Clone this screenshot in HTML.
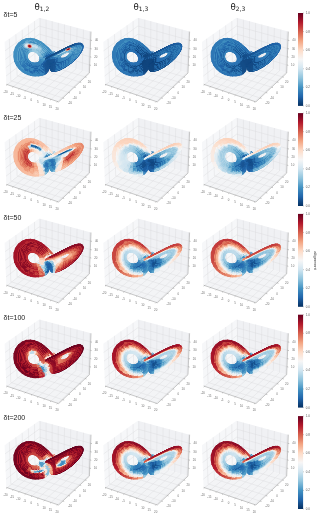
<!DOCTYPE html>
<html><head><meta charset="utf-8"><style>
html,body{margin:0;padding:0;background:#fff;width:320px;height:516px;overflow:hidden}
svg{display:block}
.pf{fill:#f3f4f6}
.pl{fill:#f6f7f9}
.pr{fill:#f0f1f4}
.gr{fill:none;stroke:#d8d9db;stroke-width:.4}
.ax{fill:none;stroke:#888;stroke-width:.45}
.tl text{font:2.9px "Liberation Sans",sans-serif;fill:#707070;text-anchor:middle}
.cbl text{font:2.9px "Liberation Sans",sans-serif;fill:#555}
.cbt{stroke:#333;stroke-width:.3}
.cblab{font:4.3px "Liberation Sans",sans-serif;fill:#333;text-anchor:middle}
.ttl{font:8.6px "DejaVu Sans",sans-serif;fill:#222;text-anchor:middle}
.sub{font-size:6px}
.rl{font:7px "Liberation Sans","DejaVu Sans",sans-serif;fill:#222}
</style></head><body>
<svg width="320" height="516" viewBox="0 0 320 516">
<path class="pf" d="M6.3 84.3L58.6 101.9L89.4 73L39.5 57.9Z"/>
<path class="pl" d="M6.3 84.3L39.5 57.9L39.2 17.7L4.6 42.1Z"/>
<path class="pr" d="M39.5 57.9L89.4 73L91 31.6L39.2 17.7Z"/>
<path class="gr" d="M7.3 84.6L40.4 58.1L40.1 18M13.3 86.7L46.2 59.9L46.1 19.6M19.4 88.7L52 61.7L52.2 21.2M25.6 90.8L57.9 63.5L58.3 22.9M31.9 92.9L63.9 65.3L64.5 24.5M38.2 95.1L69.9 67.1L70.7 26.2M44.6 97.2L76 68.9L77.1 27.9M51 99.4L82.2 70.8L83.5 29.6M57.6 101.6L88.4 72.7L89.9 31.4M62.8 98L10.8 80.7L9.3 38.8M68.6 92.5L17.1 75.7L15.9 34.2M74.3 87.2L23.2 70.8L22.2 29.7M79.8 82L29.2 66.1L28.4 25.3M85.2 76.9L35 61.5L34.5 21.1M6 76.1L39.4 50.1L89.7 65M5.7 67.8L39.4 42.2L90 56.8M5.3 59.4L39.3 34.1L90.3 48.6M5 50.8L39.2 26L90.6 40.2"/>
<path class="ax" d="M6.3 84.3L58.6 101.9M58.6 101.9L89.4 73M89.4 73L91 31.6M7.3 84.6L6.4 85.4M13.3 86.7L12.4 87.4M19.4 88.7L18.6 89.5M25.6 90.8L24.7 91.6M31.9 92.9L31 93.7M38.2 95.1L37.3 95.8M44.6 97.2L43.7 98M51 99.4L50.2 100.1M57.6 101.6L56.7 102.4M62.8 98L64.2 98.4M68.6 92.5L70 92.9M74.3 87.2L75.7 87.6M79.8 82L81.2 82.4M85.2 76.9L86.5 77.3M89.7 65L91 65.4M90 56.8L91.3 57.2M90.3 48.6L91.7 48.9M90.6 40.2L92 40.5"/>
<g class="tl"><text x="5.6" y="92.7">-20</text><text x="12" y="94.8">-15</text><text x="18.4" y="96.9">-10</text><text x="24.9" y="99.1">-5</text><text x="31.3" y="101.2">0</text><text x="37.7" y="103.3">5</text><text x="44.1" y="105.5">10</text><text x="50.6" y="107.6">15</text><text x="57" y="109.8">20</text><text x="70" y="104.2">-20</text><text x="74.8" y="99">-10</text><text x="79.7" y="93.7">0</text><text x="84.6" y="88.4">10</text><text x="89.4" y="83.1">20</text><text x="95.4" y="66.2">10</text><text x="95.8" y="57.9">20</text><text x="96.2" y="49.6">30</text><text x="96.6" y="41.2">40</text></g>
<path class="pf" d="M105 84.3L157.3 101.9L188 73L138.1 57.9Z"/>
<path class="pl" d="M105 84.3L138.1 57.9L137.8 17.7L103.3 42.1Z"/>
<path class="pr" d="M138.1 57.9L188 73L189.6 31.6L137.8 17.7Z"/>
<path class="gr" d="M105.9 84.6L139.1 58.1L138.8 18M112 86.7L144.9 59.9L144.8 19.6M118.1 88.7L150.7 61.7L150.8 21.2M124.3 90.8L156.6 63.5L157 22.9M130.5 92.9L162.6 65.3L163.1 24.5M136.8 95.1L168.6 67.1L169.4 26.2M143.2 97.2L174.7 68.9L175.7 27.9M149.7 99.4L180.8 70.8L182.1 29.6M156.2 101.6L187 72.7L188.6 31.4M161.5 98L109.5 80.7L108 38.8M167.3 92.5L115.7 75.7L114.5 34.2M173 87.2L121.9 70.8L120.9 29.7M178.5 82L127.8 66.1L127.1 25.3M183.9 76.9L133.6 61.5L133.1 21.1M104.6 76.1L138.1 50.1L188.3 65M104.3 67.8L138 42.2L188.7 56.8M104 59.4L138 34.1L189 48.6M103.6 50.8L137.9 26L189.3 40.2"/>
<path class="ax" d="M105 84.3L157.3 101.9M157.3 101.9L188 73M188 73L189.6 31.6M105.9 84.6L105 85.4M112 86.7L111.1 87.4M118.1 88.7L117.2 89.5M124.3 90.8L123.4 91.6M130.5 92.9L129.6 93.7M136.8 95.1L136 95.8M143.2 97.2L142.4 98M149.7 99.4L148.8 100.1M156.2 101.6L155.4 102.4M161.5 98L162.8 98.4M167.3 92.5L168.6 92.9M173 87.2L174.3 87.6M178.5 82L179.8 82.4M183.9 76.9L185.2 77.3M188.3 65L189.7 65.4M188.7 56.8L190 57.2M189 48.6L190.3 48.9M189.3 40.2L190.6 40.5"/>
<g class="tl"><text x="104.2" y="92.7">-20</text><text x="110.7" y="94.8">-15</text><text x="117.1" y="96.9">-10</text><text x="123.5" y="99.1">-5</text><text x="129.9" y="101.2">0</text><text x="136.4" y="103.3">5</text><text x="142.8" y="105.5">10</text><text x="149.2" y="107.6">15</text><text x="155.7" y="109.8">20</text><text x="168.7" y="104.2">-20</text><text x="173.5" y="99">-10</text><text x="178.4" y="93.7">0</text><text x="183.2" y="88.4">10</text><text x="188.1" y="83.1">20</text><text x="194.1" y="66.2">10</text><text x="194.4" y="57.9">20</text><text x="194.9" y="49.6">30</text><text x="195.2" y="41.2">40</text></g>
<path class="pf" d="M203.6 84.3L255.9 101.9L286.7 73L236.8 57.9Z"/>
<path class="pl" d="M203.6 84.3L236.8 57.9L236.5 17.7L201.9 42.1Z"/>
<path class="pr" d="M236.8 57.9L286.7 73L288.3 31.6L236.5 17.7Z"/>
<path class="gr" d="M204.6 84.6L237.7 58.1L237.4 18M210.6 86.7L243.5 59.9L243.4 19.6M216.7 88.7L249.3 61.7L249.5 21.2M222.9 90.8L255.2 63.5L255.6 22.9M229.2 92.9L261.2 65.3L261.8 24.5M235.5 95.1L267.2 67.1L268 26.2M241.9 97.2L273.3 68.9L274.4 27.9M248.3 99.4L279.5 70.8L280.8 29.6M254.9 101.6L285.7 72.7L287.2 31.4M260.1 98L208.1 80.7L206.6 38.8M265.9 92.5L214.4 75.7L213.2 34.2M271.6 87.2L220.5 70.8L219.5 29.7M277.1 82L226.5 66.1L225.7 25.3M282.5 76.9L232.3 61.5L231.8 21.1M203.3 76.1L236.7 50.1L287 65M203 67.8L236.7 42.2L287.3 56.8M202.6 59.4L236.6 34.1L287.6 48.6M202.3 50.8L236.5 26L287.9 40.2"/>
<path class="ax" d="M203.6 84.3L255.9 101.9M255.9 101.9L286.7 73M286.7 73L288.3 31.6M204.6 84.6L203.7 85.4M210.6 86.7L209.7 87.4M216.7 88.7L215.9 89.5M222.9 90.8L222 91.6M229.2 92.9L228.3 93.7M235.5 95.1L234.6 95.8M241.9 97.2L241 98M248.3 99.4L247.5 100.1M254.9 101.6L254 102.4M260.1 98L261.5 98.4M265.9 92.5L267.3 92.9M271.6 87.2L273 87.6M277.1 82L278.5 82.4M282.5 76.9L283.8 77.3M287 65L288.3 65.4M287.3 56.8L288.6 57.2M287.6 48.6L289 48.9M287.9 40.2L289.3 40.5"/>
<g class="tl"><text x="202.9" y="92.7">-20</text><text x="209.3" y="94.8">-15</text><text x="215.8" y="96.9">-10</text><text x="222.2" y="99.1">-5</text><text x="228.6" y="101.2">0</text><text x="235" y="103.3">5</text><text x="241.5" y="105.5">10</text><text x="247.9" y="107.6">15</text><text x="254.3" y="109.8">20</text><text x="267.3" y="104.2">-20</text><text x="272.1" y="99">-10</text><text x="277" y="93.7">0</text><text x="281.9" y="88.4">10</text><text x="286.7" y="83.1">20</text><text x="292.7" y="66.2">10</text><text x="293.1" y="57.9">20</text><text x="293.5" y="49.6">30</text><text x="293.9" y="41.2">40</text></g>
<path class="pf" d="M6.3 184.4L58.6 202L89.4 173.1L39.5 158Z"/>
<path class="pl" d="M6.3 184.4L39.5 158L39.2 117.8L4.6 142.2Z"/>
<path class="pr" d="M39.5 158L89.4 173.1L91 131.7L39.2 117.8Z"/>
<path class="gr" d="M7.3 184.7L40.4 158.2L40.1 118.1M13.3 186.8L46.2 160L46.1 119.7M19.4 188.8L52 161.8L52.2 121.3M25.6 190.9L57.9 163.6L58.3 123M31.9 193L63.9 165.4L64.5 124.6M38.2 195.2L69.9 167.2L70.7 126.3M44.6 197.3L76 169L77.1 128M51 199.5L82.2 170.9L83.5 129.7M57.6 201.7L88.4 172.8L89.9 131.5M62.8 198.1L10.8 180.8L9.3 138.9M68.6 192.6L17.1 175.8L15.9 134.3M74.3 187.3L23.2 170.9L22.2 129.8M79.8 182.1L29.2 166.2L28.4 125.4M85.2 177L35 161.6L34.5 121.2M6 176.2L39.4 150.2L89.7 165.1M5.7 167.9L39.4 142.3L90 156.9M5.3 159.5L39.3 134.2L90.3 148.7M5 150.9L39.2 126.1L90.6 140.3"/>
<path class="ax" d="M6.3 184.4L58.6 202M58.6 202L89.4 173.1M89.4 173.1L91 131.7M7.3 184.7L6.4 185.5M13.3 186.8L12.4 187.5M19.4 188.8L18.6 189.6M25.6 190.9L24.7 191.7M31.9 193L31 193.8M38.2 195.2L37.3 195.9M44.6 197.3L43.7 198.1M51 199.5L50.2 200.2M57.6 201.7L56.7 202.5M62.8 198.1L64.2 198.5M68.6 192.6L70 193M74.3 187.3L75.7 187.7M79.8 182.1L81.2 182.5M85.2 177L86.5 177.4M89.7 165.1L91 165.5M90 156.9L91.3 157.3M90.3 148.7L91.7 149M90.6 140.3L92 140.6"/>
<g class="tl"><text x="5.6" y="192.8">-20</text><text x="12" y="194.9">-15</text><text x="18.4" y="197">-10</text><text x="24.9" y="199.2">-5</text><text x="31.3" y="201.3">0</text><text x="37.7" y="203.4">5</text><text x="44.1" y="205.6">10</text><text x="50.6" y="207.7">15</text><text x="57" y="209.8">20</text><text x="70" y="204.3">-20</text><text x="74.8" y="199.1">-10</text><text x="79.7" y="193.8">0</text><text x="84.6" y="188.4">10</text><text x="89.4" y="183.2">20</text><text x="95.4" y="166.2">10</text><text x="95.8" y="157.9">20</text><text x="96.2" y="149.7">30</text><text x="96.6" y="141.3">40</text></g>
<path class="pf" d="M105 184.4L157.3 202L188 173.1L138.1 158Z"/>
<path class="pl" d="M105 184.4L138.1 158L137.8 117.8L103.3 142.2Z"/>
<path class="pr" d="M138.1 158L188 173.1L189.6 131.7L137.8 117.8Z"/>
<path class="gr" d="M105.9 184.7L139.1 158.2L138.8 118.1M112 186.8L144.9 160L144.8 119.7M118.1 188.8L150.7 161.8L150.8 121.3M124.3 190.9L156.6 163.6L157 123M130.5 193L162.6 165.4L163.1 124.6M136.8 195.2L168.6 167.2L169.4 126.3M143.2 197.3L174.7 169L175.7 128M149.7 199.5L180.8 170.9L182.1 129.7M156.2 201.7L187 172.8L188.6 131.5M161.5 198.1L109.5 180.8L108 138.9M167.3 192.6L115.7 175.8L114.5 134.3M173 187.3L121.9 170.9L120.9 129.8M178.5 182.1L127.8 166.2L127.1 125.4M183.9 177L133.6 161.6L133.1 121.2M104.6 176.2L138.1 150.2L188.3 165.1M104.3 167.9L138 142.3L188.7 156.9M104 159.5L138 134.2L189 148.7M103.6 150.9L137.9 126.1L189.3 140.3"/>
<path class="ax" d="M105 184.4L157.3 202M157.3 202L188 173.1M188 173.1L189.6 131.7M105.9 184.7L105 185.5M112 186.8L111.1 187.5M118.1 188.8L117.2 189.6M124.3 190.9L123.4 191.7M130.5 193L129.6 193.8M136.8 195.2L136 195.9M143.2 197.3L142.4 198.1M149.7 199.5L148.8 200.2M156.2 201.7L155.4 202.5M161.5 198.1L162.8 198.5M167.3 192.6L168.6 193M173 187.3L174.3 187.7M178.5 182.1L179.8 182.5M183.9 177L185.2 177.4M188.3 165.1L189.7 165.5M188.7 156.9L190 157.3M189 148.7L190.3 149M189.3 140.3L190.6 140.6"/>
<g class="tl"><text x="104.2" y="192.8">-20</text><text x="110.7" y="194.9">-15</text><text x="117.1" y="197">-10</text><text x="123.5" y="199.2">-5</text><text x="129.9" y="201.3">0</text><text x="136.4" y="203.4">5</text><text x="142.8" y="205.6">10</text><text x="149.2" y="207.7">15</text><text x="155.7" y="209.8">20</text><text x="168.7" y="204.3">-20</text><text x="173.5" y="199.1">-10</text><text x="178.4" y="193.8">0</text><text x="183.2" y="188.4">10</text><text x="188.1" y="183.2">20</text><text x="194.1" y="166.2">10</text><text x="194.4" y="157.9">20</text><text x="194.9" y="149.7">30</text><text x="195.2" y="141.3">40</text></g>
<path class="pf" d="M203.6 184.4L255.9 202L286.7 173.1L236.8 158Z"/>
<path class="pl" d="M203.6 184.4L236.8 158L236.5 117.8L201.9 142.2Z"/>
<path class="pr" d="M236.8 158L286.7 173.1L288.3 131.7L236.5 117.8Z"/>
<path class="gr" d="M204.6 184.7L237.7 158.2L237.4 118.1M210.6 186.8L243.5 160L243.4 119.7M216.7 188.8L249.3 161.8L249.5 121.3M222.9 190.9L255.2 163.6L255.6 123M229.2 193L261.2 165.4L261.8 124.6M235.5 195.2L267.2 167.2L268 126.3M241.9 197.3L273.3 169L274.4 128M248.3 199.5L279.5 170.9L280.8 129.7M254.9 201.7L285.7 172.8L287.2 131.5M260.1 198.1L208.1 180.8L206.6 138.9M265.9 192.6L214.4 175.8L213.2 134.3M271.6 187.3L220.5 170.9L219.5 129.8M277.1 182.1L226.5 166.2L225.7 125.4M282.5 177L232.3 161.6L231.8 121.2M203.3 176.2L236.7 150.2L287 165.1M203 167.9L236.7 142.3L287.3 156.9M202.6 159.5L236.6 134.2L287.6 148.7M202.3 150.9L236.5 126.1L287.9 140.3"/>
<path class="ax" d="M203.6 184.4L255.9 202M255.9 202L286.7 173.1M286.7 173.1L288.3 131.7M204.6 184.7L203.7 185.5M210.6 186.8L209.7 187.5M216.7 188.8L215.9 189.6M222.9 190.9L222 191.7M229.2 193L228.3 193.8M235.5 195.2L234.6 195.9M241.9 197.3L241 198.1M248.3 199.5L247.5 200.2M254.9 201.7L254 202.5M260.1 198.1L261.5 198.5M265.9 192.6L267.3 193M271.6 187.3L273 187.7M277.1 182.1L278.5 182.5M282.5 177L283.8 177.4M287 165.1L288.3 165.5M287.3 156.9L288.6 157.3M287.6 148.7L289 149M287.9 140.3L289.3 140.6"/>
<g class="tl"><text x="202.9" y="192.8">-20</text><text x="209.3" y="194.9">-15</text><text x="215.8" y="197">-10</text><text x="222.2" y="199.2">-5</text><text x="228.6" y="201.3">0</text><text x="235" y="203.4">5</text><text x="241.5" y="205.6">10</text><text x="247.9" y="207.7">15</text><text x="254.3" y="209.8">20</text><text x="267.3" y="204.3">-20</text><text x="272.1" y="199.1">-10</text><text x="277" y="193.8">0</text><text x="281.9" y="188.4">10</text><text x="286.7" y="183.2">20</text><text x="292.7" y="166.2">10</text><text x="293.1" y="157.9">20</text><text x="293.5" y="149.7">30</text><text x="293.9" y="141.3">40</text></g>
<path class="pf" d="M6.3 285.2L58.6 302.8L89.4 273.9L39.5 258.8Z"/>
<path class="pl" d="M6.3 285.2L39.5 258.8L39.2 218.6L4.6 243Z"/>
<path class="pr" d="M39.5 258.8L89.4 273.9L91 232.5L39.2 218.6Z"/>
<path class="gr" d="M7.3 285.5L40.4 259L40.1 218.9M13.3 287.6L46.2 260.8L46.1 220.5M19.4 289.6L52 262.6L52.2 222.1M25.6 291.7L57.9 264.4L58.3 223.8M31.9 293.8L63.9 266.2L64.5 225.4M38.2 296L69.9 268L70.7 227.1M44.6 298.1L76 269.8L77.1 228.8M51 300.3L82.2 271.7L83.5 230.5M57.6 302.5L88.4 273.6L89.9 232.3M62.8 298.9L10.8 281.6L9.3 239.7M68.6 293.4L17.1 276.6L15.9 235.1M74.3 288.1L23.2 271.7L22.2 230.6M79.8 282.9L29.2 267L28.4 226.2M85.2 277.8L35 262.4L34.5 222M6 277L39.4 251L89.7 265.9M5.7 268.7L39.4 243.1L90 257.7M5.3 260.3L39.3 235L90.3 249.5M5 251.7L39.2 226.9L90.6 241.1"/>
<path class="ax" d="M6.3 285.2L58.6 302.8M58.6 302.8L89.4 273.9M89.4 273.9L91 232.5M7.3 285.5L6.4 286.3M13.3 287.6L12.4 288.3M19.4 289.6L18.6 290.4M25.6 291.7L24.7 292.5M31.9 293.8L31 294.6M38.2 296L37.3 296.7M44.6 298.1L43.7 298.9M51 300.3L50.2 301M57.6 302.5L56.7 303.3M62.8 298.9L64.2 299.3M68.6 293.4L70 293.8M74.3 288.1L75.7 288.5M79.8 282.9L81.2 283.3M85.2 277.8L86.5 278.2M89.7 265.9L91 266.3M90 257.7L91.3 258.1M90.3 249.5L91.7 249.8M90.6 241.1L92 241.4"/>
<g class="tl"><text x="5.6" y="293.6">-20</text><text x="12" y="295.7">-15</text><text x="18.4" y="297.8">-10</text><text x="24.9" y="300">-5</text><text x="31.3" y="302.1">0</text><text x="37.7" y="304.2">5</text><text x="44.1" y="306.4">10</text><text x="50.6" y="308.5">15</text><text x="57" y="310.6">20</text><text x="70" y="305.1">-20</text><text x="74.8" y="299.9">-10</text><text x="79.7" y="294.6">0</text><text x="84.6" y="289.2">10</text><text x="89.4" y="284">20</text><text x="95.4" y="267.1">10</text><text x="95.8" y="258.8">20</text><text x="96.2" y="250.5">30</text><text x="96.6" y="242.2">40</text></g>
<path class="pf" d="M105 285.2L157.3 302.8L188 273.9L138.1 258.8Z"/>
<path class="pl" d="M105 285.2L138.1 258.8L137.8 218.6L103.3 243Z"/>
<path class="pr" d="M138.1 258.8L188 273.9L189.6 232.5L137.8 218.6Z"/>
<path class="gr" d="M105.9 285.5L139.1 259L138.8 218.9M112 287.6L144.9 260.8L144.8 220.5M118.1 289.6L150.7 262.6L150.8 222.1M124.3 291.7L156.6 264.4L157 223.8M130.5 293.8L162.6 266.2L163.1 225.4M136.8 296L168.6 268L169.4 227.1M143.2 298.1L174.7 269.8L175.7 228.8M149.7 300.3L180.8 271.7L182.1 230.5M156.2 302.5L187 273.6L188.6 232.3M161.5 298.9L109.5 281.6L108 239.7M167.3 293.4L115.7 276.6L114.5 235.1M173 288.1L121.9 271.7L120.9 230.6M178.5 282.9L127.8 267L127.1 226.2M183.9 277.8L133.6 262.4L133.1 222M104.6 277L138.1 251L188.3 265.9M104.3 268.7L138 243.1L188.7 257.7M104 260.3L138 235L189 249.5M103.6 251.7L137.9 226.9L189.3 241.1"/>
<path class="ax" d="M105 285.2L157.3 302.8M157.3 302.8L188 273.9M188 273.9L189.6 232.5M105.9 285.5L105 286.3M112 287.6L111.1 288.3M118.1 289.6L117.2 290.4M124.3 291.7L123.4 292.5M130.5 293.8L129.6 294.6M136.8 296L136 296.7M143.2 298.1L142.4 298.9M149.7 300.3L148.8 301M156.2 302.5L155.4 303.3M161.5 298.9L162.8 299.3M167.3 293.4L168.6 293.8M173 288.1L174.3 288.5M178.5 282.9L179.8 283.3M183.9 277.8L185.2 278.2M188.3 265.9L189.7 266.3M188.7 257.7L190 258.1M189 249.5L190.3 249.8M189.3 241.1L190.6 241.4"/>
<g class="tl"><text x="104.2" y="293.6">-20</text><text x="110.7" y="295.7">-15</text><text x="117.1" y="297.8">-10</text><text x="123.5" y="300">-5</text><text x="129.9" y="302.1">0</text><text x="136.4" y="304.2">5</text><text x="142.8" y="306.4">10</text><text x="149.2" y="308.5">15</text><text x="155.7" y="310.6">20</text><text x="168.7" y="305.1">-20</text><text x="173.5" y="299.9">-10</text><text x="178.4" y="294.6">0</text><text x="183.2" y="289.2">10</text><text x="188.1" y="284">20</text><text x="194.1" y="267.1">10</text><text x="194.4" y="258.8">20</text><text x="194.9" y="250.5">30</text><text x="195.2" y="242.2">40</text></g>
<path class="pf" d="M203.6 285.2L255.9 302.8L286.7 273.9L236.8 258.8Z"/>
<path class="pl" d="M203.6 285.2L236.8 258.8L236.5 218.6L201.9 243Z"/>
<path class="pr" d="M236.8 258.8L286.7 273.9L288.3 232.5L236.5 218.6Z"/>
<path class="gr" d="M204.6 285.5L237.7 259L237.4 218.9M210.6 287.6L243.5 260.8L243.4 220.5M216.7 289.6L249.3 262.6L249.5 222.1M222.9 291.7L255.2 264.4L255.6 223.8M229.2 293.8L261.2 266.2L261.8 225.4M235.5 296L267.2 268L268 227.1M241.9 298.1L273.3 269.8L274.4 228.8M248.3 300.3L279.5 271.7L280.8 230.5M254.9 302.5L285.7 273.6L287.2 232.3M260.1 298.9L208.1 281.6L206.6 239.7M265.9 293.4L214.4 276.6L213.2 235.1M271.6 288.1L220.5 271.7L219.5 230.6M277.1 282.9L226.5 267L225.7 226.2M282.5 277.8L232.3 262.4L231.8 222M203.3 277L236.7 251L287 265.9M203 268.7L236.7 243.1L287.3 257.7M202.6 260.3L236.6 235L287.6 249.5M202.3 251.7L236.5 226.9L287.9 241.1"/>
<path class="ax" d="M203.6 285.2L255.9 302.8M255.9 302.8L286.7 273.9M286.7 273.9L288.3 232.5M204.6 285.5L203.7 286.3M210.6 287.6L209.7 288.3M216.7 289.6L215.9 290.4M222.9 291.7L222 292.5M229.2 293.8L228.3 294.6M235.5 296L234.6 296.7M241.9 298.1L241 298.9M248.3 300.3L247.5 301M254.9 302.5L254 303.3M260.1 298.9L261.5 299.3M265.9 293.4L267.3 293.8M271.6 288.1L273 288.5M277.1 282.9L278.5 283.3M282.5 277.8L283.8 278.2M287 265.9L288.3 266.3M287.3 257.7L288.6 258.1M287.6 249.5L289 249.8M287.9 241.1L289.3 241.4"/>
<g class="tl"><text x="202.9" y="293.6">-20</text><text x="209.3" y="295.7">-15</text><text x="215.8" y="297.8">-10</text><text x="222.2" y="300">-5</text><text x="228.6" y="302.1">0</text><text x="235" y="304.2">5</text><text x="241.5" y="306.4">10</text><text x="247.9" y="308.5">15</text><text x="254.3" y="310.6">20</text><text x="267.3" y="305.1">-20</text><text x="272.1" y="299.9">-10</text><text x="277" y="294.6">0</text><text x="281.9" y="289.2">10</text><text x="286.7" y="284">20</text><text x="292.7" y="267.1">10</text><text x="293.1" y="258.8">20</text><text x="293.5" y="250.5">30</text><text x="293.9" y="242.2">40</text></g>
<path class="pf" d="M6.3 386L58.6 403.6L89.4 374.7L39.5 359.6Z"/>
<path class="pl" d="M6.3 386L39.5 359.6L39.2 319.4L4.6 343.8Z"/>
<path class="pr" d="M39.5 359.6L89.4 374.7L91 333.3L39.2 319.4Z"/>
<path class="gr" d="M7.3 386.3L40.4 359.8L40.1 319.7M13.3 388.4L46.2 361.6L46.1 321.3M19.4 390.4L52 363.4L52.2 322.9M25.6 392.5L57.9 365.2L58.3 324.6M31.9 394.6L63.9 367L64.5 326.2M38.2 396.8L69.9 368.8L70.7 327.9M44.6 398.9L76 370.6L77.1 329.6M51 401.1L82.2 372.5L83.5 331.3M57.6 403.3L88.4 374.4L89.9 333.1M62.8 399.7L10.8 382.4L9.3 340.5M68.6 394.2L17.1 377.4L15.9 335.9M74.3 388.9L23.2 372.5L22.2 331.4M79.8 383.7L29.2 367.8L28.4 327M85.2 378.6L35 363.2L34.5 322.8M6 377.8L39.4 351.8L89.7 366.7M5.7 369.5L39.4 343.9L90 358.5M5.3 361.1L39.3 335.8L90.3 350.3M5 352.5L39.2 327.7L90.6 341.9"/>
<path class="ax" d="M6.3 386L58.6 403.6M58.6 403.6L89.4 374.7M89.4 374.7L91 333.3M7.3 386.3L6.4 387.1M13.3 388.4L12.4 389.1M19.4 390.4L18.6 391.2M25.6 392.5L24.7 393.3M31.9 394.6L31 395.4M38.2 396.8L37.3 397.5M44.6 398.9L43.7 399.7M51 401.1L50.2 401.8M57.6 403.3L56.7 404.1M62.8 399.7L64.2 400.1M68.6 394.2L70 394.6M74.3 388.9L75.7 389.3M79.8 383.7L81.2 384.1M85.2 378.6L86.5 379M89.7 366.7L91 367.1M90 358.5L91.3 358.9M90.3 350.3L91.7 350.6M90.6 341.9L92 342.2"/>
<g class="tl"><text x="5.6" y="394.4">-20</text><text x="12" y="396.5">-15</text><text x="18.4" y="398.6">-10</text><text x="24.9" y="400.8">-5</text><text x="31.3" y="402.9">0</text><text x="37.7" y="405">5</text><text x="44.1" y="407.2">10</text><text x="50.6" y="409.3">15</text><text x="57" y="411.4">20</text><text x="70" y="405.9">-20</text><text x="74.8" y="400.6">-10</text><text x="79.7" y="395.4">0</text><text x="84.6" y="390.1">10</text><text x="89.4" y="384.8">20</text><text x="95.4" y="367.9">10</text><text x="95.8" y="359.6">20</text><text x="96.2" y="351.2">30</text><text x="96.6" y="342.9">40</text></g>
<path class="pf" d="M105 386L157.3 403.6L188 374.7L138.1 359.6Z"/>
<path class="pl" d="M105 386L138.1 359.6L137.8 319.4L103.3 343.8Z"/>
<path class="pr" d="M138.1 359.6L188 374.7L189.6 333.3L137.8 319.4Z"/>
<path class="gr" d="M105.9 386.3L139.1 359.8L138.8 319.7M112 388.4L144.9 361.6L144.8 321.3M118.1 390.4L150.7 363.4L150.8 322.9M124.3 392.5L156.6 365.2L157 324.6M130.5 394.6L162.6 367L163.1 326.2M136.8 396.8L168.6 368.8L169.4 327.9M143.2 398.9L174.7 370.6L175.7 329.6M149.7 401.1L180.8 372.5L182.1 331.3M156.2 403.3L187 374.4L188.6 333.1M161.5 399.7L109.5 382.4L108 340.5M167.3 394.2L115.7 377.4L114.5 335.9M173 388.9L121.9 372.5L120.9 331.4M178.5 383.7L127.8 367.8L127.1 327M183.9 378.6L133.6 363.2L133.1 322.8M104.6 377.8L138.1 351.8L188.3 366.7M104.3 369.5L138 343.9L188.7 358.5M104 361.1L138 335.8L189 350.3M103.6 352.5L137.9 327.7L189.3 341.9"/>
<path class="ax" d="M105 386L157.3 403.6M157.3 403.6L188 374.7M188 374.7L189.6 333.3M105.9 386.3L105 387.1M112 388.4L111.1 389.1M118.1 390.4L117.2 391.2M124.3 392.5L123.4 393.3M130.5 394.6L129.6 395.4M136.8 396.8L136 397.5M143.2 398.9L142.4 399.7M149.7 401.1L148.8 401.8M156.2 403.3L155.4 404.1M161.5 399.7L162.8 400.1M167.3 394.2L168.6 394.6M173 388.9L174.3 389.3M178.5 383.7L179.8 384.1M183.9 378.6L185.2 379M188.3 366.7L189.7 367.1M188.7 358.5L190 358.9M189 350.3L190.3 350.6M189.3 341.9L190.6 342.2"/>
<g class="tl"><text x="104.2" y="394.4">-20</text><text x="110.7" y="396.5">-15</text><text x="117.1" y="398.6">-10</text><text x="123.5" y="400.8">-5</text><text x="129.9" y="402.9">0</text><text x="136.4" y="405">5</text><text x="142.8" y="407.2">10</text><text x="149.2" y="409.3">15</text><text x="155.7" y="411.4">20</text><text x="168.7" y="405.9">-20</text><text x="173.5" y="400.6">-10</text><text x="178.4" y="395.4">0</text><text x="183.2" y="390.1">10</text><text x="188.1" y="384.8">20</text><text x="194.1" y="367.9">10</text><text x="194.4" y="359.6">20</text><text x="194.9" y="351.2">30</text><text x="195.2" y="342.9">40</text></g>
<path class="pf" d="M203.6 386L255.9 403.6L286.7 374.7L236.8 359.6Z"/>
<path class="pl" d="M203.6 386L236.8 359.6L236.5 319.4L201.9 343.8Z"/>
<path class="pr" d="M236.8 359.6L286.7 374.7L288.3 333.3L236.5 319.4Z"/>
<path class="gr" d="M204.6 386.3L237.7 359.8L237.4 319.7M210.6 388.4L243.5 361.6L243.4 321.3M216.7 390.4L249.3 363.4L249.5 322.9M222.9 392.5L255.2 365.2L255.6 324.6M229.2 394.6L261.2 367L261.8 326.2M235.5 396.8L267.2 368.8L268 327.9M241.9 398.9L273.3 370.6L274.4 329.6M248.3 401.1L279.5 372.5L280.8 331.3M254.9 403.3L285.7 374.4L287.2 333.1M260.1 399.7L208.1 382.4L206.6 340.5M265.9 394.2L214.4 377.4L213.2 335.9M271.6 388.9L220.5 372.5L219.5 331.4M277.1 383.7L226.5 367.8L225.7 327M282.5 378.6L232.3 363.2L231.8 322.8M203.3 377.8L236.7 351.8L287 366.7M203 369.5L236.7 343.9L287.3 358.5M202.6 361.1L236.6 335.8L287.6 350.3M202.3 352.5L236.5 327.7L287.9 341.9"/>
<path class="ax" d="M203.6 386L255.9 403.6M255.9 403.6L286.7 374.7M286.7 374.7L288.3 333.3M204.6 386.3L203.7 387.1M210.6 388.4L209.7 389.1M216.7 390.4L215.9 391.2M222.9 392.5L222 393.3M229.2 394.6L228.3 395.4M235.5 396.8L234.6 397.5M241.9 398.9L241 399.7M248.3 401.1L247.5 401.8M254.9 403.3L254 404.1M260.1 399.7L261.5 400.1M265.9 394.2L267.3 394.6M271.6 388.9L273 389.3M277.1 383.7L278.5 384.1M282.5 378.6L283.8 379M287 366.7L288.3 367.1M287.3 358.5L288.6 358.9M287.6 350.3L289 350.6M287.9 341.9L289.3 342.2"/>
<g class="tl"><text x="202.9" y="394.4">-20</text><text x="209.3" y="396.5">-15</text><text x="215.8" y="398.6">-10</text><text x="222.2" y="400.8">-5</text><text x="228.6" y="402.9">0</text><text x="235" y="405">5</text><text x="241.5" y="407.2">10</text><text x="247.9" y="409.3">15</text><text x="254.3" y="411.4">20</text><text x="267.3" y="405.9">-20</text><text x="272.1" y="400.6">-10</text><text x="277" y="395.4">0</text><text x="281.9" y="390.1">10</text><text x="286.7" y="384.8">20</text><text x="292.7" y="367.9">10</text><text x="293.1" y="359.6">20</text><text x="293.5" y="351.2">30</text><text x="293.9" y="342.9">40</text></g>
<path class="pf" d="M6.3 487.4L58.6 505L89.4 476.1L39.5 461Z"/>
<path class="pl" d="M6.3 487.4L39.5 461L39.2 420.8L4.6 445.2Z"/>
<path class="pr" d="M39.5 461L89.4 476.1L91 434.7L39.2 420.8Z"/>
<path class="gr" d="M7.3 487.7L40.4 461.2L40.1 421.1M13.3 489.8L46.2 463L46.1 422.7M19.4 491.8L52 464.8L52.2 424.3M25.6 493.9L57.9 466.6L58.3 426M31.9 496L63.9 468.4L64.5 427.6M38.2 498.2L69.9 470.2L70.7 429.3M44.6 500.3L76 472L77.1 431M51 502.5L82.2 473.9L83.5 432.7M57.6 504.7L88.4 475.8L89.9 434.5M62.8 501.1L10.8 483.8L9.3 441.9M68.6 495.6L17.1 478.8L15.9 437.3M74.3 490.3L23.2 473.9L22.2 432.8M79.8 485.1L29.2 469.2L28.4 428.4M85.2 480L35 464.6L34.5 424.2M6 479.2L39.4 453.2L89.7 468.1M5.7 470.9L39.4 445.3L90 459.9M5.3 462.5L39.3 437.2L90.3 451.7M5 453.9L39.2 429.1L90.6 443.3"/>
<path class="ax" d="M6.3 487.4L58.6 505M58.6 505L89.4 476.1M89.4 476.1L91 434.7M7.3 487.7L6.4 488.5M13.3 489.8L12.4 490.5M19.4 491.8L18.6 492.6M25.6 493.9L24.7 494.7M31.9 496L31 496.8M38.2 498.2L37.3 498.9M44.6 500.3L43.7 501.1M51 502.5L50.2 503.2M57.6 504.7L56.7 505.5M62.8 501.1L64.2 501.5M68.6 495.6L70 496M74.3 490.3L75.7 490.7M79.8 485.1L81.2 485.5M85.2 480L86.5 480.4M89.7 468.1L91 468.5M90 459.9L91.3 460.3M90.3 451.7L91.7 452M90.6 443.3L92 443.6"/>
<g class="tl"><text x="5.6" y="495.8">-20</text><text x="12" y="497.9">-15</text><text x="18.4" y="500">-10</text><text x="24.9" y="502.2">-5</text><text x="31.3" y="504.3">0</text><text x="37.7" y="506.4">5</text><text x="44.1" y="508.6">10</text><text x="50.6" y="510.7">15</text><text x="57" y="512.9">20</text><text x="70" y="507.4">-20</text><text x="74.8" y="502.1">-10</text><text x="79.7" y="496.8">0</text><text x="84.6" y="491.5">10</text><text x="89.4" y="486.2">20</text><text x="95.4" y="469.2">10</text><text x="95.8" y="461">20</text><text x="96.2" y="452.7">30</text><text x="96.6" y="444.4">40</text></g>
<path class="pf" d="M105 487.4L157.3 505L188 476.1L138.1 461Z"/>
<path class="pl" d="M105 487.4L138.1 461L137.8 420.8L103.3 445.2Z"/>
<path class="pr" d="M138.1 461L188 476.1L189.6 434.7L137.8 420.8Z"/>
<path class="gr" d="M105.9 487.7L139.1 461.2L138.8 421.1M112 489.8L144.9 463L144.8 422.7M118.1 491.8L150.7 464.8L150.8 424.3M124.3 493.9L156.6 466.6L157 426M130.5 496L162.6 468.4L163.1 427.6M136.8 498.2L168.6 470.2L169.4 429.3M143.2 500.3L174.7 472L175.7 431M149.7 502.5L180.8 473.9L182.1 432.7M156.2 504.7L187 475.8L188.6 434.5M161.5 501.1L109.5 483.8L108 441.9M167.3 495.6L115.7 478.8L114.5 437.3M173 490.3L121.9 473.9L120.9 432.8M178.5 485.1L127.8 469.2L127.1 428.4M183.9 480L133.6 464.6L133.1 424.2M104.6 479.2L138.1 453.2L188.3 468.1M104.3 470.9L138 445.3L188.7 459.9M104 462.5L138 437.2L189 451.7M103.6 453.9L137.9 429.1L189.3 443.3"/>
<path class="ax" d="M105 487.4L157.3 505M157.3 505L188 476.1M188 476.1L189.6 434.7M105.9 487.7L105 488.5M112 489.8L111.1 490.5M118.1 491.8L117.2 492.6M124.3 493.9L123.4 494.7M130.5 496L129.6 496.8M136.8 498.2L136 498.9M143.2 500.3L142.4 501.1M149.7 502.5L148.8 503.2M156.2 504.7L155.4 505.5M161.5 501.1L162.8 501.5M167.3 495.6L168.6 496M173 490.3L174.3 490.7M178.5 485.1L179.8 485.5M183.9 480L185.2 480.4M188.3 468.1L189.7 468.5M188.7 459.9L190 460.3M189 451.7L190.3 452M189.3 443.3L190.6 443.6"/>
<g class="tl"><text x="104.2" y="495.8">-20</text><text x="110.7" y="497.9">-15</text><text x="117.1" y="500">-10</text><text x="123.5" y="502.2">-5</text><text x="129.9" y="504.3">0</text><text x="136.4" y="506.4">5</text><text x="142.8" y="508.6">10</text><text x="149.2" y="510.7">15</text><text x="155.7" y="512.9">20</text><text x="168.7" y="507.4">-20</text><text x="173.5" y="502.1">-10</text><text x="178.4" y="496.8">0</text><text x="183.2" y="491.5">10</text><text x="188.1" y="486.2">20</text><text x="194.1" y="469.2">10</text><text x="194.4" y="461">20</text><text x="194.9" y="452.7">30</text><text x="195.2" y="444.4">40</text></g>
<path class="pf" d="M203.6 487.4L255.9 505L286.7 476.1L236.8 461Z"/>
<path class="pl" d="M203.6 487.4L236.8 461L236.5 420.8L201.9 445.2Z"/>
<path class="pr" d="M236.8 461L286.7 476.1L288.3 434.7L236.5 420.8Z"/>
<path class="gr" d="M204.6 487.7L237.7 461.2L237.4 421.1M210.6 489.8L243.5 463L243.4 422.7M216.7 491.8L249.3 464.8L249.5 424.3M222.9 493.9L255.2 466.6L255.6 426M229.2 496L261.2 468.4L261.8 427.6M235.5 498.2L267.2 470.2L268 429.3M241.9 500.3L273.3 472L274.4 431M248.3 502.5L279.5 473.9L280.8 432.7M254.9 504.7L285.7 475.8L287.2 434.5M260.1 501.1L208.1 483.8L206.6 441.9M265.9 495.6L214.4 478.8L213.2 437.3M271.6 490.3L220.5 473.9L219.5 432.8M277.1 485.1L226.5 469.2L225.7 428.4M282.5 480L232.3 464.6L231.8 424.2M203.3 479.2L236.7 453.2L287 468.1M203 470.9L236.7 445.3L287.3 459.9M202.6 462.5L236.6 437.2L287.6 451.7M202.3 453.9L236.5 429.1L287.9 443.3"/>
<path class="ax" d="M203.6 487.4L255.9 505M255.9 505L286.7 476.1M286.7 476.1L288.3 434.7M204.6 487.7L203.7 488.5M210.6 489.8L209.7 490.5M216.7 491.8L215.9 492.6M222.9 493.9L222 494.7M229.2 496L228.3 496.8M235.5 498.2L234.6 498.9M241.9 500.3L241 501.1M248.3 502.5L247.5 503.2M254.9 504.7L254 505.5M260.1 501.1L261.5 501.5M265.9 495.6L267.3 496M271.6 490.3L273 490.7M277.1 485.1L278.5 485.5M282.5 480L283.8 480.4M287 468.1L288.3 468.5M287.3 459.9L288.6 460.3M287.6 451.7L289 452M287.9 443.3L289.3 443.6"/>
<g class="tl"><text x="202.9" y="495.8">-20</text><text x="209.3" y="497.9">-15</text><text x="215.8" y="500">-10</text><text x="222.2" y="502.2">-5</text><text x="228.6" y="504.3">0</text><text x="235" y="506.4">5</text><text x="241.5" y="508.6">10</text><text x="247.9" y="510.7">15</text><text x="254.3" y="512.9">20</text><text x="267.3" y="507.4">-20</text><text x="272.1" y="502.1">-10</text><text x="277" y="496.8">0</text><text x="281.9" y="491.5">10</text><text x="286.7" y="486.2">20</text><text x="292.7" y="469.2">10</text><text x="293.1" y="461">20</text><text x="293.5" y="452.7">30</text><text x="293.9" y="444.4">40</text></g>
<defs><g id="A" transform="scale(.1)" fill="none" stroke-width="10" stroke-linecap="round" stroke-linejoin="round"><path stroke="var(--ke)" d="M651 663l47-33m-43 32l48-34m-53 35l47-32m-44 38l49-35m-62 33l21-13m23-16l25-19m-64 51l47-32m-39 28l49-34m-49 30l47-33m-62 49l46-31 26-20m-55 38l48-35m-63 38l45-30 24-19m-62 51l48-33m-52 32l46-31m-47 28l45-30"/><path stroke="var(--k0)" d="M698 630l25-21 25-25m-45 44l26-23 25-26m-57 52l25-22 26-24m-46 49l27-23 27-26m-64 53l52-45m-42 39l26-23 26-26m-54 46l26-22 25-25m-41 45l27-24 27-28m-61 55l27-23 26-26m-47 38l25-23m-37 31l25-21m-27 31l26-21 27-26m-59 48l51-44m-53 42l50-42"/><path stroke="var(--kd)" d="M650 654l44-30m-44 30l43-30m-41 31l45-31m-57 42l44-29 24-19m-61 41l45-30m-39 26l46-32m-55 38l44-29m-27 22l23-16m-44 29l44-29 24-19m-65 38l42-28m-36 24l43-29m-41 35l46-32m-16 4l22-18m-55 42l43-29"/><path stroke="var(--ks)" d="M595 691l56-28m-53 30l36-18 21-13m-60 30l55-29m-55 37l58-31m-65 23l15-6m18-9l19-10m-52 24l15-6m-13 13l55-28m-49 27l57-31m-56 26l56-30m-69 42l54-26m-41 18l58-31m-67 27l15-6m18-8l19-10m-49 31l56-29m-57 25l53-26m-53 23l15-7m18-8l19-11"/><path stroke="var(--jz)" d="M694 624l47-42m-48 42l47-42m-56 48l22-18m-9 12l48-44m-37 38l25-22m-41 33l48-43m-41 37l47-44m-48 38l45-42m-55 57l48-42m-27 29l25-23m-26 23l25-23m-48 33l46-39m-39 34l23-19m7 1l24-24m-25 13l22-22m-52 53l46-42m-17 12l22-22"/><path stroke="var(--kr)" d="M597 681l53-27m-53 27l53-27m-58 26l14-6m17-7l19-10m-44 26l54-28m-63 35l51-24m-46 19l53-26m-48 24l54-28m-61 31l52-25m-41 25l18-9m-18 8l37-18m-48 14l15-6m17-8l19-10m-46 22l52-26m-46 33l18-8m-11-7l17-8m-30 23l54-27m-56 22l53-26m-43 30l18-8"/><path stroke="var(--kc)" d="M639 653l40-26 21-16m-58 46l42-27m-37 18l41-28m-53 39l41-25 22-17m-51 32l42-28m-25 16l21-15m-43 29l40-26m-29 19l41-29m-55 37l39-25 22-17m-57 41l41-26m-38 28l42-28m-49 32l42-26m-44 26l40-25 22-17m-63 41l40-25 22-16"/><path stroke="var(--jm)" d="M748 584l24-27 20-29m-38 51l24-28m-30 34l23-28 20-28m-58 67l24-26m-17 16l23-25m-7 24l25-30m-47 41l24-25m-25 25l24-25m-13 22l25-28 22-30m-37 48l24-29m-27 28l23-28m-10 21l23-30m-31 36l24-29m-46 44l24-25 22-28m-32 47l25-28 21-30m-54 62l24-27 22-29m-49 56l24-26 21-28"/><path stroke="var(--jy)" d="M700 611l22-19m-16 20l23-21m-41 29l43-38m-51 43l22-17m-13 13l43-39m-47 40l43-37m-46 40l43-37m-31 27l43-40m-37 35l21-19m-6 14l23-22m-54 42l43-37m-39 37l45-39m-50 37l43-37m-36 31l21-18m-8 14l23-20m-27 22l22-20m-23 20l22-19m-32 21l21-17"/><path stroke="var(--kb)" d="M636 649l38-24 20-15m-60 38l38-22 20-15m-53 39l39-25m-28 16l40-27m-41 26l39-26m-47 36l39-25m-35 24l19-12m-19 4l18-11m-26 18l38-24 20-15m-32 23l19-14m-39 31l40-26m-33 21l40-27m-15 5l20-15m-47 35l39-26m-44 28l39-25m-34 25l40-27"/><path stroke="var(--kq)" d="M591 674l14-5m16-7l18-9m-33 21l17-7m-11-2l35-17m-45 27l33-16m-38 14l50-24m-51 23l31-14m-20 17l17-8m-31 6l15-6m16-7l18-9m-25 12l36-19m-62 29l15-5m15-7l18-9m-45 22l49-23m-48 26l15-6m17-8l19-10m-37 13l16-8m-35 22l49-23m-50 21l48-21m-48 20l47-21"/><path stroke="var(--l6)" d="M568 701l13-4m-49 13l26-4 40-13m-51 13l10-2m11-3l12-4m-43 20l30-7 28-10m-59 12l28-5 26-9m-52 15l30-6 28-10m-57 10l19-3m11-3l28-9m-65 25l27-5 25-8m-53 9l26-4 40-13m-61 18l28-6 27-9m-47 8l20-4 26-8"/><path stroke="var(--jx)" d="M694 610l41-38m-43 39l40-37m-54 51l42-35m-30 24l41-37m-43 37l40-36m-26 30l21-19m-40 27l20-16m-20 17l40-35m-28 27l21-18m-34 27l41-35m-12 16l21-20m-37 28l21-18m-29 27l41-36m-46 39l41-35m-14 16l21-20"/><path stroke="var(--jl)" d="M741 582l21-25 19-26m-41 51l22-24 18-26m-51 59l22-24 20-25m-26 38l22-25m-10 15l21-27m-15 18l19-27m-36 45l22-26m-32 37l23-25 20-27m-21 33l21-28m-22 28l21-27m-47 46l22-24 20-25m-14 17l18-25m-50 55l21-23m-15 21l21-24m-8 20l22-26m-42 37l22-23m-11 14l22-24 19-26"/><path stroke="var(--ka)" d="M638 645l37-23 20-15m-57 38l37-23m-32 18l37-24m-41 25l36-22m-30 21l38-24m-32 20l38-26m-26 20l20-13m-44 26l37-23m-32 23l19-11m-16 3l37-24m-39 27l38-24m-45 30l38-23m-38 24l37-23m-30 15l38-24m-22 14l18-13"/><path stroke="var(--kp)" d="M591 668l45-19m-18 7l16-8m-29 21l16-7m-24 9l15-6m-20 6l47-21m-38 15l49-24m-35 16l34-17m-56 32l48-22m-14 8l18-9m-54 18l14-4m15-7l17-8m-29 19l16-7m-13-1l33-16m-42 26l15-6m-11 5l15-7m-26 10l14-5m16-8l18-9m-43 19l50-24m-51 21l49-23m-37 18l32-16m-44 24l49-24"/><path stroke="var(--jw)" d="M678 614l18-15m-1 8l20-18m-40 33l41-33m-31 19l19-15m-24 23l40-33m-32 25l38-34m-51 45l39-32m-11 13l20-18m-34 28l39-35m-52 45l39-32m-25 18l19-16m-25 21l38-33m-39 36l38-34m-43 34l19-15m-21 22l40-32m-33 24l38-33m-42 34l39-32"/><path stroke="var(--l5)" d="M532 707l15-1 21-5m13-4l14-6m-45 5l10-1m11-3l13-4m-52 19l15-1m10-2l11-3m12-4l15-5m-59 10l27-4 26-8m-41 8l20-4 26-9m-43 11l10-1m11-3l12-4m-37 9l19-3 26-8m-56 17l27-3 25-8m-52 10l27-3 25-8m-56 17l7-1m19-3l11-3m-33 3l27-4 25-8m-39 8l21-4 27-10m-61 22l8-1m-7-3l27-4 26-8"/><path stroke="var(--k9)" d="M663 621l18-12m-39 28l36-23m-29 19l36-25m-47 32l35-22m-30 18l35-23m-27 20l37-25m-51 30l35-21 18-14m-56 37l34-20 19-14m-42 28l36-23m-24 15l18-12m-40 27l36-21 19-14m-45 29l36-24m-39 25l36-22m-26 15l36-24m-45 33l18-11"/><path stroke="var(--ko)" d="M593 664l45-19m-45 19l45-19m-35 17l15-6m-21 5l46-21m-42 23l14-6m8-8l16-8m-41 21l47-22m-28 13l34-17m-53 27l47-22m-40 22l15-7m-26 6l13-4m16-7l16-8m-42 21l14-5m4-8l15-7m-17 10l32-16m-52 26l45-20m-45 20l45-19m-25 8l32-16m-49 28l15-5m1-7l15-7"/><path stroke="var(--jk)" d="M722 592l21-22 19-23m-31 35l20-22 17-23m-25 38l20-24m-40 38l21-21m-12 14l21-22 17-24m-42 49l21-22 18-24m-42 49l21-22 18-23m-27 32l19-22m-35 38l21-21 19-23m-23 36l21-25m-11 7l19-24m-13 21l19-24m-47 48l21-22 18-23m-13 16l16-23m-20 36l20-24m-25 27l20-24m-21 25l20-24"/><path stroke="var(--l4)" d="M542 694l29-5 26-8m-55 12l29-4 26-8m-49 9l19-3 25-7m-50 17l8-1m10-1l11-3m13-4l14-5m-58 15l8 0m-6-1l9-1m10-1l11-3m12-4l15-5m-45 4l21-3 27-9m-63 23l8-1m-7-6l27-3 25-7m-41 9l20-3 26-8m-47 9l20-3 25-8m-62 24l16-1m-2-11l19-3 24-6m-35 6l21-4m-34 11l28-4 25-8"/><path stroke="var(--jv)" d="M681 609l37-32m-22 22l19-16m-11 10l19-18m-50 43l38-31m-33 26l38-31m-36 24l35-30m-43 39l36-29m-18 17l19-16m-22 19l37-33m-43 38l37-32m-43 35l37-30m-29 20l35-30m-9 16l18-18m-46 39l37-32m-21 20l18-17m-27 23l37-34"/><path stroke="var(--kn)" d="M598 656l44-19m-39 17l46-21m-55 25l44-18m-40 15l45-19m-39 19l47-22m-30 13l16-8m-43 22l29-11m-20 10l14-6m1-6l16-7m-20 9l31-15m-38 24l16-7m-18 4l30-14m-34 16l14-6m15-7l17-9m-33 15l31-15m-46 24l14-5m-15 2l44-20m-43 22l14-5m-15 5l14-5m15-7l16-8"/><path stroke="var(--k8)" d="M646 632l17-11m-21 9l33-21m-30 19l34-21m-37 23l34-21m-22 13l17-11m-25 18l34-23m-42 30l34-21m-25 11l34-22m-23 16l17-11m-27 18l34-23m-42 32l17-10m-9 1l35-23m-40 24l16-9m-23 15l33-20 18-13m-43 28l34-22m-25 16l17-11m-35 27l17-10"/><path stroke="var(--jj)" d="M735 572l18-21m-37 38l19-20m-3 5l18-21m-30 37l21-21 18-22m-28 30l19-21m-3 1l15-22m-18 33l18-23m-21 16l16-21m-34 42l19-20 16-22m-42 51l20-20 18-21m-31 33l19-20 17-22m-27 38l20-22m-36 32l19-20m-19 20l19-19m-7 10l19-22 16-22m-40 48l19-21 17-21m-29 38l20-22 17-22"/><path stroke="var(--ju)" d="M675 609l35-29m-31 27l35-30m-38 32l35-29m-23 18l18-14m-31 24l35-29m-29 25l34-29m-40 34l35-29m-28 24l35-30m-41 33l35-28m-24 22l17-15m-26 21l35-29m-43 34l35-27"/><path stroke="var(--l3)" d="M549 682l18-2 24-6m-51 16l8 0m5-9l19-2 25-8m-51 17l8-1m5-7l34-8m-49 11l28-3 25-7m-45 8l19-2 25-7m-46 9l19-2 24-6m-37 8l20-4 26-8m-44 12l33-8m-48 18l8-1m-9-7l27-2 25-7m-52 14l8 0m1-8l19-2 25-7m-21 5l12-3m-47 16l8 0m0-3l8 0m21-4l13-4m-42 7l18-2 24-6"/><path stroke="var(--j8)" d="M792 528l14-28m-28 51l19-29m-6 7l15-28m-28 42l17-27m-13 18l15-27m-16 48l21-31 14-30m-37 49l17-28m-18 29l17-28m-4 19l16-29m-29 48l21-30 14-29m-39 59l20-29m-7 20l20-31m-27 38l20-30m-20 21l17-28m-3 17l16-30m-24 36l17-29m-21 31l17-28"/><path stroke="var(--km)" d="M602 652l44-20m-33 11l29-13m-40 17l43-19m-45 20l42-18m-40 18l44-19m-51 24l43-17m-44 20l27-10m10-11l16-9m-43 27l14-6m-5-4l14-6m-27 17l14-5m4-8l30-14m-51 27l43-18m-36 11l44-20m-48 28l14-5m-6-4l28-12m-34 13l42-18m-38 22l29-12"/><path stroke="var(--k7)" d="M645 622l31-20m-38 28l32-20m-32 21l16-9m-12 6l33-20m-32 15l31-20m-34 24l32-20m-26 16l32-21m-36 27l16-9m-14 1l31-19m-35 24l32-20m-31 22l32-20m-35 20l32-19m-27 17l33-21m-36 20l32-19m-13 13l17-12m-39 25l16-9m-7-2l32-21m-41 27l31-18"/><path stroke="var(--ji)" d="M733 564l16-19m-34 44l37-40m-17 20l17-21m-32 35l18-19 17-21m-27 35l19-21m-33 30l35-39m-26 34l18-21m-13 14l18-21m-31 34l37-40m-30 30l18-20 15-20m-34 42l19-19 15-21m-20 29l17-21m-17 22l17-21m-31 31l18-20 16-20m-37 42l34-39"/><path stroke="var(--j7)" d="M771 542l15-25m-19 38l18-27m-17 25l18-27m-7 12l15-27m-21 30l15-26m-20 41l19-28m-19 18l15-26m-20 29l16-24m-17 25l16-24"/><path stroke="var(--l2)" d="M550 675l18-2 23-5m-31 3l10-2m-12 3l20-2 25-8m-58 19l8 0m-3-3l18-1 24-6m-36 4l20-3 25-7m-44 7l19-2 25-7m-51 17l9 0m-15 1l8 0m12-10l21-4m-26 7l32-7m-28 5l34-8m-50 17l9 0m-7 0l9 0m-14-1l7 0m-4-1l27-3m12-3l14-5m-40 3l10-1m-15 4l20-2 24-7m-36 8l33-8m-50 13l28-3 25-7"/><path stroke="var(--jt)" d="M676 602l32-27m-38 35l34-27m-33 28l17-13m-14 5l33-27m-28 23l16-13m-23 21l33-27m-27 22l33-28m-36 28l16-13m-19 17l33-26m-32 28l34-28m-37 29l33-27m-27 23l34-28m-38 29l33-26m-27 20l32-27m-42 36l33-26"/><path stroke="var(--jh)" d="M718 577l16-18m-19 24l18-19m-10 11l17-19m-29 31l35-38m-30 33l33-38m-23 30l17-20m-34 33l34-37m-19 23l17-19m-23 25l17-18m-5 5l15-19m-18 25l17-20m-26 27l18-18m-21 21l34-38m-24 27l16-18"/><path stroke="var(--kl)" d="M600 648l13-5m-16 3l41-16m-41 18l41-17m-38 15l42-18m-38 18l27-11m-31 8l40-16m-23 9l29-13m-46 24l13-4m14-6l15-8m-37 17l13-5m-5-3l13-5m-26 12l41-17m-43 16l40-16m-36 15l41-17m-42 21l42-19m-47 20l41-16"/><path stroke="var(--p2)" d="M515 704l17 3m-21-1l21 4m-17-6l17 3m-13-8l17 3m-9-5l6 1m-20 18l24 1m-19-16l18 2m-17-3l17 2m-23 8l23 2m-26-1l14 3 14-1m-22-8l16 3m-22 7l22 2m-22-7l21 3m-13-11l18 2m-14-5l11 2m-20 11l23 2m-23-9l23 3m-17-6l18 2"/><path stroke="var(--l1)" d="M560 670l33-6m-23 5l23-5m-29 4l33-7m-28 3l22-4m-29 6l32-6m-38 10l18-2 24-6m-39 6l19-2 25-7m-48 12l9 0m21-4l13-4m-48 11l9 0m3-5l32-7m-40 11l9-1m4-8l21-3m-23 6l34-8m-38 11l32-6m-23 6l23-6m-27 2l33-8m-45 15l9 0m2-8l10-2m11-2l12-3"/><path stroke="var(--k6)" d="M641 620l30-19m-24 18l32-20m-17 8l15-10m-31 22l30-19m-21 13l15-10m-37 24l46-28m-43 25l45-29m-44 29l30-17m-26 16l30-19m-27 17l31-20m-22 13l15-10m-27 15l15-8m-23 15l46-28m-44 26l45-28"/><path stroke="var(--l0)" d="M575 661l23-5m-29 6l34-8m-31 9l22-5m-19 3l23-6m-7 5l13-5m-32 5l22-4m-24 5l34-8m-27 7l23-6m-26 5l23-5m-27 9l35-8m-17 6l13-4m-24 4l23-6m-25 6l23-5m-27 4l22-4m-18 7l11-2"/><path stroke="var(--li)" d="M535 693l7 1m-7-1l7 0m-7 4l7 0m-9 1l7 0m-5-1l7 0m-10 1l7 0m-6-7l7 0m-5-1l8 1m-9 1l8 1"/><path stroke="var(--jg)" d="M710 580l16-17m-12 14l16-17m-19 20l16-17m-12 13l17-17m-24 27l33-36m-26 25l16-18m-21 23l16-17m-9 11l16-18m-21 28l18-18m-12 8l16-18m-30 30l33-34m-24 26l16-18m-24 25l17-17"/><path stroke="var(--j6)" d="M762 547l15-24m-14 28l17-25m-24 27l17-24m-12 18l15-24"/><path stroke="var(--kk)" d="M604 639l41-17m-38 15l40-18m-16 8l15-8m-43 21l40-17m-36 15l26-11m-23 9l27-12m-33 17l13-5m-4-1l28-12m-25 10l28-12m-40 17l40-17m-44 22l13-5m13-5l14-7m-40 15l40-16m-33 12l26-11m-27 12l40-17m-49 21l40-15"/><path stroke="var(--js)" d="M671 601l31-24m-23 22l31-27m-33 25l16-12m-17 15l32-27m-38 30l31-25m-6 8l16-15m-30 24l16-12m-30 24l32-25m-28 22l32-26m-28 23l31-26m-15 14l16-14m-39 29l31-24m-13 10l15-13m-22 21l32-27m-31 25l15-13"/><path stroke="var(--kz)" d="M578 658l24-6m-14-1l12-3m-10 2l12-3m-14 4l12-3m-14 2l11-2m-17 5l22-5m-18 8l11-3m-13-1l23-6m-24 7l23-6m-20 6l24-7m-18 5l12-4m-17 4l11-3m-3 8l13-5"/><path stroke="var(--jf)" d="M704 583l17-16m-15 17l16-17m-12 12l16-16m-21 17l16-16m-16 16l16-16m-14 16l16-16m-20 18l16-15m-9 10l15-16m-20 19l15-16m-9 15l16-17"/><path stroke="var(--je)" d="M701 583l15-15"/><path stroke="var(--or)" d="M506 714l7 2m-4-8l4 2m-6-1l3 2m-6 1l6 3m-1-4l4 1"/><path stroke="var(--lh)" d="M541 682l8 0m-16 7l7 1m-2-2l8 0m-3-7l7 0m-15 7l7 0m-9 0l6 1m0-3l8 0m-8-1l8 0"/><path stroke="var(--j5)" d="M753 551l15-22m-18 24l15-22m-15 25l16-23"/><path stroke="var(--k5)" d="M646 614l29-19m-42 29l29-17m-29 13l42-25m-33 20l28-18m-30 22l29-18m-29 20l15-8m-11 1l28-18m-32 24l29-18m-17 8l14-9m-25 16l29-18m-32 23l15-8m-10 5l30-19m-29 14l29-18m-17 15l15-10m-28 14l29-18m-37 22l43-26"/><path stroke="var(--p5)" d="M529 693l6 0m-6-1l6 1m-12 2l12 2m-14-1l6 1m-4-2l12 2m-9 0l6 1m-4-7l6 1"/><path stroke="var(--jr)" d="M669 601l15-11m-15 12l31-24m-34 23l15-11m-11 9l15-11m-12 12l15-12m-17 13l15-11m-14 7l15-11"/><path stroke="var(--kj)" d="M615 632l26-12m-21 9l13-5m-28 12l26-9m-5-2l14-6m-27 14l27-12m-30 14l26-11m-10 2l14-6m-28 14l26-12m-22 9l27-12m-29 12l27-12m-11 3l13-7m-22 15l14-6"/><path stroke="var(--ky)" d="M586 649l11-3m-8 3l11-3m-8 3l12-3m-11-2l11-3m-16 9l12-3m-12 1l12-3m-10 1l12-3m-13 7l12-3"/><path stroke="var(--lg)" d="M542 680l8 0m-8 1l7 0"/><path stroke="var(--k4)" d="M638 618l14-8"/><path stroke="var(--l2)" d="M548 675l8 0m-9-1l8 0"/><path stroke="var(--js)" d="M693 585l14-14m-19 17l15-13"/><path stroke="var(--kk)" d="M599 639l11-3m-9 3l12-4m-9 3l12-5"/><path stroke="var(--p2)" d="M511 702l4 2m-4-1l4 1m-4 0l5 1m-2-5l4 2m-4-1l5 1"/><path stroke="var(--l1)" d="M552 671l8-1m-8 1l8 0m-10 1l8 0m2-7l9-1m-20 8l8 0m4-8l9-1m-12 2l9-1m-15 7l9-1m-9 1l8 0"/><path stroke="var(--lh)" d="M535 681l6 1m-3-2l7 1m-8 2l7 0m-8-3l7 1m-7 2l6 0m-9 2l6 1m-6-2l6 1"/><path stroke="var(--jh)" d="M734 559l15-19m-17 19l13-18m-10 20l15-20m-14 20l15-20"/><path stroke="var(--l0)" d="M569 659l9-1m-21 5l18-2m-15 2l9-1m-15 1l18 0m-17 6l9-1m2-6l9-1m-23 3l8 1m3-4l9-1m-18 6l8 0m-11 2l8 0m2-7l9 0m-2 0l9-1m-12 0l9-1m-21 10l9 0m-9-5l8 0m6-2l10-1m-20 6l8 0m0-5l10-1m-18 5l9 0m-4-6l9 0m-14 5l8 0"/><path stroke="var(--j8)" d="M797 522l13-28m-16 31l13-28m0 17l11-29m-18 37l13-29"/><path stroke="var(--jr)" d="M675 595l28-24m-28 24l29-25m-19 17l14-13m-15 16l15-13m-12 6l14-12m-29 25l29-24m-20 18l14-12m-10 10l14-12m-34 24l28-22m-5 7l14-13m-15 14l14-13m-23 20l14-12m3 2l15-14"/><path stroke="var(--kj)" d="M603 635l12-3m17-11l14-7m-39 19l13-4m-12 0l12-4m-17 9l23-9m-24 12l11-4m-11 2l24-9m-25 5l11-3m-8 4l37-15m-41 20l12-3m-8 1l12-4m-13 4l11-4m-8-1l11-3m-7 2l12-4m-13 9l12-4"/><path stroke="var(--lg)" d="M543 674l7 1m-14 2l14 1m-9-4l7 1m-12 4l6 1m-5 1l7 0m-11-2l14 2m-12-1l7 1m-5-2l7 1m-4-2l7 1m-7-6l7 1m-8 3l7 1"/><path stroke="var(--k4)" d="M643 612l27-17m-28 16l27-16m-25 15l27-17m-30 17l26-15m-22 14l27-17m-27 19l28-17m-37 20l27-15m-13 7l14-9m-20 15l28-18m-35 22l28-16m-21 13l27-18m-30 15l27-16m-25 17l27-17"/><path stroke="var(--or)" d="M508 704l3 2m-15-1l10 9m-3-10l6 4m-8-4l6 5m1-7l3 2m-14 1l7 7m-3-8l9 6m-10-5l9 6m1-8l3 2"/><path stroke="var(--jg)" d="M726 563l15-18m-20 22l14-17m-5 10l14-18m-17 21l14-18m-19 22l15-17m-11 13l14-18m-9 12l13-17m-18 23l14-17m-13 16l14-18m-12 16l14-18m-21 26l15-17"/><path stroke="var(--kz)" d="M560 659l9 0m0-5l19-3m-27 2l29-3m-21 4l19-3m-22 1l20-2m-29 12l9 0m-5-8l19-1m-23 5l27-2m-29 4l8 1m8-9l21-3m-23 4l19-3m-29 11l9 0m4-7l10-2m-25 8l8 0m-2-5l18-2m-22 9l8 0m3-9l19-3m-32 12l8 0m0-7l19-2m-14 1l20-3m-24 2l19-2m-31 9l8 0"/><path stroke="var(--ki)" d="M607 626l36-14m-35 18l24-9m-25 4l35-14m-22 14l13-5m-28 9l37-14m-34 10l36-15m-36 16l37-15m-39 18l38-15m-42 12l22-7m-12 9l26-10m-35 7l10-3m-6 4l37-14m-43 17l36-13m-30 12l37-15m-37 16l37-15m-27 13l13-5m-8 3l13-6m-27 7l35-15"/><path stroke="var(--jq)" d="M670 595l27-22m-28 22l27-22m-26 24l15-10m-14 6l27-22m-17 14l13-12m-22 19l27-22m-26 24l14-11m-24 16l27-21m-12 10l13-11m-19 17l27-22m-28 23l28-23m-18 12l13-11m-21 23l15-11m-18 9l27-22"/><path stroke="var(--p5)" d="M511 684l7 5 11 4m-18-9l8 5 10 3m-19-13l4 3m13 6l6 1m-23 0l13 6m-12 0l8 4m-6-7l8 4m-10-7l12 6m9-8l6 1m-26 3l14 6m-16 0l8 4m-8-5l9 4m-9-20l4 3m4 3l15 5m-24-13l6 6m9 4l11 2m-25 8l4 2m15-13l6 1m-26 5l13 6m-8-13l14 5m-18 8l4 2"/><path stroke="var(--j7)" d="M781 531l13-26m-9 23l13-26m-3 14l10-26m-19 36l12-26m-2 15l11-26m-37 47l13-24m12 4l11-26m-9 25l11-27m-41 53l14-24m-8 21l14-25m0 15l14-27m-23 33l14-25"/><path stroke="var(--lf)" d="M536 673l7 1m2-4l7 1m-7-1l7 1m-16-1l14 2m-15 1l6 1m-6-4l14 2m-8-3l15 1m-15 0l14 1m-18 1l13 2m-4-5l7 0m-19 1l20 3m-21 4l7 1m5-8l7 1m-8-1l8 1m-18 1l6 1m-7-3l21 3m-21 3l6 1"/><path stroke="var(--jf)" d="M708 575l27-32m-14 18l13-16m-23 26l14-15m-4 8l14-16m-24 26l28-33m-21 22l13-15m-24 27l27-31m-13 20l13-17m-11 17l14-17m-18 20l14-17m-8 11l14-17m-19 20l13-16m-23 25l26-32m-20 27l14-16"/><path stroke="var(--ky)" d="M574 645l30-6m-44 15l9 0m-2-4l19-1m-25 5l8 0m-11-2l8 0m-5 0l28-3m-17-5l31-4m-18 3l11-2m-33 11l8 0m-9-4l17 0 21-5m-27 4l20-3m-32 9l8 0m-6 1l9 0m-2-7l30-4m-39 7l27-2m-19 0l29-4m-36 5l28-3m-20 0l30-5m-39 12l9 0m-8 1l8 0m-12-2l8 1m18-9l22-6m-38 7l29-3"/><path stroke="var(--je)" d="M716 562l12-15m-18 25l14-16m-17 15l14-15m-13 17l26-31m-33 36l27-30m-21 28l14-15m-24 22l28-30m-26 29l29-30m-25 26l15-15m-5-1l12-14m-19 27l27-31m-34 36l28-29m-10 10l12-16m-14 17l13-15m-17 24l14-16m-15 14l14-15"/><path stroke="var(--k3)" d="M642 609l27-16m-29 12l24-14m-26 17l25-14m-14 5l12-7m-24 19l26-15m-20 13l27-16m-18 5l12-8m-24 20l26-15m-31 15l25-14m-23 17l13-7m-7-2l25-15m-24 19l26-16m-29 15l25-15m-27 12l25-13m-26 20l26-15"/><path stroke="var(--j6)" d="M780 532l13-26m-16 17l10-22m-19 36l13-24m-1 13l11-24m-32 45l15-23m-12 21l15-24m-10 18l13-23m-16 27l14-23m-2 3l10-22m-9 32l14-25m-26 33l13-23m5 2l10-23m-14 28l11-24m-27 35l12-21m3 11l11-24m-22 34l12-23"/><path stroke="var(--kx)" d="M574 640l9-1m9-1l11-3m-37 10l8 0m-6-2l17-1 22-5m-30 2l19-3m-21 6l30-6m-32 5l29-4m-38 7l8 0m-4 0l17-1m11-2l11-3m-28 4l31-7m-40 8l29-4m-34 7l8 1m-1-3l29-5m-27 4l30-5m-39 5l17 0 22-5m-42 9l8 0m2-6l28-4m-38 8l8 1m5-6l9-1m-11 0l19-2m-25 5l18 0 22-5m-40 8l17-1m-6-3l31-7"/><path stroke="var(--kh)" d="M608 623l34-14m-37 11l33-12m-34 15l33-12m-29 13l35-15m-37 15l35-14m-31 14l35-15m-39 14l34-13m-16 9l12-5m-23 4l22-8m-22 12l24-9m-6-4l12-5m-37 19l35-13m-32 13l35-15m-36 13l33-14m-37 17l34-13"/><path stroke="var(--le)" d="M549 662l8 1m-19 6l7 1m-7-1l7 1m0-9l15 2m-13 0l7 0m-19 2l20 4m-10-6l7 1m-12 0l14 2m-19 1l6 2m-4-4l14 3m-16 0l6 2m-2-3l7 2m0-6l7 1m-9 0l14 1m-22-2l21 4m-18 2l6 1m-7-1l6 1m-8-7l21 3m-8-2l8 1"/><path stroke="var(--jp)" d="M669 593l26-21m-19 10l12-10m-25 22l26-20m-26 22l26-20m-29 16l12-8m-2 9l26-22m-29 24l14-10m-15 10l26-21m-32 22l26-19m-22 20l14-9m2-8l12-11m-24 25l13-10m-11 8l26-21m-30 21l26-20m-16 10l12-10m-24 24l27-21"/><path stroke="var(--j5)" d="M768 529l10-22m-26 42l14-21m-14 20l14-21m-1 4l11-21m-2 14l9-22m-17 31l11-21m0 9l9-22m-29 41l13-21m-24 35l15-21m-3 7l13-21m-17 31l15-23 9-21m-19 35l12-21m2 9l11-23m-16 28l12-23m-28 37l14-21m-14 22l15-22m-8 15l13-22"/><path stroke="var(--jd)" d="M702 577l14-15m-13 9l24-28m-23 27l13-13m-5 4l11-14m-24 30l26-28m-12 8l11-13m-23 28l25-27m-26 33l26-29m-31 29l26-27m-22 25l14-14m-1-3l11-13m-20 29l14-14m-15 11l24-28m-25 33l14-15m-14 11l25-28m-34 36l27-27"/><path stroke="var(--j4)" d="M749 545l12-20m5 3l9-21m-9 20l10-21m-36 50l14-19m-8 12l13-20m-4 14l12-21m-24 32l14-20m5 1l12-21m-25 34l14-21m-2 6l10-20m-19 35l13-22 9-20m-30 46l14-20m-3 6l11-20m-11 22l12-20m-18 24l12-19m5 2l9-21m-8 21l9-21m-21 34l12-20m-15 23l12-20"/><path stroke="var(--kw)" d="M583 639l9-1m-21-3l17 0 20-5m-40 8l9 1m19-3l11-3m-37 0l17 0 21-4m-42 12l9 1m1-9l29-4m-31 9l29-4m-33 8l9 0m9-12l9-1m-20 4l29-4m-32 10l28-4m-29-1l28-3m-25 5l28-4m-38 11l8 0m8-11l19-3m-22 3l9 0m9-2l10-2m-40 11l8 1m9-1l20-4m-27-2l30-4m-15 8l11-2m-35-1l17 0 21-4m-33 5l17-1 20-5m-40 12l8 0"/><path stroke="var(--ld)" d="M553 659l7 0m-23 0l12 3m-10-2l6 1m9-9l7 1m-26 6l12 4m-10-6l20 5m-3-8l7 0m-12 3l8 1m-18 4l6 1m-4-5l14 2m-20 2l5 2m-6-9l12 5 15 1m-16-2l14 2m-10-2l8 1m-2-5l8 0m-29 4l12 4m-8-1l6 2m-6-5l21 3m-22-3l20 3m-7-9l15 2m-18 4l7 1m-17 1l12 3"/><path stroke="var(--j3)" d="M749 540l11-19m-6 16l11-20m-21 25l10-18m-5 20l12-20m-16 17l11-18m-15 27l13-19m3 3l10-19m-24 35l13-19m-15 23l14-19 9-20m-14 26l11-19m-16 25l12-19m-23 28l13-18m11-6l10-19m-17 28l11-20m-25 31l12-18m-6 8l11-17m-13 28l14-20 9-19"/><path stroke="var(--p4)" d="M522 666l14 7m-12-11l14 7m-15-8l15 8m-17-6l15 7m-24-2l12 9 11 4m-21 1l13 6m-13-19l12 8 12 3m-12-20l9 5m-25 10l11 8 11 4m-15-20l8 6 11 4m-15-11l14 7m-14-10l14 7m-22-4l12 9 11 4m-11-17l10 5m-13-10l15 8m-23 7l12 8 11 3m-23-14l12 8 11 4m-12-17l10 4m-18-7l9 7 11 4m-23 11l4 3m-5-18l12 9 11 3m-12-20l15 7m-15-2l10 5m-23-4l12 9 10 4m-20-11l11 8 11 4m-20 4l9 4m-11-16l12 8 11 3m-27-9l10 9 10 4m-16-20l12 9 12 3m-21-12l7 6 10 4m-23 0l12 8 11 3m-23-15l12 9 11 3m-2-24l5 2m-12-1l15 7m-16-8l15 8m-18-5l14 8m-23 11l3 3m10-20l9 4m-22 2l11 8 11 4m-17-18l7 6 10 4"/><path stroke="var(--ot)" d="M502 674l9 10m-16-2l7 13 9 7m-6-24l6 6m-11-8l10 13m-17-6l7 14 8 7m-13-22l7 13 9 8m-13-23l7 10 6 5m-12-19l7 11 7 5m-13-15l11 12m-21 0l6 16m3-30l7 11 6 5m-14-8l6 9 6 5m-12-16l6 10 6 5m-18-11l4 11 7 8m4-27l3 3m-19 5l4 11 6 8m-6-20l5 10 8 8m-19-17l8 20m-6-20l4 11 6 8m-5-24l5 10 9 8m-11-17l10 12m-18-7l4 10 5 9m5-29l6 7m-17 0l7 13 9 7m-14-22l6 10 8 8"/><path stroke="var(--jc)" d="M695 572l22-25m-20 26l23-26m-24 26l23-25m-20 26l13-13m-4-2l10-13m-20 25l23-26m-27 28l23-25m-18 22l22-26m-20 27l12-14m-23 21l25-25m-24 24l24-25m-16 20l24-27m-30 33l26-26m-20 20l13-13m-18 14l23-25m-20 24l23-26m-29 29l13-11"/><path stroke="var(--og)" d="M460 713l-7 7m2-4l-4 4m23-11l-8 17-16 15m17-28l-15 17m15-17l-14 17m16-18l-6 10-10 10"/><path stroke="var(--k2)" d="M635 605l23-12m-22 9l21-12m-20 15l12-6m4-9l10-6m-23 19l23-14m-22 8l21-12m-25 20l23-13m-24 9l21-11m-16 14l11-6m-5-4l10-6m-13 13l23-14m-28 10l22-12m-25 20l23-13m-7-3l11-7m-22 19l23-14"/><path stroke="var(--j2)" d="M741 545l11-17m-17 22l12-17m-6 12l11-18m-15 23l12-18m-9 13l11-17m-7 12l10-18m-14 24l11-18m-18 28l13-18 10-17m-9 17l10-18m-20 27l11-17m-7 14l11-18m-15 25l12-18"/><path stroke="var(--kv)" d="M598 625l10-2m-28 7l27-4m-27 3l27-4m-12 0l9-2m-23 5l27-4m-29 4l29-3m-30 1l28-2m-24 5l28-5m-39 6l17 0m9-1l11-3m-39 7l8 0m19-8l10-2m-31 4l27-1m-9-4l20-4m-37 9l27-2m-32 4l16 1 20-4m-33 6l8 0m6 0l9-2m-18-4l27-3m-7 2l10-2m-39 10l7 0m3-3l28-4m-31 0l27-2"/><path stroke="var(--lc)" d="M540 655l13 4m-6-8l13 3m-8-6l15 2m-26-2l13 4m-13-3l20 5m-10-4l7 2m-4-1l7 1m-20-2l13 4m-16-1l11 4m-14-2l6 3m7-8l15 2m-9 0l7 1m-22 4l6 2m-2-9l20 4m-26 1l12 4m-6-8l12 4m-1-6l7 1m0-2l8 0m-14 0l7 1m-8 3l7 1m-17-1l6 1m-8-3l20 4m-18-5l14 3m-23 3l12 4"/><path stroke="var(--kg)" d="M613 612l22-7m-19 4l20-7m-28 16l32-13m-34 11l31-11m-28 9l31-11m-29 4l30-10m-25 17l21-9m-21 4l20-8m-27 16l32-13m-29 10l32-13m-34 16l21-8m-12-4l10-4m-14 12l21-8m-25 8l30-12m-34 15l32-12"/><path stroke="var(--jo)" d="M658 593l24-18m-25 15l22-16m-15 17l12-9m-15 10l24-18m-22 15l23-18m-24 14l21-17m-11 16l12-9m-27 15l22-16m-15 16l24-18m-31 16l11-7m-1 6l23-19m-22 21l12-9m-19 5l21-16m-23 23l24-17m-19 12l22-17m-22 21l12-9"/><path stroke="var(--iu)" d="M807 506l9-27m-6 23l8-27m-15 34l9-26m-13 29l9-26"/><path stroke="var(--j1)" d="M734 545l10-16m-19 27l12-16m-2 8l11-17m-12 16l11-16m-12 19l11-17m-5 11l10-17m-16 21l11-17m-19 24l12-16m-7 13l12-17"/><path stroke="var(--jb)" d="M688 572l11-10m-10 12l22-23m-26 23l11-11m-7 13l23-24m-16 19l12-12m-20 13l11-11m-7 13l23-24m-29 27l23-23m-17 15l11-11m-7 13l12-12m-16 13l11-11m-15 11l11-11m5 3l11-13"/><path stroke="var(--o2)" d="M453 720l-14 10m11 11l-18 9m20-20l-22 13m23-13l-22 13m22-11l-22 13"/><path stroke="var(--j0)" d="M724 556l12-16m-15 16l11-15m-4 7l10-15m-13 20l11-15m-8 14l11-16m-8 12l11-16m-15 19l10-16m-9 12l10-15m-14 22l11-15"/><path stroke="var(--lb)" d="M559 644l7 1m-21 1l7 2m9-5l7 0m-29 3l12 4m-3-1l6 2m-4-10l14 3m-4 0l8 0m-26 4l6 2m15-7l7 0m-21 2l13 3m-12-4l15 2m-18 4l7 2m3-10l15 2m-14-2l7 1m-16 2l13 2m-14 1l6 1m0-2l7 1m-13-2l7 2m-7-6l14 3m-14 5l6 2m6-11l7 1m-28 4l5 3m16-5l7 1m-20-4l21 4"/><path stroke="var(--it)" d="M786 517l9-24m-1 18l9-24m-15 28l8-24"/><path stroke="var(--ja)" d="M682 575l11-10m-7 6l10-10m-12 14l11-11m-12 11l11-10"/><path stroke="var(--ku)" d="M595 616l18-4m-32 15l17-2m1-6l9-1m-21 4l18-2m-9-3l10-1m-5 0l8-2m-22 12l8-1m3-7l18-4m-16 5l9-2m-6-1l9-2m-24 12l8-1m-12-3l9 0m-2-2l19-3m-4-1l9-3m-33 14l17-2m-9-1l18-3m-19-3l18-2"/><path stroke="var(--la)" d="M560 639l14 1m-13-3l7 1m-16 0l14 3m1-4l7 1m-15 1l14 2m-19 1l6 2m3-3l7 1m-14 0l7 1m3-4l8 0m-8-6l7 1m-5 2l8 0m-17 6l7 1m-15-3l7 2m6-1l8 0m-11-3l6 1m-9-3l15 3m-12-7l7 2m-15 6l7 1m-7 1l7 2m3-4l7 1"/><path stroke="var(--oi)" d="M462 709l-2 4m17-18l-3 14m-2-7l-5 11m6-15l-6 15m7-16l-5 15"/><path stroke="var(--ad)" d="M432 750l-17 5m16-12l-8 3m8-1l-8 3"/><path stroke="var(--k1)" d="M645 593l10-6m-13 9l11-6m-17 10l11-6m-15 5l20-10"/><path stroke="var(--p3)" d="M532 656l5 3m-3-2l5 3m-9-4l5 3m-3-4l5 2m-8 0l10 5m-9-10l5 3m-5 5l5 2m-6-10l5 3m0 0l5 2m-7-5l5 3m-8 1l5 3m-1 1l5 2m-5-6l5 3m-12-1l5 3m1-5l5 3m-11-2l10 6m-6-12l5 4m-3 4l5 2"/><path stroke="var(--kf)" d="M623 605l19-9m-15 8l9-4m-7 1l10-4m-17 5l10-3"/><path stroke="var(--iz)" d="M717 557l11-15m-2 7l10-15m-15 17l10-14m-12 17l10-14"/><path stroke="var(--os)" d="M503 675l2 3m0-6l5 7m-3-8l3 4m-6-1l3 3m-1-2l3 3m-2-4l3 3m-3-7l3 3m-8 0l3 3m3-8l3 4"/><path stroke="var(--jn)" d="M663 584l11-8m-6 5l10-8m-15 9l10-7"/><path stroke="var(--l9)" d="M563 632l7 1m-2-1l8 1m-4-6l7 1m-17 3l7 2m-3-2l8 1m-2 0l7 0m-17-1l8 2"/><path stroke="var(--is)" d="M778 520l9-23m-6 20l8-22"/><path stroke="var(--kg)" d="M617 607l10-3m-17 3l9-2"/><path stroke="var(--j4)" d="M763 527l8-19"/><path stroke="var(--j3)" d="M759 529l9-19m-12 21l9-19m-8 16l8-19"/><path stroke="var(--jb)" d="M699 562l10-12m-13 13l10-11m-11 12l9-10m-5 7l10-11m-6 8l10-12m-5 13l10-13m-15 15l10-12m-14 12l9-11"/><path stroke="var(--lc)" d="M535 653l5 2m-3-9l10 5m-10-4l4 2m-5-2l5 3m-4-4l5 2m-4 1l5 2m-4-2l5 3m-7-5l5 3m-8-7l5 3"/><path stroke="var(--ku)" d="M580 615l15 1m-3-3l24-4m-32 11l15-1m-20 2l8 1m-7-5l16 0m-10 0l15-1m-22 10l8 0m-4-8l15 0m10-7l8-2m-32 11l16-1m-13-1l16-2m-23 11l8-1m-11-4l7 0m-1-3l8 1m-1-2l16-2m-19 0l24-3m-29 11l8 0m-9-6l8 0"/><path stroke="var(--p3)" d="M528 653l4 3m-15-1l3 3m6-7l8 6m-9-5l5 4m-11-2l7 6m1-9l5 4m1-4l5 2m-13 1l4 3m-7-3l8 6m-11-7l3 4m7-5l5 3m-16-2l3 4m3-5l5 4m-5-2l9 6m-4-7l4 3m-11-2l4 4m2-5l4 3m-10-2l4 3m-3-4l9 6"/><path stroke="var(--lb)" d="M552 643l7 1m-24-4l10 6m-9 0l5 2m-7-6l5 4m-1-1l10 4m-9-14l5 3m-7 7l5 3m-3-8l10 5m-15-11l16 10m-8 4l5 2m-9-2l5 2m-3-10l9 5m-11-2l10 5m-10-8l16 7m-17-7l11 6m-11-10l11 6m-11 4l11 4m-12-16l11 7"/><path stroke="var(--o2)" d="M439 730l-7 4m15-16l-18 11m22-9l-23 14m4-13l-7 3m16-7l-12 7m7-5l-6 3m17-5l-17 11m6-9l-6 4m21-6l-22 14m12-14l-12 7m25-8l-14 11-14 7m17-18l-12 8"/><path stroke="var(--j2)" d="M747 533l8-17m-6 16l8-17m-3 16l9-18m-14 21l9-18m-9 17l8-17"/><path stroke="var(--p4)" d="M512 655l10 11m-2-8l4 4m-9-8l8 7m-9-6l7 8m-11 2l4 4m-4-10l7 8m-6-12l10 11m-6-10l6 7m-11 0l3 3m5-10l7 6m-17 3l6 7m-6-10l6 7m1-16l10 11m-14-11l6 8m-8 3l4 4m8-11l3 3m-10-5l10 10m-16-5l5 8m-6-4l6 8m-3-9l3 4m-5-11l8 11m1-12l7 7m-9-8l8 7m-10-5l7 8m-6-8l10 10m-14-8l6 8"/><path stroke="var(--ja)" d="M693 565l10-10m-29 18l10-8m-5 9l19-19m-14 12l17-18m-5 12l9-10m-22 17l18-18m-22 24l19-19m-20 18l19-19m-7 14l19-21m-27 22l18-18m-6 14l9-11m-20 12l9-8m-6 12l19-21"/><path stroke="var(--j0)" d="M728 547l10-15m-2 8l9-15m-13 16l9-15m-7 16l9-15m-5 6l7-14m-9 19l8-16m-5 14l8-16m-14 24l10-15m-9 15l10-16m-7 7l8-15m-16 25l10-15m-2 9l8-15m-10 15l8-15"/><path stroke="var(--os)" d="M500 671l2 3m-1-3l2 4m1-19l8 12m-10 0l3 4m0-15l5 8m-8-2l5 8m0-16l3 4m-6-5l6 9m-6-6l4 8m-2-7l2 4m-6 8l2 4m0-18l5 8m-3-7l5 9m-5-10l2 4m-4 11l2 4m-3-19l4 8m-3 3l5 7m-4-20l5 9m-8 3l5 8m-7-17l2 4m3 5l2 4m-7-1l2 4m-1-18l2 5m2 4l3 4"/><path stroke="var(--k1)" d="M639 579l14-7m-14 12l14-8m-18 12l16-8m-13 9l17-9m-17 12l19-10m-22 15l10-4m-7 0l19-11m-21 9l19-9m-21 15l30-16m-29 10l18-9m-19 15l28-16m-29 8l25-13"/><path stroke="var(--j1)" d="M735 543l10-16m-8 13l9-16m0 7l7-16m-14 26l9-16m-6 7l6-15m-3 14l7-16m-4 15l7-17m-11 20l8-16m-8 14l7-15m-15 25l10-16m-4 10l8-16"/><path stroke="var(--iu)" d="M806 500l6-25m-2 19l4-25m-8 32l6-26m-15 32l7-24m12 11l5-27m-8 28l5-26m-11 28l6-25m5 13l2-25m-7 33l4-25m-16 33l6-24"/><path stroke="var(--jn)" d="M653 576l7-5m-9 9l15-11m-11 11l16-12m-14 14l17-13m-19 18l19-14m-17 9l19-13m-2 7l10-9m-29 15l18-13m-9 12l18-16m-29 17l17-12m-8 11l19-15m-8 9l10-9m-25 10l16-12"/><path stroke="var(--is)" d="M781 513l7-21m-5 20l7-21m-10 25l8-22m-4 12l4-20m-10 32l8-22m-6 15l6-20m-7 22l6-21"/><path stroke="var(--la)" d="M544 632l16 7m-18-1l10 5m-12-9l9 5 12 4m-18-14l18 8m-25-9l16 10m-9-6l16 7m-25-8l5 4m5 3l6 3m-11-6l15 7m-12-10l9 6 12 3m-22-7l15 8m-7-9l5 3m-12 0l15 6m-14-7l16 7m-24-12l16 10m-8-8l9 5 12 4m-15-6l12 3m-20-10l5 3m6 3l6 2m-21-6l16 10m13-5l7 0m-34 0l14 7m-7-8l17 6"/><path stroke="var(--l9)" d="M556 625l10 4 14 1m-31-2l10 5 12 2m-5-7l14 1m-42-4l5 4m2-6l18 9m-19-11l11 7 13 4m-22-3l9 5 12 3m7-10l7 1m-29-8l20 7m-1-2l7 1m-4 3l8 0m-36-10l12 7 13 4m-27-8l18 9m-17 0l4 2m5 3l12 3m-5-15l14 3m-33-6l11 7 13 5m-19-5l9 5 12 3m1-10l7 1m-30-9l11 7 14 4m-23-7l18 9m-11-4l17 5m-1-7l8 1m-34 6l4 3m-4-13l17 9m-16 0l6 3m-8-11l17 9m-11-3l16 6m-10-10l10 4 14 1m-10-6l7 2"/><path stroke="var(--kf)" d="M625 584l14-5m-14 10l14-5m-18 9l14-5m-13 7l16-6m-24 12l24-9m-21 12l18-7m-24 4l27-8m-24 15l9-3m-12-7l25-7m-19 13l17-7m-16-1l17-5m-19 12l18-6m-21 8l9-3m-5-9l16-4m-15 10l8-2"/><path stroke="var(--ot)" d="M495 657l5 14m-10-10l5 21m2-24l4 13m-3-12l4 9m-9-10l7 18m-11-14l4 21m-3-22l5 21m-3-23l6 21m-5-21l6 17m-4-16l5 17m-13-14l3 26m10-30l2 4m-9-6l6 18m-8-17l7 25m-6-22l6 20m-12-23l6 27m4-29l6 14m-16-12l5 27m-1-22l5 21m-8-20l2 21m-3-27l5 27m8-27l5 13m-15-14l7 23m5-21l3 8m-11-6l6 20m-1-24l4 9m0-5l3 5m-17-6l3 26m4-31l5 14m-10-7l4 21m-3-24l5 22m7-21l2 4"/><path stroke="var(--iz)" d="M738 532l6-14m-16 24l8-14m-13 19l10-14m-8 16l10-15 7-14m-16 25l8-14m2 3l7-15m-12 18l7-14m-13 25l9-15 6-13m-21 32l10-14m-6 8l8-14m-5 12l8-14m4 2l6-14m-18 27l9-14m-6 9l8-14"/><path stroke="var(--ir)" d="M776 510l4-19m-13 31l8-20m2 10l5-20m-8 22l6-19m-10 24l7-19m-6 19l7-20m-7 21l8-21m-4 16l6-20m-9 25l8-20"/><path stroke="var(--ix)" d="M703 555l8-11m6 3l8-12m-14 16l9-12m-8 13l9-12m-3 6l8-12m-11 16l8-13m-14 17l16-24m-12 16l7-11m-3 13l8-13m-7 11l8-12m-13 15l8-12m-6 14l9-13"/><path stroke="var(--it)" d="M794 505l6-23m-7 24l7-23m-2 19l5-23m-5 21l5-23m-12 25l4-21m-4 27l6-23m-10 28l7-23m-4 11l3-21m-1 29l7-24m-10 17l3-20"/><path stroke="var(--ad)" d="M432 734l-16 6-21 6m27-14l-31 9m37-7l-17 6-23 5m27 10l-38 7m53-19l-18 6-24 5m26-20l-10 3m18-3l-32 9m33 3l-20 5-27 5m47-8l-20 5-27 4m50-23l-29 9"/><path stroke="var(--o5)" d="M441 707l-11 8m21-1l-4 4m6-28l-3 5m-6 10l-17 12m19-13l-16 12m22-17l-13 12-12 8m25-14l-20 16m22-16l-13 12m12-17l-12 13-13 7m27-25l-4 4m-4 4l-22 16m29-16l-18 16m13-18l-21 17m23-5l-4 4m-6-10l-12 8m25-12l-18 16m18-19l-13 12-11 8m24-23l-12 13-11 8m23-13l-13 12m10-18l-13 13-13 8m8-10l-7 4m28-20l-3 5m-4 4l-16 12m21-7l-9 8"/><path stroke="var(--aq)" d="M430 722l-8 4m8-3l-7 3m8-2l-7 3"/><path stroke="var(--iy)" d="M720 547l9-13m-2 9l9-14m-17 19l8-13m-6 5l6-12m-6 17l8-13m-12 16l8-12m-4 8l8-13m-5 13l8-14m-17 23l16-26m-16 25l16-26m-8 19l8-13m-2 6l7-13m-16 21l9-13m-5 5l6-12"/><path stroke="var(--oi)" d="M475 670l-5 23-8 16m-3-24l-5 9m18-30l-7 29-14 21m23-51l-5 29-6 12-8 12m3-29l-6 9m13-25l-2 5m-4 10l-5 9m7-10l-9 14m27-37l-2 33m1-28l-6 35m-3-28l-8 18-9 13m18-38l-6 20-10 18m10-22l-11 17m7-15l-5 10m13-19l-5 14-9 13m10-30l-1 5m-2 5l-9 14m20-23l-9 23-12 16m8-28l-6 9m16-23l-7 19-8 13m13-31l-2 5m-1 5l-10 18m11-27l-1 6m-2 4l-8 14m19-34l-3 20-5 14-14 20m19-49l-6 20-10 17m23-44l-4 37m-13-12l-9 13m9-14l-6 9m24-34l-4 37m0-33l-3 19-4 14-13 19m16-43l-7 18-11 17"/><path stroke="var(--kt)" d="M615 594l6-1m-12 5l13-3m-22 8l14-2m-19 7l22-4m-28-3l22 0m-20 10l23-3m-27 0l24-1m-15-9l15 0m-16 9l22-3m-25 9l16-2m-13-14l23-1m-23 10l21-3m-22 8l23-4m-31 1l24-1m-21-1l24-1m-17-12l21 0m-13 9l14-3"/><path stroke="var(--iq)" d="M761 525l7-19m-1 9l5-18m-1 16l5-18m-10 23l6-18m-5 20l7-19m-13 24l7-19m-1 14l6-19m-9 22l7-19"/><path stroke="var(--l8)" d="M561 607l5 3m-3 14l18 3m-10-8l13 1m-31-9l12 7 14 3m-24-15l12 7 13 4m-24 7l10 4m13-12l7 1m-24 4l17 5m-21-4l16 5m-27-11l5 4m0-3l19 8m1-7l12 2m-27 4l17 5m7-12l6 1m-25 5l18 4m-31-10l12 7m-9-13l11 7 14 4m-27-5l19 9m-12-16l12 7 14 2m-30-2l18 8m12-7l7 0m-27 6l19 3m-18-6l18 3m-26-17l12 7 13 4m-30-2l19 8"/><path stroke="var(--ph)" d="M534 641l4 4m-3-8l4 3m-5 5l4 3m-2-12l4 4m-6-1l4 4m-3-6l3 3m-5 2l4 4m-3 1l5 2"/><path stroke="var(--p7)" d="M524 643l11 10m-16-11l9 11m1-13l8 6m-15-19l13 13m-15 4l6 7m-7-23l8 10 9 8m-7-6l8 7m-16-18l13 13m-23-8l6 10m4 5l4 3m7-28l4 4m-23 5l14 18m3-13l4 3m-15-11l7 9 10 8m-13-7l10 11m-11 0l3 3m5-28l4 5m-19 4l7 10 8 7m-11-2l3 4m-2-27l7 10 10 8m-22 4l4 4m-5-18l7 10 8 7m-3-27l8 9m-5 5l8 7m-17-5l9 11m-2-14l7 7m-18-10l7 9 9 8m-6-13l12 10m-27-15l6 10m3 5l4 3m7-27l4 5m-4 6l3 3m-10-12l13 13m-16 10l3 4m4-27l9 9m-18 7l10 10m1-14l3 3m-15 8l4 4m-3-12l9 11m-1-13l7 7m-2-22l5 5m-8 11l8 6m-19 3l4 4m-1-24l13 13m-19-9l7 10 8 7m-12-6l5 8m5-28l8 9"/><path stroke="var(--ap)" d="M430 716l-7 4m5 0l-7 4m7-6l-8 3m10-1l-8 4m9-6l-7 3m7-6l-7 4"/><path stroke="var(--io)" d="M752 528l7-17m-5 13l6-17m-8 20l7-17m-5 12l6-16m-9 22l7-17m-2 10l5-16m-9 21l7-16m-5 15l6-17"/><path stroke="var(--ac)" d="M429 729l-7 3m3-8l-17 7m21-7l-26 10m9-7l-9 4m14-8l-9 3m14 0l-18 7m26-5l-16 6m-10 3l-11 3m30-14l-18 7m9-6l-10 3m12-5l-10 3m23 3l-7 3m7-10l-26 10m14-11l-9 4m16 0l-18 7"/><path stroke="var(--iw)" d="M698 555l8-10m3 5l8-11m-11 13l8-11m-9 10l8-11m-9 14l9-11m-15 12l7-10m4 5l7-11m-19 15l7-9m5 2l7-11m-16 15l6-10m-3 13l9-11m-7 6l7-10m-4 11l8-11"/><path stroke="var(--ip)" d="M760 521l6-17m-1 13l5-17m-9 24l7-18m-12 17l6-17m2 9l5-17m-8 24l7-18m-11 16l5-16m0 17l7-18"/><path stroke="var(--p8)" d="M510 651l2 4m0-8l5 8m-5-6l3 5m-4-3l3 4m3-11l4 5m-7-3l5 8m0-7l3 4m-13 0l2 4m-1-8l5 9m1-10l3 4m-6-2l5 8m-6-11l3 4m-3 0l3 4m-2-8l5 8m-1-9l3 5m-8 2l2 4m4-9l3 4m-15 1l2 5m3-15l7 9m-6-3l5 8m-5-5l3 4m-5-2l3 4m-1-16l6 10m-9-3l5 9m-8-6l4 8"/><path stroke="var(--j9)" d="M666 569l7-6m-2 5l8-7m-5 8l16-16m-6 12l8-9m-16 13l16-17m-19 17l15-15m-6 11l9-8m-21 13l16-15m-5 11l15-17m-4 9l8-10m-26 16l7-7"/><path stroke="var(--ov)" d="M506 639l6 10m-7-8l6 10m-11-5l4 10m-9-7l3 10m3-12l4 10m-9-8l4 10m2-14l5 10m-7-11l4 10m5-15l3 6m-10 7l2 5m0-3l2 4m-3-20l8 15m-16-2l1 5m4-10l4 10m-5-14l7 15m-2-5l2 4m-8-2l1 4m3-6l1 4m-4-2l2 5m-1-15l5 10m-10-8l3 11m-1-11l3 11m6-17l6 10m-8-8l6 10m-17-3l2 6m2-10l4 10"/><path stroke="var(--l7)" d="M566 610l14 5m9-8l6 1m-15 4l12 1m-10-14l7 2m-4 9l6 1m-17 4l5 1m-11-15l19 7m-16 8l12 2m6-21l7 1m-16 13l12 2m-3-18l6 2m-8 14l7 0m-19 5l6 1m-8-14l13 5m-15 8l12 2m-7-16l13 4m-14 8l12 2"/><path stroke="var(--o4)" d="M454 694l-13 13m9-12l-20 17m22-16l-8 9m10-10l-8 9m6-14l-13 13-12 8m23-22l-19 17m16-17l-15 14m19-4l-4 4m5-6l-3 4m4-7l-12 13m9-18l-13 13-12 9m20-18l-15 13m24-18l-11 14-10 8m18-11l-4 4m9-23l-10 15-15 13m16-17l-15 14"/><path stroke="var(--in)" d="M745 527l6-15m0 16l6-17m-13 18l7-15m-3 11l6-15m-10 18l6-15m-1 14l6-16"/><path stroke="var(--ab)" d="M423 720l-17 7m21-8l-16 7m10-2l-9 3m13-8l-8 4m3-2l-8 4m10-1l-8 3m10-6l-8 4m9-5l-8 3m7-4l-17 7"/><path stroke="var(--ao)" d="M430 715l-7 4m7-7l-7 3m4 2l-7 4m7-10l-7 4m11-9l-7 4m5 5l-7 4m4-5l-7 4m12-10l-7 4"/><path stroke="var(--ll)" d="M540 619l5 4m-6-7l5 5m-3-6l5 4m-7-1l5 4m-7-6l5 5m-1-7l5 4m-3 0l5 4m-8-4l5 4m-9 1l5 5m-2-9l5 4"/><path stroke="var(--oh)" d="M462 681l-3 4m2-10l-8 15m10-12l-5 9m5-11l-4 10m-4-1l-3 5m13-14l-4 9m5-7l-2 5m0-8l-4 10m3-7l-2 5m2-8l-4 10m6-8l-1 5m0-3l-2 4m3-6l-5 9m-1-8l-5 10m8-7l-2 4"/><path stroke="var(--ow)" d="M494 652l1 5m-3-4l1 5m-2-5l2 6m-2-7l2 5m-7-4l0 5m-1-5l1 5m2-6l1 5"/><path stroke="var(--aa)" d="M423 719l-8 4m8-8l-8 4m5 2l-9 3m11-5l-8 4"/><path stroke="var(--iv)" d="M692 556l7-9m-8 10l7-9"/><path stroke="var(--lm)" d="M538 635l4 3m-9-18l5 5m0 7l4 4m-3-4l4 3m-1-4l4 3"/><path stroke="var(--lk)" d="M547 613l5 4m-8-4l5 4m-4-4l5 4m-3-4l6 4m-7-5l5 4"/><path stroke="var(--im)" d="M743 529l5-15m-9 16l6-14"/><path stroke="var(--ou)" d="M509 636l2 5m-2-6l3 5"/><path stroke="var(--p6)" d="M532 618l4 5"/><path stroke="var(--ot)" d="M487 658l0 5m3-5l0 5m-3-4l0 5"/><path stroke="var(--ao)" d="M424 710l-7 4m8-3l-7 3m6-2l-7 3m8-6l-7 4"/><path stroke="var(--kf)" d="M618 585l7-1m-6 7l6-2"/><path stroke="var(--jn)" d="M653 572l13-9m-6 8l7-5"/><path stroke="var(--iy)" d="M725 536l6-12m-8 13l6-12"/><path stroke="var(--l8)" d="M558 621l5 3m3-7l5 2m-14 0l5 2m5-7l4 2m-4 0l5 2m-15 2l5 3m-4-1l5 2m-3-6l4 3"/><path stroke="var(--oi)" d="M477 660l-2 10m-7-4l-4 10m9-17l-1 5m-8 0l-3 11m7-12l-5 15m4-18l-2 11m-3-1l-2 5m9-9l-4 10m14-14l-1 5m-17 2l-2 5m12-10l-2 10m2-12l-1 5m1-4l-5 15m-8-9l-2 5m12-15l-4 16m8-14l-4 15m-1-14l-3 11m10-9l-2 10m-6-10l-3 11m8-15l-2 11m-7-1l-3 5m10-14l-2 11m1-9l-3 10m6-10l-1 5m0-7l-5 16m0-15l-3 11m6-7l-4 10m-4-6l-2 5m15-12l-3 10"/><path stroke="var(--an)" d="M431 701l-14 8m13-10l-14 8m12-6l-14 8m14-9l-14 8m16-8l-13 8m9-1l-7 4m12-9l-14 8m13-4l-14 7m8-12l-7 5m11-5l-15 8"/><path stroke="var(--kt)" d="M600 583l18 2m-10 7l11-1m-16 4l12-1m-12 5l6-1m-11 4l6 0"/><path stroke="var(--ix)" d="M717 539l5-11m-2 11l5-11m-11 13l6-11m-7 13l5-11m-2 7l5-11m0 9l6-12m-11 14l6-11"/><path stroke="var(--lm)" d="M541 628l3 4m-4-3l3 3m-5-3l4 3m-1-5l4 4m-6-2l4 3m-2-3l4 3m-5-14l3 4m-4 6l3 3"/><path stroke="var(--iw)" d="M711 544l6-11m-18 14l5-9m2 7l6-10m1 5l5-10m-17 20l6-10m-2 5l6-9m-7 9l5-9m-3 5l5-9m1 11l6-10"/><path stroke="var(--oh)" d="M464 676l-2 5m-3-20l-2 6m1-6l-2 6m8-2l-2 5m-2 5l-5 10m8-21l-2 5m-2 5l-6 10m5-18l-6 10m8-12l-2 5m6-5l-2 6m-3 5l-5 9m5-21l-4 11m8-11l-10 20m2-15l-3 6m10-1l-3 5m5-2l-2 5m0-17l-2 6m-2 5l-2 5m1-12l-3 5m7-6l-7 15"/><path stroke="var(--ad)" d="M395 746l-28 3m24-8l-13 2m10 2l-14 2m14 7l-14 1m19-15l-28 4m25-1l-13 2m15-8l-13 2m18 4l-27 4m25-10l-13 2"/><path stroke="var(--ll)" d="M548 619l8 6m-14-4l7 7m-14-14l5 5m-6-8l5 5m0 6l7 7m-13-29l4 6m-5-2l9 11m-6-2l4 5m-9-22l9 12m-6 3l4 5m4 5l6 7m-12-26l5 6m-8-5l9 11m-8-6l10 10m1-1l11 10m-20-14l5 5m-6-4l5 5m4 3l7 7m2-7l4 3m-20-24l5 5"/><path stroke="var(--j9)" d="M666 563l11-11m-10 14l12-12m-6 9l7-7m-1 5l6-7m-4 3l6-7"/><path stroke="var(--p7)" d="M517 630l7 13m-7-5l2 4m3-15l7 13m-14-25l7 12m3-18l4 6m-12 25l3 4m-4-22l3 6m3-1l7 13m-14-22l6 11m-5-30l11 19m-2 12l5 8m-15-14l4 6m0 1l4 9m-8-2l4 9m-1-38l12 17m-18 4l3 5m-1 7l2 4m-3-31l7 12m-9 2l3 6m13-10l5 8m-18-27l12 19m-3 1l6 13m-11-2l2 4m3-12l4 9m-14-9l3 6m6-4l4 8m-7-31l12 17m-3-1l2 5m-4-1l5 8m-4-11l4 8m-14-18l7 12m-8 15l2 4m-1-37l11 18m-11 11l2 5m4-17l7 13m-13-1l2 4m2-15l6 13m-11-39l8 14m4 5l4 5m-10 3l7 13m-15-23l7 12m-9-1l3 5m0 7l3 4m-2-38l12 18"/><path stroke="var(--ik)" d="M725 535l5-12m-1 11l5-13m-7 14l6-13m-7 12l5-12m-2 10l5-12m-5 11l4-12m-2 8l3-11m-3 10l3-11m-9 20l6-12m-2 10l5-12"/><path stroke="var(--l7)" d="M583 574l17 9m-1 9l9 0m-14 2l9 1m-14 2l14 2m-18 2l15 2m-21 2l10 2m-18 2l9 3m-10-20l12 7m-6 8l9 3m-16 3l5 2m-12-18l6 4m3-13l18 9m-9 7l15 3m-24 1l9 3m-3-21l12 5m-9 8l15 3m-22 1l14 4m-21 1l9 4m-8-16l6 3m-6 10l4 3m-7-21l12 7m-5 10l4 2m3-29l18 8m-12 6l14 3"/><path stroke="var(--il)" d="M736 529l4-13m-4 12l5-13m-8 18l5-13m4 0l2-12m-12 22l5-12m-3 13l6-13m-2 5l3-12m-10 21l5-13m0 6l3-12m-8 19l5-13m-2 11l5-13"/><path stroke="var(--ab)" d="M415 723l-33 8m33-12l-31 9m27-4l-34 8m29-5l-11 3m-12 2l-14 2m22-9l-13 2m33-1l-22 6m19-6l-35 8m39-9l-34 8m36-10l-32 8m26-4l-22 5m24-11l-33 9m30-4l-11 3m-12 3l-13 1"/><path stroke="var(--o4)" d="M457 667l-12 20-14 14m17-34l-12 15-11 9m22-24l-18 20m27-23l-12 21-14 14m26-32l-13 21-15 13m22-35l-11 16-9 10m22-24l-11 15-16 14m30-32l-12 21-15 14m11-28l-5 5m19 7l-3 5m2-25l-9 16-15 15m24-19l-11 15-11 9m18-31l-18 20m24-24l-10 15-15 14m27-20l-9 15m-15 14l-6 4m19-38l-19 20m26-24l-9 16-14 14m22-28l-11 15-10 9m24-7l-4 5m5-15l-10 15-14 13m22-19l-8 10m4-28l-11 16-10 10m24-17l-11 14-10 9m17-30l-18 20m12-15l-14 15m21-22l-10 16-10 9m25-17l-10 15-16 13m25-38l-9 17-15 14m25-12l-7 9m-15 14l-7 4"/><path stroke="var(--p6)" d="M521 602l4 7m4 6l4 5m-6-18l8 12m-8 4l5 6m-6-25l8 12m-6-14l4 7m-6-4l9 13m-11-15l9 13m-4-9l4 6m-7-8l9 13m-16-14l13 19m-6-16l8 12m-10 1l4 5"/><path stroke="var(--ow)" d="M488 627l6 25m-4-6l0 15m5-18l1 10m-4-32l2 6m4 13l2 6m-11-22l6 25m-7-14l4 18m-3-11l0 20m2-47l2 7m-3 24l0 15m1-17l1 15m-4-23l3 17m2-13l2 20m-8-17l0 15m4-27l5 18m-15-2l-2 10m9-23l3 18m1-34l2 7m4 13l2 6m-9-2l0 16m9-15l1 5m1-4l1 5m-12-3l1 15m-7-14l1 6m4-20l5 18m-5-8l0 15m-3-14l0 15m5-38l2 7m4 12l2 6m-15 6l1 6m5-42l2 8m4 13l2 5m3 0l1 5m-7-8l2 15m-12-14l2 12m12-10l2 10m-5-13l2 15m-7-35l2 7m4 13l2 5m-8-3l1 20m-5-41l2 8m2 6l3 12m-5-25l2 7m1 7l4 11m-9-1l0 15m1-29l4 18m-4-7l1 20m1-18l0 15m-1-40l1 7m2 7l4 12"/><path stroke="var(--is)" d="M778 507l4-19m5 13l2-20m-6 21l3-19m0 16l2-19m0 14l0-18m-10 30l4-18m5 9l2-18m-3 22l2-19m-2 14l1-18"/><path stroke="var(--lk)" d="M545 592l5 6m1 17l7 6m1-10l7 6m-33-28l10 12 10 10m-18-29l10 13m5 6l5 5m-6 11l7 7m-2-8l3 3m-6-3l7 6m-21-16l10 10m-15-20l15 17m13-2l7 5m-17 2l7 6m-6-10l6 6m-18-12l5 5m-12-26l20 24m-21-16l4 7m5 6l5 5m-9-25l10 13 11 9m-24-14l14 17m4 2l7 7m-2-7l4 3m-24-34l20 23m-7 12l3 3m-20-28l4 7m5 5l5 6"/><path stroke="var(--im)" d="M741 526l5-14m-3 15l5-15m-3 7l3-13m-4 16l4-13m-1 11l3-13m-7 12l3-12m-1 13l3-13m-13 24l6-13m4 6l5-14m-13 16l4-13m2 11l4-14"/><path stroke="var(--iu)" d="M807 489l1-22m-2 23l1-22m9 11l-2-22m-6 31l1-22m3 17l0-22m-4 25l0-22"/><path stroke="var(--ac)" d="M395 730l-12 2m6 0l-13 2m32-3l-37 7m32-4l-39 6m39-9l-25 5m26-3l-38 6m39-6l-39 7m38-10l-38 7m40-9l-37 8m34-2l-11 3m-13 2l-15 2m22-9l-14 2m24-5l-12 3m22 2l-11 3m-13 2l-14 1"/><path stroke="var(--aa)" d="M409 713l-21 6m17-6l-10 3m25-1l-29 10m26-11l-30 10m21-12l-9 3m12 0l-20 6m27-7l-30 10m20-10l-20 6m19-3l-21 6m33-5l-9 3m7-6l-30 10m18-12l-10 3m23-3l-29 9"/><path stroke="var(--ir)" d="M775 507l3-18m-2 17l3-18m-5 18l3-17m2 10l1-16m-5 23l3-17m-2 17l3-18m1 12l1-18"/><path stroke="var(--ph)" d="M536 621l2 4m-8-2l8 12m-6-13l2 4m2 4l4 4m-5-13l2 4m-6-2l8 12m-7-12l9 11m-9-1l3 4m-3-12l6 7m-2-3l3 3m-9-3l6 7m-5-3l4 4m-1-16l2 4m0-4l2 4m-7-2l8 12"/><path stroke="var(--iv)" d="M679 554l4-6m-3 8l9-13m-4 11l6-7m-1 6l10-15m-8 14l11-16m-2 13l6-10m-19 15l11-15m-1 9l5-9m-17 16l11-15m-1 9l5-9m-1 8l6-9m-19 11l5-7"/><path stroke="var(--p8)" d="M515 633l2 5m-11-1l4 14m-1-14l3 10m2-17l3 10m-7-4l4 10m-1-13l2 5m-10-1l4 14m-2-13l3 9m1-15l3 10m-5-8l4 14m3-16l2 5m-10-2l4 14m-2-13l3 9m-6-8l5 14m1-18l3 9m-1-8l2 4m-2-5l2 5m-9-5l4 14m-5-9l2 9m3-15l3 9m-12-6l1 6m1 4l1 5"/><path stroke="var(--ip)" d="M759 511l2-15m-2 14l2-14m2 17l3-16m-1 15l4-16m-4 13l3-16m-10 23l4-16m2 14l4-16"/><path stroke="var(--ov)" d="M496 653l1 5m0-44l9 25m-13-31l12 33m-15-28l2 8m2 6l4 13m-5-18l8 25m-1-39l3 7m2 7l6 12m-10-27l3 7m6 13l3 6m-23-9l1 7m1-18l10 32m-2-42l6 14m-12 8l4 13m-2-31l10 27m-7-32l6 15m-5 21l0 5m1 5l1 4m-1-13l1 5m1 5l1 5m-10-42l9 26m-14-11l1 6m10-31l7 15m-17-4l2 8m2 7l4 12m1-32l3 7m3 7l6 12m-18-10l4 13m4 0l1 5m1 5l1 5m-4-15l0 5m-10-30l2 7m2 7l4 13m5-2l3 14m-16-23l2 6m0-6l1 7m5-25l11 26m-12-22l9 26m-13-31l11 33m-6-34l11 27m-18-9l2 7m6-32l7 15m-2 25l1 4"/><path stroke="var(--it)" d="M795 493l1-19m9 16l2-22m-4 19l0-21m-7 25l1-19m-8 23l1-19m3 21l3-21"/><path stroke="var(--in)" d="M745 525l5-15m-4 14l5-14m2 5l2-14m-7 16l3-14m1 12l3-14m-3 16l4-14m-5 13l3-14m-8 23l5-14m-1 8l3-14"/><path stroke="var(--pg)" d="M538 625l3 3m-7-2l2 4m1-5l3 4m-5-4l3 4m0-5l3 3m-7-2l2 4m0-4l3 4m-1-4l3 4m-5-5l3 4"/><path stroke="var(--am)" d="M418 696l-7 4m19-8l-21 12m16-7l-15 8m18-10l-13 8m9-10l-14 8m19-7l-14 9m14-8l-14 9m9-8l-15 8m13-9l-7 4m16-2l-7 4m0-10l-14 9m13-5l-15 8m21-9l-13 9"/><path stroke="var(--ou)" d="M508 601l7 14m-10-13l11 20m-8-18l7 14m-12-3l2 7m-1-8l6 13m-4-23l9 20m-1-23l4 8m-12 8l6 13m-6-29l7 14m-7 19l3 5m-4-22l6 12m0-30l3 7m-7 11l6 12m-11-14l3 7m10-22l4 8m-9-7l7 14m-4-13l4 7m-10-5l7 14m-8-2l6 13m0-29l4 7"/><path stroke="var(--ol)" d="M479 650l-2 10m9-40l2 7m-15 7l0 25m-11-10l-2 6m14-22l0 30m-7-23l-1 13m5-1l-1 5m17-41l2 8m-4-3l3 14m-19 0l-1 19m17-32l3 14m-18 25l-1 5m19-49l2 7m-14 1l3 37m0-5l0 5m6-42l3 14m-14 19l-3 11m1-33l-1 31m2-10l-1 6m-8-13l-1 7m6-18l-1 25m13-38l4 26m-10 3l-1 6m13-37l2 8m-7 1l3 25m-16-15l-1 19m9-9l-3 16m-5-24l-2 19m15-32l3 25m-13-17l-1 25m0-24l-1 19m0-17l-2 25m14-43l4 20m-12-7l-1 30m-10-18l-1 6m10-19l-1 31m5-33l1 31m-5-10l-1 5m17-42l2 7m-23 16l-1 19m3 5l-1 5m-2-26l-1 13m21-36l3 14m-13-2l2 31m-4-27l0 31m1-12l-2 11"/><path stroke="var(--lj)" d="M540 585l5 7m5 6l11 9m11-44l11 11m-7 29l3 2m-11 1l3 3m-26-14l5 6m4-25l16 16m2 13l4 2m-11 4l4 2m-23-33l16 17m1 15l4 2m-12-43l16 17m-17-20l12 13 11 9m-15 20l4 2m-21-34l11 13 11 9m-4 11l4 2m-19-35l16 17m3 15l4 2m-10-43l17 16"/><path stroke="var(--iq)" d="M768 506l2-15m-2 19l4-17m3 9l1-16m-8 20l2-16m1 18l3-17m-6 22l4-18m-4 11l2-16m1 14l1-16"/><path stroke="var(--a9)" d="M417 709l-8 4m7-6l-29 10m27-8l-9 4m-10 3l-11 3m25-15l-10 4m15 0l-19 7m11-8l-9 3m20-2l-9 4m-9 3l-11 3m19-11l-10 3m22 1l-8 4m-4-8l-10 4m12-7l-9 4m17 2l-9 4m8-1l-9 4m2-8l-20 7m24-7l-8 4m3-7l-9 4"/><path stroke="var(--gw)" d="M378 743l-16 1m12 3l-16 1m19 14l-36 1m33-8l-17 1m20-11l-16 1m15 10l-16 1m16 0l-16 1"/><path stroke="var(--ok)" d="M471 655l-3 11m-6-24l0 7m-2 6l-1 6m7-8l-2 11m6-7l-2 6m-7-17l-3 12m10-4l-1 6m-5-17l-4 18m10-7l-4 11m-9-2l-3 5m20-13l-2 6m-10-14l-3 12m8 0l-2 5m-3-3l-2 5m14-8l-1 5m-7-24l0 6m-1 7l-3 12m14-8l-2 5m-4-4l-1 5m2-29l0 7m-2 19l-1 5m-12-2l-3 5m16-13l-3 10m6-9l-1 6m-7-10l-3 12m6-5l-2 5m8-7l-1 5m-10-3l-5 10m11-12l-1 6m6-7l-2 6m-4-8l-3 11m0-6l-5 10m8-12l-4 11"/><path stroke="var(--io)" d="M755 516l3-15m-1 14l3-15m-3 11l2-14m-1 14l2-14m-5 16l3-14m-1 17l4-16"/><path stroke="var(--ij)" d="M717 533l4-9m6 4l3-11m-5 13l3-11m-8 16l4-11m2 10l4-12"/><path stroke="var(--ii)" d="M707 539l4-8m-4 9l5-9m4 5l4-10m-14 13l4-8m2 8l5-10"/><path stroke="var(--bu)" d="M431 457l38 35m-29-26l35 34m-43-56l44 37m-47-33l41 37m-17-4l17 17m-45-53l43 37m-41-37l43 37m-25-11l18 17"/><path stroke="var(--a8)" d="M411 700l-9 3m8 2l-9 3m14-5l-9 4m4-6l-9 4m14-2l-8 4m8-3l-8 3m8-8l-18 8m20-1l-8 3m1-9l-9 3m7 0l-9 4m17-4l-8 3"/><path stroke="var(--pb)" d="M517 595l4 7"/><path stroke="var(--al)" d="M425 691l-7 5m11-9l-21 13m14-13l-6 4m14-9l-20 14m16-11l-13 9m17-5l-6 4m2-4l-14 8m5-7l-7 5m20-4l-6 5m-3-8l-6 5m10-8l-13 9m16-3l-6 4m8-8l-6 4m4-4l-21 13m22-10l-6 5"/><path stroke="var(--pa)" d="M522 595l5 7m-6-11l5 8m-3-14l10 15m-10-19l9 15m-9-6l5 7m-6-4l4 7m-5-20l9 16m-10-5l4 7m-3-18l10 15m-8-7l9 15m-12-16l9 15m-6-21l10 15m-11-3l4 7m-5-6l5 8m-4-24l10 16"/><path stroke="var(--o8)" d="M458 658l-2 6m0-16l-6 18m7-7l-2 6m3-19l-6 18m-1 0l-3 5m10-22l-6 18m-7-6l-3 6m4-6l-3 5m10-11l-4 12m5-12l-5 12m9-20l-5 18"/><path stroke="var(--lr)" d="M531 515l20 23m-34-11l18 24m-10-19l9 12m-10-16l9 12m-12-21l19 24"/><path stroke="var(--bg)" d="M469 492l27 31m-21-23l13 16m-12-35l41 46m-47-42l29 32 20 26m-51-61l30 32 21 27m-49-59l30 32 21 27m-58-53l15 17"/><path stroke="var(--c8)" d="M405 424l27 20m-32-18l27 19"/><path stroke="var(--o3)" d="M435 676l-5 5m6-12l-10 11m15-14l-13 16m11-17l-13 16m16-14l-3 5m-5 5l-4 5m7-7l-11 10m16-20l-13 16m9-7l-10 10m15-20l-8 11-10 10m13-18l-9 11m8-9l-9 10m18-12l-4 5"/><path stroke="var(--lo)" d="M529 569l11 16m-12-4l5 8m-4-15l6 8m-1-18l6 8m-13 8l5 7m-6-15l10 16m-6-12l6 8"/><path stroke="var(--ln)" d="M551 538l21 25m-37-12l19 25m-14-4l6 8m-12-36l21 27m-22-31l21 28m-20-6l11 16m-9-16l12 16m-8-35l21 26"/><path stroke="var(--ak)" d="M430 681l-12 9m8-10l-6 5m8-3l-6 5m4-6l-6 4m9-4l-12 9m11-6l-7 4m8-10l-6 5m5-4l-12 10"/><path stroke="var(--o7)" d="M444 661l-3 5m4-5l-3 6m-1-4l-4 6"/><path stroke="var(--oy)" d="M512 587l5 8m-13 1l4 8m3-13l5 8m-6-5l4 7m-3-8l4 7m-6-6l4 8m2-10l4 7m-7-6l4 8m-12-5l3 8m1-12l4 8"/><path stroke="var(--ox)" d="M518 587l4 8m-5-12l4 8m-3-10l5 9m-6-5l5 8m-4-13l5 8m-6-3l5 8m-5-7l4 8"/><path stroke="var(--lr)" d="M521 541l8 11"/><path stroke="var(--ln)" d="M527 552l7 10m-5-10l7 10"/><path stroke="var(--ls)" d="M519 543l8 11m-8-13l8 11m-17-6l8 11"/><path stroke="var(--ov)" d="M494 606l3 8m0-14l3 8m1 26l0 5m-5-39l3 8m-4-6l3 8m-4-4l3 8m-2-14l3 8"/><path stroke="var(--lo)" d="M515 548l14 21m-12-15l12 20m-2-20l7 10m-14-1l6 9m-8-15l12 19"/><path stroke="var(--al)" d="M418 690l-8 4m6-3l-8 5m5-6l-7 4m7 0l-8 4m10-5l-8 4m9-8l-7 4m10-5l-7 4"/><path stroke="var(--lp)" d="M523 572l5 9m-15-29l7 11"/><path stroke="var(--ac)" d="M378 736l-15 1"/><path stroke="var(--bg)" d="M496 523l19 25m-49-52l36 44m-14-24l21 27m-46-49l27 30 18 26m-38-52l35 43m-30-31l12 15m9 13l9 13m-27-46l32 41m-54-56l28 31"/><path stroke="var(--o3)" d="M439 667l-10 10m15-11l-9 10m1-11l-9 11m9-10l-9 10m7-5l-5 5m12-6l-4 5m-5-8l-5 5m12-5l-9 10m1-10l-4 5m5-6l-5 6m15-3l-4 5m-5-6l-5 5m8-3l-10 10m14-11l-15 15"/><path stroke="var(--ox)" d="M510 552l13 20m-17-16l17 29m-12-23l12 19m-16-19l11 19m-9-20l12 19m-17-17l6 10m5 9l5 9m-12-41l19 30m-17-20l11 20m-15-20l12 20m-6-18l11 19m-13-22l12 19"/><path stroke="var(--oz)" d="M497 599l4 8m-3-20l4 9m-9 3l3 8"/><path stroke="var(--b2)" d="M502 540l8 12m-1-9l8 11m-12-13l8 11"/><path stroke="var(--oy)" d="M500 584l8 17m-6-33l10 19m-14-2l7 17m2-33l11 18m-18 0l4 9m-2-24l9 19m-5-27l11 19m-15 13l4 8m-5-28l9 18m-14 0l4 9m-2-19l8 17m-10-8l3 9m3-20l9 17m-5-33l11 19m-7-12l5 9m-18 12l3 8m1-28l10 19m-2-24l11 18m-19-3l9 17m-10-24l9 17m-2-28l10 19m-12-11l10 18m-9-24l11 18m-14-10l9 17m-12-5l4 8m-8-4l3 9m5-18l4 9"/><path stroke="var(--ab)" d="M382 731l-13 2m15-5l-13 2m6 2l-14 2m15-7l-14 2m12 5l-15 1m17-2l-15 1m19-3l-15 2m21-9l-13 2m2 4l-15 1m25-6l-13 2"/><path stroke="var(--bu)" d="M406 445l23 17 37 34m-49-48l23 18m-17-5l20 17m-18-19l38 35m-44-35l21 17m-30-30l43 35m-30-20l37 34m-37-42l22 18m-28-15l39 34"/><path stroke="var(--ak)" d="M429 677l-19 13m10-5l-14 8m10-8l-8 5m6-4l-7 4m13-5l-7 5m-2-8l-8 4m14-1l-7 4m5-7l-15 9m30-14l-19 14m4-9l-15 8m16-9l-15 9m16-7l-15 8m21-8l-14 9m17-12l-21 13m20-9l-6 4"/><path stroke="var(--iu)" d="M818 475l-3-22"/><path stroke="var(--is)" d="M788 492l-1-17m3 16l-1-18m5 17l0-19m5 14l-2-18"/><path stroke="var(--ol)" d="M473 644l-2 11m11-51l4 16m-17-17l4 31m-10-5l0 7m8-26l3 23m13-28l3 8m-23 6l0 14m7 8l-3 11m13-43l3 7m-6-11l4 16m3-14l3 8m-24-2l2 22m-6-6l-1 7m19-29l4 15m-15 27l-2 5m8-15l-4 16m14-46l2 8m1-12l3 8m-18-3l2 15m-7 23l-2 5m14-49l4 16m-9 22l-2 11m13-51l5 16m-23-10l3 23m4 10l-3 11m-9-27l0 7m3-20l2 22m8-29l4 16m-4 18l-2 11m16-46l3 8m-11-8l4 15m-10-15l5 24m-14-12l1 22m9 5l-1 5m10-43l3 8m-23-2l2 22m8-29l5 23m-13-14l3 22m-3 13l-2 6m19-54l5 16m-22-2l2 22m-4-28l3 30m8-34l4 16m-11-10l3 23m-10-2l-1 7m24-35l3 9m-21-3l3 23m-3 15l-2 5m5-45l4 23m-1 9l-3 12m12-46l4 15m-3-14l3 8m-22 1l1 22m7 7l-3 11m-6-37l1 15m24-32l3 8m-12-8l5 16m-14-11l4 23m-5-19l3 23m11-30l5 16m-13 22l-2 11m-8-1l-2 5"/><path stroke="var(--bf)" d="M475 520l10 14m-29-37l35 43m-25-37l32 42m-38-50l36 44m-40-44l36 44m-33-38l24 30m-26-38l36 44m-40-41l14 15m-10-18l27 30 18 26m-48-57l37 45m-27-32l23 29m-27-39l15 15m12 15l9 13m-37-37l24 30m1-10l19 27"/><path stroke="var(--iv)" d="M677 552l6-10m0 6l4-6m4 5l4-7"/><path stroke="var(--iq)" d="M772 500l0-15m-3 18l0-15m5 13l0-16m-1 16l1-16"/><path stroke="var(--ij)" d="M730 523l2-10m-7 15l3-11m-8 13l3-9m-5 11l4-10m9 0l2-10m-4 13l2-10m-7 9l2-9m5 8l2-11m-15 21l3-10m9-1l2-10m-5 13l2-10m1 11l3-11"/><path stroke="var(--l7)" d="M595 590l4 2m-8 1l3 1"/><path stroke="var(--it)" d="M804 483l-2-20"/><path stroke="var(--ll)" d="M544 611l4 8m-3-9l4 7m-1-5l3 4m-6-5l5 7m-8-5l2 4m0-6l5 8"/><path stroke="var(--a9)" d="M399 708l-22 6m24-6l-35 8m29-1l-11 3m13-8l-23 6m23-6l-22 5m22-4l-23 5m16-5l-12 2m9-3l-12 2m13-2l-11 2m18 4l-12 3m16-9l-23 6"/><path stroke="var(--oq)" d="M488 545l8 12m-5-17l8 13m-1-8l8 11m-10-17l8 12m-12-12l8 12m-8-7l8 12m-7-19l9 12m-11-12l8 12m-6-5l7 12m-8-11l8 12"/><path stroke="var(--im)" d="M744 518l3-13m-1 7l0-11m2 11l1-12m-1 14l2-13m-5 15l1-12m-2 14l2-13"/><path stroke="var(--gw)" d="M367 749l-18 1m13-6l-17 0m13 4l-18 0m17 8l-19 0m27-12l-17 0m13 2l-18 0m17 11l-19-1m19 2l-19 0m29-11l-16 1"/><path stroke="var(--ir)" d="M780 495l-1-16m-2 21l0-17m1 16l0-16m3 12l0-17m4 14l-1-16"/><path stroke="var(--p7)" d="M516 625l1 5m4-8l1 5m-9-2l1 5m7-7l1 4m0-6l3 9m-8-3l2 4m7-11l1 5m-6-3l2 4m-8 2l1 4m4-12l3 9m-3-3l2 5m4-11l2 4m-5-6l3 10m0-8l1 5m-5-3l1 4m-9 2l1 5m5-11l1 5m-1-8l2 9"/><path stroke="var(--lj)" d="M593 589l2 1m-7 1l3 2m-8 0l6 4m-10-1l6 5m-12-1l3 3m-11 0l3 3m-1-7l5 6m-12 0l5 6m-5-2l3 3m10-13l7 5m-14-2l5 6m3-10l6 5m-13-2l6 6m-13 1l3 3m-2-7l6 6m11-15l6 4"/><path stroke="var(--ip)" d="M766 504l0-14m4 10l-1-15m-9 22l1-14m7 11l0-15m-8 19l1-14"/><path stroke="var(--a8)" d="M402 703l-21 6m19-6l-22 6m24-9l-21 6m24-8l-20 6m16 1l-21 6m24-10l-20 6m16 1l-10 3m-2-7l-12 2m27-8l-9 4m3 5l-10 3m14-7l-21 6m27-9l-31 9m23-2l-11 3"/><path stroke="var(--pg)" d="M538 613l4 8m-6-8l3 9m-5-7l2 4m3-3l2 5m-3-7l2 4"/><path stroke="var(--ph)" d="M534 616l2 5m-7-3l1 5m0-6l2 5m1-5l2 4m-5-3l1 5m1-7l3 9m-4-6l1 4m4-4l2 5m-8-8l2 9m5-13l2 4m-9 0l4 9m-1-9l1 5m0-4l2 4m-7-3l2 5m1-8l4 9"/><path stroke="var(--ok)" d="M475 638l-2 6m-10-8l-1 6m-2 3l-9 16m5-10l-3 5m14-23l0 7m-5-7l-1 13m1-10l0 7m9 0l-1 6m-8-3l-7 17m6-23l-1 7m11-5l-2 6m-2 5l-2 6m2-15l-7 17m-1-14l-8 17m13-21l-10 22m10-33l0 7m-9 14l-3 5m10-13l-8 17m17-20l-2 6m-6-10l0 7m7-4l-1 6m-2 5l-2 6m0-11l-5 11m15-20l-1 6m-8-11l0 7m-7 5l-5 11m14-15l-6 17m9-19l-4 12"/><path stroke="var(--p8)" d="M516 620l0 5m-3-2l2 10m-10-6l1 10m2-10l1 10m0-11l1 10m7-14l0 5m-5-4l1 10m-9-6l1 10m1-9l1 10m3-11l1 5m-3-9l1 11m5-12l1 6m-8-3l1 10m11-14l1 5m-12 0l2 10m-4-9l1 10m4-14l2 10m-11-1l1 5m11-13l1 10m-2-11l1 5m-7 0l1 5m-2-5l1 10m5-11l0 5"/><path stroke="var(--bt)" d="M407 457l21 16m-12-10l20 17m-29-24l22 17 33 32m-43-41l37 33m-47-44l22 17 35 33m-23-25l17 17m-41-33l37 33m-54-43l22 17 35 32m-40-42l38 34m-41-30l37 33m-13-20l17 17m-42-34l39 33m-45-36l21 16 34 33m-62-53l22 17 35 32m-55-46l40 33"/><path stroke="var(--aa)" d="M388 719l-26 4m25-6l-26 4m23-2l-13 2m13-3l-13 2m16 4l-13 2m14-8l-26 4m29-1l-26 4m10 1l-14 2m27-8l-27 4m25-1l-13 2m16-9l-26 4m20-1l-13 2m19 1l-27 4"/><path stroke="var(--a7)" d="M402 694l-10 4m16 2l-8 3m10-9l-29 11m16-8l-10 3m21-4l-30 9m28-11l-19 7m23-5l-8 4m10-3l-8 4m-1-6l-20 6m27-6l-29 10m26-8l-19 7m24-10l-9 4m-9 4l-10 3m17-9l-20 6m28-9l-29 10m16-6l-10 3m26-8l-28 11"/><path stroke="var(--ii)" d="M704 538l3-8m5 5l3-9m7 2l2-9m-13 12l1-8m6 7l2-9m-8 10l2-8m-3 13l3-9m7 1l2-9m-14 17l3-9m8-1l1-8m-10 14l2-8m4 5l2-9m3 8l2-9"/><path stroke="var(--be)" d="M461 506l23 28m-28-31l23 29m-27-36l36 43m-26-34l13 15m-16-10l22 28m-34-39l25 30m11 2l9 13m-25-33l22 28m-27-32l23 28m-39-37l26 29m-25-26l13 15m23 15l10 13m-44-47l36 43m-25-37l24 30m-35-34l25 30"/><path stroke="var(--ih)" d="M689 543l3-6m3 3l2-7m3 5l2-7m1 5l2-7m-6 10l2-7m2 7l4-8m-10 9l3-7m1 7l4-7m-13 10l3-6"/><path stroke="var(--ow)" d="M481 639l-2 11m11-15l0 11m5-13l0 10m-5-12l-1 11m1-7l0 11m2-12l-1 10m3-15l-1 11m-5-8l-1 11m-4-7l-2 11m-3-11l-2 6m16-11l-1 11m9-15l0 11m1-9l0 5m-9 1l-1 11m-1-14l0 11m-11-6l-1 6m10-10l-1 11m14-12l0 5m-5-3l0 5m4-7l0 5m-3-8l0 10m-4-9l-1 11m-3-7l-1 11m2-14l-1 11m2-8l0 10"/><path stroke="var(--op)" d="M493 547l7 12m-24 27l6 18m7-41l11 21m-31 17l2 9m12-31l11 27m-16-35l15 37m-12-21l6 18m9-48l6 11m-6-16l7 11m-24 28l5 18m-6-12l3 8m6-41l11 21m-20-5l10 27m6-60l13 22m-23-13l16 31m-25 2l6 18m3-35l13 28m-8-50l13 22m-17-1l12 28m2-46l7 11m-18 3l10 20m-22-5l10 27m-7-31l10 27m-17-4l2 9m15-56l12 22m-23 20l3 8m1-39l14 29m-16-10l7 18m17-51l7 11m-23 1l10 21m-18-14l13 29m-11-35l14 29m4-42l7 11m-16-1l11 21m-2-26l6 10m-4-17l7 12m-29 15l11 28m-15-18l7 18m14-53l7 12m-21 1l14 30m-20-16l10 27m6-57l8 11m1-10l8 11m-26 11l12 29m-7-47l12 21m-22 8l7 18m13-51l7 11m-10-13l13 22m-33 26l2 9m-9-2l2 8m13-57l17 31m-24-8l10 27m18-52l7 11m-24-7l12 22m0-21l7 10m-29 21l6 18m-5-17l6 18m-2-32l12 28m-10-40l10 21m-2-31l12 22m-5-17l6 11m-15-14l12 22m-25-7l16 37m-16-33l12 28m-15-19l6 19m2-29l12 28m-11-43l16 31m-31 14l2 8m8-25l6 18m-3-41l14 30m7-44l7 11m-23-7l17 31"/><path stroke="var(--io)" d="M762 506l0-14m-2 14l0-14m1 13l-1-14m2 13l0-14m-7 21l2-14m2 13l1-14"/><path stroke="var(--c8)" d="M377 422l29 17 25 18m-53-28l28 16m-16-14l27 17m-45-41l33 17m-35-11l32 17 27 18m-30-4l24 17m-22-19l24 17m-31-17l25 17m-36-30l27 17m-11-2l24 17m-58-51l32 17 28 18m-58-35l33 16m-3 10l26 17m-31-13l25 16"/><path stroke="var(--o8)" d="M461 605l2 16m-12 40l-3 6m5-11l-6 11m19-56l1 8m-16 6l-1 7m-1 7l-1 7m-1-5l-2 6m16-37l1 15m-9-4l-4 28m-2 6l-3 6m22-57l1 9m-6-7l1 16m-4-10l0 16-2 20m5-37l1 15m0 7l-1 7m-9-21l-4 28m6-26l-4 28m-2 6l-3 6m13-51l1 15-1 21m-10 14l-3 5m18-56l1 8m2-14l1 9m-15 46l-3 6m10-54l1 16-2 21m-5-28l-3 28m-2 6l-3 6m4-1l-3 6m3-41l-1 7m14-22l2 16m-10-6l-4 28m-2 7l-2 6m5-37l0 7m-1 8l-2 6m4-19l-3 21m-5 13l-3 5m16-52l0 23-4 19m12-46l1 8m-2-5l1 8m-11 38l-6 11m5-11l-7 11m11-57l0 23-3 20m4-45l2 16-2 21"/><path stroke="var(--aj)" d="M420 670l-21 14m27-19l-10 10-15 9m26-8l-11 9m11-9l-13 10m15-18l-18 14m18-6l-12 9m1-12l-7 4m16-5l-12 10m12-10l-12 10m-6-7l-7 5m25-8l-11 9m-3-6l-15 9m30-11l-11 10m9-18l-11 10-14 9m16-10l-7 4m15-7l-20 13m19-15l-18 14m20-18l-11 10-14 9"/><path stroke="var(--o7)" d="M450 651l-11 16m2-33l-5 14-7 12m13-26l-8 19-8 12m27-15l-9 16m6-34l-1 7m-1 7l-12 23m14-42l-3 14m-2 6l-9 18m13-16l-2 6m2-28l-4 21-9 18m12-19l-9 18m11-16l-2 6m-10 2l-9 11m17-13l-12 16m18-17l-4 6m-3 5l-4 5m6-41l-5 20-10 18m17-3l-4 5m5-18l-11 16m8-38l-5 20-11 18m5-25l-6 12m20-7l-2 6m-1-25l-5 21-10 17m6-25l-10 18m24-6l-3 5m-3 6l-4 5m6-39l-5 20-10 18m8-34l-7 19-8 12m24-19l-2 7m-13 7l-10 11m26-42l-1 8m-2 6l-10 24m11-22l-5 13m-8-18l-6 13m18 1l-12 16m7-38l-6 20-8 12m13-30l-8 20-8 11m25-12l-11 16"/><path stroke="var(--il)" d="M740 516l1-11m0 10l0-11m-3 16l2-12m0 10l1-12m-1 14l2-12m-6 11l2-11m1 9l2-11m0 12l1-12"/><path stroke="var(--of)" d="M484 534l9 13m-14-15l9 13m0-6l8 13m-11-18l9 13m-17-3l7 12m-3-18l8 12m-17-21l17 25m-13-17l8 13m5-11l8 12m-12-16l8 13m-12-8l8 13m-2-19l9 13m-24-17l16 25m-3-15l8 12m-9-19l8 12m-9-3l8 12m-14-9l7 12m-6-18l9 13"/><path stroke="var(--lk)" d="M547 608l4 7m4-11l4 7m-10-2l5 7m4-11l2 4m-14-1l2 4m7-8l5 7m-2-8l4 7m-13 0l2 4m7-10l2 4m-13 0l4 7m0-7l5 7"/><path stroke="var(--o9)" d="M463 621l0 8m-1-4l0 8m0-11l1 7m-1-3l0 7m2-16l0 8m2-17l2 8m0-12l1 9m-2-7l2 8m-5 10l0 7"/><path stroke="var(--ik)" d="M734 521l2-11m-3 12l2-11m-1 9l1-10m-4 14l2-11m0 6l1-10m3 9l1-11m-2 12l1-11m-3 13l1-11"/><path stroke="var(--in)" d="M751 512l1-13m-2 11l0-12m1 16l1-14m-1 10l0-12m3 12l0-13m-4 16l1-13m0 11l0-13"/><path stroke="var(--gv)" d="M369 734l-16 1m18 3l-15 1m8 1l-17 1m16-4l-16 0m26-3l-16 1m9 4l-17 1m17 0l-17 0m17-3l-16 1m19-2l-16 0m11 5l-17 0m25-7l-15 1m14-2l-16 1m13 6l-16 1"/><path stroke="var(--a6)" d="M410 690l-8 4m-10 4l-10 3m24-8l-9 4m11-7l-17 7m16-7l-18 7m14-11l-9 4m16-1l-18 8m8-6l-9 3m20-3l-8 4m-3-5l-9 4m10-4l-9 4m10-3l-9 4m16-3l-8 4m4-3l-9 4m10-14l-8 4"/><path stroke="var(--ie)" d="M797 485l-2-18"/><path stroke="var(--bs)" d="M428 473l33 33m-61-51l22 16 34 32m-20-23l16 16m-45-34l20 16 32 32m-47-42l35 31m-25-21l32 31m-46-51l21 16 33 33m-52-41l36 32m-21-16l17 16m-30-29l35 32m-34-37l36 33m-5-9l16 15m-47-35l36 31m-23-18l31 30"/><path stroke="var(--nv)" d="M429 660l-4 5m5-11l-4 6m2-1l-4 6m6-12l-4 6m5-11l-7 12m5 4l-5 5"/><path stroke="var(--p9)" d="M501 627l0 5m1-6l0 6m1-2l0 5"/><path stroke="var(--od)" d="M483 552l6 11m-11 5l5 11m-2-26l6 11m-8-3l5 11m-5-12l6 11m-3-15l6 11m-12-14l6 12m-1-13l7 11m-13-11l7 12m2-14l7 11m-16 5l5 10m-4-23l7 11m-5-13l7 11m-10-11l7 11"/><path stroke="var(--gu)" d="M369 733l-16 1m18-4l-16 1m19-5l-15 1m8 6l-15 1m21-9l-15 1m16 1l-15 1"/><path stroke="var(--oo)" d="M477 578l4 9m-6-5l4 9m-4-3l3 9m-3-11l3 10m-3 0l2 9m-3-9l3 8m-3-9l3 9m-7-6l2 9m3-29l4 10m-9 9l2 9"/><path stroke="var(--bd)" d="M453 511l22 28m-23-26l12 14m-20-25l23 29m-25-29l24 29m-14-19l12 14m-10-17l22 28m-28-24l11 14m13 0l9 13m-25-27l21 27m-17-24l12 14m-24-20l22 28m4-9l9 13m-39-39l24 29m-23-21l22 27m-10-27l21 28"/><path stroke="var(--if)" d="M800 482l-3-18m3 19l-3-18"/><path stroke="var(--oe)" d="M475 539l8 13m-10-12l8 13m-9-5l7 12m-4-16l7 12m-14-15l8 12m-3-13l8 12m-13-5l7 12m-8-19l8 12m-6-12l7 13m1-13l7 13m-14-15l8 13m-10-19l9 13m-10-7l8 13"/><path stroke="var(--ai)" d="M425 665l-5 5m3-2l-5 5m8-13l-17 15m15-10l-11 10m6-4l-7 5m16-12l-11 10m9-15l-17 15m15-14l-18 15"/><path stroke="var(--oj)" d="M454 649l-2 5m5-7l-2 6m0-6l-3 6m4-2l-3 5"/><path stroke="var(--c7)" d="M396 448l23 16m-36-27l26 16m-14-8l24 17m-25-19l25 16m-27-12l24 16m-25-20l24 16"/><path stroke="var(--id)" d="M782 492l-1-16m5 15l-2-17"/><path stroke="var(--br)" d="M422 481l31 30m-15-13l14 15m-24-26l16 15m-18-15l16 15m-4-5l14 15m-10-14l14 15m-22-18l14 15m-20-22l16 15"/><path stroke="var(--ig)" d="M812 475l-4-19"/><path stroke="var(--o1)" d="M467 531l10 13m-13-7l8 12m-8-14l8 13m-6-17l9 13m-12-8l8 13m-9-12l9 13"/><path stroke="var(--bc)" d="M464 527l9 13m-20-19l11 14m-16-21l20 27m-4-15l9 14m-27-28l21 28m-8-13l10 13"/><path stroke="var(--oc)" d="M472 576l4 10m-10 8l3 9m-2-11l2 9m3-44l6 11m-5-8l5 11m-6-4l5 11m-13 24l2 9m5-40l4 11m-4-4l4 10m-1-18l4 10m-6-1l3 10m-3-40l7 12m-7 11l4 10m-2-14l5 10m-10 14l3 9m-1-25l4 10m-4-23l9 21m-13 15l2 9m6-49l5 11m-9 16l4 10m-3-20l4 10m-5 0l3 10m-9 3l1 9m6-41l5 11m-12 24l2 9m4-26l3 10m-8 1l2 8m3-55l13 22m-9 1l4 10m-14 15l2 9m-2-6l2 8m6-23l3 10m-10-2l3 9m3-37l5 11m-10 24l2 9m-2-20l3 9m4-21l4 10m-7-35l12 22m-20 24l2 9m-2-5l1 8m9-52l5 11m-5-7l5 11m-7-23l12 22m-16 21l2 9m5-27l5 10"/><path stroke="var(--a5)" d="M405 684l-8 4"/><path stroke="var(--ah)" d="M425 654l-9 11"/><path stroke="var(--in)" d="M750 510l0-12"/><path stroke="var(--bd)" d="M441 507l12 14"/><path stroke="var(--oe)" d="M465 545l7 12m-6-9l7 12m-10-11l6 12m-4-15l8 12"/><path stroke="var(--ll)" d="M547 606l2 4"/><path stroke="var(--bs)" d="M403 465l19 16m-20-18l20 15m-16-11l19 15m-19-17l20 16"/><path stroke="var(--aj)" d="M407 677l-7 4m6-2l-8 4m13-6l-7 5m3-4l-8 4m8-5l-7 4m12-5l-15 8m13-7l-8 4m8-3l-7 4"/><path stroke="var(--a9)" d="M381 709l-13 2m9 3l-13 1m10 1l-14 1m20-6l-13 2m8 2l-14 2m13-1l-14 2m18-5l-13 2m10-3l-14 2m16-2l-13 2m12 2l-13 1"/><path stroke="var(--bc)" d="M433 504l23 28m-21-24l22 27m-15-26l22 28m-23-19l11 13m-16-25l23 28m-18-19l11 14m-11-21l22 28m-21-24l21 27m-29-34l23 28m-21-23l22 27m-17-27l21 27"/><path stroke="var(--o8)" d="M451 609l0 16m-1-14l0 16m3-14l0 8m-3-9l-1 15m2-16l1 8m2-6l0 8m-7-15l0 23m1-15l-1 15m6-18l0 8m-5-6l-1 15m1-21l1 16m4-13l1 8m-3-12l0 16m1-14l0 16m-7-6l-1 7"/><path stroke="var(--im)" d="M747 510l0-11"/><path stroke="var(--ai)" d="M416 665l-21 14m31-17l-19 15m-1-5l-8 4m32-17l-11 11-13 9m3-9l-15 9m8-8l-7 4m10-3l-8 5m4-7l-8 4m12-4l-7 5m31-12l-6 5m-2-4l-20 14m25-14l-19 14m-3-7l-7 4m29-12l-19 14m22-16l-10 10m9-9l-18 15m11-14l-20 14m3-7l-7 5m12-1l-7 5m4-4l-7 4m5-10l-7 5m10-3l-7 4"/><path stroke="var(--br)" d="M402 467l36 31m-29-26l19 15m-1 7l15 15m-33-32l32 30m-34-35l19 15m-27-18l19 15 30 30m-46-48l36 31m-41-29l19 15 30 29m-48-44l20 15 30 30m-51-48l37 30m-24-23l18 16m-33-22l19 15 31 30"/><path stroke="var(--oc)" d="M461 554l11 22m-12-1l6 19m-9-7l4 18m-18-2l1 8m16-39l7 20m-1-36l6 11m-13 17l5 18m-14-2l1 9m14-49l6 11m-22 32l1 8m11-55l10 22m-17 4l7 28m-10-14l2 17m15-54l6 11m-17 6l9 28m-10-17l5 19m-12-2l1 8m11-55l11 22m-17 16l3 17m-4-28l7 27m-11-9l1 9m15-50l6 11m-21 24l3 17m14-57l6 12m-17-7l12 31m-9-38l11 22m-16 16l3 18m6-58l7 11m-15 6l11 30m-11-18l7 28m-6-34l9 28m-20-6l1 9m16-40l8 20m-2-32l6 12m-14-13l11 23m-26 21l2 17m14-48l9 20m-12-6l6 19m-9-6l3 17m-7-8l1 9m13-55l6 11m-12 17l5 18m-19-6l2 17m14-48l9 20m-17-19l12 30m3-35l6 11m-21-5l11 30m-9-26l9 29m-18-2l1 9m16-42l9 20m-30 18l1 8m15-38l7 20m-8-3l4 18m-10-7l1 9m12-57l7 12m-15 6l10 29m-8-31l8 20m-18 8l2 9m12-51l11 22m-24 23l2 8m13-52l10 22m-20 24l2 9m4-22l2 9m-5-15l5 19m3-52l7 12m-8-1l10 21m-31 19l1 9m14-43l11 30m-14 4l1 9m-14-7l1 9m16-39l7 20m-4-40l11 22m-17 25l1 8"/><path stroke="var(--o1)" d="M454 542l7 12m-13-4l6 12m2-30l9 13m-8-10l9 13m-16-17l16 25m-16-20l15 24m-11-16l7 12m-8-22l15 25m-22-26l15 24m-9-20l14 24m-14-30l16 25m-18-6l7 11m-5-19l8 12m-3-15l7 13m-5-18l9 13m-7-5l8 12m-15-13l7 12m-11-22l16 25m-12-20l9 13m-13-8l7 12m-9-2l6 11m4-21l7 12m-9-10l7 12m-14-23l16 24m-2-17l8 13m-14-19l8 13m-7-9l8 13m-16-13l15 24m-16-10l6 11m0-21l8 12"/><path stroke="var(--pg)" d="M537 608l1 5m3-4l1 4"/><path stroke="var(--lk)" d="M558 601l2 4m-4-4l2 4m-8-1l1 4"/><path stroke="var(--il)" d="M741 513l0-10"/><path stroke="var(--ic)" d="M780 491l-2-15m-6 21l-1-14m5 12l-2-15m-2 15l-2-13"/><path stroke="var(--lj)" d="M589 584l4 5m-7-1l2 3m-7-1l2 3m-6 1l2 2m-8 1l2 3m-10 0l2 3m6-7l2 3m-9 0l2 3m6-7l2 3m-9 0l2 3m-7-1l1 4m16-12l1 3"/><path stroke="var(--c8)" d="M359 416l31 15m-19-2l28 15m-26-18l28 16m-50-27l32 14m-12 0l28 15m-32-24l30 16m-34-11l29 15"/><path stroke="var(--a8)" d="M378 709l-13 2m16-6l-12 2m9-2l-12 2m21-6l-11 3m5 2l-12 2m16-4l-25 4m24-1l-26 4m23-6l-12 2m7-1l-12 2m20-3l-25 3m21-5l-12 2m12 4l-13 2m9-2l-13 2m21-8l-25 4"/><path stroke="var(--ph)" d="M533 612l1 4m-6-2l1 4m0-5l1 4m5-8l1 4m-4-1l1 5m-4-3l1 4m1-6l1 4m-2-7l1 10m-6-9l1 10m8-10l0 5m-5-4l1 5m0-5l0 5m-4-6l0 10m-1-10l1 10m6-8l1 4m0-4l1 5m3-8l1 5m-10 0l1 4m3-7l0 4"/><path stroke="var(--bb)" d="M439 517l11 14m-22-22l22 27m-20-29l23 27m-23-24l22 27m-16-24l21 26m-5-10l9 13m-17-14l10 13m-14-23l10 13m-17-22l21 27m-17-22l21 27m-22-24l20 26m-18-25l11 14m-20-22l12 14m-6-10l20 27"/><path stroke="var(--ik)" d="M728 519l1-9"/><path stroke="var(--ny)" d="M455 564l5 11m-6-13l6 10m-3-18l6 12m-7-12l6 12m-6-13l6 12m-5-12l7 12m-10-3l5 11m-5-15l5 11m-6-13l6 11m-4-5l5 11"/><path stroke="var(--gu)" d="M355 731l-17 0m25 3l-17 0m18-5l-16 0m11-2l-16 0m14 8l-17 0m21-7l-16 0m12 7l-17 0m22-4l-16 0m9 3l-18 0m22-6l-16 1"/><path stroke="var(--o7)" d="M453 645l-3 6m-7-39l-2 22m-3-13l-6 21m12-31l-2 23m-3 12l-13 16m16-19l-12 16m6-31l-2 7m15 5l-11 17m14-13l-6 11m-1-14l-16 22m10-20l-13 16m17-17l-17 22m15-51l-1 15-4 14m7-1l-17 22m16-51l-1 15-3 14m4 4l-13 16m15-21l-16 22m16-51l-3 23m-5 13l-9 11m18-16l-17 22m22-26l-15 22m6-49l-2 15-3 14m4-27l-2 15-7 20m20 1l-3 5m-3-44l0 8m-1 7l-1 7m1-20l-2 22m-8 11l-4 6"/><path stroke="var(--p7)" d="M520 612l1 10m-1-10l1 11m1-8l0 6m-1-4l0 5m-1-7l0 5m-1-4l0 5m4-8l0 5m-2-7l1 11m-3-5l1 5m0-9l0 6"/><path stroke="var(--ij)" d="M721 524l0-9m1 7l0-8"/><path stroke="var(--ii)" d="M715 526l0-7m-1 8l1-8m6 4l0-8"/><path stroke="var(--a6)" d="M381 691l-11 2m23-5l-21 6m19 3l-11 3m9-3l-11 3m16-10l-21 6m19 1l-10 3m-2-11l-11 2m22 3l-10 3m10-3l-10 3m11-3l-10 3m-3-7l-11 3m25 2l-11 3m1-7l-11 2m25-5l-32 8m33-9l-32 9m16-5l-11 3"/><path stroke="var(--au)" d="M422 643l-4 6m7-8l-3 6m3-9l-3 7m4 4l-4 6m2-14l-4 6m5 1l-4 6m2-27l-2 7"/><path stroke="var(--ok)" d="M464 633l-4 12m4-12l-8 18m3-13l-3 6m20-9l-2 6m-1-4l-2 6m-4-9l-5 12m10-10l-1 6m-11-5l-6 12m17-16l-4 11m-3-9l-5 12m9-16l-4 12m-2-8l-5 12m-1-8l-3 6m14-12l-5 12m11-8l-2 5m-11-7l-5 12m17-12l-2 6m-1-6l-4 12m-1-14l-5 12m4-12l-7 18m14-16l-2 6m-11 0l-3 6m19-13l-2 5"/><path stroke="var(--a5)" d="M399 684l-18 7m20-7l-8 4m-2-4l-10 3m17-4l-19 6m25-7l-29 10m24-10l-19 7m22-9l-27 10m25-9l-30 10m28-7l-19 6m18-6l-20 6m25-9l-28 10m27-7l-18 7m20-9l-29 10m20-9l-19 6m6-3l-11 3m31-5l-19 7"/><path stroke="var(--ah)" d="M414 655l-19 14m32-18l-9 11-12 10m16-25l-15 16-15 9m33-18l-16 16m-10-5l-7 5m32-20l-9 11-13 10m24-20l-9 12-12 9m8-16l-19 14m31-20l-11 11-13 9m21-15l-17 15m21-11l-5 5m-24 1l-8 4m36-19l-9 11-12 10m14-19l-10 10-14 9m4-6l-8 4m37-11l-6 5m1-10l-11 10-15 9m20-19l-11 10-15 9m27-16l-20 14m31-19l-24 19m17-16l-17 15m26-18l-23 20"/><path stroke="var(--ob)" d="M443 604l0 8m10-35l4 10m-2-14l4 11m-11 7l2 9m-3-6l2 9m-1-17l3 10m2-18l3 9m-9 8l2 9m3-18l3 9m-6-2l1 9m-1-15l2 9m1-14l3 10m0-23l4 11m-6 3l3 10m-6 0l2 9m4-28l4 10m-5-4l3 10m-8 2l2 9m-5-13l2 9m-1-6l2 9m1-16l4 18m-2-33l8 20m-7-16l4 10m-7 0l5 18m-4-20l5 19"/><path stroke="var(--ih)" d="M683 542l2-5m2 5l2-10m3 5l1-5m4 1l0-5m5 3l0-6m5 5l1-7m-7 9l1-6m5 5l1-7m-8 9l0-6m5 6l1-7m6 1l1-7m-3 11l1-8m-16 14l1-6"/><path stroke="var(--bq)" d="M400 475l33 29m-30-25l32 29m-37-29l17 14m-5-14l17 15m-32-19l18 14 28 29m-35-34l16 14m-18-21l32 29m-43-34l19 14 29 29m-48-39l18 13m-2-10l32 29m-40-27l17 14m-26-27l20 15 30 29m-41-35l33 28m-28-24l30 29m-27-30l32 30"/><path stroke="var(--nv)" d="M438 613l0 8m-6 21l-7 12m6-38l-1 7m-2 7l-2 7m12-28l-3 23-8 19m6-38l-5 22m10-22l-2 15m-2 7l-9 19m5-45l-2 15m8-15l-3 22-9 19m13-40l-2 22-9 19m6-41l-4 22m8-17l-2 15-8 19m3-39l-1 8m8-10l-2 23-9 19m8-39l-1 8m-1 7l-2 7m0-24l-2 15m4-11l-1 7m-1 8l-2 6m8-20l-4 21m-3 7l-3 6"/><path stroke="var(--oj)" d="M456 639l-3 6m3-1l-3 6m2-12l-3 6m1 1l-3 6m7-14l-6 12m8-14l-2 6m-3 6l-3 6"/><path stroke="var(--lp)" d="M546 603l1 5m-4-1l1 4m0-6l1 5m1-6l0 4m-2-6l1 9m-2-4l1 4"/><path stroke="var(--ow)" d="M483 627l-2 12m-3-12l-3 11m17-14l-2 11m6-14l-1 12m-17-4l-2 6m15-10l-1 6m2-7l-2 11m4-13l-2 12m-13-7l-3 12m19-16l-1 6m-4-3l-2 6m-2-8l-3 12m-4-6l-1 6m15-10l-1 5m-13-2l-3 12m17-17l-1 11m-12-8l-3 12m14-13l-1 6m-8-7l-3 12m10-10l-1 6m9-11l-1 12m4-8l0 6m-2-9l-1 6m-18-1l-4 11m19-15l-1 6m-14-3l-4 11m16-16l-2 12m2-9l-1 6m3-9l-2 12m-11-4l-3 11"/><path stroke="var(--ig)" d="M812 475l-4-20m6 14l-6-18m13 16l-5-20m2 22l-6-19m1 22l-5-18m9 14l-6-19"/><path stroke="var(--ba)" d="M434 516l20 26m-20-24l20 26m-19-24l11 13m-13-8l9 12m-10-21l20 26m-22-26l19 26m-16-27l11 13m-15-12l20 26m-21-27l20 26m-18-26l20 26m-9-17l9 13m-12-5l8 12"/><path stroke="var(--c7)" d="M365 433l27 14m-39-20l29 14 25 15m-38-23l27 15m-42-25l29 14m-16-6l28 14m-19-8l26 15m-36-24l28 15m-29-11l27 15m-26-20l28 15m-31-14l28 15m-36-17l29 14 25 16m-33-19l26 15m-23-13l25 16"/><path stroke="var(--c6)" d="M382 441l25 16m-32-17l25 15m-8-8l24 16m-33-16l24 15m-44-23l26 13 23 16m-57-39l29 13 24 16m-47-21l26 14 23 15m-45-26l25 14 22 15m-49-34l27 14 23 15m-48-26l26 14 22 16m-30-18l23 15"/><path stroke="var(--gw)" d="M349 750l-19-1m15-5l-20-1m15 5l-21-2m22 17l-22-2m19-5l-22-2m31-13l-19-1m20 4l-19-1m14 3l-20-1m24-4l-19-1m13 16l-21-1m21 3l-22-2m35-8l-19-1m17-6l-19-1"/><path stroke="var(--p8)" d="M516 615l0 5m-3-2l0 5m-8-1l0 5m3-11l0 11m5-12l0 10m-4-10l0 11m13-16l0 5m-5 1l0 6m-5-4l0 5m-7-2l-1 6m3-10l-1 11m5-11l-1 10m-2-9l0 5m-7-2l-1 6m2-9l-1 11m20-18l0 6m-7 0l0 5m-7-2l0 5m2-5l-1 6m-2-5l0 6m-4-6l-1 6m0-7l-1 6m12-9l-1 6m-8-2l-1 5m12-13l0 11m-1-6l0 5m7-11l-1 5m-11 0l-1 11m-1-11l0 11m6-12l0 11m-9-8l0 11"/><path stroke="var(--gv)" d="M353 734l-18-1m18 2l-18-1m26 1l-16 1m11 3l-18 0m9-2l-19-1m21 4l-19-1m33-5l-17 1m6-1l-18-1m15 7l-19-1m20-1l-19-1m22-1l-17 0"/><path stroke="var(--if)" d="M803 479l-4-18m4 16l-4-17m8 17l-4-18m-10 21l-4-15m3 17l-4-16"/><path stroke="var(--a7)" d="M382 701l-25 4m30-5l-23 5m16-5l-12 2m10-2l-12 2m10 2l-13 2m19-6l-25 4m24-7l-12 3m14 1l-25 4m23-8l-12 2m13-2l-12 2m12-1l-24 4m23 0l-12 2m17-4l-24 4"/><path stroke="var(--i8)" d="M748 509l-1-11m3 9l-1-11m-1 11l-2-10"/><path stroke="var(--i7)" d="M734 516l0-10m7 5l-1-10m-1 12l-1-10"/><path stroke="var(--ib)" d="M772 493l-3-13m-3 17l-3-13m6 12l-3-13m3 15l-1-14m0 14l-2-14"/><path stroke="var(--gt)" d="M362 723l-16 1m15-3l-16 1m26-1l-31 1m31-2l-31 1m22 1l-16 0m19 3l-16 1m11-8l-15 0m16 6l-16 0m13 2l-17 0m22-6l-15 0m22 1l-31 1m24-5l-15 1m14 8l-16 1"/><path stroke="var(--bp)" d="M405 488l16 14m-28-27l18 14 28 28m-42-36l31 28m-13-16l15 14m-31-25l31 28m-8-12l14 15m-32-26l29 28m-22-26l29 29m-22-23l15 14m-25-23l29 28m-29-25l28 28m-43-40l17 13 28 28m-40-35l31 27m-23-24l29 28"/><path stroke="var(--a4)" d="M395 679l-18 7m23-5l-9 3m7-8l-17 8m13-5l-18 6m19-10l-18 7m20-5l-18 7m19-9l-18 7m21-4l-18 7m14-10l-18 8m22-6l-17 7m13-9l-9 3m14 1l-8 4m5-4l-18 7m16-12l-18 7m21-6l-18 7"/><path stroke="var(--lo)" d="M554 600l1 4m-7 0l1 5m7-12l0 4m-2-1l1 4m2-5l1 4m-11-1l0 4m10-5l1 3m-12 0l1 4m2-8l1 4"/><path stroke="var(--c5)" d="M380 451l23 14m-23-12l22 14m-14-10l21 15m-19-7l20 14m-24-22l21 15m-28-20l23 14m-24-18l24 15m-26-8l22 13m-15-16l23 15m-32-16l23 14m-8 1l20 14m-20-22l21 14"/><path stroke="var(--ia)" d="M760 500l-2-12m4 12l-2-12m1 12l-2-12"/><path stroke="var(--nu)" d="M430 623l-2 7m-2 7l-4 6m6-8l-3 6m3-17l-4 14m4-6l-3 6m3-20l-6 20m2-19l-2 7m10-7l-1 7m-2 7l-7 13m5-22l-5 13m2-18l-1 7m2-7l-2 7m7-6l-1 8m-2 6l-3 7m7-6l-3 7m-3-22l-2 7"/><path stroke="var(--i9)" d="M758 501l-2-12m0 14l-3-12m0 14l-1-12"/><path stroke="var(--id)" d="M782 488l-3-14m-1 15l-3-14m13 11l-3-16"/><path stroke="var(--o0)" d="M441 540l8 12m-13-9l7 12m-3-17l8 12m-12-11l14 24m-11-13l7 12m-6-20l7 12m-11-10l7 12m-11-14l7 12m-7-14l14 23m-4-26l8 13m-12 0l6 12m0-15l7 11m-11-9l7 11m-8-19l7 12m3-11l8 12m-8-12l7 12m-13-7l6 11m-11-6l6 11m-10-10l6 10m-3-23l14 23m-3-22l8 12m-15-11l8 12m-7-10l7 12m-5-8l6 12m-10-22l8 13m-9-4l6 12m-12-8l6 11m-2-26l15 24m-5-14l7 12m-17-6l6 11m-2-17l7 12m-13-19l14 23m-3-18l7 12m-17-5l6 11m-1-23l8 12m-12-2l6 11"/><path stroke="var(--i6)" d="M728 517l-1-8m3 8l0-9m1 7l-1-9m4 9l-1-9m0 9l-1-9"/><path stroke="var(--nx)" d="M437 576l6 28m6-52l6 12m-19 24l2 25m5-58l10 22m-16-2l6 28m7-40l5 10m-24 35l0 8m6-55l11 30m-11-27l10 30m-11-2l2 17m8-47l8 20m-21 23l0 8m2-58l13 31m-1-32l10 22m-22 12l3 25m5-57l10 22m-15-13l9 30m-13-3l2 17m3-55l13 32m-16 7l1 17m9-47l8 21m-22 17l0 9m6-47l11 30m-13-38l13 32m-15 3l2 25m8-53l8 20m-1-24l5 11m-9-9l9 21m-10-28l11 22m-20-7l9 29m-9-29l9 29m-8-10l3 26m8-55l6 11m-20 22l1 17m8-45l9 20m-20 20l0 8m7-48l10 30m1-30l5 11m-19-7l9 29m-10-20l5 19 1 17m7-58l5 12m-5-10l5 11m-4-7l6 11m-17-2l8 29m-11-23l7 28m2-44l10 21m-16-18l11 30m2-32l5 11m-25 34l-1 8m4-56l12 31m-10-28l11 31m-5-28l8 21m-14 1l4 26m7-53l5 11m-16 18l3 26m9-51l5 11m-17 0l7 28m-10-4l1 17m7-52l9 21m-14-7l6 27m0-43l9 21"/><path stroke="var(--ag)" d="M410 643l-5 6m13 0l-4 6m0 2l-13 9m15-16l-17 15m19-15l-5 6m5-12l-9 12-12 9m15-20l-11 11m14-7l-17 16m15-20l-17 16m18-16l-17 16m23-14l-4 6m6-2l-5 5m-5-13l-10 11m9-10l-11 11m13-9l-16 15"/><path stroke="var(--at)" d="M417 631l-3 7m10 0l-8 12m6-5l-4 5m4-12l-4 6m4-18l-10 19m10 1l-4 6m4-15l-7 12m8-23l-10 19m10-19l-9 19m8-21l-10 19m9-18l-10 19m10-10l-8 12"/><path stroke="var(--bo)" d="M421 502l13 14m-28-26l28 28m-26-26l27 28m-28-22l26 27m-29-36l28 27m-31-26l29 26m-29-27l28 27m-30-28l29 27m-27-27l29 27m-14-8l12 14m-13-15l12 13"/><path stroke="var(--cm)" d="M344 409l33 13m-31-7l32 14m-43-36l37 14m-37-7l35 13m-39-16l36 13"/><path stroke="var(--b9)" d="M421 515l20 25m-10-15l9 13m-20-21l20 25m-14-20l18 25m-25-31l20 25m-15-19l10 13m-6-8l9 13m-15-23l19 25m-18-23l19 25m-16-21l10 13m-5-10l9 12m-12-15l9 13m-9-15l19 25m-20-27l11 13m-18-19l21 26"/><path stroke="var(--ln)" d="M585 586l1 2m-6-1l1 3m-6 1l2 3m-8 0l2 3m-9-1l1 4m3-4l1 3m-10-2l1 4m12-8l1 3m-8-1l1 4m7-7l1 3m-7-1l0 4m-6-2l1 4"/><path stroke="var(--gs)" d="M368 711l-14 2m11-2l-14 1m13 3l-15 1m17 0l-14 1m17-9l-14 1m5 8l-16 1m23-5l-15 1m9 3l-15 0m19-2l-15 1m11-2l-15 0m21-3l-14 2m11 1l-15 1"/><path stroke="var(--ol)" d="M475 632l-2 5m1-7l-2 6m2-5l-1 6m1-8l-2 6m0-6l-2 6m5-7l-2 6"/><path stroke="var(--ie)" d="M795 481l-4-16m-9 23l-4-15"/><path stroke="var(--i3)" d="M705 529l0-6"/><path stroke="var(--pj)" d="M533 607l0 5m-5-4l0 6m1-6l0 5m3-6l0 5m-3-3l0 5m2-7l0 5m6-5l0 5m-5-5l0 5m1-5l0 5m-5-3l0 5"/><path stroke="var(--i5)" d="M724 519l-1-8m0 10l0-9m1 7l-1-8"/><path stroke="var(--pi)" d="M541 604l0 5m-4-4l0 4"/><path stroke="var(--b8)" d="M427 531l9 12m-9-16l9 12m-4-1l7 12m-11-18l8 12m-13-19l17 24m-6-14l9 12m-7-11l8 12m-13-13l8 12m-16-25l18 24m-15-19l9 12"/><path stroke="var(--a3)" d="M395 669l-8 4m5-1l-8 4m10-6l-8 4m8-3l-8 4m10-3l-8 3"/><path stroke="var(--gr)" d="M369 707l-13 1m10-1l-14 1m17-1l-14 1m14-4l-13 2m12-1l-13 2"/><path stroke="var(--c4)" d="M383 465l20 14m-15-16l21 14m-33-22l23 14m-12 2l19 13m-23-21l21 14m-30-23l23 14m-8-4l20 15m-20-7l19 14m-27-23l20 14m-15-9l20 13"/><path stroke="var(--bn)" d="M419 512l12 13m-17-16l12 13m-9-8l11 13m-14-16l12 12m-6-10l11 13m-15-15l12 12"/><path stroke="var(--i4)" d="M720 521l-1-8"/><path stroke="var(--b7)" d="M430 539l8 11m-7-10l7 12m-9-12l8 12m-8-13l7 12m-7-14l8 12"/><path stroke="var(--as)" d="M414 638l-4 5m4-6l-5 6"/><path stroke="var(--nv)" d="M426 613l-1 7"/><path stroke="var(--bp)" d="M388 477l18 13m-15-11l17 13m-18-17l18 14"/><path stroke="var(--b8)" d="M417 519l10 12m-4-5l9 12m-14-18l10 12m-15-14l19 24m-9-14l9 12m-11-13l9 12m-8-11l9 12m-10-17l10 12m-12-10l10 12"/><path stroke="var(--a7)" d="M369 700l-13 1m14-2l-12 2"/><path stroke="var(--id)" d="M779 488l-4-13m2 14l-4-13m5 13l-4-14m5 13l-4-13"/><path stroke="var(--o0)" d="M427 554l6 11m-2-15l6 11m-5-8l5 11m-4-11l5 10m-9-19l7 11m-9-7l7 11m-7-5l5 11m-3-19l6 11m-4-8l6 11"/><path stroke="var(--nu)" d="M423 610l-1 8m0-8l-1 8m4-6l-1 7m1-7l-1 7m2-7l-1 7m-1-9l-2 14m2-13l-1 7"/><path stroke="var(--nx)" d="M432 566l5 10m-8-8l7 20m-3-23l4 10m-7 16l1 17m3-25l2 9m-6-4l3 17m0-27l2 10m-6 5l1 16m2-55l6 11m-6 17l2 10m0-9l2 10m-5 0l1 8m0-21l2 10m-6 3l1 17m3-52l5 10m-5-11l5 11m-12 28l0 8m6-37l7 20m-6-5l3 9m-5-6l3 18m-5-11l1 17m2-53l6 11m-12 29l1 8m8-45l5 10m-13 27l1 8m5-39l4 10m-7 13l3 17m-8-3l0 8m10-35l3 10m-7-17l7 19m-5-24l5 10m-4 15l1 9m-8 0l1 8m1-50l9 21"/><path stroke="var(--c6)" d="M353 428l29 13m-26-7l27 13m-31-11l26 12m-28-22l29 13m-22-2l26 13"/><path stroke="var(--au)" d="M430 645l-5 5"/><path stroke="var(--ah)" d="M399 662l-8 4m10 0l-7 4m4-4l-8 4m15-7l-16 8m38-23l-5 5m-21 9l-8 4"/><path stroke="var(--p8)" d="M514 613l-1 5m-7-2l-1 6m12-11l0 5m-5-3l0 5m-6-2l-1 5m4-9l-1 6m-6-2l-1 5m14-9l-1 5m-6-3l-1 6m12-9l0 5m-10-1l0 5m-2-4l-1 5m-3-6l-1 6m-3-4l-2 5m5-7l-1 5m-2-3l-1 6m14-11l0 5m-8-2l-1 6m11-9l-1 6m-8-4l-2 5"/><path stroke="var(--a6)" d="M370 693l-13 2m15-1l-12 1m13 1l-12 1m14-5l-11 2m5 5l-13 2m12-8l-13 1m22-4l-11 3m8-2l-12 2m10 0l-12 2m14-3l-12 2m9 0l-12 1"/><path stroke="var(--bo)" d="M393 489l15 13m-18-16l29 26m-28-27l16 13m-17-11l30 26m-34-28l16 13m-17-16l31 25m-16-14l15 13m-24-19l29 26"/><path stroke="var(--b7)" d="M415 527l9 12m-8-8l9 11m-15-22l10 12 15 23m-18-23l8 11m-8-14l16 24m-22-33l18 24m-21-20l18 22m-8-17l16 24m-24-28l17 23m-10-20l16 23m-22-28l18 23m-15-20l17 23m-10-21l8 12m-9-13l9 12"/><path stroke="var(--nz)" d="M425 555l5 10m-3-13l5 11"/><path stroke="var(--bn)" d="M408 502l13 13m-33-26l28 25m-23-22l27 25m-36-33l30 25m-32-21l16 12m-7-10l28 26m-20-19l25 25m-35-33l28 25m-23-22l28 25m-26-23l27 25m-39-33l30 25m-12-13l14 13m-19-15l14 13m-25-20l29 25"/><path stroke="var(--ag)" d="M422 643l-17 15-15 8m15-17l-19 14m31-15l-18 14m26-15l-11 10m-16 0l-7 4m-1-6l-7 4m16-5l-14 9m13-7l-8 4m8-3l-8 4m2-2l-8 4m39-16l-11 10-14 9m3-10l-14 9m3-6l-8 4m10-9l-7 4m11 3l-7 4m33-17l-17 15m-8-2l-7 4m12-11l-13 9m11-8l-13 9m32-16l-18 14m-10-5l-7 4m13 0l-7 5"/><path stroke="var(--nw)" d="M427 555l5 11m-11 20l2 24m1-52l5 10m-4 4l5 19m-4-28l8 20m-10-14l6 19m-9-2l1 24m2-52l9 20m-8-4l4 19m-4-30l7 19m-5-18l7 19m-12-18l9 28m-7-33l8 20m-8-5l4 18m-7-15l4 18m0 8l0 8m1-55l5 10m-10 29l0 16m4-50l7 20m-9-16l7 19m-7-11l5 18m-6-14l3 18m1 8l-1 8m2-57l9 21m-14 2l4 18m1 8l-1 8m-2-43l5 19m-7-3l2 17m6-37l4 10m-12 11l2 25m1-54l5 11m-8-9l11 29m-10-9l3 18m1 8l-1 8"/><path stroke="var(--a5)" d="M377 686l-24 3m28-2l-23 5m12-6l-11 2m20 1l-24 4m21-8l-11 3m14-4l-22 4m15 0l-12 2m9 1l-12 2m18-3l-12 2m16-9l-10 2m1 6l-12 1m16-5l-12 2m13 0l-12 2m7-2l-12 2"/><path stroke="var(--as)" d="M407 608l-2 7m12 0l-5 14-8 12m14-27l-4 13-7 13m14-4l-5 5m0-24l-8 20m3-22l-8 19m15-8l-11 18m10-25l-9 19m7-23l-5 13-7 12m9-24l-9 19m8-22l-8 19m8-18l-9 19m17-17l-1 7m-3 7l-7 12"/><path stroke="var(--ay)" d="M421 601l0 8"/><path stroke="var(--i8)" d="M747 505l-3-10m5 5l-4-9m3 15l-3-11m1 12l-2-10m6 4l-4-9m0 12l-3-9m3 10l-2-9"/><path stroke="var(--c5)" d="M354 439l26 12m-26-10l26 12m-17-9l25 13m-23-7l23 13m-27-19l25 13m-35-13l25 11m-23-15l26 12m-30-9l25 11m-23-11l25 12m-19-16l26 13m-35-12l26 11m-10-7l25 14m-43-16l26 11 23 13"/><path stroke="var(--bm)" d="M390 494l27 25m-1-5l11 13m-44-37l15 11 25 25m-32-31l27 25m-32-26l27 24m-29-27l16 12 23 25m-38-31l26 23m-30-30l16 12 24 25m-23-27l25 25m-40-33l15 11 24 25m-26-30l25 25m-43-30l15 11m-11-11l28 23m1-7l12 13m-8-8l11 13m-45-35l15 11 24 24m-25-27l24 25"/><path stroke="var(--b6)" d="M413 533l14 22m-25-29l16 21m-6-15l15 22m-3-15l7 11m-6-8l7 11m-26-22l15 22m-20-27l17 22m7-5l7 11m-6-8l6 12m-24-35l24 34m-20-22l14 22m-19-35l24 34m-19-23l15 22m-15-23l15 22m-17-21l8 11m-7-9l8 11m-8-16l16 22m-14-19l15 22"/><path stroke="var(--at)" d="M431 632l-9 11m0-25l-5 13m10 6l-10 11m13-7l-5 6m-4-9l-5 5m5-25l-7 19m7 1l-5 5m11-2l-4 6m-3-28l-2 7m0-14l-1 7m10 24l-5 5m5-2l-5 5m1-33l-2 7m8 12l-10 11m-1-25l-3 7"/><path stroke="var(--gu)" d="M335 733l-20-2m23 0l-19-2m27 5l-19-1m8 1l-19-2m32-3l-17-1m12-1l-18-1m24 0l-17-1m13 3l-18-1m18-3l-18-1m14 3l-18-1m23 6l-19-1m10 4l-19-2m25-3l-19-2m22 0l-17-1"/><path stroke="var(--p9)" d="M498 616l-2 5"/><path stroke="var(--lq)" d="M544 596l0 9m1-5l1 4m-2-7l0 5m-1-5l0 10"/><path stroke="var(--c4)" d="M356 450l23 12 21 13m-40-22l23 12m-16-13l23 13m-39-14l23 11m-9-4l22 13m-27-20l23 12m-35-14l24 10 21 13m-27-20l23 12m-29-8l22 12m-12-13l22 13m-35-17l24 12m-17-8l22 13m-19-15l22 13"/><path stroke="var(--c3)" d="M366 463l21 12 18 13m-56-36l23 10 21 13m-37-18l22 11 19 13m-42-27l23 11 20 14m-40-21l22 11 19 13m-25-20l21 13m-30-11l21 11 18 14m-39-27l21 12 18 13m-55-35l24 11 20 13m-11-8l19 13m-33-21l21 12m-20-9l21 12m-41-22l23 11 21 13m-36-18l22 11 19 13m-32-23l21 13 19 13"/><path stroke="var(--i4)" d="M708 523l-1-5m8 1l-2-6m-1 10l-1-6m3 6l-1-7m-5 8l-2-5m9 0l-3-6m1 7l-3-6m11 4l-2-7m-6 13l-1-7m-1 6l-1-6m9 3l-1-7"/><path stroke="var(--ax)" d="M416 584l2 16-1 15m1-25l0 24m-1-28l1 16m0 8l-2 7m4-30l1 9m0 16l-1 7m-2-31l0 24m-2-20l0 16m-2-15l0 8m5-17l2 17m0 8l-2 7"/><path stroke="var(--o7)" d="M450 629l-11 17m10-15l-7 12m7-8l-4 6m2-10l-8 12m11-12l-7 11m7-12l-7 11m6-8l-7 12m6-10l-4 5m3-10l-11 17m4-16l-4 6m12-1l-3 6m-5-13l-4 6m8-7l-8 12m-4 5l-4 6m18-23l-12 17"/><path stroke="var(--cl)" d="M339 422l30 11m-30-16l32 12m-35-10l31 12m-21-7l30 13m-42-21l32 12m-42-8l31 9m-21-13l32 11m-35-10l32 11m-16-4l29 13m-45-23l32 11"/><path stroke="var(--a3)" d="M372 672l-10 3m29-9l-8 4m-10 3l-10 2m24-2l-30 8m37-11l-18 7-22 3m30-4l-10 3m18-9l-18 6-22 4m34-6l-10 3m9 0l-10 3m14-11l-29 9m30-8l-29 8m25-3l-9 3m13-9l-28 9m10-7l-11 3m28-3l-29 8m13-7l-10 2m25 1l-9 4m11-7l-18 6m25-8l-27 10m23-14l-27 9m24-9l-9 3m-9 3l-10 3"/><path stroke="var(--oj)" d="M458 633l-2 6m6-7l-3 6m-6-13l-4 6m6-2l-6 11m9-8l-3 6m8-7l-3 6m-8-8l-3 6m4-10l-3 6m15-2l-3 6m-3-2l-3 6m7-10l-3 6m-7-8l-4 6m2-4l-3 6m7-11l-7 12m8-10l-6 12m10-7l-3 6m5-8l-3 6"/><path stroke="var(--i6)" d="M736 510l-3-8m2 9l-2-8m2 7l-3-9m1 12l-1-9m2 5l-3-8m7 6l-4-8m3 9l-3-8m4 8l-3-8m0 10l-2-8"/><path stroke="var(--ow)" d="M487 615l-4 12m-2-6l-3 6m16-9l-2 6m-10-7l-4 12m15-10l-2 6m2-7l-1 6m3-8l-1 6m-15-3l-4 13m6-11l-2 6m17-9l-1 5m-4-3l-1 6m-3-8l-1 6m-7-6l-5 12m9-11l-4 11m-4-10l-2 7m21-7l-1 6m-20-7l-2 6m12-8l-4 12m16-11l-2 6m-11-3l-2 6m14-13l-3 12m-7-7l-2 6m11-10l-4 12m-10-8l-5 12m5-14l-5 12m9-13l-4 12m16-10l-1 6m-13-3l-2 6m14-11l-2 6m2-3l-2 6m-17-2l-2 6m23-13l-2 6m-9-4l-4 12m-3-8l-2 6"/><path stroke="var(--a4)" d="M381 684l-11 2m4-7l-22 4m25-1l-23 4m22-9l-21 4m38-7l-8 3m-10 3l-11 2m16 0l-22 4m25-1l-11 3m-3-3l-12 2m20-9l-22 4m29 2l-10 3m5-8l-22 4m15-5l-11 2m9 0l-12 1m30-3l-32 7m23-4l-22 4m25-3l-22 4"/><path stroke="var(--lo)" d="M563 587l-1 9m-9 0l1 4m11-8l1 4m-9-3l0 4m-9 3l0 4m8-11l0 4m7-6l0 4m-8-4l-1 9m10-10l1 4m-8-4l0 9m-1-7l1 9m2-9l0 4"/><path stroke="var(--cm)" d="M324 405l35 11m-38-2l33 9m-13-9l32 12m-50-9l32 9m-39-20l35 9m-12 1l32 13m-42-31l36 12m-32-2l34 12"/><path stroke="var(--b1)" d="M421 563l4 9m-9 10l2 8m2-31l4 10m-3-4l4 9m-10-18l9 19m-8 4l2 9m0-32l5 10m-4-2l4 10m-5-5l4 9m-3-9l3 9m-3-19l5 10m-5 1l4 9"/><path stroke="var(--i7)" d="M741 505l-4-9m4 8l-4-8m3 12l-2-9m6 9l-2-10m-1 8l-3-8m4 10l-2-10m1 8l-4-9m5 9l-3-9"/><path stroke="var(--i9)" d="M752 499l-4-9m4 10l-3-10m6 11l-2-11m1 7l-5-10m2 16l-3-10m3 7l-4-9m8 10l-3-11m2 12l-3-11m0 7l-5-9"/><path stroke="var(--gr)" d="M356 708l-15 0m23-3l-30 0m29 1l-30 0m27 2l-30 0m28-3l-14 0m11 3l-15 0m24 0l-31 0m26 0l-15 1m12-3l-15 0m14 1l-16 0m9-2l-15 0m26 2l-15 0"/><path stroke="var(--gv)" d="M345 736l-19-2m12 5l-20-2m10-1l-21-3m33 2l-19-2m9 6l-21-3m37-1l-18-1m6-1l-20-2m16 8l-20-3m21 1l-20-3m25 2l-20-2m24 1l-20-2"/><path stroke="var(--gs)" d="M354 713l-15 0m12-1l-16 0m17-4l-16 0m19 1l-15 1m12 4l-15 0m21-3l-32-1m24 6l-16-1m12-1l-16 0m23-1l-16-1m26-1l-31 0m17 4l-17-1"/><path stroke="var(--pj)" d="M533 602l0 5m10-5l0 5m-14-4l-1 5m10-10l-1 10m-7-6l-1 6m-6-3l-1 5m14-11l-1 10m-3-7l0 5m-3-4l0 6m3-7l-1 5m-1-3l0 5m-4-4l-1 5m9-10l0 10m-4-10l-1 11m-7-7l-1 5m17-12l-1 10m-6-7l-1 11m-4-7l0 6m-1-8l-2 11m18-14l0 5m-15 1l-1 5m7-8l0 5m1-5l0 5m-11-1l-1 5m17-11l-1 5m-15-3l-1 6m8-5l-1 6m5-9l-1 11"/><path stroke="var(--ia)" d="M759 497l-4-11m5 11l-3-11m1 13l-3-11m2 9l-4-10m7 9l-4-11m5 9l-5-10"/><path stroke="var(--i5)" d="M721 515l-3-6m14 4l-2-9m-8 10l-4-6m15 4l-3-9m-7 16l-1-8m7-1l-4-7m1 12l-2-8m9 5l-2-8m-10 11l-3-6m14 3l-3-8m0 11l-2-8"/><path stroke="var(--af)" d="M404 641l-10 10-14 8m36-16l-18 14m9-17l-17 15m19-12l-10 11m8-10l-20 13m29-16l-18 15m18-13l-18 14m10-20l-10 11-12 9m31-16l-11 10-14 8m14-16l-20 13m17-22l-10 11-13 8m27-9l-17 15m-7-14l-7 4m32-11l-16 16m11-14l-18 14m18-19l-10 10-13 9m31-12l-12 9-15 8m15-21l-5 5m-6 5l-6 4m16-14l-5 5m-6 5l-7 4m28-10l-17 15"/><path stroke="var(--gq)" d="M357 705l-15 0m26-3l-28 2m26-2l-28 2m23-7l-13 1m9 6l-15 0m14-3l-14 0m14 0l-14 0m16 0l-14 0m14 1l-14 1m21-7l-28 1m25 7l-14 1m18-9l-27 2"/><path stroke="var(--ok)" d="M461 627l-3 6m12-12l-6 12m5-12l-5 12m0-7l-2 6m10-10l-5 12m-6-8l-3 6m7-7l-2 6m10-4l-2 6m-2-10l-5 12m7-10l-3 6m0-8l-3 6m0-8l-6 12m13-12l-5 12m-1-10l-3 6m10-6l-4 12m1-14l-6 12m5-12l-6 12m0-8l-3 6m5-8l-3 6"/><path stroke="var(--ie)" d="M789 481l-5-14m2 16l-5-14m7 11l-6-13m7 12l-7-14m6 17l-5-15m-2 15l-7-12"/><path stroke="var(--ln)" d="M589 578l0 6m-4-5l0 7m-5-2l0 3m-5-4l0 8m-6-5l0 8m-4-6l0 4m5-7l0 8m2-9l-1 8m5-7l1 7"/><path stroke="var(--pk)" d="M521 607l-1 5m2-6l-1 5m0-6l-2 6"/><path stroke="var(--b5)" d="M418 547l6 11m-24-27l21 32m0-10l5 10m-19-25l13 21m-2-11l6 10m-23-24l8 10m-5-13l21 32m-19-31l21 32m-25-30l20 31m-20-37l22 32m-23-25l8 10m-5-15l21 32m-21-27l14 21m-18-22l14 20m-8-16l13 21m-1-15l7 11m-6-9l6 11m-25-30l22 32"/><path stroke="var(--c2)" d="M375 477l18 12m-21-14l18 11m-22-21l20 12m-17-10l20 12m-18-6l18 12m-28-20l21 12 17 13m-38-25l20 12 18 12m-40-25l20 11 18 13m-37-25l21 12 18 13m-29-13l18 12m-23-13l19 11m-20-15l19 12m-22-13l20 11 17 13m-27-17l18 11"/><path stroke="var(--ic)" d="M770 491l-4-12m10 7l-6-12m0 16l-5-11m9 12l-4-13m0 12l-5-11m7 9l-5-12"/><path stroke="var(--bl)" d="M391 504l24 23m-36-31l15 11 22 24m-32-34l26 23m-29-23l14 11 22 24m-38-37l15 11 23 23m-33-28l24 23m-25-24l25 23m-28-29l15 12 23 23m-37-30l26 23m-21-20l24 23m-17-21l24 24m-31-28l25 23m-21-20l24 23m-4-10l11 12"/><path stroke="var(--gt)" d="M346 724l-17-1m16-1l-18-1m13 1l-18-1m27-5l-16-1m19 2l-17 0m5 4l-18-2m22-1l-17-2m19 6l-17-1m17-4l-17-1m16 2l-17-1m20 3l-17 0m8 2l-18-2m27-2l-17-1"/><path stroke="var(--ib)" d="M761 496l-4-11m4 8l-5-10m5 13l-4-11m11 4l-5-11m5 15l-4-12"/><path stroke="var(--i3)" d="M685 537l-2-7m6 2l-2-3m6 3l-1-4m5 0l-2-4m7 1l-2-5m5 3l-2-5m-1 8l-2-5m0 6l-1-5m7 4l-1-6m-9 11l0-5"/><path stroke="var(--a2)" d="M390 666l-18 6m14-9l-18 6m15 1l-10 3m18-12l-17 7m9-9l-8 3m10 1l-17 6m22-9l-17 6m17-5l-17 7m13-11l-8 3m6 3l-8 3m11-1l-27 8m22-10l-18 6m21-11l-8 3m12 4l-17 6m18-6l-17 7m16-9l-27 9m25-8l-28 8m25-11l-18 6m15 2l-9 3"/><path stroke="var(--gw)" d="M330 749l-22-3m17-3l-22-4m25 1l-21-4m22 7l-22-3m21 0l-21-3m28 10l-22-2m20-5l-21-2"/><path stroke="var(--aw)" d="M407 585l1 16m-1-13l1 15m10-1l0 8m-6-25l1 16-2 14m-3-25l-1 22m8-28l1 8m0 16l-1 7m-3-30l2 8m0 8l-2 15m0-26l-1 23m1-22l-1 23"/><path stroke="var(--o6)" d="M432 632l-5 5m11-7l-8 11m8-7l-8 11m2-9l-5 5m9-9l-9 11m9-6l-9 11m9-13l-9 11m9-6l-4 5m1-14l-4 6"/><path stroke="var(--lp)" d="M547 594l-1 9m8-12l-1 5m-5-1l0 5m-2-5l-1 5m2-3l0 5m0-8l-1 10m4-9l-1 5"/><path stroke="var(--b0)" d="M411 558l10 28m-11-20l6 18m-6-21l6 19m-6-24l11 28m-14-27l10 27m-4-27l8 19m-10-18l9 27m-13-5l1 8m1-29l7 18m-4-4l3 9m-5-8l2 9m2-26l4 10m-4-10l5 10m-8 13l1 8m-1-33l11 28m-11-2l1 8m0-33l10 28m-9-20l6 18m-4-24l4 10"/><path stroke="var(--pc)" d="M517 609l-1 6m-1-8l-1 6m-7-3l-1 6m3-5l-1 5m6-7l-1 6m8-8l-1 5m-9-2l-2 5m-11-3l-2 6m22-13l-1 6m-3-4l-2 6m-5-3l-1 6m2-5l-1 6m5-6l-1 6m0-10l-2 5m-6-2l-1 6m2-4l-2 6m14-12l-1 6m-5-4l-2 6m13-5l-1 6m-10-6l-1 6m-1-5l-1 6m-3-7l-1 6m-3-4l-1 6m5-8l-2 6m-1-4l-2 6m15-11l-2 6m-6-3l-2 6m11-7l-1 5m1-6l-1 5m7-6l-1 6m-11-1l-1 6m13-9l-1 5m-12-2l-2 6m7-7l-1 6"/><path stroke="var(--pi)" d="M543 597l0 5"/><path stroke="var(--ck)" d="M346 428l29 12m-40-18l30 11m-31-5l29 11m-28-18l30 11m-33-5l29 10m-25-7l29 10m-32-16l30 11m-27-7l29 10"/><path stroke="var(--if)" d="M796 474l-7-15m7 17l-7-14"/><path stroke="var(--gp)" d="M357 695l-13 0m16 0l-13 1m11-4l-13 0m10 1l-13 0m22 1l-13 1m6-2l-13 0m19-1l-13 1m8-1l-13 1m10 1l-14 0m25-1l-13 1m9-1l-13 1m11 1l-14 1m16-2l-13 1m14-4l-13 1m9 3l-13 1"/><path stroke="var(--ar)" d="M399 603l-7 19m13-7l-9 18m11-23l-5 13-7 11m12-22l-9 19m8-24l-4 13-7 12m7-22l-9 18m10 4l-4 6"/><path stroke="var(--c1)" d="M374 483l16 11m-20-16l18 11m-13-9l18 12m-28-19l19 11m-20-7l18 11m-9-9l18 11m-27-16l35 23m-28-19l18 11m-12-9l17 12m-34-21l19 11 17 12m-30-20l18 12m-4 0l16 12m-34-24l35 22m-29-18l18 11"/><path stroke="var(--gi)" d="M319 761l-24-5m28-11l-22-4m19 14l-24-5m23 6l-24-4"/><path stroke="var(--bk)" d="M378 500l13 11 22 22m-22-18l11 11m-25-27l14 11 21 22m-28-23l22 22m-15-16l10 11m-16-16l11 11m-18-19l13 11 21 22m-21-24l21 22m-35-34l13 11 22 22m-24-21l22 22m-19-20l20 22m-23-28l23 23m-33-30l13 10 22 23"/><path stroke="var(--ae)" d="M396 633l-17 14m16-13l-18 14m21-17l-15 14m12-13l-17 14m15-18l-9 10m10 5l-6 5m14-15l-4 5m-5 5l-6 5"/><path stroke="var(--p0)" d="M494 613l-1 6m0-5l-2 6m5-6l-2 6m-9-5l-3 6m13-8l-2 6"/><path stroke="var(--b4)" d="M398 538l13 20m-11-11l6 10m-7-13l11 19m-13-25l13 20m-1-14l12 21m-12-20l6 11m-14-17l12 20m-15-19l13 20m-14-18l12 19m5-7l5 10m-18-25l13 20m-12-20l12 20m-16-22l13 20m-12-19l13 20m-17-21l18 29m-11-26l13 20"/><path stroke="var(--av)" d="M408 601l-1 7m1-5l-1 7m-2-26l1 23m-3-18l-1 21"/><path stroke="var(--bj)" d="M390 521l10 10m-13-14l20 21m-15-14l9 10m-7-14l10 11m-8-10l10 11m-13-9l9 11m-10-16l10 10m-10-3l9 10m-8-16l11 11m-9-5l9 10m-14-12l10 11m-13-17l19 21m-16-21l10 10"/><path stroke="var(--a1)" d="M380 659l-9 3m4 0l-9 3m21-8l-8 3m-1 0l-9 3m11-10l-8 4m5 4l-9 3m17-10l-16 7m11-7l-7 3m11 2l-8 3m6-10l-8 3m6-3l-8 3"/><path stroke="var(--pd)" d="M495 612l-1 6m1-6l-2 6m4-6l-2 6m2-6l-2 6"/><path stroke="var(--az)" d="M402 569l5 16m-4-14l4 17m-1-21l6 18m-8-12l3 9m-3-6l1 8m4-18l3 9m-9-17l7 18m-5-12l6 18m-6-16l6 17"/><path stroke="var(--ci)" d="M345 444l25 11m-29-12l26 10"/><path stroke="var(--c0)" d="M365 479l18 11m-8-6l16 11m-22-12l17 11m-19-14l17 11m-15-5l16 11m-19-16l17 11m-4-3l16 11"/><path stroke="var(--bz)" d="M376 493l15 11m-16-12l15 11"/><path stroke="var(--ig)" d="M807 468l-9-16m10 15l-8-16m7 17l-8-16m21 8l-9-17m-2 23l-9-15"/><path stroke="var(--go)" d="M359 688l-13 1m19-1l-13 1m5-1l-13 1m20-7l-12 1m6 3l-13 1m15 3l-12 0m14-1l-13 1m9 1l-13 0m15-5l-13 1"/><path stroke="var(--cj)" d="M335 434l28 10m-22-2l26 10m-28-12l26 10m-25-9l26 11m-30-18l28 10"/><path stroke="var(--b3)" d="M406 557l4 9m-9-17l6 10m-5-1l4 9m-8-20l11 19m-9-11l5 9m-4-7l4 9"/><path stroke="var(--bi)" d="M392 529l9 10m-9-10l9 10m-8-10l9 10m-8-9l8 10"/><path stroke="var(--pb)" d="M518 604l-1 5m-4-4l-1 6"/><path stroke="var(--c3)" d="M346 453l23 10"/><path stroke="var(--bk)" d="M378 504l13 11m-13-10l13 10m-14-15l14 11m-16-10l13 10m-10-8l13 10"/><path stroke="var(--ln)" d="M581 580l-1 4m-3-3l-1 4"/><path stroke="var(--b4)" d="M393 537l7 10m-9-12l8 9m-4-4l6 9"/><path stroke="var(--gv)" d="M327 733l-20-3m19 4l-21-3m23 3l-21-4"/><path stroke="var(--ow)" d="M472 617l-3 6m7-6l-3 6m4-6l-3 6"/><path stroke="var(--af)" d="M389 649l-7 3m7-4l-7 4m31-13l-6 5m5-5l-6 4m-19 5l-7 4m29-14l-12 9-15 8m8-9l-8 4m26-11l-12 9-14 8"/><path stroke="var(--c2)" d="M351 465l21 10m-27-20l23 10m-19-9l22 11m-19-4l21 10m-21-8l20 10m-28-14l22 9m-13-5l20 11"/><path stroke="var(--lo)" d="M558 588l-1 5m0-5l-1 5m7-6l0 4m2-5l-1 4m-6-3l-2 5m4-4l-1 4"/><path stroke="var(--bj)" d="M379 511l11 10m-15-14l12 10m-6-4l11 11m-10-14l12 10m-12-7l11 10m-13-16l12 11m-11-3l11 10m-10-16l11 10m-21-14l23 20m-16-12l11 10m-7-4l10 10m-18-21l12 9m-10-10l13 10m-18-7l22 20"/><path stroke="var(--ok)" d="M464 621l-3 6m6-7l-3 6m0-6l-3 6m7-7l-3 6m6-8l-3 6m1-6l-3 6m0-4l-3 6"/><path stroke="var(--a3)" d="M363 675l-11 1m9-2l-11 1m13-1l-12 2m15-1l-11 2m7-2l-11 1"/><path stroke="var(--av)" d="M400 589l-1 14m-7-16l0 14m6-13l-1 20m-8-26l0 20m7-19l-1 21"/><path stroke="var(--o7)" d="M442 628l-4 6m10-12l-4 6"/><path stroke="var(--a2)" d="M368 669l-10 2m16-3l-21 4m13-7l-10 2m12 2l-11 2m16-5l-20 4m20-2l-21 3m17-8l-20 4m27-1l-21 4m9-1l-11 1m15-6l-10 3m8-2l-10 2m6 5l-11 2m15-7l-10 2"/><path stroke="var(--c1)" d="M355 467l20 10m-25-9l20 10m-14-8l19 10m-31-16l21 9m-12-4l20 10m-22-11l20 10m-14-9l20 11m-32-15l21 9m-5 2l19 10m-33-22l20 10m-18-5l19 9"/><path stroke="var(--gu)" d="M331 728l-20-2m21-1l-20-3m15 5l-20-3m20-1l-19-3m19 10l-20-3m22-1l-20-3"/><path stroke="var(--oj)" d="M454 623l-4 6m7-10l-4 6m6-2l-4 6m0-6l-3 6m2-10l-7 12m10-12l-4 6m1-1l-4 6m6-9l-3 6m2-4l-4 6m0-5l-4 6m13-10l-4 6m-6-4l-4 6"/><path stroke="var(--az)" d="M393 566l7 23m-2-29l4 9m-2-7l3 9m-2-6l3 8m-18-8l6 22m0-23l6 24m3-20l3 8m-19-8l4 14m2-14l5 15m0-19l7 25"/><path stroke="var(--lp)" d="M544 592l-1 5m6-7l-1 5m-2-3l-2 5m4-5l-1 5m4-7l-1 5m-5-3l-2 5"/><path stroke="var(--bi)" d="M379 519l19 19m-24-19l19 18m-22-21l20 19m-12-16l18 19m-20-17l18 19m-25-30l22 19m-23-17l11 9 18 19m-29-26l10 9 18 19m-14-14l8 10m-18-16l9 9m-12-21l22 19m-21-20l12 10m-4-2l19 20m-30-27l12 9 19 19m-23-20l19 19"/><path stroke="var(--cm)" d="M307 401l37 8m-32-2l34 8m-24 3l31 9m-59-40l41 6m-39 1l39 6m-30 10l34 7m-25 0l32 7m-41-17l36 7m-36-4l34 6m-25 0l33 8m-29-6l32 8m-59-35l40 6m-35 5l37 6"/><path stroke="var(--c0)" d="M355 473l19 10m-28-13l19 9m-15-1l34 19m-28-23l19 10m-24-10l18 9m-21-12l19 9m-16-3l18 9m-24-15l19 9 17 10m-37-22l20 9m-17-5l19 9m-23-6l19 8 16 10m-20-11l17 10m-29-19l19 9 17 11m-37-20l19 8 17 11m-20-14l18 11"/><path stroke="var(--b3)" d="M378 542l15 24m-6-23l11 17m-9-15l11 17m-10-22l12 18m-18-20l17 27m-24-15l9 15m-4-17l10 16m-7-22l16 26m-10-30l7 9m-8-7l13 18m-32-12l14 22m-8-24l14 24m-5-21l10 17m-9-27l13 18m-12-17l13 19"/><path stroke="var(--i4)" d="M723 512l-4-6m0 7l-4-5m-2 8l-4-5m13 0l-4-6m-6 12l-3-5m9 1l-5-5"/><path stroke="var(--gr)" d="M342 705l-16-1m15 4l-17-1m10-2l-17-2m19 5l-17-2m14 0l-17-2m28 1l-34-3m30 6l-16-1m20 2l-17-1m14-2l-16-1m14 2l-16-2m10 0l-17-3m28 5l-33-4"/><path stroke="var(--bz)" d="M345 483l17 8m-1-1l16 9m-18-16l17 10m-31-15l34 18m-32-17l34 18m-36-21l18 9 16 10m-28-13l33 19m-34-20l33 19m-38-24l19 8 16 10m-31-13l32 18m-27-17l32 20m-33-22l33 20m-28-13l16 10m-29-15l33 18"/><path stroke="var(--a1)" d="M382 652l-27 8m16 2l-19 4m32-18l-8 3m-8 3l-19 3m33-5l-26 8m23 0l-29 6m12-12l-10 2m34 0l-27 8m13-7l-18 4m26-9l-8 3m-9 2l-10 2m7-4l-10 2m19 4l-20 4m24-8l-19 5m28-7l-27 8m21-1l-10 3m8-10l-18 5m16-5l-18 5m28-10l-7 3m-9 3l-9 2m25-2l-28 7"/><path stroke="var(--gt)" d="M329 723l-19-3m17 1l-19-4m25-2l-18-2m20 4l-18-2m10 1l-19-3m21 8l-20-3m20-2l-19-3m18 4l-19-3m22 6l-19-3m19 0l-19-3"/><path stroke="var(--gs)" d="M339 713l-18-2m14 1l-17-3m22 1l-17-2m7 0l-18-3m25 9l-18-2m15 3l-18-2m17-5l-17-2m11 2l-17-3m20 9l-18-3m25 1l-17-1m12 0l-17-3m17 6l-18-2"/><path stroke="var(--i3)" d="M692 528l-3-4m22-7l-4-5m-1 7l-4-4m3 5l-4-4m9 1l-4-4m-10 13l-3-4"/><path stroke="var(--i7)" d="M733 503l-7-6m20 4l-5-9m-7 14l-4-7m10 2l-6-7m4 9l-5-7m8 7l-5-8"/><path stroke="var(--cl)" d="M322 419l31 9m-28 2l29 9m-39-19l31 8m-44-12l33 6m-9 3l30 9m-50-19l33 7m-15 9l29 9m-51-27l34 6m-14 8l30 9m-52-25l34 5m-33 0l34 5m-35-11l34 6m-37-4l34 5m-3 13l29 9m-61-30l35 5m-3 14l29 9"/><path stroke="var(--i5)" d="M723 511l-4-6m8 4l-4-6m7 5l-5-6m5 4l-5-6m2 7l-5-5m1 9l-4-6"/><path stroke="var(--o6)" d="M440 620l-9 12m9-12l-8 12m10-8l-4 6m-3-9l-4 6m4-6l-5 6m16-5l-4 6m-2-4l-8 12m12-16l-8 12m8-7l-4 6m4-8l-4 6m-3-3l-4 5"/><path stroke="var(--at)" d="M431 627l-5 5m4-5l-4 5m5-8l-4 6"/><path stroke="var(--ae)" d="M408 635l-19 14m-2-21l-13 7m14-8l-16 13m31-5l-19 13m24-13l-19 13m10-21l-26 16m31-14l-26 16m28-10l-19 13m11-19l-19 12m2-18l-16 12m23-9l-16 13m32-10l-26 17m4-27l-15 12m21-9l-9 9-12 8m17-1l-13 8m28-14l-20 12m29-11l-18 13"/><path stroke="var(--by)" d="M362 491l16 9m-31-13l31 17m-34-22l17 8m-6 1l29 18m-36-21l30 17m-24-13l15 8m-13-8l29 18m-35-20l30 17m-33-22l31 17m-25-11l29 18m-37-26l32 17m-33-18l33 17m-34-15l32 17m-28-15l31 17m-4-6l14 10"/><path stroke="var(--oo)" d="M468 615l-4 6m4-6l-3 6m4-8l-3 6m2-2l-3 6"/><path stroke="var(--gq)" d="M344 695l-31-3m34 4l-31-3m24 11l-16-1m14 1l-16-2m26-4l-32-3m26 9l-16-1m16-2l-16-1m16 1l-16-1m18 1l-33-4m33 6l-33-4m35-3l-31-3m22 4l-15-1m17 2l-15-2m22 0l-31-3"/><path stroke="var(--i9)" d="M747 498l-5-8m7 6l-7-8m5 11l-5-8m10 2l-7-7"/><path stroke="var(--id)" d="M778 476l-10-9m13 9l-10-10m8 13l-9-11m7 15l-7-11m8 11l-6-12m8 12l-7-13m8 8l-9-11"/><path stroke="var(--ie)" d="M787 475l-8-12m10 10l-9-12m8 15l-8-12m7 14l-7-13m4 9l-9-10m9 12l-9-11"/><path stroke="var(--as)" d="M423 620l-5 5m-5 5l-5 5m18-3l-5 6m2-19l-5 6m-5 5l-5 5m24-18l-19 22m17-14l-9 11m5-4l-5 6m6-8l-10 11m14-24l-19 22m0-9l-6 5m23-18l-20 21m22-18l-20 22m18-24l-21 21"/><path stroke="var(--ic)" d="M771 483l-9-10m12 7l-9-10m5 12l-9-9m11 12l-7-11m9 11l-6-11m6 11l-7-11"/><path stroke="var(--gp)" d="M345 692l-30-3m27 4l-15-1m24 3l-30-2m23 0l-31-3m37 3l-30-2m25 2l-31-3m27 4l-15-1m27 1l-29-1m25 1l-30-3m30 4l-30-3m17 0l-15-2m24 1l-30-3"/><path stroke="var(--ib)" d="M766 490l-6-11m9 6l-7-10m0 17l-5-10m6 2l-9-8m12 7l-9-9m11 10l-8-9m2 15l-7-9m14 7l-5-11m2 7l-8-9"/><path stroke="var(--pb)" d="M517 601l-2 6m-1-8l-3 6m5-2l-2 6m1-11l-3 6m4-3l-2 6m2-8l-3 6m0-4l-2 6m4-10l-3 6m-2-6l-3 6m9-3l-2 6m-3-9l-3 6m9-1l-2 6m2-7l-2 6m-1-8l-3 6m3 0l-1 5"/><path stroke="var(--gn)" d="M357 681l-26 0-14-2m37 1l-27 0m25 3l-27-1m27-2l-26-1m29 2l-27 0m24 2l-13 1m21-6l-24 1-14-2m39 1l-11 1m-13 0l-14-1m32 4l-27 0m34-4l-24 1-14-1m36 1l-26 1-14-2m37 5l-26 0-15-3m45 0l-25 2-14-2m36 1l-25 1-15-2"/><path stroke="var(--pj)" d="M520 598l-2 6m17-8l-2 6m-13-7l-3 6m16-9l-4 11m-4-8l-4 12m13-16l-4 11m-11-4l-3 5m9-7l-4 11m6-14l-4 12m0-11l-5 11m18-14l-4 11m-13-7l-3 6m17-9l-4 11m4-7l-1 6m2-9l-4 11m-14-10l-3 7m17-7l-4 11m0-11l-4 12m14-11l-2 5m-13-6l-5 12m16-11l-2 5m-15-4l-3 6m15-10l-5 12m3-10l-4 11m12-10l-2 5m-1-7l-4 11m4-13l-5 11m5-9l-4 12m8-9l-2 6m-13-8l-3 6m19-3l-2 5m-13-6l-3 6m9-7l-4 11m-2-11l-3 6m8-6l-4 11m7-15l-6 11m11-10l-4 11m5-8l-1 5m-16-1l-3 6"/><path stroke="var(--ar)" d="M418 625l-5 5m-21-8l-4 5m31-7l-16 15m15-10l-5 5m-9-7l-5 4m10-3l-5 5m18-9l-10 10m-9-6l-5 5m-6-28l-4 12-7 10m16-15l-9 18m27-7l-11 10m-15-27l-7 17m13-15l-7 18m22 0l-11 10m24-15l-15 16"/><path stroke="var(--i8)" d="M750 498l-5-8m-3 8l-7-7m10 4l-7-6m13 9l-6-9m-1 8l-7-7m3 8l-7-6m13 5l-6-8m10 9l-6-9"/><path stroke="var(--bx)" d="M351 494l28 17m-33-20l29 16m-21-11l27 17m-12-13l13 10m-27-15l27 18m-27-16l26 18m-24-13l13 8m-28-21l30 16m-20-9l27 17m-22-12l13 9m-27-16l28 15m-25-18l29 17m-27-18l29 17m-33-12l28 15"/><path stroke="var(--go)" d="M353 689l-28-1m21 1l-30-3m36 3l-28-1m30-2l-27-1m17 4l-30-4m25-1l-14-2m20 5l-29-3m32 6l-30-2m39-1l-27 0-15-3m34 6l-29-2m36-3l-27 0-15-2m36 9l-14 0m21-7l-27 0-15-2m32 4l-28-2"/><path stroke="var(--if)" d="M802 463l-11-12m12 15l-10-13m4 19l-8-14m6 9l-11-11m6 20l-7-13m11 8l-9-12m12 8l-10-12"/><path stroke="var(--pc)" d="M493 603l-3 6m22-11l-5 12m-6-10l-6 12m7-8l-4 12m13-11l-2 6m-9-10l-6 12m7-13l-6 12m5-8l-5 12m17-12l-1 6m-21-8l-3 6m17-9l-6 13m1-10l-6 12m0-8l-3 6m22-14l-5 12m6-11l-5 12m-7-9l-5 12m13-17l-6 13m6-10l-5 12m-2-13l-5 13m-6-9l-4 6m25-7l-2 6m-10-6l-6 12m4-11l-5 12m19-12l-2 6m3-11l-5 12m-1-7l-3 6m2-11l-6 13m10-14l-6 12m2-10l-5 12m7-8l-2 6m-3-9l-6 12m1-8l-5 12m18-11l-2 6m-8-10l-6 12m5-9l-5 12m17-17l-4 12m1-9l-4 12"/><path stroke="var(--i6)" d="M730 504l-6-5m8 5l-6-6m7 8l-4-7m2 5l-6-6m7 8l-5-6"/><path stroke="var(--ig)" d="M814 457l-12-14m10 18l-11-15m7 18l-9-15"/><path stroke="var(--bh)" d="M361 527l17 15m-8-16l17 17m-24-23l10 8 16 17m-17-23l18 18m-24-18l18 16m-28-8l21 20m-18-24l23 22m-14-23l17 17m-12-22l10 8m-1 3l8 9m-33-7l14 13m-10-16l16 14m-15-20l10 7 14 16m-17-27l18 17m-17-16l18 17"/><path stroke="var(--p0)" d="M486 608l-5 13m-9-12l-4 6m9-7l-7 13m6-12l-7 12m5-13l-7 12m21-15l-6 12m3-10l-6 12m-1-9l-6 12m15-14l-6 13m4-15l-6 12m-7-11l-4 6m18-1l-3 7m-7-13l-8 13m14-11l-7 12m1-9l-4 6m8-11l-7 13m16-14l-6 12m4-8l-2 6m-11-4l-3 6m1-8l-4 6m19-2l-3 6m-6-10l-6 12m13-15l-6 13m-6-8l-4 6m17-13l-7 13m7-8l-3 7m0-12l-7 13m10-9l-5 13m-5-12l-6 12m5-12l-6 12m15-17l-7 13m-5-6l-4 6m19-5l-3 6m-1-9l-6 13"/><path stroke="var(--ck)" d="M326 432l28 9m-41-6l28 7m-38-19l31 5m-10 8l27 8m-30-9l28 8m-26-8l28 8m-39-8l28 6m-40-19l32 5m-27-3l31 6m-16 2l28 8m-48-21l33 5m-29-2l32 6m-22 9l27 6m-23-9l28 8"/><path stroke="var(--cj)" d="M330 442l26 8m-26-4l25 8m-50-26l30 6m-31-5l29 5 28 10m-36 0l26 7m-36-8l26 6m-19-8l26 8m-24-4l25 7m-31-9l26 7m-26-12l27 6m-33-4l27 6m-33-17l30 5"/><path stroke="var(--a0)" d="M374 635l-15 5m13 0l-23 8m30-1l-24 8m21-4l-8 3m5-11l-25 6m29-1l-15 6m16-9l-25 7m19 3l-9 2m16-16l-25 7m22 1l-16 6m5-20l-23 6m30-2l-23 7m29 0l-24 8m24-8l-25 7m14-22l-21 7m21 1l-24 6m28 1l-26 6m34-8l-24 7m20 2l-9 3"/><path stroke="var(--oz)" d="M490 609l-3 6m3-3l-3 6m2-12l-3 6m4-5l-3 6m3-10l-4 6m4-4l-3 7"/><path stroke="var(--lt)" d="M549 589l-2 5m0-7l-3 5m4-7l-4 11m4-6l-2 5m2-8l-2 5m3-3l-2 5m0-7l-2 5"/><path stroke="var(--ci)" d="M318 447l25 6m-41-15l28 4m-23-3l28 5 25 9m-37-8l26 7m-29-4l25 7m-21-6l25 7m-39-22l29 6m-22 8l25 6m-1-5l24 9m-59-21l28 5 26 9m-44-5l26 6m-28-3l25 5m5-4l24 10m-48-14l26 7m-22-7l25 7m-45-15l27 4 26 9m-18-5l25 9m-48-10l26 6"/><path stroke="var(--cg)" d="M333 459l22 8m-27-5l22 6m-8-14l23 10m-44-6l23 6m-3-8l22 9m-23-9l23 9m-43-6l23 6m-14-4l22 7m-13-13l23 9m-45-7l23 6m-16-4l22 6m-6-11l23 9m-38-5l23 6m-28-4l22 5m-14-3l22 7m-7-9l21 9"/><path stroke="var(--lu)" d="M544 589l-2 5"/><path stroke="var(--ch)" d="M343 453l23 10m-38-5l23 7m-20-16l25 8m-49-13l26 5 25 9m-29-2l23 7m-36-13l25 6m1-4l23 10m-49-12l24 6m-27-6l25 5m-30-13l27 5 25 9m-31 2l23 7m-31-10l23 6m-37-15l26 4 24 9m-39-5l24 6m-12-2l23 7m-11-14l24 9"/><path stroke="var(--gh)" d="M316 732l-22-5m11 4l-23-6m36 12l-22-4m11 0l-23-6m37 6l-22-4m10 7l-22-6m20 0l-22-5m25 11l-23-5m24 3l-23-5m28 5l-22-5m26 4l-21-4"/><path stroke="var(--lr)" d="M594 568l-5 10m2-10l-6 11m-1-7l-3 8m-2-5l-4 8m-2-6l-4 9m0-7l-4 9m-2-10l-3 5m14-7l-4 9m-2-8l-3 5m11-7l-4 9m-2-8l-5 10m-1-8l-2 5m19-10l-4 8"/><path stroke="var(--gm)" d="M362 675l-24 1-13-1m33-4l-24 1-13-2m31 6l-26-1m27-3l-25-1m29 0l-23 1m6 0l-13-1m23 8l-13 0m23-6l-24 1-13-1m27 2l-25-1m26 2l-25-1m25-1l-26-1m34-1l-24 1-13-1m33 5l-26 0m22-1l-26-1"/><path stroke="var(--ia)" d="M756 489l-8-7m10 6l-8-8m10 12l-6-9m6 8l-6-9m-1 9l-7-7m14 4l-7-8m6 8l-8-8"/><path stroke="var(--hp)" d="M683 530l-7-3m11 2l-7-4m9-1l-4-2m10 2l-3-3m8-1l-4-3m11 1l-5-4m1 4l-5-3m2 6l-4-3m3 4l-3-3m14-5l-5-4m-12 12l-5-2"/><path stroke="var(--ob)" d="M446 618l-4 6m3-6l-5 6"/><path stroke="var(--gi)" d="M308 746l-24-6m19-1l-24-6m40 13l-23-4-24-8m23 22l-27-7m48 5l-24-5m15-13l-24-6m24 10l-23-6m17 7l-24-7m30 3l-24-6m13 19l-26-7m25 9l-26-8m44 1l-23-5m22-2l-22-5"/><path stroke="var(--pi)" d="M537 591l-2 5m7-8l-4 10m2-10l-4 11m0-9l-3 6m5-7l-2 6m-1-6l-3 6m10-9l-4 11m-2-8l-3 6m9-1l-1 5m-5-8l-2 5m3-5l-2 6m7-8l-4 11m-1-11l-3 6"/><path stroke="var(--bw)" d="M354 502l25 17m-30-15l25 15m-28-17l25 14m-17-14l25 17m-26-14l24 16m-16-7l11 8m-29-27l14 7m-15-4l27 14m-26-12l26 14m-21-9l25 15m-11-6l11 8m-31-27l15 6m-4-1l26 17m-38-22l27 15m-17-8l25 16"/><path stroke="var(--gg)" d="M315 731l-21-5m25 3l-21-4m9 5l-22-6m26 2l-22-6m36 6l-21-4m8 0l-21-5m23 14l-22-5m15-2l-22-6m38 7l-20-4m4 6l-22-6m33 11l-22-4m28-1l-20-3m5-1l-21-6"/><path stroke="var(--ls)" d="M552 583l-3 6m18-11l-4 9m-5-6l-4 10m6-8l-2 5m-6-3l-3 5m10-7l-2 5m-7-4l-2 6m17-8l-2 5m-4-6l-4 10m6-11l-4 10m-7-3l-2 5m12-10l-2 5m-7-3l-2 5m13-6l-2 5m-7-3l-2 5"/><path stroke="var(--hr)" d="M724 507l-6-5"/><path stroke="var(--on)" d="M461 610l-7 13m-3-11l-5 6m14-5l-3 6m-7-3l-4 6m20-12l-7 13m9-10l-4 7m-1-9l-8 12m3-10l-4 6m7-7l-4 7m4-8l-7 13m10-15l-8 12m7-11l-8 13m-7-9l-4 6m15-8l-8 12m1-11l-8 12m19-13l-8 12m8-10l-3 6m-12-3l-4 6m8-7l-4 6m6-6l-4 6"/><path stroke="var(--cf)" d="M324 464l22 6m-12-8l22 8m-26-2l21 6m-24-9l21 6m-24-6l21 6m-22-9l21 6m-13-7l22 8m-10-4l21 9m-38-8l21 6m-11-11l21 8m-18-6l21 8m-41-9l22 5m0-2l21 9m-38-7l21 6m-24-8l21 5"/><path stroke="var(--gl)" d="M352 666l-24 0m28 1l-23 1m17-2l-12 0m15 4l-24 0m23 1l-12 1m9-5l-24-1m30 4l-24 0m28-6l-22 1m16 5l-24 0m29-3l-22 1-13-1m26-2l-23-1m18-1l-11 0m23 4l-23 0m23 2l-23 1m21-7l-22 0"/><path stroke="var(--ce)" d="M334 466l21 7m-29-1l19 6m-9-12l20 8m-28-1l19 6m-22-8l20 5m-20-6l20 6m-15-1l19 6m-8-14l20 9m-38-7l20 6m-17-8l20 6m-4-3l19 8"/><path stroke="var(--gk)" d="M355 660l-21 0m21-5l-21 1m15 1l-11 0m18 3l-22 0m18-4l-20 0m22 5l-22 1m21-3l-10 1m7-3l-10 0m14 5l-22 0m23 1l-11 0m12-3l-21 1m19-1l-21 1m24-3l-22 1"/><path stroke="var(--gd)" d="M326 704l-17-3m15 6l-18-4m18 0l-17-4m12 7l-18-4m23 5l-19-4m20 2l-18-4m16 4l-18-3"/><path stroke="var(--d0)" d="M287 401l37 4m-38 6l35 3m-42-10l37 2m-27-13l40 5"/><path stroke="var(--gf)" d="M310 720l-21-6m33 7l-20-4m15-2l-19-5m24 9l-19-3m6 2l-20-5m23 4l-20-5m29 8l-20-4m11-2l-20-5"/><path stroke="var(--hq)" d="M718 509l-6-4m1 8l-5-4m10-1l-6-4m0 9l-5-4m12 2l-5-5m4 3l-6-4"/><path stroke="var(--oa)" d="M444 615l-4 5m5-6l-5 6m0-5l-5 6m0-1l-5 5m9-10l-4 6m1-2l-5 5m11-4l-5 6"/><path stroke="var(--cc)" d="M338 484l17 7m-25-9l18 6m-9-3l17 7m-23-8l17 6m-19-15l19 6m-14 3l17 7m-12-11l17 7"/><path stroke="var(--bv)" d="M352 520l9 7m-12-15l21 14m-18-13l11 7m-14-12l12 6m-18-5l23 13m-17-2l10 6m-13-14l22 13m-18-18l12 7m-10 9l9 7m-9-13l10 7m-17-18l24 14m-23-13l24 14"/><path stroke="var(--gc)" d="M322 702l-18-4m22 5l-17-3m17 0l-17-3m17 3l-17-3m15-1l-17-3"/><path stroke="var(--ge)" d="M321 711l-18-4m15 2l-19-4m16 8l-20-5m28 0l-18-3m14 7l-19-4m26 2l-18-3m8 6l-20-4m20-3l-18-4m22 9l-19-4m13 5l-19-5"/><path stroke="var(--ht)" d="M733 502l-6-6m11 3l-7-6m8 4l-8-6m2 11l-7-6"/><path stroke="var(--cd)" d="M327 477l18 6m-15-2l17 6m-21-11l18 6m-3-7l18 8m-29-12l20 7m-19-7l20 6m-18-2l18 7m-22-3l18 6m-20-7l18 5m-10-8l19 7m-29-5l19 5m-10-9l19 7m-14-6l19 8m-29-2l18 6m-20-9l18 5"/><path stroke="var(--hu)" d="M744 495l-7-6m7 7l-7-7"/><path stroke="var(--hs)" d="M730 503l-6-5m8 3l-6-5m5 5l-7-5m10 4l-7-5m8 5l-7-6m1 10l-6-6"/><path stroke="var(--cb)" d="M335 488l16 6m-13-4l16 6m-17-11l17 7m-15-3l16 6m-16-4l16 6m-18-7l15 6m-14-2l15 6m-22-16l17 6"/><path stroke="var(--gj)" d="M349 648l-10 0m14 4l-10 1m11-5l-9 1m4-3l-9 1m14 7l-20 1m19-2l-10 0m2-1l-10 0m20-1l-10 1"/><path stroke="var(--cz)" d="M288 414l35 3"/><path stroke="var(--cx)" d="M296 429l30 3m-29-6l31 4m-32-6l32 4"/><path stroke="var(--hv)" d="M748 493l-8-7m12 4l-8-7m7 8l-8-7"/><path stroke="var(--cy)" d="M288 416l34 3m-34-4l34 3m-28 3l32 4m-36-9l34 4"/><path stroke="var(--gb)" d="M327 692l-16-3m15 4l-16-2m14 2l-16-4"/><path stroke="var(--ca)" d="M340 496l14 6m-15-6l15 6m-15-3l14 6m-17-9l15 6"/><path stroke="var(--hw)" d="M753 490l-9-7"/><path stroke="var(--om)" d="M449 612l-4 6m1-4l-4 6"/><path stroke="var(--oz)" d="M487 603l-4 6"/><path stroke="var(--at)" d="M435 615l-4 5"/><path stroke="var(--ch)" d="M305 445l26 4m-28-7l27 4"/><path stroke="var(--gm)" d="M334 672l-13-2m8 0l-13-2"/><path stroke="var(--ib)" d="M769 480l-10-8"/><path stroke="var(--bv)" d="M341 515l11 5m-12-12l12 5m-15 7l19 10m-18-15l11 5m-10 2l18 11m-15-15l10 5m-12-11l12 5"/><path stroke="var(--gn)" d="M329 677l-14-3"/><path stroke="var(--pb)" d="M512 593l-3 7m3-5l-3 7"/><path stroke="var(--cg)" d="M309 455l24 4m-29-5l24 4m-17 0l23 4m-30-10l25 4m-17 1l24 4m-31-6l24 3m-23-4l24 4"/><path stroke="var(--gl)" d="M333 668l-13-2m18 0l-12-1m5 5l-13-2m19-3l-13-1m9-1l-13-2m13 6l-13-2m13 5l-13-2m12-5l-13-2"/><path stroke="var(--a0)" d="M359 640l-8 1m20-12l-22 6m19-7l-22 6"/><path stroke="var(--if)" d="M797 464l-12-11m12 12l-12-11m14 7l-13-11"/><path stroke="var(--ie)" d="M785 470l-11-9"/><path stroke="var(--cf)" d="M312 461l22 5m-29-8l23 4m-15 0l23 4m-28-9l23 4m-25-3l23 3"/><path stroke="var(--ae)" d="M393 624l-6 4m2-10l-18 11m16-11l-19 10"/><path stroke="var(--ce)" d="M321 470l20 5m-31-7l20 3m-22-7l22 4m-20-1l21 4m-12-1l20 4"/><path stroke="var(--hp)" d="M692 521l-6-2m10-2l-7-1m9-1l-7-2m5 5l-6-2m6 3l-6-2m11-1l-5-3"/><path stroke="var(--gk)" d="M334 660l-12-1m12-3l-11-1m15 2l-11 0m7 3l-12-1m10-3l-12-1m12 7l-12-2m23 0l-24-3m21 0l-22-2m16 0l-11-1m20-1l-10 0m-1 9l-12-1m15 0l-12-1m10 1l-12-2m14 0l-11-1"/><path stroke="var(--id)" d="M779 474l-11-9"/><path stroke="var(--cc)" d="M311 478l19 3m-10-1l18 4m-9 1l17 6m-27-10l18 4m-16-5l18 5m-17 0l17 4m-29-13l19 3m-11 1l18 4m-11 0l17 5m-13-3l17 5m-36-14l19 3"/><path stroke="var(--lr)" d="M582 571l-3 4m-3-3l-3 5m-2-4l-4 5m5-4l-3 5m-2-6l-4 5m14-6l-3 4m-2-4l-4 5m11-7l-3 5m-8-2l-4 5"/><path stroke="var(--cd)" d="M307 470l21 3m-15-1l20 3m-22-3l20 3m-21-3l20 3m-15-4l20 4m-22-6l21 4m-9 6l18 5m-21-9l19 5"/><path stroke="var(--ca)" d="M324 492l16 4m-20-1l29 9m-32-10l29 8m-22-10l15 4m-15-1l15 4m-12-6l15 5m-29-5l15 3 15 4m-23-4l28 9m-12-3l14 5m-33-8l14 2m-6-10l16 4m-20-2l15 3"/><path stroke="var(--oa)" d="M437 612l-5 5m7-3l-4 6m6-7l-5 6m6-13l-6 5m4-2l-5 6"/><path stroke="var(--cb)" d="M318 484l17 4m-24-5l18 2m-17-6l18 3m-9 3l17 5m-23-10l18 4m-10 3l16 4m-12 0l16 4m-23-9l17 4m-10 0l15 5m-15-5l16 4m-31-10l17 2m-7 4l16 4m-25-13l18 3m-19 3l17 3 15 5"/><path stroke="var(--gj)" d="M351 641l-28-1m16 8l-20-2m29 3l-21-1m16 5l-21-2m23-2l-20-1m24-13l-25-1m18 7l-18-1m16 7l-20-2m13 8l-12-1m25-18l-16 0m16 4l-26-1m23 8l-19-1m11 8l-10-1m20 1l-21-1"/><path stroke="var(--ig)" d="M808 455l-15-11m15 12l-14-12m9 15l-14-11m26 5l-13-12"/><path stroke="var(--as)" d="M429 612l-6 5"/><path stroke="var(--ls)" d="M555 578l-3 5m10-7l-4 5m-3-6l-5 6m2-1l-4 5m7-5l-3 5m10-7l-3 5m-5-4l-4 5m13-9l-4 6m-3-6l-8 12m17-12l-4 5m-4-4l-7 11m13-10l-3 5m-5-4l-4 6m9-10l-7 11m2-10l-4 6"/><path stroke="var(--pi)" d="M541 585l-4 6m4-11l-5 6m2-1l-4 6m6-6l-4 6m5-11l-8 12m6-7l-3 5m5-9l-7 12m8-10l-4 6m1-6l-4 6m5-6l-4 6m2-8l-4 6m4-6l-5 6m7-2l-4 6m4-6l-3 6m4-11l-5 6m5-3l-4 6"/><path stroke="var(--hq)" d="M702 514l-6-2m12-3l-9-2m8 5l-7-2m15-2l-7-3m1 6l-7-2m10-5l-9-1m-1 12l-6-3m11-3l-8-2m6 3l-8-1m12 3l-6-3m9-4l-9-2m3 10l-7-3"/><path stroke="var(--c9)" d="M317 509l24 6m-18-12l26 9m-22-8l13 4m-18-9l27 9m-32-6l26 7m-17 8l11 3m-10-9l11 4m-17-11l25 8m-24-14l14 4m-17 15l20 5m-20-10l23 6m-27-12l25 6m-9-11l14 5m-26-7l27 8"/><path stroke="var(--hr)" d="M712 505l-8-2m15 2l-8-3m12 1l-8-4m4 7l-7-3m13-1l-8-4m1 7l-8-3m4 4l-8-3m19-3l-9-3m9 6l-7-4m11 0l-9-4m-2 7l-9-2m4 8l-7-3m16-3l-9-3m6 6l-8-3m16-2l-9-4"/><path stroke="var(--ar)" d="M428 614l-5 6m-8-15l-22 19m31-9l-5 5m9-6l-5 5m-2-11l-17 15m16-9l-11 10m18-9l-5 5m-3-10l-16 14m3-19l-17 13m36-9l-10 10m-11-13l-17 12m33-6l-10 10"/><path stroke="var(--on)" d="M455 602l-5 6m11-8l-10 12m14-5l-5 6m0-9l-10 12m12-9l-4 6m7-7l-4 6m-2-12l-10 12m9-10l-10 12m15-8l-4 6m3-11l-10 12m6-8l-10 12m13-13l-9 12m4-14l-5 6m12-4l-9 12"/><path stroke="var(--gh)" d="M285 724l-24-10m33 13l-23-7m11 5l-24-10m38 18l-24-8m12 2l-24-9m39 11l-23-7m11 8l-25-9m23 4l-24-10m26 16l-25-9m26 7l-24-9m30 9l-24-8m29 8l-23-7m20 6l-23-8"/><path stroke="var(--ge)" d="M303 707l-20-6m16 4l-20-7m26 7l-20-6m27 6l-19-5-20-7m27 15l-20-7m28 6l-20-6-20-8m28 16l-20-8m22 1l-20-7m32 10l-19-5-20-9m41 20l-20-5-21-8m30 9l-20-7m34 8l-40-12m20 11l-21-7"/><path stroke="var(--gf)" d="M308 717l-21-5-21-9m36 14l-21-7m14-2l-21-7m24 9l-21-7m26 13l-21-7-22-10m48 14l-20-5-21-9m22 14l-22-9m43 9l-20-5-21-8m40 14l-20-5-22-9m25 12l-22-8m31 12l-21-6m12-1l-21-8"/><path stroke="var(--ga)" d="M325 688l-32-8-17-7m40 13l-33-11m41 13l-33-9m36 6l-32-7-17-7m36 14l-33-11m44 8l-31-8m22 10l-32-10m34 14l-16-4m13 0l-33-11m38 15l-33-10m27 5l-32-11m33 11l-32-11m36 13l-33-10"/><path stroke="var(--gg)" d="M294 726l-24-7m19-5l-22-8m31 19l-23-7m14 2l-22-8m37 10l-21-6-23-9m31 10l-22-8m23 17l-23-8m16 0l-23-9m46 11l-22-6-22-9m39 16l-22-6-23-10m27 16l-23-9m42 12l-22-7-23-9m29 9l-23-9"/><path stroke="var(--d0)" d="M269 401l38 0m-32 5l37 1m-64 0l39-6m-36-11l43-3m-39 9l41-2m-27 17l36-1m-38 4l35-1m-38 0l36-2m-32-4l37 0m-41 5l36-2m-31 0l36 0m-57-12l41-5m-39 2l41-4m-33 14l38-3m-37 10l37-3"/><path stroke="var(--lt)" d="M545 579l-4 6m9-4l-3 6m4-11l-9 12m2-6l-4 6m4-9l-4 6m4-7l-5 7m8-8l-5 6m2-6l-5 6m7-3l-4 6m3-9l-5 6m12-6l-8 12m0-10l-4 6m5-6l-5 6m10-8l-8 12m9-8l-4 6m-1-10l-5 6"/><path stroke="var(--gc)" d="M316 693l-35-11m23 16l-19-6m31 3l-35-11m9 10l-19-8m38 11l-37-13m37 13l-37-13m39 13l-37-12m37 14l-37-13m41 7l-17-4m24 7l-35-10m20 7l-18-6m26 6l-35-11"/><path stroke="var(--g9)" d="M317 679l-32-10m42 11l-30-7-15-7m43 16l-31-8m32 5l-30-7-16-7m48 16l-30-7-16-6m40 9l-30-8m31 9l-15-4m20 8l-30-7-16-6m42 9l-30-8m26 8l-30-9m26 11l-32-10m38 10l-31-9m27 9l-31-10m13 0l-15-6"/><path stroke="var(--gd)" d="M309 701l-19-6-19-8m35 16l-19-5-20-9m50 14l-37-11m27 7l-19-5-19-9m32 17l-19-6m34 8l-38-12m31 8l-19-6m20 8l-19-6-19-8m33 15l-19-5-20-9m41 12l-19-5-19-9m36 15l-19-6m30 6l-38-11m33 12l-19-5-20-8"/><path stroke="var(--gb)" d="M313 692l-36-12m38 9l-35-11m31 11l-35-12m45 16l-35-10m16 1l-17-6m28 12l-35-12m42 13l-33-9m27 8l-34-12m30 13l-35-13m33 11l-18-5m29 7l-34-10m13 8l-18-7m39 10l-35-10m37 8l-33-9m27 7l-34-11"/><path stroke="var(--g8)" d="M325 675l-29-8m25 3l-28-8m33 13l-29-7m31 3l-27-6-15-7m35 12l-28-8m34 9l-13-3m-14-4l-15-6m23 16l-15-5m30 4l-29-8m8-1l-14-6m37 16l-29-7m30 8l-29-7-15-7m43 12l-28-7m25 6l-28-8m21 10l-15-4m25 5l-29-7"/><path stroke="var(--pj)" d="M534 579l-14 19m9-16l-9 13m16-9l-3 6m-12-6l-9 12m21-15l-8 12m-9-11l-6 7m12-5l-8 13m13-14l-8 13m14-15l-8 13m-11-11l-6 7m16-7l-9 13m21-17l-9 12m-14-7l-5 7m24-12l-9 13m5-12l-9 13m2-10l-9 13m9-11l-8 12m16-19l-13 19m10-17l-10 12m21-12l-7 12m-11-10l-10 13m8-10l-5 6m22-11l-8 12m-14-8l-5 7m23-11l-9 12m3-11l-9 13m21-17l-9 13m7-11l-9 13m-1-9l-9 12m7-12l-9 13m21-11l-4 6m-11-9l-9 13m29-19l-9 13m-14-6l-6 7m23-5l-3 6m-11-9l-9 13m6-11l-6 7m19-12l-10 13m2-10l-10 13m17-14l-8 13m14-14l-8 13m-14-8l-5 7m22-12l-9 13m13-13l-8 13m2-15l-13 19m18-14l-4 6m-15-6l-5 6m28-5l-3 6m-12-6l-9 13m18-19l-13 19m5-17l-10 13"/><path stroke="var(--gi)" d="M284 740l-26-10m21 3l-25-10m14 26l-29-13m53 13l-26-8m17-11l-24-9m25 13l-26-10m19 10l-26-11m32 8l-24-10m11 22l-27-12m26 13l-28-12m49 8l-25-9m25 2l-25-9"/><path stroke="var(--hw)" d="M748 482l-13-4m22 7l-10-7m8 8l-9-6m8 3l-11-5m14 8l-10-7m7 3l-12-5m13 11l-9-7m0 3l-13-4m23 5l-10-6m10 5l-10-6m-1 8l-12-4"/><path stroke="var(--cw)" d="M291 446l27 1m-50-2l28-3m-21 2l28-2m-23 3l27-1m-37 0l28-3 27 3m-31-11l30 3m-37 6l28 1m-50 0l29-4 28 2m-33 4l27 1m-22-14l29 3m-54 10l28-3m-16 1l27-1m-45 4l28-4 27 1m-24 1l26 2m-50 1l27-4m-22-4l29-1m-15 5l27 2"/><path stroke="var(--p0)" d="M481 596l-9 13m-12-13l-6 7m7-7l-6 6m26 0l-4 6m8-12l-9 13m8-14l-10 13m-3-10l-10 12m15-16l-11 13m17-3l-4 6m-12-13l-6 7m16-6l-10 12m16-16l-10 13m8-7l-4 6m-3-8l-10 13m23-9l-4 6m2-10l-8 13m9-11l-5 6m-7-11l-11 12m15-14l-12 13m18-8l-9 13m8-15l-10 13m-1-10l-10 12m21-9l-4 7m3-11l-8 13m1-15l-10 13m9-11l-10 12m1-14l-6 6m10-2l-5 6m5-11l-6 6m16-8l-15 19m15-17l-15 19m0-15l-5 6m9-7l-6 6m19-2l-4 7m9-13l-10 13m3-9l-9 13m-7-17l-6 6m25-4l-9 13m-4-14l-5 7m16-10l-10 13"/><path stroke="var(--pc)" d="M503 590l-10 13m7-14l-14 19m20-15l-5 7m9-9l-8 13m-11-15l-6 7m13-4l-10 13m16-10l-4 6m6-8l-5 7m7-8l-8 12m0-16l-15 19m7-16l-5 6m13-8l-10 13m18-9l-4 6m4-10l-9 13m2-9l-8 13m2-13l-10 13m19-19l-15 19m-3-13l-6 7m16-11l-10 13m19-7l-4 7m-11-10l-6 6m14-6l-9 13m18-12l-5 6m-1-9l-10 13m-2-11l-6 6m26-9l-9 13m4-14l-14 19m17-17l-9 13m-5-14l-6 7m7-3l-9 13m2-14l-6 6m29-6l-4 6m4-5l-4 6m-11-7l-9 12m13-14l-9 13m17-9l-4 6m-10-9l-5 7m12-9l-14 19m20-17l-8 13m-6-15l-7 7m20-2l-4 7m-7-10l-10 13m24-13l-8 13m5-18l-15 19m7-15l-10 13"/><path stroke="var(--aw)" d="M439 603l-11 11m11-11l-11 11m8-3l-5 6m7-14l-11 12m12-9l-10 11m11-16l-11 11m10-6l-10 12"/><path stroke="var(--hy)" d="M766 479l-12-7m21 3l-12-8m12 8l-12-8m-1 8l-14-4m17 8l-12-7m17 6l-10-8m5 4l-14-5m13 8l-13-6m14 8l-11-7m20 3l-11-8m4 7l-13-6m13 8l-12-6"/><path stroke="var(--cz)" d="M254 421l34-5m-7 3l34 1m-48-2l35-2m-49 4l35-5m-17 1l35-1m-35 10l32-2m-53-7l36-5m-7 4l35 2m-47 0l34-1m-45 5l34-5m-28-1l35-3m-44 7l35-5m-8 1l34 1m-30 0l34 2m-47 5l33-1"/><path stroke="var(--hv)" d="M737 489l-12-3m23 4l-9-6m-1 5l-12-3m23 4l-9-6m5 5l-10-5m7 4l-11-4m18 3l-10-5m1 4l-12-2m19 7l-9-6m15 2l-10-6m-3 8l-12-3m18 3l-9-5"/><path stroke="var(--cx)" d="M294 427l31 3m-52 10l29-2m-23 2l28-1m-23-4l29 0m-40-4l31-2m-40 7l30-3m0-5l30 3m-47 7l29-1m-44 0l30-4m-2-9l32 3m-58 9l30-4m-12 3l30 0m-52 6l29-5 29 2m-59-3l30-5m-6 10l29 0m-28-4l30 1m-55 1l29-5"/><path stroke="var(--g7)" d="M328 666l-26-6-14-6m32 12l-27-8m33 7l-27-7m30 12l-28-7-14-6m27 11l-14-4m25 2l-26-7m19 9l-28-9m34 5l-26-7m18 11l-14-4m21 3l-26-8m29 5l-13-2m-6-4l-13-5m14 5l-14-5m26 12l-27-8m27 11l-28-9m14-1l-13-5"/><path stroke="var(--cy)" d="M262 430l32-3m-29 5l31-3m-22 0l31-1m-44-3l33-4m-14 13l30 0m-47-2l31-4m-2 5l29 2m-63-6l32-5m-23 0l33-2m-34 7l31-3m-24-1l32-1m-16 6l31 2m-53-11l33-2m-25 10l31 0m-18 4l30 1m-54-7l32-3"/><path stroke="var(--ht)" d="M727 496l-10-2m20 2l-8-5m12 1l-9-5m5 9l-8-5m2 2l-11-2m6 5l-11-2m12 0l-12-2m23 6l-8-6m-3 3l-11-3m12 2l-11-2m20 5l-7-5-12-2m18 5l-9-4m-1 5l-10-2"/><path stroke="var(--hx)" d="M760 479l-12-5m9 11l-9-7m8 5l-11-6m12 5l-12-6m18 2l-13-6m14 9l-10-7m1 7l-12-5m10 4l-14-4"/><path stroke="var(--hb)" d="M676 527l-6 0m10-2l-13 0m18-3l-13 0m14-3l-7 0m10-3l-8 0m15-4l-9 0m4 1l-9 1m8 2l-8 0m14-4l-8 0m2 5l-16 1m22-5l-9 0m12-3l-9 0m-2 10l-14 0"/><path stroke="var(--lw)" d="M601 560l-7 8m5-9l-8 9m6-10l-13 14m7-11l-9 10m3-9l-9 10m5-10l-10 11m11-10l-10 11m7-13l-12 12m5-6l-10 11m25-17l-10 11m5-11l-10 11m17-12l-10 10m6-10l-15 16m5-12l-10 11m8-9l-10 11m17-16l-12 12m26-15l-13 15"/><path stroke="var(--lu)" d="M542 579l-4 6"/><path stroke="var(--hs)" d="M724 499l-10-3m12 1l-9-3m7 4l-10-2m12 2l-10-3m8 1l-11-2m21 5l-7-5m3 5l-9-4m-3 4l-11-1m26-2l-9-4m1 6l-10-2m8 2l-10-2"/><path stroke="var(--cv)" d="M265 450l26-4m5-4l27 3m-45 1l27-1m-37 5l26-4 26 2m-48 2l26-3 26 2m-45 5l25-2m-39-1l26-4 26 1m-27 1l26 1m-26 0l26 0m-19-8l27 3m-37 5l26 0m-25-2l26 1m-42 8l24-4m-29-5l27-4m3-1l27 3m-43 1l26-1m-38 11l24-4"/><path stroke="var(--g6)" d="M322 659l-25-8m26 4l-24-7m28 9l-24-7m19 9l-25-8m11 1l-12-5m24 13l-26-8m25 5l-25-8m24 6l-25-9m30 8l-23-7m13 15l-13-4m20 3l-13-3m13 3l-12-3m15 2l-25-7m23 6l-25-7m28 6l-25-8m20 11l-13-3"/><path stroke="var(--om)" d="M454 603l-10 12m6-7l-5 6m11-17l-16 18m8-15l-11 12m13-10l-11 12m17-16l-17 17m12-14l-10 12m7-13l-6 6m3-6l-6 6m7-3l-6 6m11-1l-5 6m-1-13l-6 5"/><path stroke="var(--cu)" d="M285 456l24-1m-29 1l24-2m-31 5l24-3 24 2m-48 3l24-4 23 2m-38 0l24-1m-18-1l24 0m-20 0l24 0m-40 3l23-3m-18-1l24-1m-29 3l24-2 24 2m-28-5l25 2m-28-2l25 1m-36 2l24-2"/><path stroke="var(--ct)" d="M289 462l23-1m-30-1l23-2m-26 6l23-2 22 2m-36-6l23 0m-20 4l22 0m-31 2l22-2m-27 1l23-3 23 2m-38-4l23-1m-26 8l22-2m-5-6l24 2m-49 5l22-3 23 1m-47 0l24-4 23 2m-38 1l23-2 23 3m-29 1l23 2"/><path stroke="var(--hz)" d="M770 474l-13-7m13 5l-13-6m15 5l-14-6m20 8l-11-8m6 11l-12-8m12 2l-14-6m9 10l-14-6m21 7l-11-8m10 3l-14-6"/><path stroke="var(--i0)" d="M784 467l-14-8m21 6l-14-9m4 13l-13-8m14 6l-14-8m14 6l-15-7m16 9l-13-8m10 6l-15-6m23 7l-13-9"/><path stroke="var(--hu)" d="M745 490l-10-5m10 6l-9-5m-1 5l-11-3m18 2l-11-4m-1 6l-12-2m19 0l-12-3m9 7l-10-4m9 2l-11-3m24 3l-9-6m6 9l-8-6-12-3m14 3l-12-3m6 5l-11-2m24 0l-10-4m8 6l-10-5"/><path stroke="var(--pd)" d="M486 596l-5 6m6-5l-5 7m8-10l-5 6m2-4l-5 6m6-4l-5 6m2-8l-5 6m4-9l-6 7m9-8l-6 6"/><path stroke="var(--cs)" d="M279 472l21-3 21 1m-33-2l22 0m-24-3l22-1m-4-2l23 3m-44 6l21-2m-15-1l21-1m-31-1l23-3 22 2m-20-2l22 3m-43 3l21-1m-9 3l20 0m-35-1l22-3 21 2m-31 0l21 0m-36 3l21-4 21 2m-37-3l22-2 22 2m-45 0l21-2 22 2m-48-1l22-3"/><path stroke="var(--cq)" d="M308 475l19 2m-21-3l20 2m-26 8l18 0m-35-3l18-2m-8 4l18 0m-28 0l18-3 18 1m-35 0l19-2m1 4l18 2m-25-5l18 0m-25-3l20-1m-29 7l18-3 19 0m-29 4l18-1m0-8l20 3m-21-4l19 3m-38 1l19-1 19 2m-34-1l19-1m-16 4l19 0m-6-7l20 3"/><path stroke="var(--cr)" d="M288 476l20-1m-15 4l18-1m-25-2l20-2m-21-2l20-2 21 2m-25 7l19 1m-27-1l19 0m-25-8l20-1m-4 9l18 1m-17-11l21 2m-33 1l21 0m-22 0l20 0m-7-4l21 2m-36 2l21 0m-22 5l19-2m-21 1l20-2m-24 2l20-3 20 2m-34 1l19-2"/><path stroke="var(--g5)" d="M323 640l-20-6m16 12l-22-7m30 9l-21-6m14 13l-12-3m14-1l-24-7m27 4l-22-6m21-8l-19-6m19 12l-19-6m15 11l-21-7m22 14l-23-8m32-10l-27-8m17 11l-19-7m23 14l-20-6m21 13l-23-6m22 6l-23-7"/><path stroke="var(--i2)" d="M808 451l-17-10m25 6l-17-10m13 13l-16-11m12 15l-16-11m19 6l-17-10"/><path stroke="var(--co)" d="M292 492l16-2 16 2m-34 4l15-2 15 1m-19-1l16 0m-25-2l16-2 16 2m-30 3l15-1 15 1m-17 3l15 1m-11-10l16 2m-32 1l16-1 16 2m-30 1l16-1m-23 5l15-3 15 1m-12 1l14 1m-19 0l14 1m-25-8l17-2 16 2m-35 3l15-2"/><path stroke="var(--cp)" d="M283 487l17-3m-13 2l17-2 17 1m-34 0l17-2m-16 4l18-2 17 2m-29 2l17 0m-4-6l18 1m-39 4l17-3 17 1m-27 3l17-1 17 2m-33-2l16-1 17 3m-33-6l18 0m-22 7l16-2 16 1m-17 2l16 1m-26-5l17-1"/><path stroke="var(--av)" d="M435 604l-11 11m3-12l-6 5m10-5l-11 11m5-10l-6 6m12-7l-6 6m-15-8l-6 5m28-4l-12 10"/><path stroke="var(--i1)" d="M789 459l-17-6m27 7l-14-10m-2 13l-16-6m22 5l-15-8m15 11l-14-9"/><path stroke="var(--cn)" d="M305 509l12 0m-21-5l13-2 14 1m-23 0l13-1 14 2m-34-4l14-2m-4 4l14 0m-12 14l21 1m-23-7l24 1m-33-6l14-2 13 1m-28-5l15-2m0 20l11 0m-23-3l23-2m-16-6l12 0m-25-5l14-2 15 0"/><path stroke="var(--pk)" d="M511 587l-5 6m3-5l-5 7m7-8l-5 6m1-7l-6 7m9-4l-5 6m7-10l-6 6m4-3l-5 6"/><path stroke="var(--lx)" d="M560 572l-5 6m18-14l-11 12m-1-7l-6 6m2-6l-6 7m12-8l-11 12m13-12l-10 12m10-13l-11 12m20-15l-11 11m-1-6l-6 6m6-5l-5 6m-5-2l-6 6m11-9l-5 6m14-11l-11 12m11-10l-6 6m-5-3l-5 6m11-8l-6 6"/><path stroke="var(--gx)" d="M670 527l-14 2m11-4l-8 2m13-5l-9 2m16-5l-9 1m12-4l-10 1m2 3l-9 2"/><path stroke="var(--hc)" d="M700 510l-9-1m17-4l-10-1m4 5l-9-1m6-1l-10 1m8 1l-9 0m15 0l-9-1m12-3l-10 0"/><path stroke="var(--ma)" d="M612 551l-11 9m10-10l-12 9m11-11l-13 10m0-2l-6 5m1-4l-7 5m3-4l-6 5m11-7l-6 5m9-6l-7 5m12-7l-7 5"/><path stroke="var(--fz)" d="M286 696l-20-9"/><path stroke="var(--g4)" d="M272 734l-27-11m21 18l-28-13m27 3l-27-13"/><path stroke="var(--g2)" d="M275 718l-23-11"/><path stroke="var(--g1)" d="M281 710l-22-10m18 3l-22-11m25 18l-22-10"/><path stroke="var(--fw)" d="M291 679l-17-8"/><path stroke="var(--g3)" d="M270 719l-24-12m25 13l-25-12m26 17l-25-12m29 9l-24-11m18 10l-24-12m30 13l-24-11m21 9l-24-11"/><path stroke="var(--ly)" d="M551 572l-6 7m2-5l-6 6m7-7l-6 6m7-3l-5 6m6-9l-6 6m3-5l-6 6m9-8l-6 6m3-4l-6 7m12-10l-6 6m-3-2l-6 6m12-9l-6 7m7-6l-6 6m2-5l-6 6"/><path stroke="var(--mo)" d="M625 543l-13 8m6-5l-7 4"/><path stroke="var(--fy)" d="M285 692l-19-9m20 0l-18-9m19 12l-19-8m21 9l-18-8"/><path stroke="var(--g0)" d="M283 701l-21-10m17 7l-21-10m24 8l-21-10m24 13l-20-9m15 11l-21-10m22 9l-20-10"/><path stroke="var(--pl)" d="M539 577l-6 6m-5-3l-6 6m10-7l-5 6m12-8l-6 6m-3-4l-6 6m3-5l-6 7m16-9l-5 7m-5-5l-6 6"/><path stroke="var(--fu)" d="M296 667l-15-7m12 2l-15-7m19 13l-15-7m12 4l-15-7m17 9l-15-7m16 6l-15-7m12 5l-15-8m17 12l-15-7"/><path stroke="var(--hd)" d="M711 502l-10-1m14-2l-11-1m8 5l-10-1m8 0l-11 0m12 0l-11-1"/><path stroke="var(--ft)" d="M299 658l-13-6m13 7l-14-6m13 4l-14-7m13 9l-14-7m17 6l-14-6m12 1l-13-6"/><path stroke="var(--fv)" d="M294 674l-16-7m16 7l-17-7m15 2l-16-8m17 8l-16-7m17 8l-16-7m13 8l-16-7"/><path stroke="var(--ng)" d="M656 529l-15 6m18-8l-8 3"/><path stroke="var(--lz)" d="M543 575l-6 7m3-6l-6 6m10-7l-6 6m2-5l-6 6m5-6l-6 6"/><path stroke="var(--fr)" d="M306 642l-11-5m8 5l-12-6m14-2l-10-5m9 9l-11-5m9 12l-12-6m11 5l-12-6"/><path stroke="var(--fx)" d="M287 682l-18-9m21 11l-18-8m15 2l-17-8m18 11l-18-9"/><path stroke="var(--fs)" d="M299 648l-12-6m16 8l-13-5m10 2l-12-6m11 9l-13-6"/><path stroke="var(--de)" d="M241 411l38-7"/><path stroke="var(--dd)" d="M248 426l33-7m-32 3l35-6"/><path stroke="var(--d1)" d="M293 511l12-2m-15-4l13-3m-9 16l11-2m-7 3l10-2"/><path stroke="var(--d2)" d="M286 497l15-3m-13 7l15-3"/><path stroke="var(--da)" d="M263 450l26-5m-27 4l27-6"/><path stroke="var(--he)" d="M717 498l-11-1"/><path stroke="var(--d9)" d="M265 454l25-5m-25 6l25-5"/><path stroke="var(--n2)" d="M641 535l-16 8"/><path stroke="var(--d8)" d="M268 461l24-4"/><path stroke="var(--pj)" d="M516 582l-6 7m5-6l-6 6"/><path stroke="var(--ht)" d="M729 491l-12-1m12 1l-13-1"/><path stroke="var(--lw)" d="M580 560l-7 6"/><path stroke="var(--pk)" d="M509 583l-6 7m10-7l-6 7"/><path stroke="var(--pc)" d="M492 589l-6 7m5-8l-7 7m20-10l-6 7m3-6l-6 7m-3-6l-6 6m11-8l-7 7m6-5l-6 7m14-9l-6 7m-3-7l-6 7m11-5l-6 6m8-8l-7 7m5-8l-7 7m-2-2l-6 7m16-12l-7 7"/><path stroke="var(--hc)" d="M704 503l-12 1m7 3l-10 0m2 2l-10 1m12-2l-11 1m21-6l-12 0m-3 9l-11 1m10 0l-9 1m28-11l-11 0m-1 5l-10 1m19-6l-12 1m-1 6l-10 1"/><path stroke="var(--fr)" d="M303 634l-20-12m14 17l-21-15m19 13l-11-6m7 5l-10-7m24-1l-18-11m8 12l-10-6m14 15l-21-13m25 1l-17-12m15 16l-19-12m11 15l-10-7m7 13l-11-7m10 6l-11-7"/><path stroke="var(--om)" d="M455 594l-7 6m8-4l-6 6m8-7l-7 6m3-7l-6 6m4-6l-7 6m7-3l-6 6m5-8l-6 6"/><path stroke="var(--d1)" d="M282 516l11-5m-10-3l13-4m-22 8l12-6 14-3m-23 7l13-5m-5 18l9-5m-14 0l11-5 12-3m-21-1l12-4m-6 18l10-4m-12-1l10-4m-17 0l11-5 13-3"/><path stroke="var(--hw)" d="M747 478l-15-2m14 4l-15-2m13 5l-13-3m13 3l-14-2m16 0l-14-2"/><path stroke="var(--fs)" d="M297 651l-26-15m16 6l-12-8m15 11l-12-8m19 14l-25-15m24 11l-24-15m26 12l-22-14m18 19l-24-16m23 13l-24-16m19 11l-12-8m22 11l-23-14m11 14l-12-8"/><path stroke="var(--ft)" d="M288 654l-27-18m32 22l-14-8m7 2l-14-8m13 9l-14-9m13 6l-13-8m23 10l-25-16m17 16l-13-9m21 10l-25-16m25 16l-26-16m25 20l-14-8m6-2l-13-9m24 14l-26-16m23 17l-26-17"/><path stroke="var(--lx)" d="M575 559l-15 13m8-10l-7 7m4-6l-8 6m14-8l-8 7m10-7l-8 7m13-7l-6 6m1-7l-8 7m4-4l-7 6m7-5l-7 6m2-5l-7 6m17-11l-8 6m7-4l-7 6m2-6l-7 7"/><path stroke="var(--hv)" d="M739 484l-14-1m15 1l-14-2m11 4l-13-2m14 1l-14-2m19-2l-15-2m15 5l-13-3m16-2l-16-2"/><path stroke="var(--d2)" d="M276 496l16-4m-16 9l14-5m-18 7l14-6m-10 0l16-5m-13 8l15-5m-15 9l14-4m-27 4l14-8 15-4m-27 13l14-7 15-4m-21 9l14-5m-11 6l14-5m-18 8l13-6m-11 5l13-5"/><path stroke="var(--pd)" d="M488 589l-7 7m2-8l-7 6m6-3l-6 7m13-10l-7 6m-2-6l-7 7m11-8l-7 6m11-4l-6 7m-1-6l-7 6m11-10l-7 7m7-5l-7 7m12-8l-6 6m2-6l-7 7"/><path stroke="var(--d3)" d="M266 494l17-7m-13 5l17-6m-17 5l17-6m-15 8l16-6m-24 15l14-8 16-5m-22 1l17-6m-19 10l16-6m-23 13l14-8 16-4m-30 12l14-8 17-5m-17 1l17-5m-20 12l16-5m-13 4l15-4m-17 8l15-5m-26 6l15-8 16-4"/><path stroke="var(--p0)" d="M468 590l-8 6m8-6l-7 6m17-5l-7 7m-4-5l-6 7m2-9l-7 6m8-7l-8 6m7-5l-7 7m16-7l-6 6m-1-8l-7 6m21-3l-6 6m0-11l-14 13m18-8l-6 7m8-8l-6 7m-2-9l-7 7m11-3l-7 7m7-12l-7 7m-9-4l-7 6m18-4l-7 6m11-8l-7 7m3-9l-8 7m13-5l-7 6"/><path stroke="var(--hx)" d="M748 478l-16-2m18 4l-14-3m18-1l-14-3m7 6l-15-2m22-3l-16-2m16 0l-17-1m14 9l-14-3m21-2l-14-3"/><path stroke="var(--pl)" d="M535 576l-6 6m-2-3l-6 7m5-13l-15 14m12-10l-7 7m8-10l-8 7m10-8l-15 14m10-9l-7 7m14-13l-15 14m22-11l-7 7m0-4l-7 7m3-10l-8 7m17-7l-7 7m-1-4l-6 6m12-11l-14 14m10-15l-15 14m25-11l-7 7m1-5l-7 6m-2-7l-7 7m15-5l-6 7m4-7l-6 7m4-7l-7 6m3-5l-6 6m10-8l-7 7m3-4l-6 6m19-11l-6 6m-2-4l-6 7m14-7l-7 6m-1-10l-15 14m23-11l-6 6m-5-8l-14 14m11-10l-8 7m16-9l-7 6"/><path stroke="var(--aw)" d="M453 591l-14 12m9-11l-13 12m18-13l-14 12m12-11l-13 11m9-8l-7 6"/><path stroke="var(--d4)" d="M274 484l19-5m-28 9l18-7m-23 15l16-8 17-5m-35 9l17-8 18-5m-28 11l18-7m-16 5l17-7m-22 11l17-8 18-4m-33 10l17-7m-20 14l16-8m-9-5l19-6m-15 5l19-5m-28 5l19-7m-22 18l17-9 17-4"/><path stroke="var(--fv)" d="M281 660l-15-9m16 10l-15-9m18 17l-16-9-15-12m28 18l-16-10m14 9l-16-10m18 13l-16-10m10 3l-15-10m16 11l-15-10m16 11l-15-10m18 7l-15-10m24 19l-16-8-15-11m23 11l-15-9m8 12l-15-11m25 11l-15-9-15-12m26 18l-15-10"/><path stroke="var(--hy)" d="M754 472l-17-2m22 2l-16-3m19 4l-15-4m10 5l-15-3m18-1l-18-2m23 2l-15-4m10 9l-15-4m16 2l-15-4"/><path stroke="var(--gx)" d="M663 524l-9 3m16-7l-9 3m20-7l-20 4m21-6l-22 5m21-9l-13 4m4 3l-10 3m15-7l-11 3m8 2l-10 2m14-6l-11 3m13-6l-12 3m-3 8l-9 2"/><path stroke="var(--d6)" d="M265 478l20-6m-27 0l21-8m-11 10l20-6m-21 9l20-6m-29 2l21-7m-24 5l22-8m-23 23l18-9 20-5m-39 15l18-10 20-5m-31 0l22-7m-31 23l18-10m5-3l21-4m-43 2l22-9m-22 19l20-9 20-5m-33 5l22-7m-26 8l21-9"/><path stroke="var(--fu)" d="M278 655l-14-10m22 13l-14-8-14-11m21 11l-13-9m27 21l-29-18m23 13l-28-19m26 20l-14-9-14-11m33 21l-28-18m17 17l-15-10m24 10l-28-19m23 13l-14-9m10 6l-13-9m16 19l-14-9m11 6l-14-9m27 12l-28-17"/><path stroke="var(--d5)" d="M269 482l19-6m-31 16l17-8m-7-2l19-6m-27 3l20-7m-16 5l20-6m-28 20l17-9 18-5m-27-1l20-7m-14 9l20-6m-20 10l19-5m-32 7l18-9m-7 7l19-6m-26 1l20-7m-23 10l20-8m-16 1l21-6m-26 25l16-9m-4-2l20-5"/><path stroke="var(--fw)" d="M266 656l-15-12m32 31l-17-9m12 1l-16-11m16 15l-16-10m19 13l-17-9m2-7l-15-12m26 21l-16-10m23 17l-17-9-17-13m32 21l-17-9m17 5l-16-10-16-12m34 23l-16-9-16-12m35 21l-16-9-16-11m27 22l-17-10-16-12m34 22l-17-9-16-12m36 24l-17-9-16-11"/><path stroke="var(--ma)" d="M604 550l-7 6m11-10l-16 11m5-7l-16 12m24-16l-17 12m8-9l-17 12m16-13l-17 13m23-11l-8 6m5-7l-16 12m-1-3l-7 6m29-15l-7 6m4-6l-15 11m16-15l-10 6m-8 7l-8 6m22-17l-9 7m8-5l-16 12m29-13l-8 5"/><path stroke="var(--d7)" d="M266 467l23-5m-30 5l23-7m-33 24l19-10m0-7l23-5m-26 9l21-6m-26 6l22-7m-33 20l19-11 21-5m-39 0l23-9m-22 11l22-9m-27 11l22-11m-15 7l23-8m-23 7l23-9m-28 8l24-9m-22 14l22-9m-14 6l23-7"/><path stroke="var(--fy)" d="M277 680l-18-10-17-14m39 26l-18-9-18-13m36 24l-19-9m6-1l-17-12m9 6l-17-14m31 31l-19-11m20 4l-18-11-17-14m32 23l-17-11m30 16l-18-9-18-12m31 22l-18-10-18-13m40 23l-18-9-18-12m20 17l-18-13m21 14l-19-12m28 15l-19-10-18-14"/><path stroke="var(--ly)" d="M567 559l-16 13m14-13l-17 14m16-10l-15 13m17-17l-16 14m4-6l-7 7m11-9l-8 7m12-11l-15 13m14-10l-8 7m6-8l-15 14m22-16l-14 13m7-10l-14 13m22-18l-17 13m16-13l-15 14m12-9l-8 7m-1-4l-7 7m13-10l-14 13"/><path stroke="var(--av)" d="M436 590l-21 15m26-13l-14 11m18-11l-14 11m8-9l-14 10m2-13l-21 14m39-13l-14 11m-7-11l-14 9m36-11l-14 12"/><path stroke="var(--db)" d="M232 442l30-12m-11 17l28-7m-44 3l30-11m-31 28l26-13 27-5m-54 2l30-12m-14 14l28-8m-42 10l29-12m-11 6l29-7m-52 13l29-13m-12 13l28-9m-45 21l26-14 27-6m-27 2l28-6m-54 15l29-13"/><path stroke="var(--d8)" d="M261 462l24-6m-39 22l20-11m-23-6l25-11m-4 14l24-6m-40 19l20-10m-21-8l25-9m-32 13l25-12m-4 14l24-7m-44 7l24-11m-24 12l24-11m-6 11l23-7m-17 3l23-5m-31 6l24-7m-36 11l24-10"/><path stroke="var(--hd)" d="M714 496l-12 0m-1 5l-13 2m14-1l-12 1m8 1l-12 1m28-9l-13 0m15-1l-12 0m-5 7l-13 2m27-10l-14 1m8 3l-13 1m15 1l-12 0m18-4l-12 0m10 0l-13 1m-4 8l-12 1m29-7l-12 0m-1 2l-13 2"/><path stroke="var(--i2)" d="M791 451l-21-4m30 4l-19-7m18 8l-18-7m21-2l-22-5m31 5l-20-7m9 15l-18-7m19 2l-21-5m19 8l-20-6"/><path stroke="var(--fx)" d="M276 673l-17-11m21 16l-17-10-17-13m20 11l-17-12m27 23l-18-11-17-14m33 19l-17-10m5 0l-16-14m18 18l-16-13m37 26l-18-9-17-12m28 21l-18-10m9 5l-18-12m14 3l-16-13m31 27l-18-10-17-13m25 15l-17-12m17 14l-17-11m28 16l-17-9-17-13"/><path stroke="var(--i0)" d="M768 465l-18-3m29 1l-17-5m9 8l-16-4m25 2l-16-6m3 7l-19-2m26-2l-19-3m20 6l-18-5m15 8l-15-4m18-6l-21-2m21 10l-16-5"/><path stroke="var(--d9)" d="M240 461l25-11m-9 13l24-7m-38 0l26-11m-25 30l21-11m-9-2l24-8m-41 8l25-12m-20 5l26-10m-7 10l25-5m-44 23l22-11m-3-8l26-6m-47 11l26-11m-23 9l26-10m-12 16l24-7m-45 5l25-12"/><path stroke="var(--de)" d="M230 411l39-10m-31 14l37-9m-63 17l36-16m-38-1l41-16m-35 21l39-15m-22 25l36-10m-36 14l34-11m-35 4l36-11m-62 23l35-19m-8 10l36-11m-60 4l39-16m-3 24l35-7m-70-4l40-16m-29 23l37-13m-34 20l35-13"/><path stroke="var(--da)" d="M245 449l28-9m-21 14l26-8m-29 6l26-8m-21 8l26-7m-37 9l27-10m-34 4l28-12m-30 13l28-12m-23 17l26-11m-27 24l24-12m-8-5l27-7m-43 23l24-12m-25 4l26-12m-30 8l27-13m-5 13l26-7"/><path stroke="var(--g1)" d="M243 690l-22-17m38 27l-23-14m38 15l-21-11-21-15m23 17l-21-14m26 21l-22-13m29 13l-22-12m24 13l-22-12-21-17m21 10l-20-17m40 36l-21-12-22-17m52 30l-22-11-21-14m38 22l-21-12m20 18l-22-12-22-16m48 24l-21-12m5 12l-23-15m36 16l-22-11-21-16"/><path stroke="var(--g0)" d="M262 691l-21-13m17 10l-21-14m30 15l-20-13m14 10l-20-13m24 17l-20-13m28 16l-20-12-20-15m26 25l-21-14m30 16l-21-12m31 14l-20-11-20-14m33 21l-21-11-19-16m19 22l-21-16m32 20l-21-13m35 19l-20-11-21-14m19 17l-21-15m40 17l-20-11"/><path stroke="var(--dc)" d="M243 438l31-9m-46 26l27-14 29-6m-55 2l32-12m-37 31l27-15 29-7m-37 6l30-9m-34 3l32-9m-43 17l30-13m-35 6l33-14m-30 35l27-14m-18-7l32-11m-32 16l31-11m-25 5l32-9m-39 7l33-11m-38 35l27-14m-11-4l30-9m-43 9l32-11"/><path stroke="var(--lz)" d="M541 572l-7 7m29-19l-16 14m8-11l-16 14m15-14l-15 14m20-17l-23 21m11-14l-15 14m31-21l-9 7m5-5l-16 13m14-13l-17 14m11-10l-15 13m12-11l-14 13m26-20l-16 14m10-10l-15 13m21-17l-16 14m12-13l-16 14m7-7l-8 7m14-12l-16 14m26-18l-9 7"/><path stroke="var(--he)" d="M717 494l-14 0m1 4l-14 2m27-6l-14 1m3 2l-14 2m23-5l-14 1m14-3l-14 1m15 4l-12 0-15 2m32-4l-12-1m11 1l-12 0m8-3l-14 1m22-1l-13-1m6 1l-14 1m13 1l-14 0m16 2l-12 0-15 2"/><path stroke="var(--fz)" d="M271 687l-20-12-19-15m48 32l-20-10-19-13m28 16l-20-12m17 10l-19-12m31 21l-19-10-20-14m23 7l-18-14m27 25l-19-12-19-15m39 25l-19-12-18-15m37 31l-20-11-19-15m39 22l-19-12-18-15m31 32l-20-13m9-2l-18-15m37 27l-20-11-18-15m33 27l-20-12m17 12l-20-13m32 17l-19-10-20-14m13 12l-19-16"/><path stroke="var(--i1)" d="M785 453l-20-3m20 4l-20-4m33 2l-18-7m-3 11l-21-2m37-1l-19-6m6 14l-18-4m27 1l-17-6m12 4l-19-4m20 7l-18-6m20 2l-20-5"/><path stroke="var(--df)" d="M272 523l10-7m-20 8l10-10 11-6m-19 13l10-9m-7 0l12-8m-13 14l11-8m-1 19l9-6m-14 3l9-8m-19 8l10-10 11-7m-18 2l12-8m-9 8l12-7m-6 32l15-13m-20 9l8-8 10-6m-18 4l11-8m-23 11l9-11"/><path stroke="var(--mo)" d="M625 541l-7 5m9-7l-17 9m11-8l-17 10m24-16l-20 12m9-8l-20 12m28-16l-20 12m1-4l-10 7m23-10l-18 11m17-13l-20 12m23-11l-18 11m17-12l-20 12m6-7l-10 7m30-12l-17 11"/><path stroke="var(--g4)" d="M258 730l-28-14-26-20m50 27l-26-15m17 15l-27-17m21 30l-29-18m28 10l-28-19m49 12l-26-14-25-20m54 34l-25-13m21 16l-26-14-25-20m55 32l-25-14-25-18m39 33l-27-15m35 13l-26-14-25-20m35 44l-29-18m27 19l-28-18m25 4l-26-18m53 24l-25-13-26-18"/><path stroke="var(--g3)" d="M261 714l-25-13-23-19m33 26l-24-17m36 24l-25-14m14 12l-25-16m38 21l-25-14-24-19m41 26l-25-15m10 12l-25-19m49 26l-25-13-24-19m57 35l-25-12m20 14l-25-13-25-18m32 20l-25-17m31 19l-25-15m35 16l-24-14m11 11l-24-16"/><path stroke="var(--dd)" d="M221 436l33-15m-37 21l31-16m-14 3l33-11m-47 17l33-15m-16 5l34-9m-55 16l34-16m-37 24l32-17 34-8m-50 9l35-11m-31 15l34-11m-39 7l36-12m-37 15l35-12m-42 18l33-14m-40 20l32-17m-28 16l32-16m-10 11l32-10"/><path stroke="var(--g2)" d="M246 707l-24-17m45 16l-23-13-22-17m30 31l-24-16m38 12l-23-13m24 22l-24-13-23-17m40 25l-23-14-23-19m31 13l-21-17m43 34l-23-12-22-17m47 34l-23-12-23-17m21 26l-24-18m42 21l-23-14-23-18m48 28l-23-13-22-17m39 30l-23-14m3 7l-24-18m45 28l-23-14m29 14l-23-13-23-17"/><path stroke="var(--pe)" d="M495 582l-7 7m11-7l-7 7m7-7l-8 7m7-8l-7 7m8-4l-7 7m5-10l-8 7m6-10l-9 7m9-2l-7 6m12-7l-7 7m1-4l-7 7m7-13l-9 7m8-5l-8 7m14-6l-7 7m6-7l-7 7m8-9l-9 7m4-2l-7 7m7-11l-8 6"/><path stroke="var(--fd)" d="M283 622l-16-18m9 20l-17-21m25 28l-20-19m-3 9l-9-12m24 21l-20-22m25 21l-19-20m25 8l-14-16m12 22l-16-18m9 20l-18-21m5 16l-9-12m30 6l-14-17m10 21l-14-18m15 26l-18-19m14 25l-20-20m19 19l-20-21"/><path stroke="var(--ng)" d="M651 530l-9 3m12-6l-9 3m16-7l-20 7m20-10l-23 9m15-8l-13 5m20-7l-11 4m13-3l-22 8m26-12l-24 9m22-5l-22 8m25-11l-24 8m12-7l-13 6m14 0l-10 4"/><path stroke="var(--hz)" d="M763 467l-17-2m17 2l-18-2m23 2l-17-4m17-2l-21-1m23 8l-16-4m7 4l-17-2m19 1l-18-2m19 2l-18-3"/><path stroke="var(--n2)" d="M642 533l-17 8m20-11l-18 9m14-9l-20 10m17-11l-10 5m0-3l-11 7m32-15l-24 11m15-6l-21 11m11-8l-12 6m24-9l-21 10m22-13l-23 12m26-9l-20 9"/><path stroke="var(--hg)" d="M725 486l-16 1m26-2l-15-1m16 2l-14-2m4 2l-15 1m24-3l-15-1m11 3l-15-1m15-1l-16 0m10 3l-15 1m18-2l-15 0m10 0l-16 2m18-2l-16 1m25-2l-14-1m-6 6l-16 2m34-6l-15 0"/><path stroke="var(--pm)" d="M517 576l-8 7m6-8l-15 14m8-14l-9 7m9-7l-9 7m13-4l-8 7m12-4l-7 7m7-15l-16 15m8-11l-9 7m17-9l-16 14m22-14l-14 14m-9-12l-9 7m24-5l-7 7m2-7l-8 7m10-6l-7 7m-4-7l-8 7m21-13l-17 15m9-11l-8 7m7-5l-8 7m16-9l-8 7m11-9l-14 14m3-12l-9 7m10-10l-10 8m24-9l-15 14m17-12l-8 7m-4-8l-9 7m8-2l-8 7m3-9l-9 7m16-7l-8 7m12-9l-15 14m9-13l-8 7m15-9l-15 14m19-11l-7 7m-4-10l-9 7m8-7l-9 7m11-5l-8 7m1-6l-8 7m18-6l-7 7m7-10l-15 14"/><path stroke="var(--hf)" d="M729 488l-14 0m2 2l-16 1m31-4l-13-1m-3 4l-15 2m19-1l-14 0m18-3l-14 1m8 1l-15 1m6 3l-15 2m30-6l-13 0m11-1l-15 1m1 5l-15 2m18-6l-16 3m23-4l-15 2m17-3l-16 2m23 0l-13-1"/><path stroke="var(--gy)" d="M692 504l-13 2m8 6l-22 4m24-9l-25 7m22-9l-13 4m9 0l-12 3m19-4l-25 6m24-5l-25 6m19-9l-14 4m16-1l-13 3m20-8l-13 3m6-1l-14 4"/><path stroke="var(--m0)" d="M549 565l-8 7m12-11l-18 15m9-11l-16 15m21-16l-17 15m14-15l-16 15m26-19l-9 7m5-6l-17 14m9-9l-15 14m13-12l-9 7m22-15l-18 15m20-15l-9 8m-1-5l-17 15m6-7l-8 7m16-11l-9 8m17-13l-17 15m18-16l-18 15m21-15l-9 8m-3-3l-17 14m19-14l-16 14"/><path stroke="var(--dg)" d="M263 505l13-9m-24 25l11-11 13-9m-17 11l13-9m-9 2l13-8m-21 21l11-11 13-7m-22 22l10-10m-16 1l13-11m-10 12l12-10m-9 11l11-10m-15 17l11-11m-7 11l10-11m-3 4l11-8m-10 7l12-8m-26 14l11-12 13-9m-24 12l13-11"/><path stroke="var(--mb)" d="M594 545l-19 14m24-14l-26 19m14-15l-19 13m6-6l-9 7m25-16l-19 14m20-13l-18 13m19-15l-19 14m27-15l-19 13m6-9l-18 14m22-12l-8 7m4-8l-18 14m3-6l-8 7m24-11l-8 6m14-14l-20 14m17-11l-18 13m-1-5l-9 7m24-15l-19 13"/><path stroke="var(--lv)" d="M462 588l-8 6m6-6l-8 6m2-5l-7 6m12-6l-8 6"/><path stroke="var(--m1)" d="M544 564l-17 15m18-15l-17 14m15-12l-16 14m7-10l-9 8m15-12l-9 7m8-3l-8 7m14-13l-9 7m-2-1l-8 8m5-7l-9 8m13-10l-9 8m4-5l-8 8m13-10l-8 7m17-12l-17 15m11-12l-9 8"/><path stroke="var(--p1)" d="M475 587l-8 6m4-8l-8 6m0-3l-8 6m16-9l-8 6"/><path stroke="var(--pf)" d="M476 583l-8 7m9-7l-9 7m17-5l-7 6m13-10l-8 7m-3-4l-8 7m18-7l-8 7m4-6l-7 7m10-11l-9 7m12-8l-8 7m-2-6l-9 6m21-8l-17 13m12-9l-8 7m5-5l-7 6m1-8l-9 6m20-10l-16 14m9-12l-9 7m2-2l-7 7m11-8l-7 6m4-8l-8 6m13-5l-8 7"/><path stroke="var(--hh)" d="M739 482l-15-1m4 3l-17 1m19-4l-17 1m17-1l-17 2m24 1l-15-1m11-1l-16 0"/><path stroke="var(--fe)" d="M271 636l-11-11-10-13m25 22l-21-22m24 25l-22-21m16 20l-12-11-10-13m22 20l-11-11m-2 10l-11-14m9 7l-10-13m23 22l-12-11-9-14m20 22l-10-11-9-13m26 27l-20-22m4 22l-11-13m26 10l-10-10m-8 5l-10-13m10 13l-11-13m14 15l-10-13m20 22l-11-11-10-13m25 24l-11-10-10-13m14 23l-12-12"/><path stroke="var(--hi)" d="M735 478l-18 2m28-3l-16-1m16 0l-17 0m15 2l-17-1m16 0l-17 0m18-1l-17 0m7 4l-17 1m30-3l-16-2"/><path stroke="var(--fh)" d="M266 651l-14-13m15 14l-15-12m2 8l-14-14m11 10l-14-15m14 17l-14-15m27 17l-13-13m-1 12l-14-16m27 22l-15-13m18 10l-14-12m15 14l-14-12m-1 9l-14-15m30 16l-14-12m11 9l-14-13m15 17l-14-12"/><path stroke="var(--dn)" d="M239 474l22-12m-21 15l21-12m-23 13l21-12m-23 10l21-13m-21 13l22-13"/><path stroke="var(--dh)" d="M251 516l12-11m-11-1l14-10m-19 14l13-12m-9 20l12-11m-13-4l15-11m-18 13l15-11m-17 23l12-13 15-9m-17 11l15-10m-20 19l13-12m-13 11l13-11m-15 8l13-12m-12 20l11-12 14-9m-23 19l12-12 14-8m-31 11l14-12"/><path stroke="var(--ff)" d="M261 636l-11-13m8 16l-12-14m7 4l-11-15m30 30l-13-11-11-14m11 19l-12-13m10 13l-12-14m26 20l-13-11-11-13m15 21l-13-13m22 14l-12-11m10 5l-12-12m3 15l-13-13m9 6l-11-14m28 25l-13-10m9 4l-12-12m11 12l-11-12m-3 3l-11-15m29 25l-12-11m-5-3l-9-14"/><path stroke="var(--hj)" d="M748 474l-17-1m22-1l-17-1m14 1l-17 0m18-1l-18 0"/><path stroke="var(--dm)" d="M239 479l20-12m-21 18l20-13m-18 11l20-12m-19 13l19-12m-22 9l20-13"/><path stroke="var(--di)" d="M243 505l14-13m-7 7l15-11m-21 17l14-13m-15 23l12-13 15-10m-19 6l16-10m-24 27l12-14 15-10m-21 10l15-11m-20 22l13-13 15-9m-28 27l11-13m-9-10l17-11"/><path stroke="var(--dt)" d="M259 543l6-11 7-9m-18 12l8-11m-12 21l6-13 8-11m-18 10l9-13m3 10l8-10m-1 29l4-9 7-9m-17 17l5-11 7-9m-17 12l7-12m-12 9l8-13m11 23l5-9m-10 6l5-10m-13 12l5-12 8-10"/><path stroke="var(--dl)" d="M245 482l20-11m-20 18l18-12m-33 6l20-15m-6 20l19-12m-30 6l20-14m-20 13l20-14m-11 19l19-13m-20 14l18-13"/><path stroke="var(--ez)" d="M267 604l-10-24m2 23l-6-12m11 21l-7-12-6-13m11 22l-7-12m18 4l-10-20m6 24l-11-22m2 21l-6-12m18 5l-5-9m1 12l-6-11m3 18l-11-24"/><path stroke="var(--dj)" d="M252 492l17-10m-27 10l17-13m-21 21l16-14m-17 15l16-14m-13 18l15-14m-17 16l14-15 17-10m-30 15l17-13m-6 9l17-11m-25 7l18-12m-24 20l16-14m-12 10l17-13m-5 14l16-10m-27 22l15-14m-5 0l17-11"/><path stroke="var(--dk)" d="M250 492l17-10m-20 7l18-11m-17 10l19-11m-28 9l19-13m-23 12l20-14m-24 14l20-15m-18 18l19-15m-21 13l19-15m-13 17l18-13"/><path stroke="var(--m2)" d="M532 570l-9 7m6-6l-8 7m12-11l-9 8m8-7l-10 8m6-6l-9 8m10-8l-8 8"/><path stroke="var(--fi)" d="M249 654l-15-16m28 18l-15-13m17 12l-15-12m-1 9l-15-16m28 21l-15-14m4 9l-15-15m26 14l-15-13m16 14l-15-14m2 13l-15-16m25 15l-15-14m16 17l-15-13m10 10l-14-14m8 14l-14-16m15 17l-15-16"/><path stroke="var(--fg)" d="M252 638l-13-15m25 22l-13-13m1 8l-12-15m26 16l-13-12m11 15l-13-12m18 11l-13-11m-4 6l-13-15m14 17l-13-15m26 15l-12-12m0 10l-13-15m10 11l-12-15m16 24l-13-14m22 13l-13-13m1 10l-13-15"/><path stroke="var(--h0)" d="M702 496l-16 3m15-3l-15 3m11 1l-14 3m18-4l-14 2"/><path stroke="var(--mc)" d="M573 555l-9 8m3-5l-9 7m15-12l-11 8m8-4l-9 7m8-8l-10 7m17-9l-10 7m3-5l-10 8m23-13l-10 7m5-6l-11 7m16-9l-10 7m-3 0l-9 7"/><path stroke="var(--nh)" d="M665 516l-12 5m15-7l-13 4m15-6l-13 5m6-2l-13 5m21-8l-13 4m10-2l-13 4"/><path stroke="var(--do)" d="M235 477l21-14m-28 5l24-14m-27 14l24-16m-19 15l24-15m-21 23l22-13m-24 6l24-14"/><path stroke="var(--fj)" d="M259 662l-17-14m15 13l-16-14m9 10l-15-16m16 20l-16-15m18 12l-16-15m16 18l-17-15m11 9l-16-16m22 16l-16-15"/><path stroke="var(--gz)" d="M688 503l-15 4m17-4l-14 3m15-3l-14 4m9-3l-14 4m23-5l-13 3m18-9l-15 3m2 3l-14 4"/><path stroke="var(--fl)" d="M249 673l-18-16m16 14l-19-17m21 21l-19-16"/><path stroke="var(--el)" d="M257 580l-2-12m8 13l-1-12m-4 14l-2-12 0-13m11 30l-4-22m-1 23l-4-24"/><path stroke="var(--az)" d="M447 588l-8 6"/><path stroke="var(--fk)" d="M251 662l-17-15m21 18l-17-15m11 10l-16-16m15 17l-16-16m18 20l-17-15m19 17l-17-15"/><path stroke="var(--dp)" d="M226 462l25-15m-28 15l26-16m-20 18l25-14m-32 14l25-16"/><path stroke="var(--hk)" d="M757 467l-19 0m16 1l-20 0m21 2l-18-1"/><path stroke="var(--e7)" d="M255 568l1-13 3-12m-9 5l4-13m8 34l3-22m-9 11l3-12m-9 5l4-13m9 28l5-21m-10 20l1-12 4-11m-11 15l3-13"/><path stroke="var(--fm)" d="M247 676l-20-16m18 17l-20-17m21 16l-19-17m19 15l-19-16"/><path stroke="var(--m3)" d="M523 572l-9 7m6-7l-9 8m10-9l-9 7m18-9l-9 7m0-5l-9 8"/><path stroke="var(--n3)" d="M640 526l-12 5m14-6l-12 6"/><path stroke="var(--m8)" d="M462 585l-9 6m19-8l-8 7m4-5l-9 6"/><path stroke="var(--du)" d="M249 524l10-12m-10 23l8-13m-6 19l7-13m-11 0l10-13m-9 25l6-14 10-11m-15 23l7-13"/><path stroke="var(--mp)" d="M610 538l-11 7m18-9l-11 6m0 0l-11 6m16-10l-11 7m12-7l-11 7m7-4l-11 6m20-11l-11 6m-4 0l-11 7"/><path stroke="var(--md)" d="M564 557l-10 8"/><path stroke="var(--m9)" d="M457 586l-9 6m14-7l-9 6m0-5l-8 6m15-6l-9 6m2-6l-8 6"/><path stroke="var(--me)" d="M561 558l-10 8"/><path stroke="var(--h1)" d="M703 495l-15 3m16-3l-15 3m14-2l-16 3"/><path stroke="var(--f0)" d="M254 612l-7-14m9 18l-8-14m8 6l-7-14m7 17l-8-13m8 10l-7-14m10 18l-7-13m6 11l-7-13"/><path stroke="var(--m4)" d="M517 572l-9 8"/><path stroke="var(--dq)" d="M216 455l27-17m-26 17l28-17"/><path stroke="var(--fn)" d="M241 678l-20-18"/><path stroke="var(--g3)" d="M233 701l-24-20"/><path stroke="var(--g2)" d="M236 694l-23-19"/><path stroke="var(--ff)" d="M251 629l-11-15"/><path stroke="var(--dj)" d="M237 506l15-14m-16 15l14-14m-12 16l14-15"/><path stroke="var(--i0)" d="M775 456l-21-1"/><path stroke="var(--di)" d="M238 513l13-15"/><path stroke="var(--m0)" d="M554 560l-10 7"/><path stroke="var(--fg)" d="M251 632l-12-15m12 15l-12-15m10 11l-11-15m13 22l-12-15m8 6l-10-16m11 30l-12-16"/><path stroke="var(--pm)" d="M505 575l-10 7m13-8l-10 7"/><path stroke="var(--dk)" d="M236 507l14-15m-18 13l15-16m-17 4l18-16m-15 26l15-15m-12 14l15-14m-14 18l14-14"/><path stroke="var(--du)" d="M242 530l9-14m-6 19l7-14m-10 10l9-15m-9 11l9-14m-6 15l9-14m-13 29l6-15m-1 8l7-14m-11 7l9-14"/><path stroke="var(--ez)" d="M249 594l-4-14m10 17l-5-14m2 16l-6-15m5 13l-5-15"/><path stroke="var(--pf)" d="M495 578l-10 7m-1-5l-9 7m21-10l-10 8m1-6l-10 7m14-8l-10 7m11-8l-9 7"/><path stroke="var(--m1)" d="M552 560l-10 8m2-5l-10 7m15-8l-10 8m5-7l-10 7m6-5l-10 7m15-10l-10 8m13-9l-10 7"/><path stroke="var(--gy)" d="M679 506l-15 5m14-4l-15 4"/><path stroke="var(--mb)" d="M598 543l-11 7m7-6l-12 7"/><path stroke="var(--el)" d="M253 591l-4-14-1-15m3 25l-3-14 0-14m-3 21l-2-16m7 19l-3-14m7 23l-4-14-1-14m5 19l-3-13 1-13m-6 27l-2-15m2 13l-2-15"/><path stroke="var(--hg)" d="M715 488l-17 3m21-5l-17 3m22-5l-17 2m10 0l-17 3"/><path stroke="var(--n2)" d="M650 519l-13 6m13-5l-13 6m-7 4l-13 6"/><path stroke="var(--e7)" d="M248 562l2-14m-2 11l2-14m-5 4l4-14m-2 34l1-14 3-14m-2 23l1-13m-6-2l5-14m-5 19l4-14m-3 12l4-14"/><path stroke="var(--i1)" d="M785 450l-23-2"/><path stroke="var(--dl)" d="M232 500l17-16m-19 21l15-16m-13 10l17-15m-29-1l21-17m-12 38l15-16m-17 0l19-16m-18 10l20-16m-22 36l16-16m-17-2l20-17m-20 37l16-17"/><path stroke="var(--dv)" d="M241 518l11-14m-10 35l7-15m-13 0l11-16m-12 23l8-16m-7 15l9-15m-10 18l9-16m-3 10l9-14m-9 14l9-15m-13 12l11-15m-8 23l9-15m-6 17l8-14m-16 1l11-15m-5 19l10-14"/><path stroke="var(--g4)" d="M228 708l-26-21m22 21l-26-22"/><path stroke="var(--fh)" d="M240 634l-12-18m21 27l-13-16m10 11l-12-16m13 16l-12-16m9 14l-12-16m6 14l-12-18m19 24l-13-17m9 13l-13-18"/><path stroke="var(--m2)" d="M536 565l-10 8m16-11l-10 8m1-3l-9 7m12-9l-10 8m14-10l-11 8m9-6l-10 7m17-13l-12 8m4-2l-10 7m14-8l-10 7m14-9l-10 7m1-4l-9 8m7-7l-10 8m16-11l-11 7"/><path stroke="var(--f0)" d="M242 597l-5-16m10 17l-6-15m7 19l-6-15m0 10l-5-16m15 28l-7-15m5 12l-7-15m5 7l-5-15m6 11l-5-14m-2 19l-6-16m5 14l-5-17m17 33l-8-14-6-16"/><path stroke="var(--dm)" d="M219 479l21-18m-12 33l18-16m-25 0l22-17m-19 14l23-16m-18 39l16-16m-21 18l16-17m-21-3l21-17m-20 20l21-18m-16 37l16-18m-23 0l20-18m-17 33l17-18"/><path stroke="var(--hh)" d="M725 483l-18 2m13-1l-18 3m20-3l-18 3m22-5l-17 2m11-1l-18 3m14-1l-18 4m33-9l-18 2m11 1l-17 2m13-1l-19 3m21-4l-18 3"/><path stroke="var(--dn)" d="M221 492l18-18m-20-1l23-17m-20 41l17-18m-14 13l18-17m-21 19l18-17m-23 3l21-18m-18 10l23-17m-22 41l17-18m-14 12l19-17m-28 4l22-19m-18 19l22-18m-20 14l23-16m-29 22l22-18"/><path stroke="var(--mp)" d="M620 531l-26 14m29-14l-13 7m-11 3l-12 8m15-9l-12 7m25-13l-24 14m27-13l-12 7m-2-3l-12 7m32-15l-13 7m-12 4l-12 7m37-17l-12 6m12-9l-26 14m9-7l-13 8m25-10l-11 7m11-10l-25 15m20-11l-12 7m-3-1l-12 8"/><path stroke="var(--f1)" d="M250 612l-8-15m8 26l-10-15-7-17m1 7l-5-19m21 33l-8-15m6 22l-9-15-7-17m15 38l-10-16m10 11l-9-16-7-17m8 15l-6-17m14 26l-8-16m10 13l-7-15m7 27l-9-16-7-17m14 25l-8-16-5-17m12 33l-7-16-5-17m1 18l-5-18m20 35l-8-15m7 13l-8-15"/><path stroke="var(--mc)" d="M590 544l-23 15m18-11l-11 8m10-8l-11 7m15-11l-22 15m24-16l-23 15m18-12l-12 7m20-11l-23 15m17-10l-11 7m17-13l-24 15m21-13l-23 16m22-15l-12 8m17-9l-12 7m11-9l-24 16"/><path stroke="var(--gz)" d="M686 499l-16 6m20-5l-15 4m17-5l-15 4m12-4l-16 5m21-5l-15 4m4 0l-15 5m17-8l-17 5m19-4l-16 5m20-8l-16 4"/><path stroke="var(--az)" d="M445 584l-9 6m13-4l-8 6m-6-6l-8 5m15-9l-18 10"/><path stroke="var(--dw)" d="M232 522l11-17m-10 30l8-17m-13 14l9-18 13-15m-17 22l11-16m-14 28l8-18 12-14m-21 29l9-17m-4 18l9-16m-15 22l8-18 11-16m-22 16l12-18m-8 21l11-17m-11 29l8-18 12-15m-15 27l10-16m-14 10l11-16"/><path stroke="var(--nh)" d="M664 514l-14 5m7-7l-15 7m13-1l-13 5m31-14l-30 11m14-3l-14 5m21-8l-14 5m7-6l-16 7m27-10l-30 12m20-6l-13 6m18-11l-15 6m22-7l-28 11m15-9l-15 7"/><path stroke="var(--fi)" d="M234 638l-13-19m26 24l-14-16m8 20l-14-18m19 18l-15-16m2 5l-13-19m26 26l-14-16m3 10l-13-19m12 17l-13-19m16 27l-14-18m12 9l-13-19m13 20l-12-18m14 23l-13-19"/><path stroke="var(--fj)" d="M242 648l-14-17m18 24l-16-17-13-20m24 34l-15-17m9 6l-14-19m22 32l-16-17m8 9l-15-19m25 28l-16-16-13-21m24 35l-16-18m14 15l-15-18m10 12l-14-19m13 20l-15-20m19 21l-14-19m9 12l-13-20"/><path stroke="var(--fk)" d="M242 656l-16-18m19 22l-17-17-14-21m30 39l-17-16-14-21m21 23l-15-19m16 29l-17-19m17 19l-16-19m18 21l-17-19m24 19l-16-17-14-21m19 29l-15-20m17 22l-16-19m24 25l-16-17-14-20"/><path stroke="var(--i2)" d="M793 444l-24-2m17 8l-22-2m30-4l-24-2m29-5l-27-1m24 3l-26-1m22 5l-25-1m22 6l-23-2m36-5l-24-4"/><path stroke="var(--e8)" d="M237 546l5-16m-3 37l1-17 5-15m-6 20l3-16m-5 8l5-16m-3 31l2-16 5-15m-3 33l2-15m-12 12l3-18m0 17l3-17 6-15m-6 31l2-16m0 24l1-16 4-15m-15 15l4-18m8 31l1-15m-12 12l2-18m10 24l1-15m-7-2l5-16m-11 25l3-17"/><path stroke="var(--do)" d="M217 496l18-19m-15-6l23-17m-28 41l18-20m-22-8l25-19m-27 21l25-20m-19 23l24-18m-29 13l25-19m-17 37l20-18m-20 28l18-19m-27-2l24-20m-22 34l20-20m-13 26l18-18m-30-4l24-21"/><path stroke="var(--em)" d="M241 583l-2-16m3 20l-3-16 0-16m6 39l-5-15-1-17m-6 23l-3-19m9 29l-4-17m7 15l-5-16-1-17m7 31l-4-16 0-16m4 24l-2-16m-8 20l-3-18m14 11l-1-16m1 5l0-15m-5 29l-2-17m1 28l-5-17"/><path stroke="var(--n3)" d="M649 517l-29 14m30-12l-27 12m19-8l-25 13m12-9l-14 7m28-12l-25 13m29-17l-29 14m19-7l-13 6m2-4l-14 7m25-8l-13 6m21-10l-26 12m29-17l-29 14m23-7l-12 6m12-9l-28 14"/><path stroke="var(--md)" d="M586 544l-23 16m15-13l-23 16m33-19l-23 15m12-12l-23 16m29-19l-24 16m26-15l-22 15m19-14l-23 16m21-16l-23 16m23-14l-11 8m3-6l-11 8m22-13l-23 16m29-20l-25 16m19-12l-23 16m20-15l-24 16m30-18l-23 16"/><path stroke="var(--m3)" d="M539 560l-22 16m9-9l-11 8m11-8l-10 8m27-16l-21 16m12-11l-11 8m8-8l-11 8m13-9l-12 8m4-3l-10 8m28-16l-11 8m-2-2l-11 8m22-13l-11 8m-6 0l-10 7m12-9l-11 8m24-13l-11 8m5-7l-12 8"/><path stroke="var(--f2)" d="M230 600l-6-19m16 44l-11-18m17 18l-11-16-7-18m14 23l-8-16m5 19l-9-18-5-19m12 29l-8-18m16 33l-10-16-8-19m11 24l-8-18m18 22l-9-15m-10 1l-6-20m14 27l-8-17m16 25l-9-16-6-18m10 41l-11-17m14 5l-8-16m6 26l-10-17-7-19m6 15l-6-20m16 32l-8-17m14 13l-8-16"/><path stroke="var(--dp)" d="M206 463l26-21m-12 23l25-16m-40 35l21-22m-17 27l19-21m-19-5l26-20m-25 44l20-20m-18 13l22-20m-27 4l26-20m-32 20l27-22m-20 43l21-21m-21-5l27-19m-30 29l25-21m-22 33l22-21"/><path stroke="var(--hk)" d="M743 469l-22 3m26-3l-20 1m15 1l-21 2m21-5l-22 3m37-5l-20 0m13 0l-22 2m17 3l-19 1m20-3l-21 2m26-2l-19 1m22-2l-19 0m9 4l-20 1m13-4l-23 4"/><path stroke="var(--hi)" d="M729 476l-20 4m27-3l-18 2m13-1l-19 2m14-3l-20 4m18 0l-19 3m27-5l-19 2m15-2l-18 3m20-5l-19 3m19-4l-21 4"/><path stroke="var(--h0)" d="M703 494l-34 9m19-5l-18 5m16-4l-17 6m32-10l-33 9m21-6l-17 5m27-8l-16 4m11-3l-16 5m15-4l-17 4m26-8l-17 4m2 2l-16 5m31-10l-33 10"/><path stroke="var(--dx)" d="M227 524l10-18m-11 19l10-18m-15 12l11-19m-12 18l12-19m-6 18l12-17m-14 20l12-18m-9 22l11-17m-12 8l13-18m-13 28l10-18m-13 9l13-19m-10 13l14-17m-12 33l10-17m-12 15l11-18"/><path stroke="var(--dq)" d="M193 460l28-24m-17 13l30-20m-29 47l23-21m-27 4l28-22m-28 42l23-23m-9 2l28-18m-41 44l21-22m-28-4l28-23m-19 43l22-22m-19-1l28-20m-30 17l29-20m-28 45l23-21m-24 3l27-21"/><path stroke="var(--dr)" d="M191 467l26-25m-25 17l28-24m-10 18l29-19m-52 24l29-26m-19 14l32-22m-26 25l30-21m-36 18l31-22m-31 26l30-23m-35 31l28-25m-8 19l29-18m-31 17l29-18m-45 46l23-24"/><path stroke="var(--e9)" d="M235 564l2-18m-8 7l4-18m-6 25l3-19m5 23l2-17m-7 2l5-18m-10 21l5-19m-1 16l5-18m-4 35l1-18 5-18m0 13l6-16m-9 34l2-17 6-17m-7 16l7-16m-13 33l3-19m3 25l1-18 5-16m-6 31l2-18 6-16m-5 37l1-16m-3-8l6-17"/><path stroke="var(--m4)" d="M533 562l-21 16m15-13l-11 8m2-4l-10 8m21-13l-20 15m14-12l-10 7m2-4l-10 8m20-14l-21 16m33-20l-12 8m-5-1l-11 8m19-11l-11 8m14-10l-21 16m26-18l-12 9m-6 1l-10 7m11-7l-10 7m26-17l-23 16"/><path stroke="var(--fl)" d="M232 660l-17-20m12 20l-17-21m12 12l-15-22m24 28l-17-20m8 18l-16-22m22 21l-16-20m9 16l-16-22m28 31l-17-19m17 22l-17-20m3 9l-16-22m33 31l-17-19m11 18l-17-20m14 19l-17-21m29 30l-18-18-15-23m27 37l-18-19"/><path stroke="var(--f3)" d="M239 623l-10-17-7-20m17 31l-9-17m-1 7l-7-19m15 41l-11-18m10 16l-11-18m12 22l-12-18m10 9l-11-18-6-21m21 37l-10-17m7 28l-12-18m12 11l-11-18-7-21m21 38l-10-17-7-20m7 22l-7-20m17 31l-9-17m12 27l-12-17-8-20m17 32l-10-18-7-20"/><path stroke="var(--dy)" d="M215 514l13-20m-10 35l10-20 14-17m-21 32l11-19m-16 8l14-20m-8 29l11-19m-14 22l11-20m-10-2l15-18m-19 19l15-19m-13 22l15-19m-16 43l9-21m-10-4l15-20m-8 43l10-19 13-16m-24 13l15-19"/><path stroke="var(--fn)" d="M222 676l-21-22m36 20l-19-19m3 18l-19-22m13 16l-19-24m36 32l-20-20-17-25m19 28l-18-24m20 33l-19-24m27 27l-19-22m17 27l-20-22m36 24l-20-19m6 13l-19-22m28 27l-20-20m13 20l-20-21-17-27m51 49l-20-18m14 12l-18-20m16 22l-19-20m1 13l-19-24m33 32l-20-21-16-26"/><path stroke="var(--en)" d="M237 581l-2-17m-2 27l-4-19m8 9l-2-17m-3 23l-3-19 1-19m-1 42l-4-19m2 17l-3-19m7 17l-3-19m2 27l-5-19m10 2l-2-17m-4 32l-4-20m5-4l1-18m3 28l-1-18m1 18l-2-18m4 22l-2-17m2 14l-2-17m-2 34l-5-19m6-1l-1-18"/><path stroke="var(--fm)" d="M221 660l-17-22m14 17l-17-23m40 37l-19-18m19 22l-19-18m17 13l-18-18m4 10l-17-21m25 27l-18-19-15-24m18 35l-17-23m25 36l-19-21m20 14l-18-21m18 16l-17-20m3 17l-17-24m42 38l-19-19m12 13l-18-20m16 26l-19-20-16-25m26 34l-17-23m13 15l-16-23m13 25l-17-24"/><path stroke="var(--fo)" d="M199 668l-20-29m57 47l-21-19m5 15l-22-23m36 19l-20-20m24 28l-22-19m-2 7l-20-24m29 30l-21-22-18-27m32 46l-21-24m24 22l-20-23m36 39l-22-19-20-25m21 33l-21-24m20 19l-21-25m43 35l-21-19m5 12l-21-23"/><path stroke="var(--ds)" d="M195 433l35-22m-55 53l28-30 35-19m-58 35l32-27m-6 22l31-20m-64 9l37-28m-29 31l35-26m-15 31l32-21m-31 25l31-21m-47 41l27-26m-14-1l33-21m-56 41l30-29m-6 11l33-20m-58 22l34-29m-23 52l27-27m-23 24l27-25m-42 2l35-29m-22 32l33-25m-28 30l31-23"/><path stroke="var(--hj)" d="M731 473l-22 4m28-7l-22 4m17 2l-19 3m35-8l-19 0m3 5l-20 3m24-8l-22 4m14 1l-20 4m32-7l-20 2m12 2l-19 2m20-7l-23 4m28-4l-21 3m16-4l-23 4m27-4l-22 3m24 2l-18 1m16 0l-18 1"/><path stroke="var(--hl)" d="M746 465l-23 3m22-3l-23 3m29-5l-23 3m26-2l-21 1m35-6l-22 0m12 6l-21 0m7 1l-23 4m38-6l-20 0m26-5l-22 0m2 6l-23 4m24-5l-24 4m38-4l-20 0"/><path stroke="var(--me)" d="M586 541l-37 24m29-20l-25 16m33-22l-37 25m32-20l-25 16m22-16l-26 17m28-17l-25 16m31-18l-14 8m10-6l-25 16m9-8l-12 8m22-14l-24 16m26-17l-25 16m26-15l-23 15m33-21l-36 24m16-14l-23 16"/><path stroke="var(--m8)" d="M472 578l-10 7m32-15l-23 15m1-7l-10 7m22-11l-21 14m20-12l-11 7m21-12l-22 14m14-10l-20 14m17-15l-21 14m22-14l-21 14m19-14l-21 14m30-18l-22 15m11-10l-20 14"/><path stroke="var(--ea)" d="M223 560l2-20 7-18m-8 29l4-19m2 9l6-17m-13 36l3-20 7-19m-9 28l5-19m-4 26l3-19m-3 16l4-19m-2 31l2-19 5-18m-19 29l3-22m13 6l6-17m-13 18l6-20m-12 28l5-21m2 30l3-20 7-18"/><path stroke="var(--hm)" d="M750 462l-24 4m44-7l-21-1m13 0l-24 2m17 2l-23 2m32-6l-23 1m7 4l-24 3m43-8l-22 0m10 0l-25 4m40-3l-21-1m18-1l-23 0m13 2l-23 3m23 1l-22 1m24-4l-23 2"/><path stroke="var(--h1)" d="M701 491l-18 5m18-4l-18 4m23-5l-36 10m22-9l-20 7m29-6l-17 5m19-7l-17 5m8-3l-19 6m15-5l-19 6m14-3l-18 6m28-9l-18 5m26-6l-35 10m35-11l-18 4m13-4l-18 5"/><path stroke="var(--m5)" d="M516 567l-11 8m14-8l-11 8m11-8l-11 8m11-9l-11 8m23-13l-13 8m0-4l-21 16m25-17l-22 16m28-18l-13 8m11-8l-22 16m12-10l-11 7m21-13l-23 16m27-16l-12 8m1-3l-11 8m10-8l-11 8m14-11l-22 16m32-18l-12 8m-6 0l-11 8"/><path stroke="var(--ni)" d="M664 511l-15 6m21-12l-18 6m21-4l-16 5m18-8l-33 13m34-11l-31 12m15-9l-17 7m34-9l-30 11m22-13l-18 7m21-4l-15 5m-1-3l-17 8m40-15l-33 12m22-7l-16 6m16-9l-17 7m20-6l-33 13m35-12l-16 5m1-3l-18 7"/><path stroke="var(--m9)" d="M479 573l-22 13m3-6l-11 6m20-9l-10 7m5-4l-11 6m17-7l-10 7m8-11l-21 13m16-8l-10 6m13-8l-20 12m29-14l-21 13"/><path stroke="var(--f4)" d="M228 616l-9-20m7 15l-8-21m15 37l-11-19-8-21m11 22l-8-21m14 43l-11-19m5 1l-8-21m15 35l-11-19-7-22m20 36l-10-19-7-21m7 31l-8-21m16 28l-10-19-6-22m10 37l-9-21m15 28l-11-19-6-22m13 36l-9-20m4 19l-9-22"/><path stroke="var(--h2)" d="M698 491l-19 5m30-9l-19 5m12-3l-20 5m28-5l-18 3m19-5l-19 4m6-2l-20 6m32-7l-38 10m39-8l-17 3m13-3l-17 4m23-8l-38 10m32-8l-19 5m21-6l-18 5m13-1l-17 4m13-6l-20 6"/><path stroke="var(--dz)" d="M211 513l14-21m-9 26l13-20m-16 27l11-21m-10-1l16-20m-25 23l15-23m-15 45l11-24m-2 19l11-21m-7 22l11-20m-19 8l14-22m-12 19l15-21m-10 14l16-20m-24 48l9-23m-1 20l10-21 15-17m-31 13l17-20m-13 41l11-21m-20 28l10-24m-6-1l15-21m-10 41l10-21"/><path stroke="var(--fq)" d="M204 696l-25-27m23 18l-23-28m39 47l-26-24m18 36l-29-25m29 16l-27-25m39 13l-25-23m11 13l-23-26m22 29l-24-26m15 22l-23-28m33 29l-23-25m29 51l-27-24m26 25l-28-24m27 10l-26-25m28 18l-24-24"/><path stroke="var(--m6)" d="M506 570l-11 8m19-13l-23 16m19-12l-11 8m7-7l-11 8m16-12l-22 15m26-17l-23 16m12-9l-10 8m16-11l-21 15m18-13l-11 7m21-14l-23 16m21-13l-22 15m32-19l-12 8m4-5l-23 16"/><path stroke="var(--mf)" d="M569 548l-25 16m24-15l-24 16m26-17l-24 16m24-17l-25 17m22-14l-24 16m38-24l-37 24m34-23l-26 17m22-15l-25 17m23-15l-25 16m23-16l-25 17m35-21l-14 9m1-2l-23 16m24-17l-24 16m39-24l-14 9m-8 2l-13 9"/><path stroke="var(--fp)" d="M222 690l-23-22m29 23l-23-21-20-27m28 39l-22-25m31 34l-23-22-20-29m30 41l-22-25m10 18l-21-28m35 39l-23-25m39 36l-23-21-21-27m29 41l-23-25m23 19l-22-25m30 30l-22-22m14 24l-24-25m26 24l-23-25m30 28l-24-22m30 26l-24-21-20-27m42 45l-24-22-20-27"/><path stroke="var(--eo)" d="M222 586l-3-21m3 23l-3-21m10 5l0-19m-1 38l-4-20 0-20m5 28l-2-19m-2 20l-2-20m2 12l0-20m-1 18l0-21m4 19l1-19m-4 27l0-20m0 17l0-20m5 31l-3-19m-5 21l-2-21m2 23l-3-21m11 12l-2-19m-4 27l-3-20m1 25l-4-21m9 7l-2-19m-3 27l-3-21"/><path stroke="var(--mq)" d="M603 536l-13 8m22-10l-13 7m12-8l-26 15m30-16l-13 8m9-8l-27 16m34-16l-14 7m-2-3l-14 8m16-9l-14 8m22-9l-13 8m-1-5l-13 9m37-20l-29 16m21-11l-27 16m20-15l-14 9m28-13l-14 8m-3-1l-14 8m12-7l-13 8m33-17l-28 16m18-9l-13 7m24-16l-30 16"/><path stroke="var(--m7)" d="M498 569l-22 14m23-14l-22 14m18-10l-11 7m17-10l-21 14m13-11l-11 8m21-13l-23 15m21-11l-10 7m4-5l-11 7m14-9l-11 7m15-9l-11 8m10-10l-23 15m26-13l-12 7"/><path stroke="var(--e0)" d="M202 503l17-24m-10 41l13-23m-18 4l17-23m-9 46l10-22 16-17m-31 12l17-22m-11 47l11-22m-21 4l16-24m5 24l15-18m-35 41l10-24m-5 23l11-23m-15 3l15-23m-17 26l15-24m-16 23l16-24m-17 43l10-25m-1 19l11-22m-9 29l10-21"/><path stroke="var(--eb)" d="M219 565l2-21 6-20m-8 43l1-22 6-20m-13 26l5-22m-3 16l6-21m-7 23l5-22m-1 14l7-20m-5 43l2-20 7-20m-17 24l6-22m2 41l1-21 6-20m-7 22l6-21m-14 24l5-22m-4 26l4-22m4 36l1-21 6-20m-6 36l2-20m-5 23l1-21 6-20"/><path stroke="var(--mg)" d="M555 554l-13 8m10-8l-12 9m10-6l-12 8m20-14l-13 8m25-13l-26 17m21-14l-25 17m9-9l-12 8m33-19l-26 17m9-8l-12 9m17-11l-13 9m20-14l-25 17m31-20l-26 17m3-5l-12 8"/><path stroke="var(--f5)" d="M228 631l-12-20-8-24m13 32l-10-22m15 38l-13-21-9-24m23 39l-12-20-7-24m12 27l-9-23m9 28l-9-22m11 23l-9-21m8 25l-10-22m16 37l-13-20-9-24m4 12l-7-25m19 36l-9-21m12 40l-12-21m11 11l-11-22-6-24m16 36l-9-21m-2 11l-7-24m20 40l-10-21"/><path stroke="var(--hn)" d="M772 453l-24 1m32-9l-26 2m27-3l-26 2m7 11l-24 2m43-14l-26 1m17 6l-25 1m20 0l-25 3m32-2l-23 0"/><path stroke="var(--n4)" d="M652 511l-17 8m7 0l-30 15m30-17l-31 16m34-15l-30 14m28-12l-14 7m-3-3l-15 8m40-20l-34 16m24-8l-15 7m12-5l-14 7m22-14l-32 16m38-17l-31 14m30-16l-34 16m21-9l-16 8m20-8l-30 15"/><path stroke="var(--e1)" d="M208 515l13-23m-20 5l18-24m-24 51l12-27m2 19l13-22m-22 11l17-25m-16 16l19-24m-11 47l12-23m-15 29l11-23m-11 16l12-23m-20 6l17-24m-10 47l11-24 17-19m-31 19l17-23m-16 19l18-23m-22 31l16-25"/><path stroke="var(--ep)" d="M224 581l-1-21m-4 36l-5-22-1-23m5 39l-4-22m0 19l-3-23m6 24l-3-22m3 26l-4-22m4 12l-2-22m3 23l-2-22m7 22l-3-21m-4 30l-4-23m6 16l-3-22m1 16l-1-22m4 10l1-21m-3 49l-5-22m7 25l-6-22m0 18l-4-24m15 12l-2-20m-4 9l0-21"/><path stroke="var(--ho)" d="M791 441l-26 0m29-2l-27 0m15 5l-28 1"/><path stroke="var(--ec)" d="M206 548l6-24m-1 40l2-23 8-22m-7 47l2-23 6-21m-15 24l6-24m0 18l7-22m-12 31l5-24m2 35l3-22 8-21m-10 44l2-22m-10 7l6-23m1 40l3-22 6-21m-6 15l8-20m-13 45l3-23 7-21m-14 30l6-23m-6 25l6-23m-8 27l5-24"/><path stroke="var(--h4)" d="M717 480l-21 5m17-3l-20 5m32-10l-21 4m22-5l-22 5m9 1l-21 6m21-7l-21 5m24-5l-20 5m21-4l-20 5"/><path stroke="var(--f6)" d="M226 638l-14-21-9-24m14 25l-10-23m12 33l-11-23-7-25m17 58l-13-23m14 23l-14-23m15 12l-11-22m7 13l-10-23m14 45l-14-22-9-26m15 22l-9-25m20 43l-12-22-8-25m16 40l-11-23m11 39l-14-23m12 7l-11-23m0 5l-8-25m24 45l-11-22m7 14l-10-23m-1 15l-8-26"/><path stroke="var(--f7)" d="M215 640l-14-24m13 6l-10-23m10 38l-13-24m11 21l-13-25m14 15l-11-24m14 40l-14-24m14 26l-14-23m12 2l-10-24m14 33l-12-23m13 26l-12-22m6 10l-10-24m12 47l-15-24"/><path stroke="var(--e5)" d="M193 480l23-25m-23 28l22-25m-28 22l23-27m-21 26l23-27m-26 26l24-27"/><path stroke="var(--mh)" d="M548 557l-12 8m23-15l-26 17m15-10l-12 8m21-15l-14 9m4-3l-13 8m22-13l-13 9m-1-3l-12 9m25-14l-14 9m11-7l-13 8m21-13l-26 17m19-12l-13 9m6-8l-13 8"/><path stroke="var(--h3)" d="M707 485l-21 6m16-4l-20 6m22-6l-19 5m24-8l-21 6m14-4l-21 7m34-9l-18 4m14-3l-19 5m15-4l-20 5m20-6l-20 6m26-8l-21 5m9-1l-20 6m23-7l-20 6"/><path stroke="var(--nj)" d="M669 503l-18 7m19-7l-18 7m25-7l-17 6m8-5l-18 7m22-8l-18 7m29-11l-35 13m36-14l-19 6m8 0l-17 6m22-9l-36 14m34-14l-35 15m26-13l-18 8m28-12l-19 7m13-2l-18 7m16-7l-19 7m25-9l-17 7"/><path stroke="var(--e2)" d="M205 519l12-23m-22 19l14-26m-14 24l15-26m-9 7l19-23m-17 48l12-24m-24-2l20-26m-15 38l16-25m-22 16l19-27m-12 28l18-25m-24 22l19-27m-18 33l17-26m-12 39l14-25m-5 29l12-23"/><path stroke="var(--mr)" d="M619 527l-16 9m13-9l-30 17m6-6l-14 9m40-20l-30 17m9-8l-14 8m34-16l-15 8m13-8l-30 17m35-19l-16 9m10-6l-16 8m-2 1l-14 8m12-9l-14 9m28-14l-28 16m43-24l-16 8m6-4l-30 17m21-13l-15 9m8-4l-14 8m36-18l-15 8m13-7l-15 8m-8 1l-14 9m36-18l-30 16"/><path stroke="var(--mi)" d="M538 559l-12 8m14-10l-13 8m11-6l-12 8m18-11l-13 8m15-10l-13 9m9-7l-14 8m10-5l-12 8"/><path stroke="var(--eq)" d="M208 587l-3-24m9 5l1-23m-4 52l-5-24m5 16l-3-23m3 29l-5-25m7 0l1-23m0 39l-3-23m2 34l-5-24 0-24m4 46l-5-24m5 2l0-24m3 33l-2-22m0 16l0-23m1 42l-5-23 0-24m5 52l-6-23-1-25"/><path stroke="var(--e4)" d="M200 489l20-24m-40 13l24-29m-16 55l17-28m-26 2l24-29m-19 34l23-28m-25 25l23-28m-3 35l20-23m-33 40l17-27m-22 10l21-28"/><path stroke="var(--f8)" d="M210 639l-14-25m11 15l-12-26m11 30l-13-26m12 21l-11-27m15 42l-14-25m15 21l-14-26m17 31l-15-25m15 20l-14-24m11 22l-13-25m9 14l-11-25"/><path stroke="var(--e3)" d="M185 491l21-28m-18 27l21-27m-4 27l20-22m-38 23l20-27m-14 48l15-27m-22 2l22-28m-22 38l19-28m-13 38l16-26m-20 18l18-27"/><path stroke="var(--ed)" d="M205 563l2-25 8-24m-12 31l6-25m-6 18l8-25m-6 48l3-25 8-23m-8 53l1-25 7-23m-5 45l2-23m-9 11l5-25m-7 15l7-25m-7 28l7-25m-6 14l9-24m-8 45l5-24m-7 25l4-25m-2 16l6-25"/><path stroke="var(--nk)" d="M683 496l-19 7m19-7l-19 7m22-7l-19 6m18-6l-19 6m21-7l-19 6m12-4l-20 7"/><path stroke="var(--e6)" d="M180 474l26-29"/><path stroke="var(--h5)" d="M718 479l-22 5m25-7l-22 5m20-4l-22 5"/><path stroke="var(--ms)" d="M592 539l-15 8m34-18l-15 9m5-5l-15 9m11-7l-15 9m12-7l-15 9"/><path stroke="var(--n5)" d="M635 519l-16 8m33-17l-17 8m8-2l-17 8m28-14l-34 16m19-8l-17 8m2-3l-16 9m45-21l-34 16m21-11l-17 9"/><path stroke="var(--f9)" d="M204 638l-14-27m18 28l-14-26m11 35l-16-26m13 31l-16-28m21 25l-16-26m14 25l-16-26"/><path stroke="var(--er)" d="M207 595l-5-25m4 3l0-25m2 37l-3-24m1 9l1-24m4 54l-6-24-1-25m1 42l-4-26m6 4l1-25m4 23l0-23m-6 49l-5-25m7 32l-6-25m4 2l-2-25m5 16l0-24m-1 50l-5-24"/><path stroke="var(--ee)" d="M200 540l8-25m-7 39l4-26m-3 9l8-25m-9 39l5-26m-6 6l10-26"/><path stroke="var(--mj)" d="M533 559l-14 8m13-8l-13 8m17-9l-13 9m10-8l-13 8m12-8l-13 8m13-8l-14 8"/><path stroke="var(--es)" d="M206 602l-6-25"/><path stroke="var(--fa)" d="M201 654l-16-28"/><path stroke="var(--f6)" d="M205 615l-9-26m9 26l-9-26"/><path stroke="var(--h2)" d="M690 492l-20 7m22-8l-20 7m19-6l-21 7"/><path stroke="var(--hk)" d="M738 467l-23 4"/><path stroke="var(--ee)" d="M201 564l2-26m-4 16l5-27m-9 5l10-26m-10 27l10-27m-10 30l8-27m-4 54l3-26m-2 22l3-26m-4 11l7-26m-7 32l6-26m-6 20l7-27"/><path stroke="var(--er)" d="M202 570l1-25m1 45l-3-26m1 16l-1-26m2 35l-4-26m3 14l-1-26m3 30l-2-26m1 17l1-26"/><path stroke="var(--fo)" d="M198 659l-18-28m18 35l-20-29"/><path stroke="var(--e3)" d="M187 518l13-29m-10 22l15-27m-13 33l13-27m-18 23l15-29m-21 9l20-29m-14 51l15-28"/><path stroke="var(--n5)" d="M651 510l-35 17m19-9l-17 9m32-16l-35 17m33-16l-34 17m15-9l-18 9m31-14l-18 8m17-7l-18 8m26-13l-36 17m18-9l-18 9m37-17l-34 17"/><path stroke="var(--e2)" d="M189 522l12-28m-10 30l12-28"/><path stroke="var(--m6)" d="M523 561l-13 8m9-7l-13 8m14-9l-13 9"/><path stroke="var(--es)" d="M203 593l-5-26 2-27m4 59l-6-26 0-28m4 55l-6-27 0-27m5 34l-2-26m2 13l1-26m-6 48l-4-28m9 9l1-26m-5 48l-5-28m11 21l-3-26m4 38l-6-26 1-27m1 33l-1-27m-1 32l-2-28m3 31l-3-27m7 39l-5-26 1-27"/><path stroke="var(--f7)" d="M201 616l-9-27m9 24l-9-27m7 23l-7-27m10 34l-9-27m9 30l-10-27m13 26l-10-26m4 23l-9-28m7 25l-8-28m11 36l-10-27"/><path stroke="var(--mf)" d="M584 539l-15 9m14-8l-15 9m17-10l-15 9m12-7l-15 9m18-12l-15 9m12-6l-15 9m16-10l-15 9"/><path stroke="var(--fp)" d="M191 664l-19-30m25 36l-20-29"/><path stroke="var(--ms)" d="M602 532l-16 9m7-5l-15 9m30-16l-16 9m11-8l-17 9m22-9l-16 9m22-12l-17 9m0-1l-16 9m13-9l-16 9m33-16l-17 9m1-2l-15 9m38-20l-17 9m20-9l-17 8m9-4l-16 9m-6 0l-15 9m34-18l-16 9m-1-1l-15 9m33-17l-17 9m28-15l-33 18"/><path stroke="var(--m7)" d="M519 562l-13 8m2-5l-13 8m20-12l-14 9m5-5l-13 8m24-10l-13 8m10-7l-13 8m6-6l-12 8m16-11l-13 9m18-10l-14 8m16-9l-14 9"/><path stroke="var(--ef)" d="M189 560l3-30 10-27m-4 42l7-26m-17 26l7-30m-6 42l4-29 11-27m-14 51l5-28m-7 18l7-29m1 33l7-27m-13 41l3-29 10-27m-11 57l3-29m-4 1l9-28m-8 56l3-28m-3 31l3-28m-4 28l2-29 9-27m-6 46l5-27m-10 1l11-28m-13 42l8-29m-1 45l4-27"/><path stroke="var(--h3)" d="M697 488l-21 7m29-11l-21 6m8 0l-22 7m26-11l-22 8m23-7l-21 7"/><path stroke="var(--nk)" d="M679 496l-40 17m25-10l-19 8m19-8l-20 8m26-10l-19 8m14-5l-18 8m20-10l-19 8m27-11l-19 7m2 0l-19 9m29-12l-19 7m17-8l-19 8m21-9l-20 9m12-6l-19 9"/><path stroke="var(--e4)" d="M180 488l21-29m-16 48l16-28m-23 35l15-31m-21 30l15-33m-13 9l21-31m-8 48l17-28m-26 32l16-31"/><path stroke="var(--mg)" d="M569 545l-14 9m12-9l-15 9m28-16l-30 19m24-16l-16 10m22-11l-15 9m15-11l-31 19m18-11l-14 9m19-11l-14 9m23-15l-16 10m14-9l-31 18m19-12l-14 9m22-11l-14 9"/><path stroke="var(--f8)" d="M196 614l-9-28m6 21l-7-29m8 35l-8-29m14 39l-11-28m6 23l-10-29m11 24l-9-28m16 44l-12-27m7 17l-10-28m2 18l-8-30"/><path stroke="var(--fq)" d="M192 682l-22-30m11 41l-25-34m27 25l-24-33m30 13l-20-31m19 32l-19-31m18 55l-24-31m22 32l-25-33m26 18l-21-32m25 26l-20-31"/><path stroke="var(--f9)" d="M190 611l-8-30m19 51l-12-27m13 46l-17-28-11-31m8 23l-9-32m16 39l-10-31m22 44l-13-27m3 16l-11-30m9 29l-11-31m18 40l-12-29m10 22l-11-29m6 32l-12-30m26 38l-13-27m10 19l-12-28m8 29l-12-29m8 27l-12-29"/><path stroke="var(--e5)" d="M172 492l21-32m-21 40l19-33m-20 25l21-33m-14 53l15-32m-16-4l25-30m-35 54l19-34m-13 11l24-31m-25 31l25-31m-24 35l24-31m-27 40l22-32m-19 53l16-32m-19 17l20-33m-19 49l15-34"/><path stroke="var(--et)" d="M192 589l-3-29m6 43l-7-28 0-30m4 41l-3-29m3 25l-2-30m4 49l-6-29 0-30m5 47l-3-29m6 29l-4-28m0 31l-4-30m7 30l-4-28m-1 23l-3-29m2 26l-3-30m9 47l-6-29 0-30"/><path stroke="var(--eg)" d="M182 542l8-31m-5 44l4-30 12-28m-16 50l7-30m-8 36l5-31m-2 12l9-29m-14 53l4-31 11-30m-9 65l3-29m-6 21l4-30 12-28m-15 45l7-29m-9 49l3-31 11-29m-11 57l4-30m-5 26l5-30m-8 14l9-31m-6 56l3-30 10-29"/><path stroke="var(--hl)" d="M747 460l-25 5m24-6l-26 6m19-1l-25 6m26-6l-25 5"/><path stroke="var(--fa)" d="M185 626l-12-32m23 49l-15-29-9-33m23 49l-12-29m13 33l-13-29m14 38l-15-28m12 35l-17-30-10-34m19 39l-12-31m10 37l-12-32m23 54l-17-29-11-34m32 62l-17-28-11-33m22 56l-16-30-9-34m25 73l-18-30m17 24l-16-30m19 22l-15-29-8-33m26 75l-17-28-11-33"/><path stroke="var(--h4)" d="M696 485l-23 8m36-13l-23 7m26-7l-22 6m18-6l-24 7m22-6l-23 7m21-7l-23 8m29-7l-22 6m21-8l-22 7m10-4l-23 9"/><path stroke="var(--n6)" d="M639 513l-19 9m25-11l-37 18m36-18l-36 19m43-21l-37 18m38-20l-38 18m33-13l-18 8m19-10l-37 18m41-22l-39 19m43-19l-38 18m33-16l-37 18m25-11l-18 9m28-14l-18 9m16-9l-37 18m38-18l-37 18m30-15l-19 9"/><path stroke="var(--mh)" d="M569 541l-30 19m40-22l-31 19m27-17l-16 10m20-12l-31 19m25-16l-16 9m5-4l-15 10m5-5l-15 9m35-18l-16 9m19-13l-33 19m29-15l-16 10m12-7l-15 9m24-14l-16 9m2-4l-16 10"/><path stroke="var(--nl)" d="M670 499l-20 8m32-14l-43 17m43-16l-41 17m44-19l-43 17m30-10l-20 8m20-9l-21 8m27-11l-21 8m19-8l-22 9m18-6l-20 8m19-6l-20 8m36-17l-21 8m9-3l-21 9m34-12l-41 15m23-9l-20 8m31-14l-21 8m20-6l-42 17"/><path stroke="var(--mt)" d="M620 522l-18 10m8-6l-17 10m7-5l-17 9m38-19l-18 9m19-11l-37 20m29-14l-17 10m14-10l-17 10m-8 3l-16 9m29-16l-17 10m34-18l-35 19m14-9l-17 10m35-18l-18 10m-5 1l-16 9m40-19l-17 9m-10 3l-15 9m31-19l-18 10m28-14l-33 19m28-16l-17 10m20-11l-18 10m6-5l-17 10m18-11l-17 10m35-18l-35 19"/><path stroke="var(--hn)" d="M765 450l-28 4m28-4l-27 4m26-6l-30 5m28-5l-29 6m23 0l-27 5m36-7l-27 3m13-1l-29 6m45-10l-27 4"/><path stroke="var(--hm)" d="M749 458l-26 5m22-5l-27 7m31-7l-26 6m31-9l-27 5m27-5l-27 5"/><path stroke="var(--eu)" d="M189 605l-7-31 0-32m5 44l-2-31m1 23l-1-31m1 37l-2-31m5 42l-5-30 3-31m1 74l-8-31m5 12l-3-31m5 27l-2-31m6 48l-6-30 1-31m2 50l-4-30m-1 35l-5-32m4 15l-1-32m7 53l-6-31 1-31m1 62l-6-31m12 24l-4-30"/><path stroke="var(--m8)" d="M513 560l-15 9m16-9l-15 9m9-7l-14 8m3-4l-13 8m11-5l-12 7m24-14l-14 9m5-4l-13 8m10-9l-13 8m15-8l-14 8m11-7l-13 7m24-12l-15 8m3-2l-14 7"/><path stroke="var(--eh)" d="M181 549l6-31m-12 4l13-32m-10 46l10-32m-11 36l8-33m-10 51l4-34 12-31m-17 31l13-33m-7 53l7-31m-12 48l4-34 11-31m-16 63l4-34 13-31m-13 44l9-32m-6 25l11-31m-17 30l11-33m-5 50l6-32m-7 21l9-32m-11 27l10-32"/><path stroke="var(--h5)" d="M709 477l-25 8m29-6l-22 6m21-6l-22 7m24-11l-25 7m31-7l-23 6m5-3l-25 9m36-8l-22 7m19-10l-25 8m19-3l-23 7m29-13l-25 9m26-4l-22 6m26-12l-25 8m9 0l-24 9"/><path stroke="var(--e6)" d="M148 506l19-40 28-33m-39 69l19-38m-18 23l23-37m-17 59l17-35m-34 0l27-40m-19 41l27-38m-15 55l21-34m-29 51l17-37 26-30m-47 67l18-39 27-31m-43 57l20-37m-19 50l17-37 26-31m-50 40l25-38m-8 57l19-34m-37 13l26-39m-12 37l25-34m-19 38l24-33"/><path stroke="var(--m9)" d="M499 563l-27 15m21-13l-14 8m21-10l-28 15m15-13l-27 15m39-19l-30 16m22-12l-27 15m33-16l-27 15m12-11l-14 7m22-10l-27 15m32-17l-29 15m22-9l-13 7"/><path stroke="var(--mi)" d="M570 540l-32 19m25-15l-30 18m41-25l-34 20m30-17l-32 19m21-14l-30 19m48-28l-33 20m18-11l-16 9m22-13l-16 10m24-15l-34 20m20-13l-31 19m36-21l-31 19m34-20l-32 19m25-16l-32 19m36-21l-32 19"/><path stroke="var(--h6)" d="M715 474l-25 8m39-11l-24 6-26 9m42-14l-25 7m19-8l-27 9m39-10l-24 7-27 9m45-13l-23 7m28-8l-24 6m15-3l-24 7m32-11l-25 7m32-8l-24 5-26 9m53-16l-24 5-27 9m50-14l-23 5-27 9m40-9l-24 6m14-6l-26 9"/><path stroke="var(--fb)" d="M179 639l-14-33m20 37l-15-32m21 46l-18-30-12-36m18 49l-15-33m16 24l-12-34m19 59l-17-32-11-36m29 72l-18-31-12-37m25 56l-16-33-9-37m32 80l-18-30-11-36m17 45l-14-34m13 38l-14-34m20 41l-16-33-9-37m17 48l-11-35m17 53l-15-33m10 9l-10-34"/><path stroke="var(--ev)" d="M182 581l-1-32m-9 32l-2-35m13 55l-6-32 1-33m5 69l-7-32 1-33m-4 43l-1-35m7 43l-4-33m5 19l0-33m0 50l-5-33m3 31l-4-33m10 44l-7-32 1-33m0 26l3-33m-4 67l-5-34 3-34m3 39l2-33m-8 44l-1-35m9 53l-5-33 3-34"/><path stroke="var(--mu)" d="M622 518l-38 21m2-4l-17 10m50-24l-19 10m-16 4l-17 10m32-17l-19 10m24-10l-18 10m32-17l-19 10m14-8l-18 10m-9 3l-16 10m48-27l-38 21m19-13l-19 11m28-12l-18 10m15-8l-18 10m35-20l-19 10m2-2l-35 20m32-20l-35 20m22-11l-17 9m48-26l-39 20m25-12l-35 19m26-17l-18 11m39-18l-19 10m20-11l-19 10m11-7l-36 20"/><path stroke="var(--n7)" d="M650 507l-40 19m29-16l-20 11m22-10l-20 10m21-12l-20 10m29-13l-40 19m46-22l-41 20m38-19l-41 19m36-17l-41 20m37-18l-40 20m49-23l-41 19m34-16l-39 19m42-20l-39 19m27-14l-20 10"/><path stroke="var(--nm)" d="M686 491l-43 17m23-13l-23 11m45-16l-43 17m36-14l-43 18m32-16l-22 10m36-15l-45 19m31-12l-21 9m17-7l-21 9m42-17l-44 17m49-20l-45 17m27-11l-23 9m14-6l-23 10m50-19l-44 17m12-4l-22 10m46-19l-44 18m36-16l-22 9"/><path stroke="var(--ei)" d="M169 559l4-35 12-33m-14 66l4-35m-5 24l8-34m-15 49l4-38 13-35m-8 60l6-34m-13 36l7-37m-2 46l4-35m-5 3l12-34m-17 60l6-37 14-33m-16 73l5-36 13-33m-20 60l7-36m-12 42l5-38m-2 34l7-37m0 33l7-35m-12 48l4-37 14-34"/><path stroke="var(--mj)" d="M567 539l-34 20m33-20l-34 20m31-18l-32 20m22-15l-31 18m48-26l-34 20m24-15l-32 19m46-27l-49 29m34-21l-33 19m41-23l-34 20m25-16l-32 19m36-19l-32 19m36-23l-34 20m34-20l-34 20"/><path stroke="var(--ho)" d="M769 442l-31 6m27-7l-33 8m38-7l-31 6m31-1l-28 4m30-15l-35 8m37 3l-27 3m33-12l-32 5m22-5l-34 8m31-4l-32 7m56-13l-30 2m6 1l-34 8m33-1l-30 5m42-14l-33 6m35-2l-29 3m28-1l-28 3"/><path stroke="var(--fc)" d="M179 669l-21-34-13-40m34 64l-19-33-11-40m21 66l-18-36m4 43l-19-41m22 33l-17-40m34 35l-15-35m24 50l-19-32-12-38m15 42l-13-36m27 67l-20-33-12-38m18 41l-13-37m16 37l-13-36m16 60l-18-35-11-41m39 80l-19-33-12-37m9 66l-19-39m16 38l-18-39m23 25l-15-38m20 33l-14-36"/><path stroke="var(--mk)" d="M565 538l-49 29m53-30l-50 29m39-25l-35 20m46-25l-51 29m55-31l-20 12m1-4l-35 20m45-23l-48 29m25-19l-31 19m26-16l-16 9m31-17l-34 19m50-27l-52 30m37-21l-31 19m37-21l-33 19m44-27l-52 30"/><path stroke="var(--ej)" d="M160 529l12-37m-10 45l10-37m-14 53l6-39 16-36m-21 51l12-37m-15 56l7-39m-9 43l7-40 16-36m-19 63l9-39m-10 15l16-38m-16 76l6-39 16-36m-18 48l13-37m-20 70l5-40 14-38m-15 47l12-38m-12 48l9-38m-1 15l16-35m-23 54l11-38"/><path stroke="var(--ew)" d="M173 594l-4-35m1 52l-8-36 0-38m-1 54l-3-38m16 39l-3-35m-3 40l-5-36m4 25l-2-36m9 44l-4-35m2 40l-6-35 3-37m-2 63l-3-37m7 38l-3-35m0 27l-2-36m-2 44l-3-38m-3 20l1-39m7 52l-2-37m6 45l-4-36"/><path stroke="var(--n8)" d="M643 508l-21 10m23-11l-41 21m34-17l-20 10m8-6l-21 11m34-17l-21 10m25-11l-21 10m25-13l-42 21m18-10l-21 10m49-23l-43 21m40-19l-42 21m32-15l-20 10m22-11l-21 10m35-17l-43 20"/><path stroke="var(--nn)" d="M691 485l-48 20m30-12l-23 10m16-8l-24 10m54-21l-47 19m41-17l-24 9m17-7l-24 10m34-11l-23 8m21-9l-48 19m38-16l-24 10m24-11l-25 10m36-12l-46 19m42-17l-23 9m24-11l-48 20m34-15l-24 10m11-5l-24 11m36-15l-24 10"/><path stroke="var(--h7)" d="M723 468l-27 9m26-9l-27 9m27-12l-29 10m27-10l-30 10m30-4l-25 8m42-13l-25 5-27 10m43-13l-25 7m34-10l-25 6-27 10m36-11l-27 8m20-8l-28 10m57-21l-28 7-30 11m37-8l-27 8m27-9l-27 8m13-5l-29 11m36-13l-29 10"/><path stroke="var(--mv)" d="M588 531l-19 10m51-25l-41 22m27-14l-20 11m29-16l-40 21m44-23l-40 21m25-13l-20 10m36-18l-21 11m-7 2l-19 11m27-16l-38 21m51-26l-39 21m31-15l-19 10m34-20l-21 11m12-6l-39 21m23-15l-20 11m14-6l-18 10m37-18l-19 11m29-18l-21 11m-12 6l-18 11m49-27l-40 22m28-16l-37 21m13-10l-18 10"/><path stroke="var(--ex)" d="M165 606l-7-38 2-39m4 78l-7-38 2-40m0 59l-3-40m5 63l-8-39 1-41m0 60l-3-40m7 41l-4-40m4 26l0-39m-2 58l-4-41m9 36l-4-39m7 50l-6-38 3-39m-2 72l-5-39m9 48l-7-39 2-40m0 50l0-40m8 73l-8-38"/><path stroke="var(--h8)" d="M726 466l-28 8m30-8l-27 8m22-11l-30 10m39-9l-27 8m28-7l-26 7m34-13l-28 7-30 12m41-12l-27 9m21-10l-30 10m35-11l-30 10m51-17l-28 7-31 12m49-14l-28 8m21-10l-32 11m40-7l-27 7m19-11l-31 11m40-9l-28 7"/><path stroke="var(--ek)" d="M141 551l7-45m-1 38l9-42m-11 28l12-43m-27 35l16-48m-8 45l16-44m0 56l12-39m-15 59l7-42m-6 47l5-41m-10 36l7-42m-3 48l6-42 15-38m-26 62l10-43m-6 55l7-42m-21 18l14-46m-15 44l14-46m-2 39l16-41m-9 43l15-39"/><path stroke="var(--ml)" d="M554 542l-35 20m24-17l-35 20m59-30l-53 30m38-24l-37 20m50-26l-54 31m38-21l-34 19m37-21l-35 20m44-25l-20 11m14-8l-19 11m-1-3l-18 10m31-15l-34 20m49-29l-56 31m40-23l-36 20m41-22l-36 21m38-21l-36 20"/><path stroke="var(--n9)" d="M650 503l-44 21m56-28l-24 11m11-4l-45 22m39-19l-23 11m40-20l-24 11m23-10l-46 22m35-15l-22 10m17-10l-23 11m37-17l-46 22m35-16l-23 11m19-9l-22 11m21-12l-23 11m9-5l-22 12m45-22l-46 22"/><path stroke="var(--no)" d="M684 485l-25 11m20-10l-26 11m33-10l-24 9m28-10l-24 9m18-8l-24 10m37-16l-50 21m51-22l-52 21m31-14l-26 12m34-15l-26 11m34-13l-51 21m32-16l-27 12m38-15l-26 11m28-8l-25 9m38-17l-51 21"/><path stroke="var(--mw)" d="M610 519l-22 12m2-3l-20 12m12-7l-19 11m32-18l-21 11m38-20l-42 23m43-21l-21 11m-14 5l-19 10m62-32l-44 23m25-13l-40 22m48-26l-42 22m49-26l-22 12m15-6l-21 11m8-8l-21 12m6-4l-20 11m47-24l-42 22m46-24l-43 23m35-16l-20 10m16-10l-21 11m7-5l-20 11"/><path stroke="var(--ey)" d="M145 595l-4-44m8 35l-2-42m5 72l-9-42 2-44m-8 88l-9-47 2-49m12 89l-8-45 4-47m13 74l-4-42m9 46l-5-40m-5 25l0-43m8 53l-4-41m-6 68l-9-45 1-47m6 91l-9-46 2-47m15 80l-7-43 4-44m9 84l-6-41 4-41"/><path stroke="var(--na)" d="M659 496l-49 23m54-27l-26 12m5 1l-23 11m7-7l-24 13m35-15l-23 12m27-14l-23 12m44-24l-26 12m-1 3l-23 11m34-17l-47 23m46-24l-25 12m30-14l-49 24m57-28l-49 24m32-16l-25 12m39-17l-46 23m49-26l-50 24m55-27l-27 12m14-3l-24 11m11-5l-22 11m33-18l-48 24"/><path stroke="var(--mm)" d="M552 539l-39 21m40-21l-39 21m52-27l-23 12m4-4l-39 21m49-28l-60 32m54-28l-56 31m50-27l-38 20m48-26l-57 31m34-20l-37 19m38-19l-36 19m66-32l-57 31m50-27l-21 11m-18 10l-14 9m41-27l-39 21m51-25l-55 31m27-20l-35 20"/><path stroke="var(--np)" d="M690 482l-26 10m4-4l-29 13m57-22l-53 22m45-21l-28 12m29-10l-26 11m13-7l-26 12m45-19l-55 23m45-21l-29 12m47-18l-55 23m37-17l-29 12m10-4l-28 13m62-24l-26 9m8-3l-27 12m29-14l-27 12m33-12l-26 10m20-10l-27 12m31-12l-27 11"/><path stroke="var(--h9)" d="M737 454l-32 11m33-11l-33 10m43-10l-29 7-33 12m48-20l-33 12m37-5l-28 7m44-20l-33 9-36 14m48-16l-34 12m30-7l-32 10m41-10l-29 8m46-21l-33 9m25-2l-30 8-33 13m46-12l-30 9m38-16l-31 10m35-9l-30 8m24-13l-34 12m20-3l-32 12m50-18l-31 9"/><path stroke="var(--mx)" d="M613 517l-23 11m-1-1l-22 12m21-12l-22 12m37-17l-21 11m36-19l-23 12m12-8l-44 23m37-18l-22 12m36-20l-44 23m10-6l-20 11m61-32l-47 24m5-3l-20 11m53-28l-45 24m54-27l-24 12m7-3l-22 11m23-13l-43 24m26-16l-22 12m21-12l-21 12m39-20l-42 24m47-25l-23 12"/><path stroke="var(--nb)" d="M638 504l-25 13m40-20l-26 12m16-8l-25 13m42-22l-53 26m30-13l-25 12m38-19l-50 25m40-21l-26 13m15-9l-26 13m45-21l-27 13m17-9l-26 13m35-16l-26 13m34-16l-51 25m53-27l-52 25m32-15l-24 13m44-23l-52 25m56-26l-51 25"/><path stroke="var(--nq)" d="M696 477l-28 11m27-11l-57 24m63-27l-57 24m49-23l-31 13m13-5l-29 13m61-24l-58 24m41-21l-31 13m38-13l-59 25m56-22l-28 11m20-9l-29 12m38-15l-57 24m57-25l-56 25m40-19l-29 13m36-16l-29 12m21-10l-30 13"/><path stroke="var(--my)" d="M612 513l-47 25m48-24l-24 13m23-13l-24 13m28-15l-47 25m11-8l-22 12m60-31l-49 26m27-14l-23 12m3-4l-22 12m49-23l-23 13m22-13l-23 13m32-18l-47 25m38-20l-44 24m14-11l-21 12m39-21l-23 13m45-21l-24 12m24-13l-25 13m9-5l-44 23m51-26l-45 24m61-34l-50 26"/><path stroke="var(--mn)" d="M539 542l-40 21m58-31l-64 33m47-23l-40 21m53-31l-66 33m68-30l-23 12m25-13l-24 13m8-7l-42 21m57-30l-65 34m45-22l-39 21m48-28l-63 32m73-36l-65 33m64-30l-60 32m42-26l-41 22m52-25l-59 31m64-33l-24 12"/><path stroke="var(--nr)" d="M698 474l-58 25m53-26l-32 14m49-20l-62 26m57-21l-30 11m34-16l-62 26m36-15l-31 13m36-16l-31 14m43-18l-61 27m54-24l-31 13m23-11l-31 14m31-13l-31 14m52-21l-61 25m50-24l-32 14m33-14l-32 13m44-15l-30 12"/><path stroke="var(--ha)" d="M738 448l-36 13m30-12l-38 15m45-16l-36 13m39-10l-33 10m28-17l-40 16m50-10l-32 9m40-13l-34 9m1 0l-36 14m62-26l-36 12m24-9l-39 15m38-12l-36 13m62-24l-37 11m9-2l-38 15m59-17l-33 10m24-12l-37 13m43-12l-36 11m36-9l-34 10"/><path stroke="var(--nc)" d="M640 499l-28 14m27-12l-26 13m25-13l-26 13m32-16l-28 14m17-10l-28 14m44-20l-53 26m33-19l-28 14m55-24l-27 13m27-13l-54 26m36-19l-27 14m46-22l-55 27m23-14l-28 14m41-18l-26 14m27-14l-27 13m38-19l-54 27m61-31l-54 28"/><path stroke="var(--mz)" d="M602 516l-48 26m38-23l-26 14m52-25l-51 27m9-7l-24 13m53-25l-25 13m21-12l-25 13m41-22l-52 27m29-15l-45 25m49-27l-46 25m58-31l-49 26m42-22l-48 25m40-22l-47 25m40-22l-25 13m34-16l-25 13m44-22l-26 13m-20 8l-23 12m28-14l-23 12m51-27l-49 27"/><path stroke="var(--nd)" d="M661 487l-59 29m46-23l-30 15m15-9l-30 15m59-26l-29 14m13-6l-28 14m41-22l-30 15m18-10l-30 15m35-17l-58 29m63-31l-59 29m41-20l-29 14m52-25l-59 29m51-26l-59 29m59-28l-29 14m20-10l-29 15m15-10l-29 15m62-31l-61 30m45-20l-29 15"/><path stroke="var(--ns)" d="M705 465l-34 14m34-15l-34 15m15-6l-33 15m48-23l-35 15m19-10l-36 17m50-21l-35 15m33-12l-32 14m50-24l-70 31m41-21l-36 17m34-12l-34 15m57-24l-66 29m71-30l-65 28m55-29l-36 16m24-7l-33 15m52-24l-68 30"/><path stroke="var(--n0)" d="M605 511l-53 28m54-28l-53 28m47-26l-53 28m68-37l-58 30m49-25l-55 29m47-24l-53 28m58-28l-27 14m35-21l-56 29m29-16l-27 14m61-29l-55 29m46-24l-53 28m60-31l-28 15m-19 6l-25 13m52-24l-26 14m32-16l-27 14m35-20l-54 28"/><path stroke="var(--ne)" d="M671 479l-66 32m66-32l-65 32m47-23l-61 31m74-39l-66 33m49-26l-34 17m24-11l-33 16m58-28l-66 33m67-31l-32 16m12-9l-34 17m39-21l-35 18m35-15l-32 16m23-11l-32 16m38-18l-31 15m15-11l-33 17m59-26l-61 30m67-32l-32 15m10-7l-31 16"/><path stroke="var(--nt)" d="M702 461l-38 17m30-14l-38 17m47-20l-37 16m43-16l-70 32m58-33l-40 18m64-23l-72 31m63-31l-39 17m24-11l-39 18m41-17l-38 17m63-30l-79 36m50-23l-39 18m65-25l-73 32m60-31l-40 18m47-19l-75 34m77-33l-73 33"/><path stroke="var(--n1)" d="M594 513l-55 29m47-25l-29 15m38-19l-55 29m79-44l-66 34m61-28l-59 31m60-31l-31 16m16-11l-59 31m45-24l-30 15m35-16l-55 28m71-39l-62 32m73-37l-63 33m58-28l-59 31m44-22l-29 15m25-17l-58 30m69-34l-58 31m63-32l-58 30"/><path stroke="var(--nf)" d="M664 478l-70 35m62-32l-70 36m80-40l-71 36m62-35l-38 20m30-12l-35 18m59-32l-73 37m58-30l-72 37m75-37l-70 36m54-30l-38 19m49-24l-38 19m30-12l-35 17m53-25l-35 17m37-22l-74 37m46-22l-35 18m39-18l-34 17"/></g></defs>
<use href="#A" transform="translate(1.00 -0.30)" style="--a0:#3681ba;--a1:#1e61a5;--a2:#3681ba;--a3:#1e61a5;--a4:#3783bb;--a5:#1e61a5;--a6:#3783bb;--a7:#1e61a5;--a8:#3783bb;--a9:#1e61a5;--aa:#3681ba;--ab:#1d5fa2;--ac:#3a87bd;--ad:#3480b9;--ae:#3783bb;--af:#1e61a5;--ag:#3783bb;--ah:#1d5fa2;--ai:#3681ba;--aj:#1d5fa2;--ak:#3480b9;--al:#1c5c9f;--am:#3480b9;--an:#1b5a9c;--ao:#3480b9;--ap:#1b5a9c;--aq:#3480b9;--ar:#3a87bd;--as:#1f63a8;--at:#3681ba;--au:#1c5c9f;--av:#4695c4;--aw:#276eb0;--ax:#3e8cbf;--ay:#2267ac;--az:#5fa5cd;--b0:#337eb8;--b1:#4695c4;--b2:#327cb7;--b3:#81bad8;--b4:#4f9bc7;--b5:#6bacd1;--b6:#408fc1;--b7:#65a9cf;--b8:#3c8abe;--b9:#5fa5cd;--ba:#3783bb;--bb:#59a1ca;--bc:#3480b9;--bd:#4f9bc7;--be:#3480b9;--bf:#529dc8;--bg:#3b88be;--bh:#93c6de;--bi:#6eaed2;--bj:#8dc2dc;--bk:#6bacd1;--bl:#8dc2dc;--bm:#65a9cf;--bn:#84bcd9;--bo:#59a1ca;--bp:#78b4d5;--bq:#4695c4;--br:#6bacd1;--bs:#408fc1;--bt:#65a9cf;--bu:#408fc1;--bv:#a0cce2;--bw:#84bcd9;--bx:#a2cde3;--by:#93c6de;--bz:#aed3e6;--c0:#a0cce2;--c1:#a9d1e5;--c2:#87beda;--c3:#93c6de;--c4:#529dc8;--c5:#6bacd1;--c6:#4695c4;--c7:#6eaed2;--c8:#4291c2;--c9:#9dcbe1;--ca:#8ac0db;--cb:#b1d5e7;--cc:#a9d1e5;--cd:#cce2ef;--ce:#c5dfec;--cf:#cce2ef;--cg:#acd2e5;--ch:#a2cde3;--ci:#3e8cbf;--cj:#4f9bc7;--ck:#4291c2;--cl:#6eaed2;--cm:#4393c3;--cn:#98c8e0;--co:#84bcd9;--cp:#acd2e5;--cq:#acd2e5;--cr:#cce2ef;--cs:#c5dfec;--ct:#cce2ef;--cu:#a9d1e5;--cv:#9dcbe1;--cw:#2f79b5;--cx:#3c8abe;--cy:#3f8ec0;--cz:#6eaed2;--d0:#4291c2;--d1:#84bcd9;--d2:#65a9cf;--d3:#90c4dd;--d4:#7bb6d6;--d5:#a2cde3;--d6:#8dc2dc;--d7:#a2cde3;--d8:#7bb6d6;--d9:#84bcd9;--da:#307ab6;--db:#3f8ec0;--dc:#3c8abe;--dd:#6bacd1;--de:#4291c2;--df:#71b0d3;--dg:#4695c4;--dh:#71b0d3;--di:#4997c5;--dj:#7bb6d6;--dk:#529dc8;--dl:#78b4d5;--dm:#4997c5;--dn:#6eaed2;--do:#3885bc;--dp:#569fc9;--dq:#3e8cbf;--dr:#68abd0;--ds:#4291c2;--dt:#5ca3cb;--du:#3a87bd;--dv:#5ca3cb;--dw:#3a87bd;--dx:#5fa5cd;--dy:#3b88be;--dz:#5fa5cd;--e0:#3b88be;--e1:#5fa5cd;--e2:#3a87bd;--e3:#5ca3cb;--e4:#3b88be;--e5:#62a7ce;--e6:#408fc1;--e7:#4f9bc7;--e8:#337eb8;--e9:#4f9bc7;--ea:#3480b9;--eb:#529dc8;--ec:#3681ba;--ed:#529dc8;--ee:#3681ba;--ef:#569fc9;--eg:#3783bb;--eh:#59a1ca;--ei:#3885bc;--ej:#5ca3cb;--ek:#408fc1;--el:#4393c3;--em:#2e77b5;--en:#4695c4;--eo:#307ab6;--ep:#4997c5;--eq:#327cb7;--er:#4c99c6;--es:#337eb8;--et:#4f9bc7;--eu:#3480b9;--ev:#529dc8;--ew:#3681ba;--ex:#59a1ca;--ey:#3f8ec0;--ez:#408fc1;--f0:#2a71b2;--f1:#4291c2;--f2:#2b73b3;--f3:#4291c2;--f4:#2c75b4;--f5:#4393c3;--f6:#2e77b5;--f7:#4695c4;--f8:#2f79b5;--f9:#4997c5;--fa:#307ab6;--fb:#4f9bc7;--fc:#3e8cbf;--fd:#3e8cbf;--fe:#266caf;--ff:#3e8cbf;--fg:#276eb0;--fh:#3f8ec0;--fi:#2870b1;--fj:#408fc1;--fk:#2a71b2;--fl:#4291c2;--fm:#2b73b3;--fn:#4291c2;--fo:#2c75b4;--fp:#4997c5;--fq:#3c8abe;--fr:#3a87bd;--fs:#2267ac;--ft:#3a87bd;--fu:#2267ac;--fv:#3b88be;--fw:#2369ad;--fx:#3c8abe;--fy:#246aae;--fz:#3c8abe;--g0:#266caf;--g1:#3e8cbf;--g2:#276eb0;--g3:#4291c2;--g4:#3b88be;--g5:#3783bb;--g6:#1f63a8;--g7:#3885bc;--g8:#1f63a8;--g9:#3885bc;--ga:#2065ab;--gb:#3a87bd;--gc:#2065ab;--gd:#3a87bd;--ge:#2267ac;--gf:#3a87bd;--gg:#2267ac;--gh:#3f8ec0;--gi:#3a87bd;--gj:#3681ba;--gk:#1e61a5;--gl:#3783bb;--gm:#1e61a5;--gn:#3783bb;--go:#1e61a5;--gp:#3783bb;--gq:#1f63a8;--gr:#3783bb;--gs:#1f63a8;--gt:#3885bc;--gu:#1f63a8;--gv:#3c8abe;--gw:#3885bc;--gx:#8dc2dc;--gy:#62a7ce;--gz:#81bad8;--h0:#529dc8;--h1:#7bb6d6;--h2:#569fc9;--h3:#84bcd9;--h4:#5ca3cb;--h5:#7eb8d7;--h6:#408fc1;--h7:#569fc9;--h8:#2c75b4;--h9:#3e8cbf;--ha:#195696;--hb:#7eb8d7;--hc:#529dc8;--hd:#75b2d4;--he:#4695c4;--hf:#6bacd1;--hg:#408fc1;--hh:#6bacd1;--hi:#3e8cbf;--hj:#5fa5cd;--hk:#3681ba;--hl:#4c99c6;--hm:#2e77b5;--hn:#4291c2;--ho:#1a5899;--hp:#6bacd1;--hq:#408fc1;--hr:#65a9cf;--hs:#3e8cbf;--ht:#62a7ce;--hu:#3b88be;--hv:#5ca3cb;--hw:#3885bc;--hx:#59a1ca;--hy:#3681ba;--hz:#4f9bc7;--i0:#327cb7;--i1:#4997c5;--i2:#1c5c9f;--i3:#5fa5cd;--i4:#3a87bd;--i5:#5ca3cb;--i6:#3885bc;--i7:#59a1ca;--i8:#3885bc;--i9:#59a1ca;--ia:#3885bc;--ib:#59a1ca;--ic:#3885bc;--id:#59a1ca;--ie:#3783bb;--if:#569fc9;--ig:#2369ad;--ih:#529dc8;--ii:#3480b9;--ij:#529dc8;--ik:#3681ba;--il:#569fc9;--im:#3783bb;--in:#59a1ca;--io:#3885bc;--ip:#59a1ca;--iq:#3a87bd;--ir:#5ca3cb;--is:#3a87bd;--it:#5fa5cd;--iu:#2267ac;--iv:#4393c3;--iw:#2e77b5;--ix:#4997c5;--iy:#307ab6;--iz:#4c99c6;--j0:#327cb7;--j1:#4f9bc7;--j2:#3480b9;--j3:#569fc9;--j4:#3783bb;--j5:#59a1ca;--j6:#3a87bd;--j7:#5ca3cb;--j8:#2065ab;--j9:#3f8ec0;--ja:#2870b1;--jb:#408fc1;--jc:#2b73b3;--jd:#4393c3;--je:#2e77b5;--jf:#4695c4;--jg:#307ab6;--jh:#4c99c6;--ji:#337eb8;--jj:#4f9bc7;--jk:#3681ba;--jl:#569fc9;--jm:#2369ad;--jn:#3a87bd;--jo:#2267ac;--jp:#3b88be;--jq:#246aae;--jr:#3e8cbf;--js:#276eb0;--jt:#3f8ec0;--ju:#2a71b2;--jv:#4291c2;--jw:#2c75b4;--jx:#4695c4;--jy:#2e77b5;--jz:#4997c5;--k0:#1e61a5;--k1:#3783bb;--k2:#1f63a8;--k3:#3a87bd;--k4:#2267ac;--k5:#3b88be;--k6:#2369ad;--k7:#3c8abe;--k8:#266caf;--k9:#3e8cbf;--ka:#276eb0;--kb:#3f8ec0;--kc:#2870b1;--kd:#408fc1;--ke:#1c5c9f;--kf:#3681ba;--kg:#1e61a5;--kh:#3783bb;--ki:#1f63a8;--kj:#3885bc;--kk:#2065ab;--kl:#3a87bd;--km:#2267ac;--kn:#3b88be;--ko:#2369ad;--kp:#3c8abe;--kq:#246aae;--kr:#3c8abe;--ks:#1a5899;--kt:#3480b9;--ku:#1c5c9f;--kv:#3480b9;--kw:#1d5fa2;--kx:#3681ba;--ky:#1d5fa2;--kz:#3783bb;--l0:#1e61a5;--l1:#3783bb;--l2:#1f63a8;--l3:#3885bc;--l4:#1f63a8;--l5:#3885bc;--l6:#195696;--l7:#337eb8;--l8:#1b5a9c;--l9:#3480b9;--la:#1b5a9c;--lb:#337eb8;--lc:#1b5a9c;--ld:#3480b9;--le:#1c5c9f;--lf:#3480b9;--lg:#1c5c9f;--lh:#3480b9;--li:#1c5c9f;--lj:#337eb8;--lk:#1a5899;--ll:#327cb7;--lm:#195696;--ln:#3681ba;--lo:#1c5c9f;--lp:#337eb8;--lq:#1a5899;--lr:#3b88be;--ls:#2065ab;--lt:#3783bb;--lu:#1c5c9f;--lv:#124984;--lw:#4c99c6;--lx:#2c75b4;--ly:#408fc1;--lz:#276eb0;--m0:#3f8ec0;--m1:#2870b1;--m2:#4291c2;--m3:#2b73b3;--m4:#3f8ec0;--m5:#246aae;--m6:#3783bb;--m7:#1b5a9c;--m8:#327cb7;--m9:#134c87;--ma:#65a9cf;--mb:#3a87bd;--mc:#5ca3cb;--md:#3885bc;--me:#5ca3cb;--mf:#408fc1;--mg:#78b4d5;--mh:#569fc9;--mi:#75b2d4;--mj:#3a87bd;--mk:#4393c3;--ml:#2267ac;--mm:#337eb8;--mn:#134c87;--mo:#87beda;--mp:#59a1ca;--mq:#78b4d5;--mr:#4c99c6;--ms:#7eb8d7;--mt:#78b4d5;--mu:#acd2e5;--mv:#a9d1e5;--mw:#b1d5e7;--mx:#71b0d3;--my:#62a7ce;--mz:#2870b1;--n0:#3681ba;--n1:#134c87;--n2:#9bc9e0;--n3:#6eaed2;--n4:#8ac0db;--n5:#62a7ce;--n6:#90c4dd;--n7:#8ac0db;--n8:#c0dceb;--n9:#bddbea;--na:#c5dfec;--nb:#87beda;--nc:#71b0d3;--nd:#2c75b4;--ne:#3783bb;--nf:#134c87;--ng:#a2cde3;--nh:#78b4d5;--ni:#90c4dd;--nj:#65a9cf;--nk:#8dc2dc;--nl:#7bb6d6;--nm:#a9d1e5;--nn:#9bc9e0;--no:#a7d0e4;--np:#68abd0;--nq:#65a9cf;--nr:#2c75b4;--ns:#3783bb;--nt:#144e8a;--nu:#1c5c9f;--nv:#1a5899;--nw:#246aae;--nx:#1d5fa2;--ny:#1c5c9f;--nz:#2c75b4;--o0:#276eb0;--o1:#246aae;--o2:#1c5c9f;--o3:#195696;--o4:#185493;--o5:#185493;--o6:#1a5899;--o7:#195696;--o8:#185493;--o9:#185493;--oa:#1c5c9f;--ob:#1a5899;--oc:#1a5899;--od:#1c5c9f;--oe:#2065ab;--of:#2369ad;--og:#195696;--oh:#175290;--oi:#185493;--oj:#185493;--ok:#175290;--ol:#185493;--om:#1f63a8;--on:#195696;--oo:#185493;--op:#1b5a9c;--oq:#246aae;--or:#15508d;--os:#175290;--ot:#15508d;--ou:#175290;--ov:#15508d;--ow:#15508d;--ox:#195696;--oy:#175290;--oz:#175290;--p0:#15508d;--p1:#175290;--p2:#175290;--p3:#185493;--p4:#185493;--p5:#185493;--p6:#185493;--p7:#175290;--p8:#175290;--p9:#15508d;--pa:#185493;--pb:#175290;--pc:#175290;--pd:#175290;--pe:#195696;--pf:#195696;--pg:#185493;--ph:#185493;--pi:#1a5899;--pj:#185493;--pk:#185493;--pl:#1d5fa2;--pm:#1c5c9f"/>
<g transform="translate(0.00 0.00)"><ellipse cx="27.5" cy="45.5" rx="5" ry="3.6" fill="url(#wh)"/><ellipse cx="29.6" cy="46.2" rx="3.2" ry="2.6" fill="url(#sp)" transform="rotate(25 29.6 46.2)"/><ellipse cx="68.2" cy="49.3" rx="3.8" ry="1.6" fill="url(#sp)" transform="rotate(-22 68.2 49.3)"/></g>
<use href="#A" transform="translate(99.65 -0.30)" style="--a0:#2870b1;--a1:#10457e;--a2:#2a71b2;--a3:#114781;--a4:#2a71b2;--a5:#124984;--a6:#2b73b3;--a7:#134c87;--a8:#2c75b4;--a9:#134c87;--aa:#2c75b4;--ab:#144e8a;--ac:#2f79b5;--ad:#266caf;--ae:#276eb0;--af:#0f437b;--ag:#2870b1;--ah:#10457e;--ai:#2a71b2;--aj:#114781;--ak:#2a71b2;--al:#124984;--am:#2b73b3;--an:#124984;--ao:#2b73b3;--ap:#124984;--aq:#2b73b3;--ar:#266caf;--as:#0e4179;--at:#276eb0;--au:#0f437b;--av:#266caf;--aw:#0f437b;--ax:#276eb0;--ay:#0f437b;--az:#266caf;--b0:#0f437b;--b1:#2870b1;--b2:#266caf;--b3:#266caf;--b4:#0f437b;--b5:#2870b1;--b6:#114781;--b7:#2a71b2;--b8:#124984;--b9:#2b73b3;--ba:#124984;--bb:#2b73b3;--bc:#134c87;--bd:#2f79b5;--be:#185493;--bf:#337eb8;--bg:#2a71b2;--bh:#266caf;--bi:#0f437b;--bj:#2870b1;--bk:#114781;--bl:#2b73b3;--bm:#134c87;--bn:#2c75b4;--bo:#124984;--bp:#2b73b3;--bq:#144e8a;--br:#307ab6;--bs:#1b5a9c;--bt:#3783bb;--bu:#2e77b5;--bv:#266caf;--bw:#0f437b;--bx:#2a71b2;--by:#124984;--bz:#2c75b4;--c0:#15508d;--c1:#2e77b5;--c2:#134c87;--c3:#2b73b3;--c4:#15508d;--c5:#337eb8;--c6:#1e61a5;--c7:#3a87bd;--c8:#2e77b5;--c9:#2870b1;--ca:#114781;--cb:#2b73b3;--cc:#144e8a;--cd:#2f79b5;--ce:#185493;--cf:#2f79b5;--cg:#15508d;--ch:#2e77b5;--ci:#185493;--cj:#3681ba;--ck:#2267ac;--cl:#3e8cbf;--cm:#307ab6;--cn:#2a71b2;--co:#134c87;--cp:#2e77b5;--cq:#175290;--cr:#307ab6;--cs:#1a5899;--ct:#327cb7;--cu:#1a5899;--cv:#337eb8;--cw:#1c5c9f;--cx:#3a87bd;--cy:#246aae;--cz:#3f8ec0;--d0:#327cb7;--d1:#2b73b3;--d2:#144e8a;--d3:#2f79b5;--d4:#195696;--d5:#337eb8;--d6:#1c5c9f;--d7:#3681ba;--d8:#1d5fa2;--d9:#3783bb;--da:#2065ab;--db:#3c8abe;--dc:#276eb0;--dd:#4291c2;--de:#327cb7;--df:#2c75b4;--dg:#175290;--dh:#307ab6;--di:#1a5899;--dj:#3480b9;--dk:#1d5fa2;--dl:#3783bb;--dm:#1f63a8;--dn:#3a87bd;--do:#246aae;--dp:#3e8cbf;--dq:#2870b1;--dr:#4291c2;--ds:#327cb7;--dt:#2f79b5;--du:#185493;--dv:#327cb7;--dw:#1b5a9c;--dx:#3681ba;--dy:#1e61a5;--dz:#3885bc;--e0:#2267ac;--e1:#3b88be;--e2:#246aae;--e3:#3f8ec0;--e4:#2a71b2;--e5:#4291c2;--e6:#327cb7;--e7:#2f79b5;--e8:#185493;--e9:#327cb7;--ea:#1b5a9c;--eb:#3480b9;--ec:#1d5fa2;--ed:#3783bb;--ee:#2065ab;--ef:#3a87bd;--eg:#246aae;--eh:#3e8cbf;--ei:#276eb0;--ej:#408fc1;--ek:#327cb7;--el:#2f79b5;--em:#185493;--en:#327cb7;--eo:#1a5899;--ep:#3480b9;--eq:#1d5fa2;--er:#3783bb;--es:#1f63a8;--et:#3a87bd;--eu:#2267ac;--ev:#3c8abe;--ew:#266caf;--ex:#3f8ec0;--ey:#307ab6;--ez:#2f79b5;--f0:#175290;--f1:#307ab6;--f2:#195696;--f3:#337eb8;--f4:#1b5a9c;--f5:#3480b9;--f6:#1d5fa2;--f7:#3783bb;--f8:#1f63a8;--f9:#3885bc;--fa:#2267ac;--fb:#3c8abe;--fc:#2f79b5;--fd:#2e77b5;--fe:#15508d;--ff:#2f79b5;--fg:#185493;--fh:#307ab6;--fi:#1a5899;--fj:#337eb8;--fk:#1b5a9c;--fl:#3480b9;--fm:#1d5fa2;--fn:#3783bb;--fo:#1f63a8;--fp:#3a87bd;--fq:#2e77b5;--fr:#2b73b3;--fs:#134c87;--ft:#2c75b4;--fu:#15508d;--fv:#2f79b5;--fw:#175290;--fx:#307ab6;--fy:#195696;--fz:#327cb7;--g0:#1a5899;--g1:#337eb8;--g2:#1c5c9f;--g3:#3681ba;--g4:#2c75b4;--g5:#2a71b2;--g6:#124984;--g7:#2b73b3;--g8:#134c87;--g9:#2c75b4;--ga:#144e8a;--gb:#2e77b5;--gc:#15508d;--gd:#2f79b5;--ge:#175290;--gf:#307ab6;--gg:#195696;--gh:#337eb8;--gi:#2c75b4;--gj:#2870b1;--gk:#114781;--gl:#2a71b2;--gm:#124984;--gn:#2b73b3;--go:#134c87;--gp:#2c75b4;--gq:#144e8a;--gr:#2e77b5;--gs:#15508d;--gt:#2e77b5;--gu:#175290;--gv:#307ab6;--gw:#2a71b2;--gx:#3681ba;--gy:#1d5fa2;--gz:#3681ba;--h0:#1d5fa2;--h1:#3681ba;--h2:#1d5fa2;--h3:#3480b9;--h4:#1c5c9f;--h5:#3480b9;--h6:#1c5c9f;--h7:#3480b9;--h8:#1b5a9c;--h9:#3480b9;--ha:#1b5a9c;--hb:#3681ba;--hc:#1d5fa2;--hd:#3681ba;--he:#1d5fa2;--hf:#3681ba;--hg:#1d5fa2;--hh:#3681ba;--hi:#1d5fa2;--hj:#3681ba;--hk:#1d5fa2;--hl:#3480b9;--hm:#1c5c9f;--hn:#3480b9;--ho:#1c5c9f;--hp:#3681ba;--hq:#1d5fa2;--hr:#3681ba;--hs:#1d5fa2;--ht:#3681ba;--hu:#1d5fa2;--hv:#3681ba;--hw:#1e61a5;--hx:#3681ba;--hy:#1e61a5;--hz:#3681ba;--i0:#1e61a5;--i1:#3681ba;--i2:#1e61a5;--i3:#3480b9;--i4:#1c5c9f;--i5:#3681ba;--i6:#1d5fa2;--i7:#3681ba;--i8:#1d5fa2;--i9:#3681ba;--ia:#1e61a5;--ib:#3783bb;--ic:#1e61a5;--id:#3783bb;--ie:#1f63a8;--if:#3783bb;--ig:#1f63a8;--ih:#337eb8;--ii:#1b5a9c;--ij:#3480b9;--ik:#1c5c9f;--il:#3480b9;--im:#1d5fa2;--in:#3681ba;--io:#1e61a5;--ip:#3783bb;--iq:#1e61a5;--ir:#3783bb;--is:#1f63a8;--it:#3885bc;--iu:#2065ab;--iv:#327cb7;--iw:#1a5899;--ix:#337eb8;--iy:#1b5a9c;--iz:#3480b9;--j0:#1c5c9f;--j1:#3480b9;--j2:#1d5fa2;--j3:#3681ba;--j4:#1e61a5;--j5:#3783bb;--j6:#1f63a8;--j7:#3885bc;--j8:#2065ab;--j9:#2f79b5;--ja:#175290;--jb:#307ab6;--jc:#195696;--jd:#327cb7;--je:#195696;--jf:#337eb8;--jg:#1b5a9c;--jh:#3480b9;--ji:#1c5c9f;--jj:#3480b9;--jk:#1d5fa2;--jl:#3681ba;--jm:#1e61a5;--jn:#2b73b3;--jo:#134c87;--jp:#2c75b4;--jq:#144e8a;--jr:#2e77b5;--js:#15508d;--jt:#2f79b5;--ju:#175290;--jv:#307ab6;--jw:#185493;--jx:#327cb7;--jy:#195696;--jz:#337eb8;--k0:#1b5a9c;--k1:#2a71b2;--k2:#114781;--k3:#2b73b3;--k4:#124984;--k5:#2b73b3;--k6:#134c87;--k7:#2c75b4;--k8:#144e8a;--k9:#2e77b5;--ka:#15508d;--kb:#2e77b5;--kc:#175290;--kd:#2f79b5;--ke:#175290;--kf:#2870b1;--kg:#10457e;--kh:#2870b1;--ki:#114781;--kj:#2a71b2;--kk:#114781;--kl:#2a71b2;--km:#124984;--kn:#2b73b3;--ko:#134c87;--kp:#2c75b4;--kq:#134c87;--kr:#2c75b4;--ks:#144e8a;--kt:#266caf;--ku:#0e4179;--kv:#276eb0;--kw:#0f437b;--kx:#276eb0;--ky:#10457e;--kz:#2870b1;--l0:#10457e;--l1:#2a71b2;--l2:#114781;--l3:#2a71b2;--l4:#124984;--l5:#2b73b3;--l6:#124984;--l7:#266caf;--l8:#0e4179;--l9:#276eb0;--la:#0e4179;--lb:#276eb0;--lc:#0f437b;--ld:#2870b1;--le:#10457e;--lf:#2870b1;--lg:#10457e;--lh:#2a71b2;--li:#114781;--lj:#266caf;--lk:#0e4179;--ll:#276eb0;--lm:#0f437b;--ln:#266caf;--lo:#0e4179;--lp:#276eb0;--lq:#0f437b;--lr:#276eb0;--ls:#0e4179;--lt:#276eb0;--lu:#0f437b;--lv:#10457e;--lw:#2a71b2;--lx:#114781;--ly:#2a71b2;--lz:#114781;--m0:#2a71b2;--m1:#114781;--m2:#2a71b2;--m3:#124984;--m4:#2a71b2;--m5:#124984;--m6:#2a71b2;--m7:#124984;--m8:#2a71b2;--m9:#124984;--ma:#2c75b4;--mb:#144e8a;--mc:#2c75b4;--md:#144e8a;--me:#2c75b4;--mf:#144e8a;--mg:#2c75b4;--mh:#144e8a;--mi:#2c75b4;--mj:#134c87;--mk:#2c75b4;--ml:#134c87;--mm:#2c75b4;--mn:#134c87;--mo:#307ab6;--mp:#185493;--mq:#307ab6;--mr:#185493;--ms:#307ab6;--mt:#175290;--mu:#2f79b5;--mv:#175290;--mw:#2f79b5;--mx:#175290;--my:#2f79b5;--mz:#15508d;--n0:#2e77b5;--n1:#15508d;--n2:#3480b9;--n3:#1b5a9c;--n4:#337eb8;--n5:#1b5a9c;--n6:#337eb8;--n7:#1b5a9c;--n8:#337eb8;--n9:#1a5899;--na:#337eb8;--nb:#1a5899;--nc:#327cb7;--nd:#1a5899;--ne:#327cb7;--nf:#195696;--ng:#3681ba;--nh:#1d5fa2;--ni:#3681ba;--nj:#1d5fa2;--nk:#3681ba;--nl:#1d5fa2;--nm:#3480b9;--nn:#1c5c9f;--no:#3480b9;--np:#1c5c9f;--nq:#3480b9;--nr:#1b5a9c;--ns:#3480b9;--nt:#1b5a9c;--nu:#0f437b;--nv:#10457e;--nw:#10457e;--nx:#10457e;--ny:#10457e;--nz:#10457e;--o0:#114781;--o1:#114781;--o2:#144e8a;--o3:#10457e;--o4:#10457e;--o5:#114781;--o6:#0f437b;--o7:#10457e;--o8:#10457e;--o9:#10457e;--oa:#0f437b;--ob:#10457e;--oc:#10457e;--od:#114781;--oe:#124984;--of:#134c87;--og:#124984;--oh:#10457e;--oi:#114781;--oj:#10457e;--ok:#10457e;--ol:#114781;--om:#0f437b;--on:#10457e;--oo:#10457e;--op:#124984;--oq:#15508d;--or:#10457e;--os:#10457e;--ot:#10457e;--ou:#10457e;--ov:#10457e;--ow:#10457e;--ox:#0f437b;--oy:#0f437b;--oz:#10457e;--p0:#10457e;--p1:#10457e;--p2:#10457e;--p3:#0f437b;--p4:#10457e;--p5:#10457e;--p6:#0f437b;--p7:#0f437b;--p8:#10457e;--p9:#10457e;--pa:#0f437b;--pb:#10457e;--pc:#10457e;--pd:#10457e;--pe:#10457e;--pf:#10457e;--pg:#0f437b;--ph:#0f437b;--pi:#0f437b;--pj:#0f437b;--pk:#10457e;--pl:#10457e;--pm:#10457e"/>
<use href="#A" transform="translate(198.30 -0.30)" style="--a0:#2b73b3;--a1:#134c87;--a2:#2c75b4;--a3:#144e8a;--a4:#2e77b5;--a5:#15508d;--a6:#2f79b5;--a7:#175290;--a8:#307ab6;--a9:#185493;--aa:#327cb7;--ab:#195696;--ac:#337eb8;--ad:#276eb0;--ae:#2b73b3;--af:#134c87;--ag:#2c75b4;--ah:#144e8a;--ai:#2e77b5;--aj:#15508d;--ak:#2e77b5;--al:#15508d;--am:#2f79b5;--an:#175290;--ao:#2f79b5;--ap:#175290;--aq:#2f79b5;--ar:#2b73b3;--as:#134c87;--at:#2c75b4;--au:#134c87;--av:#2b73b3;--aw:#134c87;--ax:#2c75b4;--ay:#134c87;--az:#2b73b3;--b0:#134c87;--b1:#2c75b4;--b2:#246aae;--b3:#2b73b3;--b4:#144e8a;--b5:#2e77b5;--b6:#15508d;--b7:#2f79b5;--b8:#175290;--b9:#307ab6;--ba:#185493;--bb:#327cb7;--bc:#1a5899;--bd:#337eb8;--be:#1c5c9f;--bf:#3681ba;--bg:#2870b1;--bh:#2c75b4;--bi:#15508d;--bj:#2f79b5;--bk:#175290;--bl:#307ab6;--bm:#195696;--bn:#337eb8;--bo:#1b5a9c;--bp:#3480b9;--bq:#1d5fa2;--br:#3783bb;--bs:#1f63a8;--bt:#3a87bd;--bu:#2c75b4;--bv:#2f79b5;--bw:#175290;--bx:#307ab6;--by:#195696;--bz:#337eb8;--c0:#1b5a9c;--c1:#3480b9;--c2:#1d5fa2;--c3:#3681ba;--c4:#1e61a5;--c5:#3885bc;--c6:#2065ab;--c7:#3b88be;--c8:#2c75b4;--c9:#307ab6;--ca:#195696;--cb:#327cb7;--cc:#1b5a9c;--cd:#3480b9;--ce:#1c5c9f;--cf:#3681ba;--cg:#1e61a5;--ch:#3885bc;--ci:#2065ab;--cj:#3a87bd;--ck:#2369ad;--cl:#3c8abe;--cm:#2e77b5;--cn:#327cb7;--co:#1a5899;--cp:#337eb8;--cq:#1c5c9f;--cr:#3681ba;--cs:#1e61a5;--ct:#3783bb;--cu:#2065ab;--cv:#3a87bd;--cw:#2267ac;--cx:#3b88be;--cy:#246aae;--cz:#3e8cbf;--d0:#2e77b5;--d1:#337eb8;--d2:#1c5c9f;--d3:#3681ba;--d4:#1e61a5;--d5:#3783bb;--d6:#2065ab;--d7:#3a87bd;--d8:#2267ac;--d9:#3b88be;--da:#246aae;--db:#3e8cbf;--dc:#276eb0;--dd:#408fc1;--de:#2f79b5;--df:#3480b9;--dg:#1c5c9f;--dh:#3681ba;--di:#1e61a5;--dj:#3885bc;--dk:#2065ab;--dl:#3a87bd;--dm:#2369ad;--dn:#3c8abe;--do:#266caf;--dp:#3e8cbf;--dq:#2870b1;--dr:#408fc1;--ds:#2f79b5;--dt:#3480b9;--du:#1c5c9f;--dv:#3681ba;--dw:#1e61a5;--dx:#3885bc;--dy:#2065ab;--dz:#3a87bd;--e0:#2369ad;--e1:#3c8abe;--e2:#266caf;--e3:#3e8cbf;--e4:#276eb0;--e5:#408fc1;--e6:#2f79b5;--e7:#3480b9;--e8:#1c5c9f;--e9:#3681ba;--ea:#1e61a5;--eb:#3783bb;--ec:#1f63a8;--ed:#3a87bd;--ee:#2267ac;--ef:#3b88be;--eg:#2369ad;--eh:#3c8abe;--ei:#266caf;--ej:#3f8ec0;--ek:#2e77b5;--el:#3480b9;--em:#1c5c9f;--en:#3681ba;--eo:#1d5fa2;--ep:#3783bb;--eq:#1f63a8;--er:#3885bc;--es:#2065ab;--et:#3a87bd;--eu:#2369ad;--ev:#3b88be;--ew:#246aae;--ex:#3e8cbf;--ey:#2e77b5;--ez:#3480b9;--f0:#1c5c9f;--f1:#3681ba;--f2:#1d5fa2;--f3:#3681ba;--f4:#1e61a5;--f5:#3783bb;--f6:#1f63a8;--f7:#3885bc;--f8:#2065ab;--f9:#3a87bd;--fa:#2369ad;--fb:#3c8abe;--fc:#2e77b5;--fd:#337eb8;--fe:#1b5a9c;--ff:#3480b9;--fg:#1c5c9f;--fh:#3480b9;--fi:#1d5fa2;--fj:#3783bb;--fk:#1e61a5;--fl:#3885bc;--fm:#1f63a8;--fn:#3885bc;--fo:#2065ab;--fp:#3b88be;--fq:#2c75b4;--fr:#307ab6;--fs:#195696;--ft:#327cb7;--fu:#1a5899;--fv:#337eb8;--fw:#1b5a9c;--fx:#3480b9;--fy:#1c5c9f;--fz:#3681ba;--g0:#1d5fa2;--g1:#3783bb;--g2:#1f63a8;--g3:#3885bc;--g4:#2b73b3;--g5:#2e77b5;--g6:#15508d;--g7:#2f79b5;--g8:#175290;--g9:#307ab6;--ga:#185493;--gb:#327cb7;--gc:#195696;--gd:#327cb7;--ge:#1a5899;--gf:#337eb8;--gg:#1c5c9f;--gh:#3681ba;--gi:#2b73b3;--gj:#2b73b3;--gk:#134c87;--gl:#2c75b4;--gm:#144e8a;--gn:#2e77b5;--go:#15508d;--gp:#2f79b5;--gq:#175290;--gr:#307ab6;--gs:#195696;--gt:#327cb7;--gu:#1a5899;--gv:#3480b9;--gw:#2870b1;--gx:#3885bc;--gy:#2065ab;--gz:#3885bc;--h0:#1f63a8;--h1:#3885bc;--h2:#1f63a8;--h3:#3885bc;--h4:#1f63a8;--h5:#3783bb;--h6:#1e61a5;--h7:#3783bb;--h8:#1e61a5;--h9:#3783bb;--ha:#1e61a5;--hb:#3885bc;--hc:#2065ab;--hd:#3885bc;--he:#2065ab;--hf:#3885bc;--hg:#2065ab;--hh:#3885bc;--hi:#1f63a8;--hj:#3885bc;--hk:#1f63a8;--hl:#3783bb;--hm:#1f63a8;--hn:#3783bb;--ho:#1e61a5;--hp:#3885bc;--hq:#2065ab;--hr:#3a87bd;--hs:#2065ab;--ht:#3885bc;--hu:#2065ab;--hv:#3885bc;--hw:#2065ab;--hx:#3885bc;--hy:#2065ab;--hz:#3885bc;--i0:#2065ab;--i1:#3a87bd;--i2:#2065ab;--i3:#3783bb;--i4:#1f63a8;--i5:#3885bc;--i6:#1f63a8;--i7:#3885bc;--i8:#2065ab;--i9:#3885bc;--ia:#2065ab;--ib:#3a87bd;--ic:#2267ac;--id:#3a87bd;--ie:#2267ac;--if:#3b88be;--ig:#2369ad;--ih:#3681ba;--ii:#1e61a5;--ij:#3783bb;--ik:#1e61a5;--il:#3885bc;--im:#1f63a8;--in:#3885bc;--io:#2065ab;--ip:#3a87bd;--iq:#2267ac;--ir:#3a87bd;--is:#2369ad;--it:#3b88be;--iu:#2369ad;--iv:#3480b9;--iw:#1c5c9f;--ix:#3681ba;--iy:#1d5fa2;--iz:#3783bb;--j0:#1e61a5;--j1:#3783bb;--j2:#1f63a8;--j3:#3885bc;--j4:#2065ab;--j5:#3a87bd;--j6:#2267ac;--j7:#3b88be;--j8:#2369ad;--j9:#337eb8;--ja:#1b5a9c;--jb:#3480b9;--jc:#1c5c9f;--jd:#3681ba;--je:#1d5fa2;--jf:#3783bb;--jg:#1e61a5;--jh:#3783bb;--ji:#1f63a8;--jj:#3885bc;--jk:#2065ab;--jl:#3a87bd;--jm:#2267ac;--jn:#307ab6;--jo:#195696;--jp:#327cb7;--jq:#1a5899;--jr:#337eb8;--js:#1b5a9c;--jt:#3480b9;--ju:#1c5c9f;--jv:#3681ba;--jw:#1d5fa2;--jx:#3783bb;--jy:#1f63a8;--jz:#3885bc;--k0:#2065ab;--k1:#2f79b5;--k2:#175290;--k3:#307ab6;--k4:#185493;--k5:#307ab6;--k6:#195696;--k7:#327cb7;--k8:#1a5899;--k9:#337eb8;--ka:#1b5a9c;--kb:#3480b9;--kc:#1c5c9f;--kd:#3480b9;--ke:#1d5fa2;--kf:#2e77b5;--kg:#15508d;--kh:#2f79b5;--ki:#175290;--kj:#2f79b5;--kk:#175290;--kl:#307ab6;--km:#185493;--kn:#307ab6;--ko:#195696;--kp:#327cb7;--kq:#1a5899;--kr:#337eb8;--ks:#1a5899;--kt:#2b73b3;--ku:#134c87;--kv:#2c75b4;--kw:#144e8a;--kx:#2e77b5;--ky:#15508d;--kz:#2e77b5;--l0:#15508d;--l1:#2f79b5;--l2:#175290;--l3:#2f79b5;--l4:#185493;--l5:#307ab6;--l6:#185493;--l7:#2a71b2;--l8:#124984;--l9:#2b73b3;--la:#134c87;--lb:#2c75b4;--lc:#134c87;--ld:#2c75b4;--le:#144e8a;--lf:#2e77b5;--lg:#15508d;--lh:#2e77b5;--li:#15508d;--lj:#2870b1;--lk:#114781;--ll:#2a71b2;--lm:#124984;--ln:#2870b1;--lo:#114781;--lp:#2a71b2;--lq:#114781;--lr:#2a71b2;--ls:#114781;--lt:#2a71b2;--lu:#124984;--lv:#134c87;--lw:#2e77b5;--lx:#144e8a;--ly:#2c75b4;--lz:#144e8a;--m0:#2e77b5;--m1:#144e8a;--m2:#2e77b5;--m3:#144e8a;--m4:#2e77b5;--m5:#144e8a;--m6:#2e77b5;--m7:#144e8a;--m8:#2c75b4;--m9:#144e8a;--ma:#307ab6;--mb:#175290;--mc:#307ab6;--md:#175290;--me:#2f79b5;--mf:#175290;--mg:#2f79b5;--mh:#175290;--mi:#2f79b5;--mj:#175290;--mk:#2f79b5;--ml:#175290;--mm:#2f79b5;--mn:#175290;--mo:#337eb8;--mp:#1b5a9c;--mq:#337eb8;--mr:#1a5899;--ms:#337eb8;--mt:#1a5899;--mu:#327cb7;--mv:#1a5899;--mw:#327cb7;--mx:#195696;--my:#327cb7;--mz:#195696;--n0:#327cb7;--n1:#195696;--n2:#3783bb;--n3:#1e61a5;--n4:#3681ba;--n5:#1e61a5;--n6:#3681ba;--n7:#1d5fa2;--n8:#3681ba;--n9:#1d5fa2;--na:#3681ba;--nb:#1c5c9f;--nc:#3480b9;--nd:#1c5c9f;--ne:#3480b9;--nf:#1c5c9f;--ng:#3885bc;--nh:#2065ab;--ni:#3885bc;--nj:#1f63a8;--nk:#3885bc;--nl:#1f63a8;--nm:#3885bc;--nn:#1f63a8;--no:#3783bb;--np:#1e61a5;--nq:#3783bb;--nr:#1e61a5;--ns:#3783bb;--nt:#1e61a5;--nu:#134c87;--nv:#134c87;--nw:#134c87;--nx:#134c87;--ny:#144e8a;--nz:#144e8a;--o0:#144e8a;--o1:#15508d;--o2:#175290;--o3:#144e8a;--o4:#134c87;--o5:#144e8a;--o6:#134c87;--o7:#134c87;--o8:#134c87;--o9:#134c87;--oa:#134c87;--ob:#134c87;--oc:#134c87;--od:#144e8a;--oe:#15508d;--of:#185493;--og:#15508d;--oh:#134c87;--oi:#134c87;--oj:#134c87;--ok:#134c87;--ol:#134c87;--om:#134c87;--on:#134c87;--oo:#134c87;--op:#15508d;--oq:#195696;--or:#134c87;--os:#124984;--ot:#134c87;--ou:#124984;--ov:#124984;--ow:#124984;--ox:#124984;--oy:#124984;--oz:#124984;--p0:#124984;--p1:#134c87;--p2:#144e8a;--p3:#134c87;--p4:#134c87;--p5:#134c87;--p6:#124984;--p7:#124984;--p8:#124984;--p9:#124984;--pa:#124984;--pb:#124984;--pc:#124984;--pd:#124984;--pe:#134c87;--pf:#134c87;--pg:#124984;--ph:#124984;--pi:#124984;--pj:#124984;--pk:#124984;--pl:#134c87;--pm:#134c87"/>
<use href="#A" transform="translate(1.00 99.80)" style="--a0:#fbe6da;--a1:#fce2d2;--a2:#fbe6da;--a3:#fce2d2;--a4:#fbe6da;--a5:#fbe3d4;--a6:#fbe6da;--a7:#fce2d2;--a8:#fbe6da;--a9:#fce2d2;--aa:#fbe5d8;--ab:#fbe3d4;--ac:#fae7dc;--ad:#fcdecd;--ae:#ecf2f5;--af:#e9f0f4;--ag:#e7f0f4;--ah:#d8e9f1;--ai:#deebf2;--aj:#dae9f2;--ak:#ddebf2;--al:#d7e8f1;--am:#e0ecf3;--an:#d5e7f1;--ao:#ddebf2;--ap:#d4e6f1;--aq:#ddebf2;--ar:#c2ddec;--as:#a7d0e4;--at:#acd2e5;--au:#7eb8d7;--av:#d2e6f0;--aw:#acd2e5;--ax:#acd2e5;--ay:#7bb6d6;--az:#e1edf3;--b0:#c5dfec;--b1:#bddbea;--b2:#edf2f5;--b3:#f2f5f6;--b4:#ecf2f5;--b5:#e3edf3;--b6:#dae9f2;--b7:#dbeaf2;--b8:#d4e6f1;--b9:#deebf2;--ba:#d1e5f0;--bb:#e1edf3;--bc:#deebf2;--bd:#e9f0f4;--be:#f3f5f6;--bf:#f8f4f2;--bg:#fbe3d4;--bh:#f9f0eb;--bi:#f9f0eb;--bj:#f7f5f4;--bk:#e4eef4;--bl:#e4eef4;--bm:#e0ecf3;--bn:#e7f0f4;--bo:#f5f6f7;--bp:#fae9df;--bq:#fddbc7;--br:#fcdfcf;--bs:#fcd3bc;--bt:#fcd7c2;--bu:#f9c6ac;--bv:#fae8de;--bw:#f9eee7;--bx:#e7f0f4;--by:#59a1ca;--bz:#4f9bc7;--c0:#2b73b3;--c1:#62a7ce;--c2:#a2cde3;--c3:#f9ebe3;--c4:#f9c2a7;--c5:#facab1;--c6:#f7b799;--c7:#f9c6ac;--c8:#f8bfa4;--c9:#fcdecd;--ca:#f9ebe3;--cb:#f0f4f6;--cc:#4291c2;--cd:#2f79b5;--ce:#134c87;--cf:#337eb8;--cg:#78b4d5;--ch:#fae7dc;--ci:#f2a17f;--cj:#f7b596;--ck:#f2a17f;--cl:#f7b99c;--cm:#f8bb9e;--cn:#f9c6ac;--co:#fce2d2;--cp:#fae9df;--cq:#3f8ec0;--cr:#307ab6;--cs:#185493;--ct:#3885bc;--cu:#81bad8;--cv:#fcdecd;--cw:#e8896c;--cx:#f4a683;--cy:#eb9172;--cz:#f6b394;--d0:#f7b99c;--d1:#f2a17f;--d2:#f7b596;--d3:#facab1;--d4:#dbeaf2;--d5:#c0dceb;--d6:#9dcbe1;--d7:#c0dceb;--d8:#ecf2f5;--d9:#f9c2a7;--da:#e37e64;--db:#f2a17f;--dc:#e98b6e;--dd:#f6b191;--de:#f7b99c;--df:#d55d4c;--dg:#c53e3d;--dh:#dc6e57;--di:#d7634f;--dj:#f2a17f;--dk:#e6866a;--dl:#f5a886;--dm:#e6866a;--dn:#ef9979;--do:#e17860;--dp:#f2a17f;--dq:#e98b6e;--dr:#f6b191;--ds:#f7b799;--dt:#ce4f45;--du:#ba2832;--dv:#d6604d;--dw:#c43b3c;--dx:#dd7059;--dy:#ce4f45;--dz:#e48066;--e0:#d86551;--e1:#eb9172;--e2:#e17860;--e3:#f2a17f;--e4:#e98b6e;--e5:#f6b191;--e6:#f7b99c;--e7:#ce4f45;--e8:#ba2832;--e9:#d6604d;--ea:#c43b3c;--eb:#dd7059;--ec:#ce4f45;--ed:#e48066;--ee:#d86551;--ef:#eb9172;--eg:#e17860;--eh:#f2a17f;--ei:#e98b6e;--ej:#f6b191;--ek:#f7b799;--el:#ce4f45;--em:#ba2832;--en:#d6604d;--eo:#c43b3c;--ep:#dd7059;--eq:#ce4f45;--er:#e48066;--es:#d86551;--et:#eb9172;--eu:#e17860;--ev:#f2a17f;--ew:#e98b6e;--ex:#f6b191;--ey:#f7b99c;--ez:#ce4f45;--f0:#ba2832;--f1:#d6604d;--f2:#c43b3c;--f3:#dd7059;--f4:#ce4f45;--f5:#e48066;--f6:#d86551;--f7:#eb9172;--f8:#e17860;--f9:#f2a17f;--fa:#e98b6e;--fb:#f6b191;--fc:#f7b99c;--fd:#cf5246;--fe:#bb2a34;--ff:#d86551;--fg:#c53e3d;--fh:#df765e;--fi:#d05548;--fj:#e6866a;--fk:#db6b55;--fl:#ee9677;--fm:#e37e64;--fn:#f4a683;--fo:#eb9172;--fp:#f6b394;--fq:#f7b99c;--fr:#d55d4c;--fs:#c2383a;--ft:#dc6e57;--fu:#cc4c44;--fv:#e37e64;--fw:#d6604d;--fx:#ea8e70;--fy:#de735c;--fz:#f09c7b;--g0:#e8896c;--g1:#f5ac8b;--g2:#ef9979;--g3:#f7b99c;--g4:#f8bb9e;--g5:#e8896c;--g6:#db6b55;--g7:#ec9374;--g8:#e27b62;--g9:#f2a17f;--ga:#e6866a;--gb:#f5a886;--gc:#ec9374;--gd:#f6b191;--ge:#f3a481;--gf:#f7b99c;--gg:#f5ac8b;--gh:#f9c4a9;--gi:#f8bfa4;--gj:#f6b191;--gk:#f19e7d;--gl:#f7b799;--gm:#f4a683;--gn:#f8bb9e;--go:#f5ac8b;--gp:#f9c2a7;--gq:#f6b191;--gr:#f9c6ac;--gs:#f7b799;--gt:#fac8af;--gu:#f8bda1;--gv:#fbceb7;--gw:#f9c4a9;--gx:#f6f7f7;--gy:#b1d5e7;--gz:#71b0d3;--h0:#3b88be;--h1:#569fc9;--h2:#3b88be;--h3:#59a1ca;--h4:#7bb6d6;--h5:#dbeaf2;--h6:#fddcc9;--h7:#f9c6ac;--h8:#f5aa89;--h9:#f7b799;--ha:#f19e7d;--hb:#fbceb7;--hc:#fbe5d8;--hd:#f8f1ed;--he:#f8f3f0;--hf:#f7f6f6;--hg:#f9eee7;--hh:#eff3f5;--hi:#fae8de;--hj:#fce0d0;--hk:#f5aa89;--hl:#f7b596;--hm:#ef9979;--hn:#f6af8e;--ho:#ec9374;--hp:#e8896c;--hq:#dc6e57;--hr:#eb9172;--hs:#de735c;--ht:#f09c7b;--hu:#e17860;--hv:#f2a17f;--hw:#e37e64;--hx:#f19e7d;--hy:#e37e64;--hz:#f2a17f;--i0:#e58368;--i1:#f3a481;--i2:#e8896c;--i3:#dc6e57;--i4:#c84440;--i5:#de735c;--i6:#cc4c44;--i7:#e27b62;--i8:#d35a4a;--i9:#e58368;--ia:#d86551;--ib:#ea8e70;--ic:#dd7059;--id:#ee9677;--ie:#e27b62;--if:#f2a17f;--ig:#e6866a;--ih:#d25849;--ii:#bd2d35;--ij:#d86551;--ik:#c53e3d;--il:#dd7059;--im:#cc4c44;--in:#e27b62;--io:#d55d4c;--ip:#e8896c;--iq:#db6b55;--ir:#ec9374;--is:#e17860;--it:#f2a17f;--iu:#e8896c;--iv:#ce4f45;--iw:#ba2832;--ix:#d6604d;--iy:#c2383a;--iz:#dc6e57;--j0:#cc4c44;--j1:#e27b62;--j2:#d55d4c;--j3:#e8896c;--j4:#dc6e57;--j5:#ef9979;--j6:#e48066;--j7:#f4a683;--j8:#eb9172;--j9:#ce4f45;--ja:#b82531;--jb:#d6604d;--jc:#c2383a;--jd:#dc6e57;--je:#cc4c44;--jf:#e37e64;--jg:#d6604d;--jh:#ea8e70;--ji:#de735c;--jj:#f09c7b;--jk:#e58368;--jl:#f5aa89;--jm:#ef9979;--jn:#ce4f45;--jo:#ba2832;--jp:#d7634f;--jq:#c43b3c;--jr:#dd7059;--js:#cf5246;--jt:#e58368;--ju:#d86551;--jv:#eb9172;--jw:#e17860;--jx:#f2a17f;--jy:#e98b6e;--jz:#f6af8e;--k0:#f2a17f;--k1:#d7634f;--k2:#c53e3d;--k3:#dd7059;--k4:#ce4f45;--k5:#e48066;--k6:#d7634f;--k7:#eb9172;--k8:#df765e;--k9:#f19e7d;--ka:#e8896c;--kb:#f5aa89;--kc:#ef9979;--kd:#f7b596;--ke:#f5a886;--kf:#e6866a;--kg:#da6853;--kh:#ec9374;--ki:#e27b62;--kj:#f4a683;--kk:#ea8e70;--kl:#f6b191;--km:#f09c7b;--kn:#f7b799;--ko:#f5a886;--kp:#f8bb9e;--kq:#f6af8e;--kr:#f9c2a7;--ks:#f7b799;--kt:#fddcc9;--ku:#fdd9c4;--kv:#fce0d0;--kw:#fcdfcf;--kx:#fae7dc;--ky:#fae7dc;--kz:#faeae1;--l0:#fae8de;--l1:#f9ebe3;--l2:#fae9df;--l3:#faeae1;--l4:#fbe6da;--l5:#f9ebe3;--l6:#fbe5d8;--l7:#eff3f5;--l8:#e6eff4;--l9:#e3edf3;--la:#cce2ef;--lb:#cfe4ef;--lc:#c0dceb;--ld:#d1e5f0;--le:#c7e0ed;--lf:#d1e5f0;--lg:#cce2ef;--lh:#d4e6f1;--li:#cce2ef;--lj:#b8d8e9;--lk:#98c8e0;--ll:#9dcbe1;--lm:#68abd0;--ln:#a7d0e4;--lo:#81bad8;--lp:#8ac0db;--lq:#4f9bc7;--lr:#a5cee3;--ls:#84bcd9;--lt:#90c4dd;--lu:#59a1ca;--lv:#a9d1e5;--lw:#b8d8e9;--lx:#a0cce2;--ly:#acd2e5;--lz:#87beda;--m0:#a0cce2;--m1:#7bb6d6;--m2:#9dcbe1;--m3:#84bcd9;--m4:#a9d1e5;--m5:#a5cee3;--m6:#c2ddec;--m7:#c5dfec;--m8:#d5e7f1;--m9:#ddebf2;--ma:#c2ddec;--mb:#96c7df;--mc:#90c4dd;--md:#65a9cf;--me:#8ac0db;--mf:#68abd0;--mg:#93c6de;--mh:#8dc2dc;--mi:#c7e0ed;--mj:#ddebf2;--mk:#eff3f5;--ml:#f5f6f7;--mm:#f7f5f4;--mn:#f9eee7;--mo:#d1e5f0;--mp:#6bacd1;--mq:#4997c5;--mr:#2369ad;--ms:#3a87bd;--mt:#1e61a5;--mu:#3c8abe;--mv:#3c8abe;--mw:#b8d8e9;--mx:#f0f4f6;--my:#fae9df;--mz:#fce0d0;--n0:#fce0d0;--n1:#fcd5bf;--n2:#d7e8f1;--n3:#6bacd1;--n4:#3e8cbf;--n5:#15508d;--n6:#2b73b3;--n7:#134c87;--n8:#307ab6;--n9:#337eb8;--na:#b6d7e8;--nb:#f8f3f0;--nc:#fce0d0;--nd:#fbccb4;--ne:#fcd3bc;--nf:#f8bfa4;--ng:#e0ecf3;--nh:#75b2d4;--ni:#408fc1;--nj:#185493;--nk:#2c75b4;--nl:#144e8a;--nm:#327cb7;--nn:#337eb8;--no:#bddbea;--np:#f9ebe3;--nq:#fcd7c2;--nr:#f8bda1;--ns:#f9c6ac;--nt:#f6af8e;--nu:#65a9cf;--nv:#4291c2;--nw:#75b2d4;--nx:#3885bc;--ny:#327cb7;--nz:#90c4dd;--o0:#68abd0;--o1:#5fa5cd;--o2:#90c4dd;--o3:#4695c4;--o4:#3b88be;--o5:#5fa5cd;--o6:#5fa5cd;--o7:#3480b9;--o8:#2a71b2;--o9:#337eb8;--oa:#71b0d3;--ob:#2870b1;--oc:#2e77b5;--od:#4997c5;--oe:#5fa5cd;--of:#96c7df;--og:#65a9cf;--oh:#2f79b5;--oi:#4695c4;--oj:#2a71b2;--ok:#2b73b3;--ol:#4393c3;--om:#6eaed2;--on:#327cb7;--oo:#2e77b5;--op:#5ca3cb;--oq:#aed3e6;--or:#62a7ce;--os:#2f79b5;--ot:#4695c4;--ou:#276eb0;--ov:#2b73b3;--ow:#4393c3;--ox:#4c99c6;--oy:#2e77b5;--oz:#2e77b5;--p0:#4f9bc7;--p1:#8ac0db;--p2:#84bcd9;--p3:#3c8abe;--p4:#3885bc;--p5:#4f9bc7;--p6:#4f9bc7;--p7:#327cb7;--p8:#2a71b2;--p9:#337eb8;--pa:#569fc9;--pb:#266caf;--pc:#2c75b4;--pd:#3c8abe;--pe:#4291c2;--pf:#68abd0;--pg:#4f9bc7;--ph:#3b88be;--pi:#4c99c6;--pj:#327cb7;--pk:#2a71b2;--pl:#408fc1;--pm:#408fc1"/>
<use href="#A" transform="translate(99.65 99.80)" style="--a0:#337eb8;--a1:#1c5c9f;--a2:#3480b9;--a3:#1c5c9f;--a4:#3681ba;--a5:#1f63a8;--a6:#3b88be;--a7:#2b73b3;--a8:#59a1ca;--a9:#4f9bc7;--aa:#98c8e0;--ab:#98c8e0;--ac:#bbdaea;--ad:#e3edf3;--ae:#307ab6;--af:#185493;--ag:#307ab6;--ah:#185493;--ai:#307ab6;--aj:#195696;--ak:#3480b9;--al:#2065ab;--am:#4291c2;--an:#3783bb;--ao:#6eaed2;--ap:#59a1ca;--aq:#87beda;--ar:#337eb8;--as:#195696;--at:#307ab6;--au:#175290;--av:#3b88be;--aw:#1f63a8;--ax:#3783bb;--ay:#1d5fa2;--az:#4393c3;--b0:#2870b1;--b1:#3c8abe;--b2:#d7e8f1;--b3:#59a1ca;--b4:#3783bb;--b5:#4f9bc7;--b6:#3480b9;--b7:#529dc8;--b8:#3885bc;--b9:#68abd0;--ba:#4c99c6;--bb:#96c7df;--bc:#9bc9e0;--bd:#cae1ee;--be:#d7e8f1;--bf:#e4eef4;--bg:#f8f3f0;--bh:#71b0d3;--bi:#4695c4;--bj:#71b0d3;--bk:#4c99c6;--bl:#78b4d5;--bm:#5ca3cb;--bn:#93c6de;--bo:#90c4dd;--bp:#cae1ee;--bq:#deebf2;--br:#f2f5f6;--bs:#f9efe9;--bt:#faeae1;--bu:#fcdfcf;--bv:#8dc2dc;--bw:#68abd0;--bx:#90c4dd;--by:#71b0d3;--bz:#98c8e0;--c0:#87beda;--c1:#b1d5e7;--c2:#bbdaea;--c3:#e0ecf3;--c4:#f2f5f6;--c5:#f9ede5;--c6:#fce0d0;--c7:#fcdfcf;--c8:#fcd7c2;--c9:#a0cce2;--ca:#81bad8;--cb:#a0cce2;--cc:#8ac0db;--cd:#a7d0e4;--ce:#9dcbe1;--cf:#c2ddec;--cg:#d1e5f0;--ch:#e9f0f4;--ci:#f8f1ed;--cj:#fae7dc;--ck:#fddbc7;--cl:#fddbc7;--cm:#fcd3bc;--cn:#acd2e5;--co:#96c7df;--cp:#aed3e6;--cq:#9bc9e0;--cr:#b6d7e8;--cs:#aed3e6;--ct:#cfe4ef;--cu:#d8e9f1;--cv:#f0f4f6;--cw:#f9ede5;--cx:#fbe4d6;--cy:#fcd5bf;--cz:#fdd9c4;--d0:#fbd0b9;--d1:#b8d8e9;--d2:#a7d0e4;--d3:#bddbea;--d4:#acd2e5;--d5:#c2ddec;--d6:#bddbea;--d7:#d7e8f1;--d8:#e1edf3;--d9:#f5f6f7;--da:#faeae1;--db:#fbe3d4;--dc:#fcd5bf;--dd:#fcd7c2;--de:#fcd3bc;--df:#c0dceb;--dg:#b1d5e7;--dh:#c2ddec;--di:#b3d6e8;--dj:#cae1ee;--dk:#c2ddec;--dl:#d8e9f1;--dm:#e0ecf3;--dn:#f3f5f6;--do:#f9ede5;--dp:#fbe6da;--dq:#fdd9c4;--dr:#fddcc9;--ds:#fcd5bf;--dt:#c7e0ed;--du:#b8d8e9;--dv:#cae1ee;--dw:#bbdaea;--dx:#cfe4ef;--dy:#c5dfec;--dz:#d8e9f1;--e0:#deebf2;--e1:#eff3f5;--e2:#f8f3f0;--e3:#f9ebe3;--e4:#fce2d2;--e5:#fce2d2;--e6:#fddcc9;--e7:#d2e6f0;--e8:#cae1ee;--e9:#d4e6f1;--ea:#c7e0ed;--eb:#d5e7f1;--ec:#cfe4ef;--ed:#dbeaf2;--ee:#dbeaf2;--ef:#e9f0f4;--eg:#f0f4f6;--eh:#f8f3f0;--ei:#f9f0eb;--ej:#f9ede5;--ek:#fbe4d6;--el:#d8e9f1;--em:#d2e6f0;--en:#d8e9f1;--eo:#d2e6f0;--ep:#dae9f2;--eq:#d5e7f1;--er:#ddebf2;--es:#dbeaf2;--et:#e4eef4;--eu:#e9f0f4;--ev:#f2f5f6;--ew:#f5f6f7;--ex:#f7f6f6;--ey:#fae7dc;--ez:#ddebf2;--f0:#d7e8f1;--f1:#ddebf2;--f2:#d7e8f1;--f3:#ddebf2;--f4:#d8e9f1;--f5:#deebf2;--f6:#dae9f2;--f7:#e1edf3;--f8:#e0ecf3;--f9:#e6eff4;--fa:#e4eef4;--fb:#eaf1f5;--fc:#f9eee7;--fd:#dae9f2;--fe:#d4e6f1;--ff:#d8e9f1;--fg:#d4e6f1;--fh:#d8e9f1;--fi:#d4e6f1;--fj:#dae9f2;--fk:#d4e6f1;--fl:#ddebf2;--fm:#d7e8f1;--fn:#deebf2;--fo:#dae9f2;--fp:#e0ecf3;--fq:#f8f2ef;--fr:#cfe4ef;--fs:#c2ddec;--ft:#cfe4ef;--fu:#c0dceb;--fv:#cfe4ef;--fw:#c5dfec;--fx:#d1e5f0;--fy:#c2ddec;--fz:#d2e6f0;--g0:#c7e0ed;--g1:#d5e7f1;--g2:#cfe4ef;--g3:#d7e8f1;--g4:#f7f6f6;--g5:#9dcbe1;--g6:#7eb8d7;--g7:#9dcbe1;--g8:#7bb6d6;--g9:#9dcbe1;--ga:#84bcd9;--gb:#a2cde3;--gc:#8dc2dc;--gd:#acd2e5;--ge:#a0cce2;--gf:#c0dceb;--gg:#bbdaea;--gh:#d1e5f0;--gi:#f7f6f6;--gj:#68abd0;--gk:#408fc1;--gl:#6bacd1;--gm:#4291c2;--gn:#6bacd1;--go:#4393c3;--gp:#71b0d3;--gq:#569fc9;--gr:#8ac0db;--gs:#7eb8d7;--gt:#aed3e6;--gu:#a9d1e5;--gv:#c7e0ed;--gw:#f0f4f6;--gx:#a7d0e4;--gy:#8dc2dc;--gz:#a7d0e4;--h0:#8dc2dc;--h1:#a7d0e4;--h2:#90c4dd;--h3:#a7d0e4;--h4:#90c4dd;--h5:#acd2e5;--h6:#a7d0e4;--h7:#d5e7f1;--h8:#f8f4f2;--h9:#fbe3d4;--ha:#fbd0b9;--hb:#a9d1e5;--hc:#90c4dd;--hd:#a9d1e5;--he:#90c4dd;--hf:#a9d1e5;--hg:#90c4dd;--hh:#a9d1e5;--hi:#93c6de;--hj:#aed3e6;--hk:#b1d5e7;--hl:#e1edf3;--hm:#f9efe9;--hn:#fbe3d4;--ho:#fcd5bf;--hp:#a9d1e5;--hq:#90c4dd;--hr:#a9d1e5;--hs:#90c4dd;--ht:#a9d1e5;--hu:#90c4dd;--hv:#a9d1e5;--hw:#93c6de;--hx:#b1d5e7;--hy:#bbdaea;--hz:#e7f0f4;--i0:#faeae1;--i1:#fbe4d6;--i2:#fddcc9;--i3:#a9d1e5;--i4:#90c4dd;--i5:#a9d1e5;--i6:#90c4dd;--i7:#a9d1e5;--i8:#90c4dd;--i9:#a9d1e5;--ia:#96c7df;--ib:#b6d7e8;--ic:#c0dceb;--id:#e9f0f4;--ie:#f7f5f4;--if:#f9f0eb;--ig:#f9eee7;--ih:#a7d0e4;--ii:#8dc2dc;--ij:#a7d0e4;--ik:#8dc2dc;--il:#a5cee3;--im:#8dc2dc;--in:#a7d0e4;--io:#93c6de;--ip:#b3d6e8;--iq:#c0dceb;--ir:#e3edf3;--is:#edf2f5;--it:#f3f5f6;--iu:#f5f6f7;--iv:#9bc9e0;--iw:#7eb8d7;--ix:#9bc9e0;--iy:#7eb8d7;--iz:#9bc9e0;--j0:#7eb8d7;--j1:#9dcbe1;--j2:#84bcd9;--j3:#a7d0e4;--j4:#aed3e6;--j5:#dae9f2;--j6:#e1edf3;--j7:#e9f0f4;--j8:#e6eff4;--j9:#8ac0db;--ja:#62a7ce;--jb:#8ac0db;--jc:#65a9cf;--jd:#8ac0db;--je:#65a9cf;--jf:#8ac0db;--jg:#6bacd1;--jh:#9bc9e0;--ji:#a0cce2;--jj:#d1e5f0;--jk:#d7e8f1;--jl:#e1edf3;--jm:#dbeaf2;--jn:#6eaed2;--jo:#4291c2;--jp:#6bacd1;--jq:#4393c3;--jr:#6eaed2;--js:#4393c3;--jt:#6eaed2;--ju:#4997c5;--jv:#81bad8;--jw:#81bad8;--jx:#c0dceb;--jy:#c5dfec;--jz:#d7e8f1;--k0:#d1e5f0;--k1:#529dc8;--k2:#3681ba;--k3:#569fc9;--k4:#3681ba;--k5:#529dc8;--k6:#3681ba;--k7:#529dc8;--k8:#3885bc;--k9:#68abd0;--ka:#62a7ce;--kb:#aed3e6;--kc:#b1d5e7;--kd:#cae1ee;--ke:#bbdaea;--kf:#4291c2;--kg:#2b73b3;--kh:#4291c2;--ki:#2b73b3;--kj:#4291c2;--kk:#2b73b3;--kl:#4291c2;--km:#2e77b5;--kn:#529dc8;--ko:#4c99c6;--kp:#a0cce2;--kq:#a0cce2;--kr:#bddbea;--ks:#acd2e5;--kt:#3681ba;--ku:#1d5fa2;--kv:#3681ba;--kw:#1d5fa2;--kx:#3681ba;--ky:#1d5fa2;--kz:#3681ba;--l0:#1f63a8;--l1:#3e8cbf;--l2:#3885bc;--l3:#87beda;--l4:#81bad8;--l5:#a0cce2;--l6:#87beda;--l7:#307ab6;--l8:#185493;--l9:#307ab6;--la:#175290;--lb:#2f79b5;--lc:#185493;--ld:#307ab6;--le:#1a5899;--lf:#3783bb;--lg:#2e77b5;--lh:#5fa5cd;--li:#4393c3;--lj:#2b73b3;--lk:#124984;--ll:#2b73b3;--lm:#124984;--ln:#2f79b5;--lo:#175290;--lp:#2e77b5;--lq:#15508d;--lr:#3681ba;--ls:#1c5c9f;--lt:#337eb8;--lu:#195696;--lv:#81bad8;--lw:#4695c4;--lx:#2c75b4;--ly:#408fc1;--lz:#2870b1;--m0:#408fc1;--m1:#2870b1;--m2:#408fc1;--m3:#2870b1;--m4:#408fc1;--m5:#2b73b3;--m6:#4695c4;--m7:#3f8ec0;--m8:#a7d0e4;--m9:#e1edf3;--ma:#5ca3cb;--mb:#3a87bd;--mc:#5fa5cd;--md:#3a87bd;--me:#5ca3cb;--mf:#3a87bd;--mg:#5ca3cb;--mh:#3a87bd;--mi:#5ca3cb;--mj:#3b88be;--mk:#65a9cf;--ml:#62a7ce;--mm:#cae1ee;--mn:#f9ebe3;--mo:#78b4d5;--mp:#4f9bc7;--mq:#7bb6d6;--mr:#4f9bc7;--ms:#78b4d5;--mt:#529dc8;--mu:#7bb6d6;--mv:#529dc8;--mw:#7bb6d6;--mx:#569fc9;--my:#87beda;--mz:#84bcd9;--n0:#dbeaf2;--n1:#fce2d2;--n2:#90c4dd;--n3:#6eaed2;--n4:#90c4dd;--n5:#6eaed2;--n6:#93c6de;--n7:#6eaed2;--n8:#90c4dd;--n9:#71b0d3;--na:#93c6de;--nb:#75b2d4;--nc:#a0cce2;--nd:#bddbea;--ne:#f7f6f6;--nf:#fcd5bf;--ng:#a0cce2;--nh:#84bcd9;--ni:#a0cce2;--nj:#84bcd9;--nk:#a0cce2;--nl:#84bcd9;--nm:#a0cce2;--nn:#84bcd9;--no:#a2cde3;--np:#90c4dd;--nq:#bbdaea;--nr:#deebf2;--ns:#faeae1;--nt:#fbceb7;--nu:#175290;--nv:#15508d;--nw:#1e61a5;--nx:#1a5899;--ny:#1f63a8;--nz:#246aae;--o0:#246aae;--o1:#337eb8;--o2:#3b88be;--o3:#175290;--o4:#1c5c9f;--o5:#2b73b3;--o6:#15508d;--o7:#144e8a;--o8:#195696;--o9:#2065ab;--oa:#185493;--ob:#195696;--oc:#1f63a8;--od:#337eb8;--oe:#3b88be;--of:#68abd0;--og:#2e77b5;--oh:#1c5c9f;--oi:#246aae;--oj:#144e8a;--ok:#1a5899;--ol:#266caf;--om:#1b5a9c;--on:#175290;--oo:#1e61a5;--op:#337eb8;--oq:#7bb6d6;--or:#1e61a5;--os:#175290;--ot:#1c5c9f;--ou:#114781;--ov:#134c87;--ow:#1b5a9c;--ox:#134c87;--oy:#124984;--oz:#144e8a;--p0:#2267ac;--p1:#4695c4;--p2:#2b73b3;--p3:#134c87;--p4:#175290;--p5:#246aae;--p6:#114781;--p7:#114781;--p8:#124984;--p9:#195696;--pa:#124984;--pb:#124984;--pc:#134c87;--pd:#1b5a9c;--pe:#1b5a9c;--pf:#2870b1;--pg:#114781;--ph:#114781;--pi:#175290;--pj:#144e8a;--pk:#144e8a;--pl:#1b5a9c;--pm:#1c5c9f"/>
<use href="#A" transform="translate(198.30 99.80)" style="--a0:#3783bb;--a1:#1f63a8;--a2:#3783bb;--a3:#1f63a8;--a4:#3885bc;--a5:#2267ac;--a6:#3e8cbf;--a7:#2c75b4;--a8:#59a1ca;--a9:#4997c5;--aa:#90c4dd;--ab:#87beda;--ac:#acd2e5;--ad:#deebf2;--ae:#3681ba;--af:#1d5fa2;--ag:#3681ba;--ah:#1c5c9f;--ai:#3480b9;--aj:#1d5fa2;--ak:#3885bc;--al:#246aae;--am:#4393c3;--an:#3783bb;--ao:#6bacd1;--ap:#4f9bc7;--aq:#81bad8;--ar:#3885bc;--as:#1e61a5;--at:#3681ba;--au:#1b5a9c;--av:#3f8ec0;--aw:#246aae;--ax:#3b88be;--ay:#2065ab;--az:#4c99c6;--b0:#2c75b4;--b1:#408fc1;--b2:#d8e9f1;--b3:#65a9cf;--b4:#3c8abe;--b5:#5ca3cb;--b6:#3a87bd;--b7:#5fa5cd;--b8:#3e8cbf;--b9:#71b0d3;--ba:#59a1ca;--bb:#9dcbe1;--bc:#a0cce2;--bd:#cce2ef;--be:#d8e9f1;--bf:#e6eff4;--bg:#f8f2ef;--bh:#78b4d5;--bi:#4c99c6;--bj:#78b4d5;--bk:#529dc8;--bl:#7eb8d7;--bm:#62a7ce;--bn:#98c8e0;--bo:#96c7df;--bp:#cce2ef;--bq:#deebf2;--br:#f3f5f6;--bs:#f9efe9;--bt:#fae9df;--bu:#fcdfcf;--bv:#87beda;--bw:#62a7ce;--bx:#8ac0db;--by:#68abd0;--bz:#93c6de;--c0:#7eb8d7;--c1:#acd2e5;--c2:#b6d7e8;--c3:#deebf2;--c4:#f2f5f6;--c5:#f9eee7;--c6:#fce0d0;--c7:#fcdfcf;--c8:#fcd7c2;--c9:#93c6de;--ca:#71b0d3;--cb:#96c7df;--cc:#78b4d5;--cd:#9dcbe1;--ce:#90c4dd;--cf:#b8d8e9;--cg:#c7e0ed;--ch:#e6eff4;--ci:#f8f3f0;--cj:#fae8de;--ck:#fddbc7;--cl:#fddcc9;--cm:#fcd3bc;--cn:#9bc9e0;--co:#7eb8d7;--cp:#9dcbe1;--cq:#84bcd9;--cr:#a7d0e4;--cs:#9dcbe1;--ct:#c2ddec;--cu:#d1e5f0;--cv:#ecf2f5;--cw:#f9f0eb;--cx:#fbe5d8;--cy:#fcd7c2;--cz:#fddbc7;--d0:#fcd3bc;--d1:#a5cee3;--d2:#90c4dd;--d3:#a9d1e5;--d4:#96c7df;--d5:#b1d5e7;--d6:#a7d0e4;--d7:#cae1ee;--d8:#d5e7f1;--d9:#ecf2f5;--da:#f8f1ed;--db:#fae8de;--dc:#fdddcb;--dd:#fdddcb;--de:#fcd7c2;--df:#acd2e5;--dg:#98c8e0;--dh:#aed3e6;--di:#9bc9e0;--dj:#b3d6e8;--dk:#a9d1e5;--dl:#cae1ee;--dm:#d2e6f0;--dn:#e9f0f4;--do:#f7f5f4;--dp:#f9ede5;--dq:#fbe3d4;--dr:#fbe3d4;--ds:#fddcc9;--dt:#b3d6e8;--du:#a0cce2;--dv:#b3d6e8;--dw:#a2cde3;--dx:#b8d8e9;--dy:#acd2e5;--dz:#c7e0ed;--e0:#cae1ee;--e1:#e1edf3;--e2:#eaf1f5;--e3:#f7f6f6;--e4:#f9efe9;--e5:#f9ede5;--e6:#fce2d2;--e7:#b3d6e8;--e8:#a0cce2;--e9:#b3d6e8;--ea:#a0cce2;--eb:#b6d7e8;--ec:#a7d0e4;--ed:#c0dceb;--ee:#bddbea;--ef:#d7e8f1;--eg:#dbeaf2;--eh:#ecf2f5;--ei:#eff3f5;--ej:#f7f6f6;--ek:#fae9df;--el:#b3d6e8;--em:#a0cce2;--en:#b3d6e8;--eo:#a0cce2;--ep:#b6d7e8;--eq:#a5cee3;--er:#bddbea;--es:#b3d6e8;--et:#cfe4ef;--eu:#d2e6f0;--ev:#e1edf3;--ew:#e3edf3;--ex:#eaf1f5;--ey:#f9ebe3;--ez:#b3d6e8;--f0:#9dcbe1;--f1:#b3d6e8;--f2:#a0cce2;--f3:#b3d6e8;--f4:#a2cde3;--f5:#b8d8e9;--f6:#acd2e5;--f7:#c5dfec;--f8:#c0dceb;--f9:#d5e7f1;--fa:#d4e6f1;--fb:#deebf2;--fc:#f8f2ef;--fd:#aed3e6;--fe:#9bc9e0;--ff:#aed3e6;--fg:#9bc9e0;--fh:#aed3e6;--fi:#9dcbe1;--fj:#b3d6e8;--fk:#a2cde3;--fl:#bddbea;--fm:#b3d6e8;--fn:#cce2ef;--fo:#c7e0ed;--fp:#d7e8f1;--fq:#f7f5f4;--fr:#a7d0e4;--fs:#8dc2dc;--ft:#a5cee3;--fu:#8dc2dc;--fv:#a7d0e4;--fw:#93c6de;--fx:#a9d1e5;--fy:#96c7df;--fz:#b3d6e8;--g0:#a5cee3;--g1:#c2ddec;--g2:#bbdaea;--g3:#cce2ef;--g4:#f3f5f6;--g5:#7eb8d7;--g6:#529dc8;--g7:#7bb6d6;--g8:#529dc8;--g9:#7eb8d7;--ga:#59a1ca;--gb:#84bcd9;--gc:#65a9cf;--gd:#93c6de;--ge:#81bad8;--gf:#acd2e5;--gg:#a5cee3;--gh:#c0dceb;--gi:#f3f5f6;--gj:#569fc9;--gk:#3681ba;--gl:#569fc9;--gm:#3783bb;--gn:#59a1ca;--go:#3a87bd;--gp:#5fa5cd;--gq:#408fc1;--gr:#75b2d4;--gs:#65a9cf;--gt:#9dcbe1;--gu:#98c8e0;--gv:#b8d8e9;--gw:#eaf1f5;--gx:#98c8e0;--gy:#78b4d5;--gz:#98c8e0;--h0:#78b4d5;--h1:#98c8e0;--h2:#78b4d5;--h3:#98c8e0;--h4:#7bb6d6;--h5:#9dcbe1;--h6:#96c7df;--h7:#cfe4ef;--h8:#f6f7f7;--h9:#fbe4d6;--ha:#fcd3bc;--hb:#98c8e0;--hc:#7bb6d6;--hd:#98c8e0;--he:#7bb6d6;--hf:#98c8e0;--hg:#7bb6d6;--hh:#98c8e0;--hi:#7eb8d7;--hj:#a0cce2;--hk:#a2cde3;--hl:#dbeaf2;--hm:#f8f1ed;--hn:#fbe3d4;--ho:#fcd5bf;--hp:#98c8e0;--hq:#7bb6d6;--hr:#98c8e0;--hs:#78b4d5;--ht:#98c8e0;--hu:#7bb6d6;--hv:#98c8e0;--hw:#7eb8d7;--hx:#a5cee3;--hy:#acd2e5;--hz:#e3edf3;--i0:#f9ede5;--i1:#fbe5d8;--i2:#fdddcb;--i3:#96c7df;--i4:#75b2d4;--i5:#96c7df;--i6:#75b2d4;--i7:#96c7df;--i8:#75b2d4;--i9:#96c7df;--ia:#7bb6d6;--ib:#a2cde3;--ic:#a9d1e5;--id:#deebf2;--ie:#edf2f5;--if:#f6f7f7;--ig:#f7f6f6;--ih:#90c4dd;--ii:#6eaed2;--ij:#90c4dd;--ik:#6bacd1;--il:#90c4dd;--im:#6eaed2;--in:#90c4dd;--io:#75b2d4;--ip:#a0cce2;--iq:#a5cee3;--ir:#d4e6f1;--is:#dae9f2;--it:#e3edf3;--iu:#e0ecf3;--iv:#84bcd9;--iw:#5ca3cb;--ix:#84bcd9;--iy:#5fa5cd;--iz:#84bcd9;--j0:#5ca3cb;--j1:#84bcd9;--j2:#62a7ce;--j3:#90c4dd;--j4:#8dc2dc;--j5:#c0dceb;--j6:#c2ddec;--j7:#d4e6f1;--j8:#cae1ee;--j9:#75b2d4;--ja:#4997c5;--jb:#75b2d4;--jc:#4c99c6;--jd:#75b2d4;--je:#4c99c6;--jf:#75b2d4;--jg:#4f9bc7;--jh:#84bcd9;--ji:#7bb6d6;--jj:#b1d5e7;--jk:#aed3e6;--jl:#c5dfec;--jm:#b3d6e8;--jn:#5fa5cd;--jo:#3b88be;--jp:#5fa5cd;--jq:#3c8abe;--jr:#5fa5cd;--js:#3c8abe;--jt:#5fa5cd;--ju:#3e8cbf;--jv:#6eaed2;--jw:#5fa5cd;--jx:#a0cce2;--jy:#96c7df;--jz:#b1d5e7;--k0:#9dcbe1;--k1:#4f9bc7;--k2:#337eb8;--k3:#4f9bc7;--k4:#337eb8;--k5:#4f9bc7;--k6:#337eb8;--k7:#4f9bc7;--k8:#3480b9;--k9:#5ca3cb;--ka:#4997c5;--kb:#90c4dd;--kc:#84bcd9;--kd:#a5cee3;--ke:#8dc2dc;--kf:#4393c3;--kg:#2c75b4;--kh:#4393c3;--ki:#2c75b4;--kj:#4291c2;--kk:#2c75b4;--kl:#4393c3;--km:#2e77b5;--kn:#4f9bc7;--ko:#3f8ec0;--kp:#84bcd9;--kq:#75b2d4;--kr:#9bc9e0;--ks:#7eb8d7;--kt:#3b88be;--ku:#2267ac;--kv:#3b88be;--kw:#2267ac;--kx:#3b88be;--ky:#2267ac;--kz:#3b88be;--l0:#246aae;--l1:#408fc1;--l2:#3681ba;--l3:#71b0d3;--l4:#5ca3cb;--l5:#84bcd9;--l6:#62a7ce;--l7:#3681ba;--l8:#1d5fa2;--l9:#3681ba;--la:#1c5c9f;--lb:#3480b9;--lc:#1c5c9f;--ld:#3681ba;--le:#1e61a5;--lf:#3a87bd;--lg:#2c75b4;--lh:#529dc8;--li:#3a87bd;--lj:#307ab6;--lk:#185493;--ll:#2f79b5;--lm:#175290;--ln:#327cb7;--lo:#195696;--lp:#307ab6;--lq:#185493;--lr:#3681ba;--ls:#1c5c9f;--lt:#337eb8;--lu:#1a5899;--lv:#84bcd9;--lw:#4291c2;--lx:#2a71b2;--ly:#3f8ec0;--lz:#266caf;--m0:#3f8ec0;--m1:#266caf;--m2:#3f8ec0;--m3:#276eb0;--m4:#3f8ec0;--m5:#2870b1;--m6:#4393c3;--m7:#3e8cbf;--m8:#a7d0e4;--m9:#e1edf3;--ma:#529dc8;--mb:#3480b9;--mc:#569fc9;--md:#3681ba;--me:#529dc8;--mf:#3681ba;--mg:#529dc8;--mh:#3480b9;--mi:#529dc8;--mj:#3681ba;--mk:#5fa5cd;--ml:#59a1ca;--mm:#c7e0ed;--mn:#f9ede5;--mo:#6bacd1;--mp:#4291c2;--mq:#6bacd1;--mr:#4291c2;--ms:#6bacd1;--mt:#4393c3;--mu:#6eaed2;--mv:#4393c3;--mw:#6eaed2;--mx:#4695c4;--my:#7bb6d6;--mz:#78b4d5;--n0:#d8e9f1;--n1:#fce2d2;--n2:#84bcd9;--n3:#5fa5cd;--n4:#84bcd9;--n5:#5fa5cd;--n6:#84bcd9;--n7:#5fa5cd;--n8:#81bad8;--n9:#62a7ce;--na:#87beda;--nb:#65a9cf;--nc:#96c7df;--nd:#b6d7e8;--ne:#f5f6f7;--nf:#fcd7c2;--ng:#93c6de;--nh:#71b0d3;--ni:#93c6de;--nj:#71b0d3;--nk:#93c6de;--nl:#71b0d3;--nm:#93c6de;--nn:#75b2d4;--no:#96c7df;--np:#81bad8;--nq:#b1d5e7;--nr:#dae9f2;--ns:#f9ebe3;--nt:#fbd0b9;--nu:#1b5a9c;--nv:#1a5899;--nw:#2267ac;--nx:#1d5fa2;--ny:#2369ad;--nz:#2870b1;--o0:#2a71b2;--o1:#3681ba;--o2:#3b88be;--o3:#1a5899;--o4:#1e61a5;--o5:#2b73b3;--o6:#1a5899;--o7:#185493;--o8:#1c5c9f;--o9:#2369ad;--oa:#1b5a9c;--ob:#1b5a9c;--oc:#2267ac;--od:#3681ba;--oe:#3e8cbf;--of:#6eaed2;--og:#2f79b5;--oh:#1d5fa2;--oi:#266caf;--oj:#185493;--ok:#1c5c9f;--ol:#276eb0;--om:#1d5fa2;--on:#195696;--oo:#2267ac;--op:#3681ba;--oq:#81bad8;--or:#1e61a5;--os:#195696;--ot:#1c5c9f;--ou:#144e8a;--ov:#175290;--ow:#1d5fa2;--ox:#15508d;--oy:#144e8a;--oz:#175290;--p0:#246aae;--p1:#4997c5;--p2:#276eb0;--p3:#175290;--p4:#195696;--p5:#2267ac;--p6:#15508d;--p7:#144e8a;--p8:#15508d;--p9:#1a5899;--pa:#15508d;--pb:#144e8a;--pc:#15508d;--pd:#1d5fa2;--pe:#1c5c9f;--pf:#2a71b2;--pg:#15508d;--ph:#15508d;--pi:#185493;--pj:#15508d;--pk:#175290;--pl:#1c5c9f;--pm:#1c5c9f"/>
<use href="#A" transform="translate(1.00 200.60)" style="--a0:#ef9979;--a1:#de735c;--a2:#eb9172;--a3:#dc6e57;--a4:#eb9172;--a5:#d86551;--a6:#e98b6e;--a7:#d6604d;--a8:#e58368;--a9:#d05548;--aa:#e27b62;--ab:#d25849;--ac:#e58368;--ad:#cc4c44;--ae:#d7e8f1;--af:#bbdaea;--ag:#c5dfec;--ah:#b1d5e7;--ai:#c0dceb;--aj:#b8d8e9;--ak:#cce2ef;--al:#c5dfec;--am:#dae9f2;--an:#d2e6f0;--ao:#e4eef4;--ap:#e4eef4;--aq:#f2f5f6;--ar:#fcdfcf;--as:#fbe5d8;--at:#f8f3f0;--au:#e9f0f4;--av:#fcdecd;--aw:#faeae1;--ax:#fddbc7;--ay:#fcd3bc;--az:#fac8af;--b0:#f7b99c;--b1:#fbceb7;--b2:#fbe4d6;--b3:#dd7059;--b4:#ce4f45;--b5:#e6866a;--b6:#d6604d;--b7:#e6866a;--b8:#d6604d;--b9:#e37e64;--ba:#d86551;--bb:#e48066;--bc:#d7634f;--bd:#e98b6e;--be:#d7634f;--bf:#ea8e70;--bg:#d25849;--bh:#cb4942;--bi:#b1182b;--bj:#c94741;--bk:#ab162a;--bl:#c94741;--bm:#a81529;--bn:#c84440;--bo:#a51429;--bp:#c53e3d;--bq:#9c1127;--br:#c43b3c;--bs:#991027;--bt:#c13639;--bu:#a81529;--bv:#bf3338;--bw:#930e26;--bx:#bf3338;--by:#900d26;--bz:#be3036;--c0:#8d0c25;--c1:#be3036;--c2:#8a0b25;--c3:#bd2d35;--c4:#8a0b25;--c5:#bb2a34;--c6:#870a24;--c7:#bb2a34;--c8:#a21328;--c9:#be3036;--ca:#8d0c25;--cb:#bd2d35;--cc:#8a0b25;--cd:#bd2d35;--ce:#8a0b25;--cf:#bb2a34;--cg:#870a24;--ch:#bb2a34;--ci:#870a24;--cj:#bb2a34;--ck:#840924;--cl:#bb2a34;--cm:#a21328;--cn:#bd2d35;--co:#8a0b25;--cp:#bd2d35;--cq:#8a0b25;--cr:#bb2a34;--cs:#870a24;--ct:#bb2a34;--cu:#870a24;--cv:#bb2a34;--cw:#870a24;--cx:#ba2832;--cy:#840924;--cz:#bb2a34;--d0:#a21328;--d1:#bd2d35;--d2:#8a0b25;--d3:#bd2d35;--d4:#8a0b25;--d5:#bb2a34;--d6:#870a24;--d7:#bb2a34;--d8:#870a24;--d9:#bb2a34;--da:#870a24;--db:#ba2832;--dc:#840924;--dd:#bb2a34;--de:#a21328;--df:#bd2d35;--dg:#8a0b25;--dh:#bd2d35;--di:#8a0b25;--dj:#bb2a34;--dk:#870a24;--dl:#bb2a34;--dm:#870a24;--dn:#bb2a34;--do:#870a24;--dp:#ba2832;--dq:#840924;--dr:#bb2a34;--ds:#a21328;--dt:#bd2d35;--du:#8a0b25;--dv:#bd2d35;--dw:#8a0b25;--dx:#bb2a34;--dy:#870a24;--dz:#bb2a34;--e0:#870a24;--e1:#bb2a34;--e2:#870a24;--e3:#ba2832;--e4:#840924;--e5:#bb2a34;--e6:#a21328;--e7:#bd2d35;--e8:#8a0b25;--e9:#bd2d35;--ea:#8a0b25;--eb:#bb2a34;--ec:#870a24;--ed:#bb2a34;--ee:#870a24;--ef:#bb2a34;--eg:#870a24;--eh:#ba2832;--ei:#840924;--ej:#bb2a34;--ek:#a21328;--el:#bd2d35;--em:#8a0b25;--en:#bd2d35;--eo:#8a0b25;--ep:#bb2a34;--eq:#870a24;--er:#bb2a34;--es:#870a24;--et:#bb2a34;--eu:#870a24;--ev:#ba2832;--ew:#840924;--ex:#bb2a34;--ey:#a21328;--ez:#bd2d35;--f0:#8a0b25;--f1:#bd2d35;--f2:#8a0b25;--f3:#bb2a34;--f4:#870a24;--f5:#bb2a34;--f6:#870a24;--f7:#bb2a34;--f8:#870a24;--f9:#ba2832;--fa:#840924;--fb:#bb2a34;--fc:#a21328;--fd:#be3036;--fe:#8d0c25;--ff:#be3036;--fg:#8a0b25;--fh:#bd2d35;--fi:#8a0b25;--fj:#bd2d35;--fk:#8a0b25;--fl:#bb2a34;--fm:#870a24;--fn:#bb2a34;--fo:#870a24;--fp:#bd2d35;--fq:#a21328;--fr:#bf3338;--fs:#930e26;--ft:#bf3338;--fu:#930e26;--fv:#bf3338;--fw:#900d26;--fx:#be3036;--fy:#900d26;--fz:#be3036;--g0:#8d0c25;--g1:#be3036;--g2:#8d0c25;--g3:#be3036;--g4:#a51429;--g5:#c6413e;--g6:#a51429;--g7:#c6413e;--g8:#a51429;--g9:#c53e3d;--ga:#a21328;--gb:#c53e3d;--gc:#9f1228;--gd:#c43b3c;--ge:#9f1228;--gf:#c43b3c;--gg:#9c1127;--gh:#c43b3c;--gi:#ab162a;--gj:#d25849;--gk:#ba2832;--gl:#d05548;--gm:#b72230;--gn:#cf5246;--go:#b61f2e;--gp:#cf5246;--gq:#b3192c;--gr:#ce4f45;--gs:#b3192c;--gt:#cb4942;--gu:#ae172a;--gv:#cb4942;--gw:#ae172a;--gx:#f19e7d;--gy:#de735c;--gz:#e98b6e;--h0:#d55d4c;--h1:#e27b62;--h2:#c94741;--h3:#da6853;--h4:#bf3338;--h5:#d25849;--h6:#b41c2d;--h7:#c94741;--h8:#9f1228;--h9:#c13639;--ha:#8a0b25;--hb:#f19e7d;--hc:#de735c;--hd:#e98b6e;--he:#d55d4c;--hf:#e27b62;--hg:#c94741;--hh:#db6b55;--hi:#bf3338;--hj:#d25849;--hk:#b41c2d;--hl:#c94741;--hm:#9f1228;--hn:#c13639;--ho:#870a24;--hp:#f19e7d;--hq:#de735c;--hr:#e98b6e;--hs:#d6604d;--ht:#e27b62;--hu:#cb4942;--hv:#db6b55;--hw:#bf3338;--hx:#d25849;--hy:#b41c2d;--hz:#c94741;--i0:#9f1228;--i1:#c13639;--i2:#870a24;--i3:#f5aa89;--i4:#e6866a;--i5:#f09c7b;--i6:#dc6e57;--i7:#e8896c;--i8:#d05548;--i9:#de735c;--ia:#c43b3c;--ib:#d6604d;--ic:#b82531;--id:#cc4c44;--ie:#a51429;--if:#c2383a;--ig:#8a0b25;--ih:#f7b596;--ii:#eb9172;--ij:#f3a481;--ik:#e17860;--il:#ea8e70;--im:#d55d4c;--in:#e17860;--io:#c6413e;--ip:#d7634f;--iq:#ba2832;--ir:#ce4f45;--is:#a81529;--it:#c2383a;--iu:#8a0b25;--iv:#f7b596;--iw:#eb9172;--ix:#f3a481;--iy:#e17860;--iz:#ea8e70;--j0:#d55d4c;--j1:#e17860;--j2:#c6413e;--j3:#d7634f;--j4:#ba2832;--j5:#cc4c44;--j6:#a51429;--j7:#c2383a;--j8:#8a0b25;--j9:#f5ac8b;--ja:#e58368;--jb:#f09c7b;--jc:#dc6e57;--jd:#e8896c;--je:#d25849;--jf:#de735c;--jg:#c43b3c;--jh:#d6604d;--ji:#b72230;--jj:#cc4c44;--jk:#a51429;--jl:#c13639;--jm:#8a0b25;--jn:#f09c7b;--jo:#dd7059;--jp:#e98b6e;--jq:#d55d4c;--jr:#e27b62;--js:#c94741;--jt:#da6853;--ju:#bf3338;--jv:#d25849;--jw:#b41c2d;--jx:#c94741;--jy:#a21328;--jz:#c13639;--k0:#8a0b25;--k1:#e98b6e;--k2:#d6604d;--k3:#e37e64;--k4:#ce4f45;--k5:#dd7059;--k6:#c43b3c;--k7:#d6604d;--k8:#bb2a34;--k9:#cf5246;--ka:#b1182b;--kb:#c84440;--kc:#9f1228;--kd:#c13639;--ke:#8d0c25;--kf:#ea8e70;--kg:#d7634f;--kh:#e48066;--ki:#cf5246;--kj:#df765e;--kk:#c6413e;--kl:#da6853;--km:#be3036;--kn:#d25849;--ko:#b61f2e;--kp:#cb4942;--kq:#a81529;--kr:#c43b3c;--ks:#930e26;--kt:#f9c2a7;--ku:#f4a683;--kv:#f6b191;--kw:#ea8e70;--kx:#f2a17f;--ky:#df765e;--kz:#e98b6e;--l0:#d55d4c;--l1:#e17860;--l2:#cb4942;--l3:#db6b55;--l4:#c2383a;--l5:#da6853;--l6:#be3036;--l7:#fcdfcf;--l8:#fbceb7;--l9:#fcd3bc;--la:#f9c4a9;--lb:#fbceb7;--lc:#f7b596;--ld:#f8bda1;--le:#f3a481;--lf:#f7b99c;--lg:#f2a17f;--lh:#f8bfa4;--li:#f7b99c;--lj:#f8f3f0;--lk:#f9eee7;--ll:#f9f0eb;--lm:#fae9df;--ln:#f7f5f4;--lo:#f7f6f6;--lp:#fae9df;--lq:#fdddcb;--lr:#f8f1ed;--ls:#fae9df;--lt:#fbe3d4;--lu:#fddcc9;--lv:#f8f2ef;--lw:#fce0d0;--lx:#fbd0b9;--ly:#fcd3bc;--lz:#f8bda1;--m0:#f9c2a7;--m1:#f5aa89;--m2:#f6b394;--m3:#eb9172;--m4:#f4a683;--m5:#e17860;--m6:#ef9979;--m7:#db6b55;--m8:#f19e7d;--m9:#d05548;--ma:#fbd0b9;--mb:#f7b799;--mc:#f8bb9e;--md:#f09c7b;--me:#f5aa89;--mf:#e48066;--mg:#ec9374;--mh:#d7634f;--mi:#e27b62;--mj:#c84440;--mk:#d7634f;--ml:#b72230;--mm:#c94741;--mn:#991027;--mo:#f7b596;--mp:#ec9374;--mq:#f3a481;--mr:#e17860;--ms:#eb9172;--mt:#d55d4c;--mu:#e27b62;--mv:#c84440;--mw:#d86551;--mx:#ba2832;--my:#ce4f45;--mz:#a81529;--n0:#c2383a;--n1:#8a0b25;--n2:#f5a886;--n3:#e48066;--n4:#ee9677;--n5:#da6853;--n6:#e58368;--n7:#ce4f45;--n8:#dd7059;--n9:#c2383a;--na:#d55d4c;--nb:#b72230;--nc:#cb4942;--nd:#a21328;--ne:#c13639;--nf:#8a0b25;--ng:#f19e7d;--nh:#de735c;--ni:#e98b6e;--nj:#d55d4c;--nk:#e27b62;--nl:#c94741;--nm:#db6b55;--nn:#bf3338;--no:#d25849;--np:#b41c2d;--nq:#c94741;--nr:#9f1228;--ns:#c13639;--nt:#8a0b25;--nu:#faeae1;--nv:#e3edf3;--nw:#fcd7c2;--nx:#f6f7f7;--ny:#ddebf2;--nz:#f7b99c;--o0:#f9c4a9;--o1:#fbe3d4;--o2:#7bb6d6;--o3:#8ac0db;--o4:#59a1ca;--o5:#59a1ca;--o6:#c7e0ed;--o7:#90c4dd;--o8:#4f9bc7;--o9:#3480b9;--oa:#bddbea;--ob:#acd2e5;--oc:#7bb6d6;--od:#78b4d5;--oe:#e3edf3;--of:#e9f0f4;--og:#1f63a8;--oh:#276eb0;--oi:#1d5fa2;--oj:#2e77b5;--ok:#1f63a8;--ol:#1c5c9f;--om:#87beda;--on:#2c75b4;--oo:#2a71b2;--op:#337eb8;--oq:#d7e8f1;--or:#327cb7;--os:#3681ba;--ot:#2267ac;--ou:#3783bb;--ov:#266caf;--ow:#1f63a8;--ox:#75b2d4;--oy:#307ab6;--oz:#307ab6;--p0:#3480b9;--p1:#e1edf3;--p2:#c0dceb;--p3:#e1edf3;--p4:#aed3e6;--p5:#a5cee3;--p6:#cfe4ef;--p7:#b8d8e9;--p8:#75b2d4;--p9:#4291c2;--pa:#b3d6e8;--pb:#cfe4ef;--pc:#a0cce2;--pd:#7eb8d7;--pe:#f2f5f6;--pf:#f2f5f6;--pg:#f9eee7;--ph:#f6f7f7;--pi:#fdddcb;--pj:#f9ebe3;--pk:#eaf1f5;--pl:#facab1;--pm:#fddcc9"/>
<use href="#A" transform="translate(99.65 200.60)" style="--a0:#2f79b5;--a1:#1a5899;--a2:#3885bc;--a3:#276eb0;--a4:#4997c5;--a5:#3b88be;--a6:#78b4d5;--a7:#6eaed2;--a8:#a9d1e5;--a9:#b1d5e7;--aa:#d5e7f1;--ab:#deebf2;--ac:#edf2f5;--ad:#f9c2a7;--ae:#307ab6;--af:#1c5c9f;--ag:#3885bc;--ah:#266caf;--ai:#4695c4;--aj:#3681ba;--ak:#68abd0;--al:#569fc9;--am:#90c4dd;--an:#84bcd9;--ao:#aed3e6;--ap:#a7d0e4;--aq:#c2ddec;--ar:#3783bb;--as:#2065ab;--at:#3b88be;--au:#266caf;--av:#6bacd1;--aw:#3e8cbf;--ax:#6bacd1;--ay:#3e8cbf;--az:#9dcbe1;--b0:#75b2d4;--b1:#90c4dd;--b2:#fac8af;--b3:#b8d8e9;--b4:#a9d1e5;--b5:#c0dceb;--b6:#bbdaea;--b7:#d4e6f1;--b8:#d8e9f1;--b9:#edf2f5;--ba:#f0f4f6;--bb:#f9f0eb;--bc:#fbe6da;--bd:#fce0d0;--be:#f8bfa4;--bf:#f8bfa4;--bg:#e17860;--bh:#c5dfec;--bi:#c2ddec;--bj:#dae9f2;--bk:#e0ecf3;--bl:#f0f4f6;--bm:#f8f2ef;--bn:#fae8de;--bo:#fcd7c2;--bp:#fbccb4;--bq:#f3a481;--br:#f5a886;--bs:#de735c;--bt:#e58368;--bu:#c6413e;--bv:#cce2ef;--bw:#cfe4ef;--bx:#e0ecf3;--by:#e9f0f4;--bz:#f7f6f6;--c0:#fae9df;--c1:#fce2d2;--c2:#f9c4a9;--c3:#f8bfa4;--c4:#ec9374;--c5:#ef9979;--c6:#d6604d;--c7:#df765e;--c8:#c2383a;--c9:#cce2ef;--ca:#cce2ef;--cb:#e0ecf3;--cc:#e7f0f4;--cd:#f7f6f6;--ce:#fae9df;--cf:#fce0d0;--cg:#f9c4a9;--ch:#f8bda1;--ci:#ea8e70;--cj:#ee9677;--ck:#d6604d;--cl:#df765e;--cm:#c2383a;--cn:#c7e0ed;--co:#cce2ef;--cp:#deebf2;--cq:#e9f0f4;--cr:#f7f5f4;--cs:#fae8de;--ct:#fce0d0;--cu:#f9c4a9;--cv:#f8bda1;--cw:#ea8e70;--cx:#ee9677;--cy:#d55d4c;--cz:#df765e;--d0:#c2383a;--d1:#c2ddec;--d2:#c5dfec;--d3:#dbeaf2;--d4:#e4eef4;--d5:#f5f6f7;--d6:#f9ebe3;--d7:#fce2d2;--d8:#f9c6ac;--d9:#f8bfa4;--da:#eb9172;--db:#ef9979;--dc:#d6604d;--dd:#df765e;--de:#c2383a;--df:#bddbea;--dg:#bddbea;--dh:#d8e9f1;--di:#e0ecf3;--dj:#f3f5f6;--dk:#f9eee7;--dl:#fbe4d6;--dm:#facab1;--dn:#f9c2a7;--do:#ec9374;--dp:#f09c7b;--dq:#d6604d;--dr:#e17860;--ds:#c2383a;--dt:#b8d8e9;--du:#b6d7e8;--dv:#d5e7f1;--dw:#ddebf2;--dx:#eff3f5;--dy:#f8f1ed;--dz:#fae7dc;--e0:#fbd0b9;--e1:#f9c6ac;--e2:#f19e7d;--e3:#f2a17f;--e4:#da6853;--e5:#e27b62;--e6:#c43b3c;--e7:#b3d6e8;--e8:#aed3e6;--e9:#cfe4ef;--ea:#d5e7f1;--eb:#e7f0f4;--ec:#f6f7f7;--ed:#f9ede5;--ee:#fddbc7;--ef:#fbd0b9;--eg:#f5aa89;--eh:#f5a886;--ei:#df765e;--ej:#e58368;--ek:#c84440;--el:#aed3e6;--em:#a7d0e4;--en:#cae1ee;--eo:#cfe4ef;--ep:#e3edf3;--eq:#eff3f5;--er:#f8f1ed;--es:#fce2d2;--et:#fddbc7;--eu:#f7b799;--ev:#f6b394;--ew:#e58368;--ex:#eb9172;--ey:#c94741;--ez:#a5cee3;--f0:#9bc9e0;--f1:#bbdaea;--f2:#bddbea;--f3:#d7e8f1;--f4:#e0ecf3;--f5:#f2f5f6;--f6:#f9eee7;--f7:#fbe5d8;--f8:#fbceb7;--f9:#fac8af;--fa:#f2a17f;--fb:#f4a683;--fc:#d05548;--fd:#98c8e0;--fe:#87beda;--ff:#a9d1e5;--fg:#a7d0e4;--fh:#c7e0ed;--fi:#d1e5f0;--fj:#e6eff4;--fk:#f2f5f6;--fl:#f9eee7;--fm:#fce0d0;--fn:#fddbc7;--fo:#f7b99c;--fp:#f7b99c;--fq:#d7634f;--fr:#7eb8d7;--fs:#65a9cf;--ft:#93c6de;--fu:#87beda;--fv:#aed3e6;--fw:#b3d6e8;--fx:#d4e6f1;--fy:#dbeaf2;--fz:#f0f4f6;--g0:#f8f1ed;--g1:#fae8de;--g2:#fcd3bc;--g3:#fbd0b9;--g4:#df765e;--g5:#4c99c6;--g6:#3783bb;--g7:#62a7ce;--g8:#4393c3;--g9:#84bcd9;--ga:#7bb6d6;--gb:#aed3e6;--gc:#b3d6e8;--gd:#d7e8f1;--ge:#e0ecf3;--gf:#f5f6f7;--gg:#f9ede5;--gh:#fbe5d8;--gi:#e6866a;--gj:#3885bc;--gk:#246aae;--gl:#4291c2;--gm:#337eb8;--gn:#62a7ce;--go:#4f9bc7;--gp:#90c4dd;--gq:#8dc2dc;--gr:#bddbea;--gs:#cae1ee;--gt:#e4eef4;--gu:#f2f5f6;--gv:#f9f0eb;--gw:#f3a481;--gx:#b1d5e7;--gy:#9bc9e0;--gz:#b1d5e7;--h0:#9bc9e0;--h1:#b1d5e7;--h2:#a0cce2;--h3:#bbdaea;--h4:#b8d8e9;--h5:#ddebf2;--h6:#f8f4f2;--h7:#fddbc7;--h8:#e98b6e;--h9:#e37e64;--ha:#c43b3c;--hb:#b1d5e7;--hc:#9bc9e0;--hd:#b1d5e7;--he:#9dcbe1;--hf:#b3d6e8;--hg:#a2cde3;--hh:#bddbea;--hi:#c0dceb;--hj:#e1edf3;--hk:#f9ebe3;--hl:#fbccb4;--hm:#e58368;--hn:#e48066;--ho:#c6413e;--hp:#b1d5e7;--hq:#9bc9e0;--hr:#b1d5e7;--hs:#9dcbe1;--ht:#b3d6e8;--hu:#a2cde3;--hv:#c0dceb;--hw:#c2ddec;--hx:#e6eff4;--hy:#fae9df;--hz:#fbccb4;--i0:#e58368;--i1:#e6866a;--i2:#ce4f45;--i3:#b1d5e7;--i4:#9bc9e0;--i5:#b1d5e7;--i6:#9dcbe1;--i7:#b3d6e8;--i8:#a5cee3;--i9:#c2ddec;--ia:#cae1ee;--ib:#eaf1f5;--ic:#fae7dc;--id:#fbccb4;--ie:#f09c7b;--if:#f2a17f;--ig:#e17860;--ih:#aed3e6;--ii:#98c8e0;--ij:#aed3e6;--ik:#9bc9e0;--il:#b1d5e7;--im:#a5cee3;--in:#c2ddec;--io:#cfe4ef;--ip:#edf2f5;--iq:#fae7dc;--ir:#fcd7c2;--is:#f6b191;--it:#f7b799;--iu:#ef9979;--iv:#a7d0e4;--iw:#90c4dd;--ix:#a7d0e4;--iy:#93c6de;--iz:#acd2e5;--j0:#9bc9e0;--j1:#bddbea;--j2:#c7e0ed;--j3:#e7f0f4;--j4:#f8f1ed;--j5:#fbe5d8;--j6:#fcd5bf;--j7:#fdd9c4;--j8:#fbccb4;--j9:#a0cce2;--ja:#84bcd9;--jb:#a0cce2;--jc:#87beda;--jd:#a5cee3;--je:#90c4dd;--jf:#b6d7e8;--jg:#bbdaea;--jh:#e1edf3;--ji:#f5f6f7;--jj:#f9eee7;--jk:#fbe4d6;--jl:#fbe4d6;--jm:#fcdfcf;--jn:#96c7df;--jo:#75b2d4;--jp:#96c7df;--jq:#78b4d5;--jr:#9bc9e0;--js:#84bcd9;--jt:#a9d1e5;--ju:#a9d1e5;--jv:#d5e7f1;--jw:#e4eef4;--jx:#f6f7f7;--jy:#f8f2ef;--jz:#f9efe9;--k0:#f9ebe3;--k1:#84bcd9;--k2:#62a7ce;--k3:#87beda;--k4:#65a9cf;--k5:#8ac0db;--k6:#6eaed2;--k7:#9bc9e0;--k8:#9bc9e0;--k9:#cce2ef;--ka:#dae9f2;--kb:#edf2f5;--kc:#f5f6f7;--kd:#f7f5f4;--ke:#f8f3f0;--kf:#6eaed2;--kg:#4695c4;--kh:#71b0d3;--ki:#4997c5;--kj:#71b0d3;--kk:#529dc8;--kl:#84bcd9;--km:#81bad8;--kn:#bddbea;--ko:#d1e5f0;--kp:#e7f0f4;--kq:#edf2f5;--kr:#f3f5f6;--ks:#f3f5f6;--kt:#3e8cbf;--ku:#266caf;--kv:#3f8ec0;--kw:#276eb0;--kx:#408fc1;--ky:#2c75b4;--kz:#529dc8;--l0:#4997c5;--l1:#9bc9e0;--l2:#aed3e6;--l3:#d8e9f1;--l4:#dbeaf2;--l5:#e1edf3;--l6:#e0ecf3;--l7:#3480b9;--l8:#1b5a9c;--l9:#3480b9;--la:#1c5c9f;--lb:#3681ba;--lc:#2065ab;--ld:#408fc1;--le:#3885bc;--lf:#7bb6d6;--lg:#87beda;--lh:#aed3e6;--li:#a2cde3;--lj:#2c75b4;--lk:#144e8a;--ll:#2c75b4;--lm:#15508d;--ln:#327cb7;--lo:#195696;--lp:#327cb7;--lq:#195696;--lr:#3e8cbf;--ls:#2369ad;--lt:#3c8abe;--lu:#2065ab;--lv:#f9f0eb;--lw:#87beda;--lx:#59a1ca;--ly:#7bb6d6;--lz:#4c99c6;--m0:#7bb6d6;--m1:#4f9bc7;--m2:#81bad8;--m3:#5fa5cd;--m4:#8dc2dc;--m5:#8dc2dc;--m6:#cce2ef;--m7:#f6f7f7;--m8:#fdddcb;--m9:#ea8e70;--ma:#a0cce2;--mb:#81bad8;--mc:#a0cce2;--md:#84bcd9;--me:#a0cce2;--mf:#84bcd9;--mg:#a2cde3;--mh:#8dc2dc;--mi:#aed3e6;--mj:#b3d6e8;--mk:#e1edf3;--ml:#fbe6da;--mm:#f7b596;--mn:#ce4f45;--mo:#aed3e6;--mp:#9bc9e0;--mq:#aed3e6;--mr:#9bc9e0;--ms:#aed3e6;--mt:#9bc9e0;--mu:#b1d5e7;--mv:#a2cde3;--mw:#bddbea;--mx:#c2ddec;--my:#e9f0f4;--mz:#fbe5d8;--n0:#f7b596;--n1:#cc4c44;--n2:#b1d5e7;--n3:#9bc9e0;--n4:#b1d5e7;--n5:#9bc9e0;--n6:#b1d5e7;--n7:#9dcbe1;--n8:#b3d6e8;--n9:#a7d0e4;--na:#c5dfec;--nb:#d2e6f0;--nc:#f3f5f6;--nd:#fbccb4;--ne:#f2a17f;--nf:#c84440;--ng:#b1d5e7;--nh:#9bc9e0;--ni:#b1d5e7;--nj:#9bc9e0;--nk:#b1d5e7;--nl:#9dcbe1;--nm:#b6d7e8;--nn:#a9d1e5;--no:#cfe4ef;--np:#e0ecf3;--nq:#f9eee7;--nr:#f7b596;--ns:#eb9172;--nt:#c53e3d;--nu:#266caf;--nv:#2870b1;--nw:#4c99c6;--nx:#4393c3;--ny:#68abd0;--nz:#75b2d4;--o0:#87beda;--o1:#acd2e5;--o2:#8dc2dc;--o3:#307ab6;--o4:#3885bc;--o5:#529dc8;--o6:#2267ac;--o7:#2870b1;--o8:#3783bb;--o9:#4695c4;--oa:#276eb0;--ob:#3f8ec0;--oc:#569fc9;--od:#96c7df;--oe:#b1d5e7;--of:#ddebf2;--og:#75b2d4;--oh:#3783bb;--oi:#4997c5;--oj:#2870b1;--ok:#3480b9;--ol:#569fc9;--om:#3783bb;--on:#307ab6;--oo:#4c99c6;--op:#90c4dd;--oq:#e9f0f4;--or:#3c8abe;--os:#2f79b5;--ot:#3885bc;--ou:#185493;--ov:#2870b1;--ow:#3c8abe;--ox:#185493;--oy:#195696;--oz:#337eb8;--p0:#6eaed2;--p1:#ddebf2;--p2:#59a1ca;--p3:#1d5fa2;--p4:#2f79b5;--p5:#4695c4;--p6:#144e8a;--p7:#185493;--p8:#266caf;--p9:#3885bc;--pa:#15508d;--pb:#1b5a9c;--pc:#2b73b3;--pd:#5ca3cb;--pe:#4997c5;--pf:#a5cee3;--pg:#144e8a;--ph:#15508d;--pi:#1d5fa2;--pj:#1c5c9f;--pk:#2267ac;--pl:#2f79b5;--pm:#3a87bd"/>
<use href="#A" transform="translate(198.30 200.60)" style="--a0:#2f79b5;--a1:#1a5899;--a2:#3885bc;--a3:#276eb0;--a4:#4997c5;--a5:#3b88be;--a6:#78b4d5;--a7:#6eaed2;--a8:#a9d1e5;--a9:#b1d5e7;--aa:#d5e7f1;--ab:#deebf2;--ac:#edf2f5;--ad:#f9c2a7;--ae:#307ab6;--af:#1c5c9f;--ag:#3885bc;--ah:#266caf;--ai:#4695c4;--aj:#3681ba;--ak:#68abd0;--al:#569fc9;--am:#90c4dd;--an:#84bcd9;--ao:#aed3e6;--ap:#a7d0e4;--aq:#c2ddec;--ar:#3681ba;--as:#2065ab;--at:#3b88be;--au:#266caf;--av:#65a9cf;--aw:#3b88be;--ax:#68abd0;--ay:#3c8abe;--az:#96c7df;--b0:#68abd0;--b1:#8ac0db;--b2:#fac8af;--b3:#aed3e6;--b4:#a0cce2;--b5:#b6d7e8;--b6:#b1d5e7;--b7:#d1e5f0;--b8:#d5e7f1;--b9:#eaf1f5;--ba:#edf2f5;--bb:#f8f1ed;--bc:#fae7dc;--bd:#fce2d2;--be:#f9c2a7;--bf:#f9c2a7;--bg:#e17860;--bh:#bbdaea;--bi:#b6d7e8;--bj:#d4e6f1;--bk:#dae9f2;--bl:#eaf1f5;--bm:#f7f5f4;--bn:#faeae1;--bo:#fddbc7;--bp:#fbceb7;--bq:#f4a683;--br:#f5aa89;--bs:#de735c;--bt:#e58368;--bu:#c6413e;--bv:#c2ddec;--bw:#c2ddec;--bx:#dae9f2;--by:#e1edf3;--bz:#f3f5f6;--c0:#f9eee7;--c1:#fbe4d6;--c2:#facab1;--c3:#f9c2a7;--c4:#ee9677;--c5:#f09c7b;--c6:#d7634f;--c7:#df765e;--c8:#c2383a;--c9:#c0dceb;--ca:#c0dceb;--cb:#dae9f2;--cc:#e1edf3;--cd:#f3f5f6;--ce:#f9ede5;--cf:#fbe4d6;--cg:#fac8af;--ch:#f9c2a7;--ci:#ec9374;--cj:#ef9979;--ck:#d7634f;--cl:#df765e;--cm:#c2383a;--cn:#bddbea;--co:#bddbea;--cp:#d8e9f1;--cq:#e1edf3;--cr:#f3f5f6;--cs:#f9ede5;--ct:#fbe3d4;--cu:#fac8af;--cv:#f9c2a7;--cw:#ec9374;--cx:#ef9979;--cy:#d6604d;--cz:#df765e;--d0:#c2383a;--d1:#b8d8e9;--d2:#b8d8e9;--d3:#d7e8f1;--d4:#deebf2;--d5:#f0f4f6;--d6:#f9efe9;--d7:#fbe5d8;--d8:#facab1;--d9:#f9c2a7;--da:#ec9374;--db:#f09c7b;--dc:#d7634f;--dd:#df765e;--de:#c2383a;--df:#b3d6e8;--dg:#b3d6e8;--dh:#d2e6f0;--di:#dae9f2;--dj:#eff3f5;--dk:#f8f2ef;--dl:#fbe6da;--dm:#fbceb7;--dn:#f9c4a9;--do:#ef9979;--dp:#f09c7b;--dq:#d7634f;--dr:#e17860;--ds:#c43b3c;--dt:#aed3e6;--du:#acd2e5;--dv:#cfe4ef;--dw:#d7e8f1;--dx:#eaf1f5;--dy:#f7f5f4;--dz:#fae9df;--e0:#fcd5bf;--e1:#facab1;--e2:#f2a17f;--e3:#f2a17f;--e4:#db6b55;--e5:#e27b62;--e6:#c43b3c;--e7:#a9d1e5;--e8:#a2cde3;--e9:#c7e0ed;--ea:#cfe4ef;--eb:#e3edf3;--ec:#f2f5f6;--ed:#f9efe9;--ee:#fcdecd;--ef:#fcd5bf;--eg:#f6af8e;--eh:#f5aa89;--ei:#e17860;--ej:#e58368;--ek:#c84440;--el:#a5cee3;--em:#9bc9e0;--en:#c0dceb;--eo:#c5dfec;--ep:#deebf2;--eq:#eaf1f5;--er:#f8f3f0;--es:#fbe4d6;--et:#fdddcb;--eu:#f7b99c;--ev:#f7b596;--ew:#e58368;--ex:#eb9172;--ey:#c94741;--ez:#9bc9e0;--f0:#8dc2dc;--f1:#b3d6e8;--f2:#b3d6e8;--f3:#d2e6f0;--f4:#dbeaf2;--f5:#eff3f5;--f6:#f8f1ed;--f7:#fae7dc;--f8:#fbd0b9;--f9:#facab1;--fa:#f3a481;--fb:#f4a683;--fc:#d05548;--fd:#90c4dd;--fe:#7bb6d6;--ff:#a2cde3;--fg:#a0cce2;--fh:#c2ddec;--fi:#cae1ee;--fj:#e3edf3;--fk:#eff3f5;--fl:#f9efe9;--fm:#fce2d2;--fn:#fddcc9;--fo:#f8bb9e;--fp:#f7b99c;--fq:#d7634f;--fr:#75b2d4;--fs:#59a1ca;--ft:#8dc2dc;--fu:#7eb8d7;--fv:#a9d1e5;--fw:#acd2e5;--fx:#d2e6f0;--fy:#dae9f2;--fz:#eff3f5;--g0:#f8f3f0;--g1:#fae8de;--g2:#fcd5bf;--g3:#fcd3bc;--g4:#df765e;--g5:#4997c5;--g6:#3480b9;--g7:#5fa5cd;--g8:#4291c2;--g9:#81bad8;--ga:#78b4d5;--gb:#acd2e5;--gc:#b1d5e7;--gd:#d5e7f1;--ge:#e0ecf3;--gf:#f5f6f7;--gg:#f9ede5;--gh:#fbe5d8;--gi:#e6866a;--gj:#3885bc;--gk:#246aae;--gl:#4291c2;--gm:#337eb8;--gn:#62a7ce;--go:#4f9bc7;--gp:#90c4dd;--gq:#8dc2dc;--gr:#bddbea;--gs:#cae1ee;--gt:#e4eef4;--gu:#f2f5f6;--gv:#f9f0eb;--gw:#f3a481;--gx:#a5cee3;--gy:#8ac0db;--gz:#a5cee3;--h0:#8dc2dc;--h1:#a7d0e4;--h2:#93c6de;--h3:#aed3e6;--h4:#acd2e5;--h5:#d7e8f1;--h6:#f5f6f7;--h7:#fdddcb;--h8:#ea8e70;--h9:#e37e64;--ha:#c43b3c;--hb:#a5cee3;--hc:#8ac0db;--hd:#a5cee3;--he:#8dc2dc;--hf:#a7d0e4;--hg:#93c6de;--hh:#b1d5e7;--hi:#b3d6e8;--hj:#dbeaf2;--hk:#f9f0eb;--hl:#fbd0b9;--hm:#e6866a;--hn:#e48066;--ho:#c6413e;--hp:#a5cee3;--hq:#8ac0db;--hr:#a5cee3;--hs:#8dc2dc;--ht:#a7d0e4;--hu:#96c7df;--hv:#b3d6e8;--hw:#b6d7e8;--hx:#e1edf3;--hy:#f9ede5;--hz:#fbceb7;--i0:#e6866a;--i1:#e8896c;--i2:#ce4f45;--i3:#a5cee3;--i4:#8ac0db;--i5:#a5cee3;--i6:#8dc2dc;--i7:#a7d0e4;--i8:#96c7df;--i9:#b8d8e9;--ia:#c0dceb;--ib:#e6eff4;--ic:#faeae1;--id:#fbceb7;--ie:#f19e7d;--if:#f3a481;--ig:#e17860;--ih:#a2cde3;--ii:#8ac0db;--ij:#a5cee3;--ik:#8ac0db;--il:#a7d0e4;--im:#96c7df;--in:#b8d8e9;--io:#c5dfec;--ip:#e9f0f4;--iq:#fae9df;--ir:#fdd9c4;--is:#f6b191;--it:#f7b799;--iu:#ef9979;--iv:#9bc9e0;--iw:#7eb8d7;--ix:#9dcbe1;--iy:#81bad8;--iz:#a0cce2;--j0:#8dc2dc;--j1:#b3d6e8;--j2:#bddbea;--j3:#e3edf3;--j4:#f8f3f0;--j5:#fbe6da;--j6:#fcd5bf;--j7:#fdd9c4;--j8:#fbccb4;--j9:#96c7df;--ja:#75b2d4;--jb:#96c7df;--jc:#78b4d5;--jd:#98c8e0;--je:#81bad8;--jf:#acd2e5;--jg:#b1d5e7;--jh:#deebf2;--ji:#f2f5f6;--jj:#f9efe9;--jk:#fbe4d6;--jl:#fbe4d6;--jm:#fcdfcf;--jn:#8ac0db;--jo:#65a9cf;--jp:#8ac0db;--jq:#68abd0;--jr:#90c4dd;--js:#75b2d4;--jt:#a0cce2;--ju:#a0cce2;--jv:#d2e6f0;--jw:#e1edf3;--jx:#f5f6f7;--jy:#f8f2ef;--jz:#f9efe9;--k0:#f9ede5;--k1:#7bb6d6;--k2:#529dc8;--k3:#7bb6d6;--k4:#569fc9;--k5:#81bad8;--k6:#62a7ce;--k7:#93c6de;--k8:#93c6de;--k9:#c7e0ed;--ka:#d8e9f1;--kb:#edf2f5;--kc:#f5f6f7;--kd:#f7f5f4;--ke:#f8f3f0;--kf:#68abd0;--kg:#3f8ec0;--kh:#68abd0;--ki:#408fc1;--kj:#6bacd1;--kk:#4997c5;--kl:#7eb8d7;--km:#7bb6d6;--kn:#b8d8e9;--ko:#cce2ef;--kp:#e6eff4;--kq:#ecf2f5;--kr:#f3f5f6;--ks:#f3f5f6;--kt:#3e8cbf;--ku:#266caf;--kv:#3e8cbf;--kw:#276eb0;--kx:#3f8ec0;--ky:#2c75b4;--kz:#529dc8;--l0:#4997c5;--l1:#9bc9e0;--l2:#aed3e6;--l3:#d8e9f1;--l4:#dbeaf2;--l5:#e1edf3;--l6:#e0ecf3;--l7:#3480b9;--l8:#1b5a9c;--l9:#3480b9;--la:#1c5c9f;--lb:#3681ba;--lc:#2065ab;--ld:#408fc1;--le:#3885bc;--lf:#7bb6d6;--lg:#87beda;--lh:#aed3e6;--li:#a2cde3;--lj:#2c75b4;--lk:#144e8a;--ll:#2c75b4;--lm:#15508d;--ln:#327cb7;--lo:#195696;--lp:#327cb7;--lq:#195696;--lr:#3e8cbf;--ls:#2369ad;--lt:#3b88be;--lu:#2065ab;--lv:#f9f0eb;--lw:#7bb6d6;--lx:#4c99c6;--ly:#71b0d3;--lz:#4393c3;--m0:#71b0d3;--m1:#4695c4;--m2:#78b4d5;--m3:#529dc8;--m4:#84bcd9;--m5:#84bcd9;--m6:#c7e0ed;--m7:#f3f5f6;--m8:#fcdecd;--m9:#ea8e70;--ma:#96c7df;--mb:#71b0d3;--mc:#96c7df;--md:#75b2d4;--me:#96c7df;--mf:#75b2d4;--mg:#98c8e0;--mh:#7eb8d7;--mi:#a5cee3;--mj:#a9d1e5;--mk:#ddebf2;--ml:#fae8de;--mm:#f7b799;--mn:#ce4f45;--mo:#a2cde3;--mp:#8ac0db;--mq:#a5cee3;--mr:#8ac0db;--ms:#a5cee3;--mt:#8dc2dc;--mu:#a7d0e4;--mv:#93c6de;--mw:#b3d6e8;--mx:#b6d7e8;--my:#e3edf3;--mz:#fae8de;--n0:#f7b99c;--n1:#cc4c44;--n2:#a5cee3;--n3:#8ac0db;--n4:#a5cee3;--n5:#8dc2dc;--n6:#a5cee3;--n7:#8dc2dc;--n8:#a7d0e4;--n9:#98c8e0;--na:#bbdaea;--nb:#c7e0ed;--nc:#eff3f5;--nd:#fcd3bc;--ne:#f3a481;--nf:#c84440;--ng:#a5cee3;--nh:#8ac0db;--ni:#a5cee3;--nj:#8dc2dc;--nk:#a5cee3;--nl:#8dc2dc;--nm:#a9d1e5;--nn:#9dcbe1;--no:#c5dfec;--np:#d8e9f1;--nq:#f8f1ed;--nr:#f8bb9e;--ns:#ec9374;--nt:#c53e3d;--nu:#266caf;--nv:#2870b1;--nw:#4695c4;--nx:#408fc1;--ny:#65a9cf;--nz:#6eaed2;--o0:#84bcd9;--o1:#a9d1e5;--o2:#8dc2dc;--o3:#307ab6;--o4:#3885bc;--o5:#529dc8;--o6:#2267ac;--o7:#2870b1;--o8:#3783bb;--o9:#4695c4;--oa:#276eb0;--ob:#3e8cbf;--oc:#569fc9;--od:#93c6de;--oe:#b1d5e7;--of:#ddebf2;--og:#75b2d4;--oh:#3783bb;--oi:#4997c5;--oj:#2870b1;--ok:#3480b9;--ol:#569fc9;--om:#3681ba;--on:#307ab6;--oo:#4c99c6;--op:#90c4dd;--oq:#e9f0f4;--or:#3c8abe;--os:#2f79b5;--ot:#3885bc;--ou:#185493;--ov:#2870b1;--ow:#3c8abe;--ox:#185493;--oy:#195696;--oz:#337eb8;--p0:#6eaed2;--p1:#ddebf2;--p2:#59a1ca;--p3:#1d5fa2;--p4:#2f79b5;--p5:#4695c4;--p6:#144e8a;--p7:#185493;--p8:#266caf;--p9:#3885bc;--pa:#15508d;--pb:#1b5a9c;--pc:#2b73b3;--pd:#5ca3cb;--pe:#4695c4;--pf:#a2cde3;--pg:#144e8a;--ph:#15508d;--pi:#1c5c9f;--pj:#1c5c9f;--pk:#2065ab;--pl:#2c75b4;--pm:#3783bb"/>
<use href="#A" transform="translate(1.00 301.40)" style="--a0:#e17860;--a1:#c2383a;--a2:#d7634f;--a3:#bf3338;--a4:#da6853;--a5:#b82531;--a6:#d6604d;--a7:#b72230;--a8:#ce4f45;--a9:#a81529;--aa:#c84440;--ab:#b1182b;--ac:#ce4f45;--ad:#b41c2d;--ae:#96c7df;--af:#3f8ec0;--ag:#59a1ca;--ah:#3b88be;--ai:#569fc9;--aj:#3b88be;--ak:#68abd0;--al:#4695c4;--am:#81bad8;--an:#62a7ce;--ao:#a0cce2;--ap:#9bc9e0;--aq:#cae1ee;--ar:#f2f5f6;--as:#dbeaf2;--at:#deebf2;--au:#d7e8f1;--av:#da6853;--aw:#dc6e57;--ax:#ec9374;--ay:#e37e64;--az:#ce4f45;--b0:#cc4c44;--b1:#eb9172;--b2:#cc4c44;--b3:#ce4f45;--b4:#b61f2e;--b5:#d6604d;--b6:#c13639;--b7:#da6853;--b8:#c43b3c;--b9:#d6604d;--ba:#c6413e;--bb:#d7634f;--bc:#c43b3c;--bd:#db6b55;--be:#bf3338;--bf:#d6604d;--bg:#ab162a;--bh:#d7634f;--bi:#b1182b;--bj:#c6413e;--bk:#9c1127;--bl:#c13639;--bm:#900d26;--bn:#bd2d35;--bo:#840924;--bp:#b82531;--bq:#7c0722;--br:#b61f2e;--bs:#730421;--bt:#b3192c;--bu:#7c0722;--bv:#f09c7b;--bw:#c53e3d;--bx:#ce4f45;--by:#a81529;--bz:#c43b3c;--c0:#960f27;--c1:#be3036;--c2:#870a24;--c3:#ba2832;--c4:#7f0823;--c5:#b61f2e;--c6:#730421;--c7:#b3192c;--c8:#7c0722;--c9:#fbe6da;--ca:#ee9677;--cb:#d55d4c;--cc:#b1182b;--cd:#c6413e;--ce:#9c1127;--cf:#c13639;--cg:#8d0c25;--ch:#bb2a34;--ci:#810823;--cj:#b61f2e;--ck:#760521;--cl:#b3192c;--cm:#7c0722;--cn:#c0dceb;--co:#fddbc7;--cp:#dd7059;--cq:#b41c2d;--cr:#c84440;--cs:#9f1228;--ct:#c13639;--cu:#900d26;--cv:#bb2a34;--cw:#810823;--cx:#b72230;--cy:#760521;--cz:#b3192c;--d0:#7c0722;--d1:#bddbea;--d2:#fcdecd;--d3:#db6b55;--d4:#b41c2d;--d5:#c94741;--d6:#9f1228;--d7:#c13639;--d8:#900d26;--d9:#bb2a34;--da:#810823;--db:#b72230;--dc:#760521;--dd:#b3192c;--de:#7c0722;--df:#fae9df;--dg:#ec9374;--dh:#d6604d;--di:#b1182b;--dj:#c6413e;--dk:#9c1127;--dl:#bf3338;--dm:#8d0c25;--dn:#bb2a34;--do:#810823;--dp:#b61f2e;--dq:#760521;--dr:#b3192c;--ds:#7c0722;--dt:#f09c7b;--du:#c84440;--dv:#ce4f45;--dw:#a81529;--dx:#c43b3c;--dy:#960f27;--dz:#be3036;--e0:#870a24;--e1:#ba2832;--e2:#7f0823;--e3:#b61f2e;--e4:#730421;--e5:#b3192c;--e6:#7c0722;--e7:#d7634f;--e8:#ae172a;--e9:#c53e3d;--ea:#991027;--eb:#be3036;--ec:#8a0b25;--ed:#ba2832;--ee:#810823;--ef:#b72230;--eg:#790622;--eh:#b41c2d;--ei:#700320;--ej:#b1182b;--ek:#7c0722;--el:#cb4942;--em:#9c1127;--en:#bf3338;--eo:#8d0c25;--ep:#bb2a34;--eq:#810823;--er:#b82531;--es:#7c0722;--et:#b61f2e;--eu:#760521;--ev:#b3192c;--ew:#700320;--ex:#b1182b;--ey:#7c0722;--ez:#c43b3c;--f0:#900d26;--f1:#bb2a34;--f2:#840924;--f3:#b82531;--f4:#7c0722;--f5:#b61f2e;--f6:#760521;--f7:#b41c2d;--f8:#730421;--f9:#b1182b;--fa:#6d0220;--fb:#b1182b;--fc:#7c0722;--fd:#c2383a;--fe:#8d0c25;--ff:#bb2a34;--fg:#810823;--fh:#b72230;--fi:#7c0722;--fj:#b61f2e;--fk:#760521;--fl:#b3192c;--fm:#700320;--fn:#b1182b;--fo:#6d0220;--fp:#b1182b;--fq:#7c0722;--fr:#c2383a;--fs:#8d0c25;--ft:#bb2a34;--fu:#810823;--fv:#b72230;--fw:#7c0722;--fx:#b61f2e;--fy:#760521;--fz:#b3192c;--g0:#730421;--g1:#b1182b;--g2:#6d0220;--g3:#b1182b;--g4:#7c0722;--g5:#c94741;--g6:#991027;--g7:#be3036;--g8:#8a0b25;--g9:#ba2832;--ga:#810823;--gb:#b72230;--gc:#790622;--gd:#b41c2d;--ge:#730421;--gf:#b3192c;--gg:#700320;--gh:#b1182b;--gi:#7c0722;--gj:#ce4f45;--gk:#a21328;--gl:#c2383a;--gm:#900d26;--gn:#bd2d35;--go:#840924;--gp:#b82531;--gq:#7c0722;--gr:#b61f2e;--gs:#760521;--gt:#b3192c;--gu:#700320;--gv:#b1182b;--gw:#7c0722;--gx:#f8f3f0;--gy:#f9c6ac;--gz:#e48066;--h0:#c13639;--h1:#d25849;--h2:#b3192c;--h3:#c84440;--h4:#9c1127;--h5:#bf3338;--h6:#8a0b25;--h7:#ba2832;--h8:#7c0722;--h9:#b3192c;--ha:#6d0220;--hb:#f7b596;--hc:#de735c;--hd:#da6853;--he:#b82531;--hf:#cc4c44;--hg:#a81529;--hh:#c53e3d;--hi:#960f27;--hj:#be3036;--hk:#840924;--hl:#b82531;--hm:#790622;--hn:#b3192c;--ho:#6d0220;--hp:#e17860;--hq:#bd2d35;--hr:#ce4f45;--hs:#a81529;--ht:#c53e3d;--hu:#960f27;--hv:#be3036;--hw:#870a24;--hx:#ba2832;--hy:#7f0823;--hz:#b61f2e;--i0:#730421;--i1:#b1182b;--i2:#6a011f;--i3:#d6604d;--i4:#ae172a;--i5:#c53e3d;--i6:#960f27;--i7:#be3036;--i8:#8a0b25;--i9:#ba2832;--ia:#810823;--ib:#b72230;--ic:#790622;--id:#b41c2d;--ie:#700320;--if:#b1182b;--ig:#6a011f;--ih:#cc4c44;--ii:#9f1228;--ij:#c13639;--ik:#8d0c25;--il:#bb2a34;--im:#840924;--in:#b82531;--io:#7c0722;--ip:#b61f2e;--iq:#760521;--ir:#b3192c;--is:#700320;--it:#b1182b;--iu:#6a011f;--iv:#cc4c44;--iw:#9f1228;--ix:#c13639;--iy:#8d0c25;--iz:#bb2a34;--j0:#840924;--j1:#b82531;--j2:#7c0722;--j3:#b61f2e;--j4:#760521;--j5:#b3192c;--j6:#700320;--j7:#b1182b;--j8:#6a011f;--j9:#ce4f45;--ja:#9f1228;--jb:#c13639;--jc:#8d0c25;--jd:#bb2a34;--je:#840924;--jf:#b82531;--jg:#7c0722;--jh:#b61f2e;--ji:#760521;--jj:#b3192c;--jk:#700320;--jl:#b1182b;--jm:#6a011f;--jn:#cc4c44;--jo:#9f1228;--jp:#c13639;--jq:#900d26;--jr:#bb2a34;--js:#840924;--jt:#b82531;--ju:#7c0722;--jv:#b61f2e;--jw:#760521;--jx:#b3192c;--jy:#700320;--jz:#b1182b;--k0:#6a011f;--k1:#d25849;--k2:#ab162a;--k3:#c53e3d;--k4:#960f27;--k5:#be3036;--k6:#8a0b25;--k7:#ba2832;--k8:#7f0823;--k9:#b72230;--ka:#790622;--kb:#b41c2d;--kc:#700320;--kd:#b1182b;--ke:#6a011f;--kf:#d7634f;--kg:#b3192c;--kh:#c84440;--ki:#9c1127;--kj:#c13639;--kk:#8d0c25;--kl:#bb2a34;--km:#840924;--kn:#b72230;--ko:#7c0722;--kp:#b41c2d;--kq:#730421;--kr:#b1182b;--ks:#6a011f;--kt:#dd7059;--ku:#ba2832;--kv:#cc4c44;--kw:#a81529;--kx:#c43b3c;--ky:#960f27;--kz:#be3036;--l0:#870a24;--l1:#ba2832;--l2:#7f0823;--l3:#b61f2e;--l4:#760521;--l5:#b3192c;--l6:#6d0220;--l7:#e17860;--l8:#bd2d35;--l9:#ce4f45;--la:#a51429;--lb:#c43b3c;--lc:#930e26;--ld:#be3036;--le:#870a24;--lf:#ba2832;--lg:#810823;--lh:#b72230;--li:#7c0722;--lj:#e48066;--lk:#bb2a34;--ll:#cb4942;--lm:#9f1228;--ln:#e58368;--lo:#bd2d35;--lp:#c94741;--lq:#9c1127;--lr:#e58368;--ls:#be3036;--lt:#c84440;--lu:#9c1127;--lv:#b3192c;--lw:#e8896c;--lx:#c13639;--ly:#cf5246;--lz:#a81529;--m0:#c43b3c;--m1:#960f27;--m2:#be3036;--m3:#8a0b25;--m4:#ba2832;--m5:#810823;--m6:#b72230;--m7:#790622;--m8:#b61f2e;--m9:#790622;--ma:#ef9979;--mb:#cc4c44;--mc:#d35a4a;--md:#b3192c;--me:#c84440;--mf:#9f1228;--mg:#c13639;--mh:#900d26;--mi:#bb2a34;--mj:#810823;--mk:#b72230;--ml:#760521;--mm:#b3192c;--mn:#6d0220;--mo:#fcd5bf;--mp:#e98b6e;--mq:#d86551;--mr:#b41c2d;--ms:#c94741;--mt:#9f1228;--mu:#c2383a;--mv:#900d26;--mw:#bb2a34;--mx:#810823;--my:#b72230;--mz:#760521;--n0:#b3192c;--n1:#6d0220;--n2:#deebf2;--n3:#fae7dc;--n4:#e48066;--n5:#bb2a34;--n6:#ce4f45;--n7:#ab162a;--n8:#c53e3d;--n9:#960f27;--na:#be3036;--nb:#870a24;--nc:#b82531;--nd:#790622;--ne:#b3192c;--nf:#6d0220;--ng:#c7e0ed;--nh:#f8f1ed;--ni:#ea8e70;--nj:#c13639;--nk:#d25849;--nl:#b3192c;--nm:#c84440;--nn:#9c1127;--no:#bf3338;--np:#8a0b25;--nq:#b82531;--nr:#7c0722;--ns:#b3192c;--nt:#6d0220;--nu:#f2f5f6;--nv:#deebf2;--nw:#f2a17f;--nx:#fae8de;--ny:#f0f4f6;--nz:#e98b6e;--o0:#f5aa89;--o1:#fbceb7;--o2:#b1d5e7;--o3:#78b4d5;--o4:#a0cce2;--o5:#a5cee3;--o6:#b1d5e7;--o7:#b1d5e7;--o8:#c0dceb;--o9:#ddebf2;--oa:#f8f3f0;--ob:#cfe4ef;--oc:#c7e0ed;--od:#edf2f5;--oe:#f8f2ef;--of:#fddbc7;--og:#f8f4f2;--oh:#eff3f5;--oi:#f9ebe3;--oj:#f2f5f6;--ok:#faeae1;--ol:#fce2d2;--om:#f6b394;--on:#fbd0b9;--oo:#f9f0eb;--op:#fdddcb;--oq:#f5ac8b;--or:#ba2832;--os:#b72230;--ot:#c84440;--ou:#b82531;--ov:#c84440;--ow:#d05548;--ox:#c43b3c;--oy:#d05548;--oz:#c6413e;--p0:#c84440;--p1:#a21328;--p2:#930e26;--p3:#8d0c25;--p4:#960f27;--p5:#9c1127;--p6:#a21328;--p7:#930e26;--p8:#9c1127;--p9:#b1182b;--pa:#ae172a;--pb:#8a0b25;--pc:#930e26;--pd:#a51429;--pe:#840924;--pf:#8a0b25;--pg:#991027;--ph:#8d0c25;--pi:#960f27;--pj:#870a24;--pk:#840924;--pl:#8a0b25;--pm:#840924"/>
<use href="#A" transform="translate(99.65 301.40)" style="--a0:#2f79b5;--a1:#1a5899;--a2:#3783bb;--a3:#266caf;--a4:#4997c5;--a5:#3c8abe;--a6:#7bb6d6;--a7:#78b4d5;--a8:#b1d5e7;--a9:#bbdaea;--aa:#dbeaf2;--ab:#e4eef4;--ac:#f2f5f6;--ad:#f5aa89;--ae:#307ab6;--af:#1b5a9c;--ag:#3885bc;--ah:#266caf;--ai:#4695c4;--aj:#3783bb;--ak:#68abd0;--al:#5ca3cb;--am:#98c8e0;--an:#8dc2dc;--ao:#b6d7e8;--ap:#aed3e6;--aq:#cae1ee;--ar:#3783bb;--as:#2065ab;--at:#3b88be;--au:#266caf;--av:#71b0d3;--aw:#408fc1;--ax:#71b0d3;--ay:#408fc1;--az:#a7d0e4;--b0:#81bad8;--b1:#98c8e0;--b2:#f5aa89;--b3:#c2ddec;--b4:#b8d8e9;--b5:#cce2ef;--b6:#cce2ef;--b7:#e0ecf3;--b8:#e9f0f4;--b9:#f8f3f0;--ba:#f9ede5;--bb:#fce2d2;--bc:#fbceb7;--bd:#fac8af;--be:#ef9979;--bf:#f3a481;--bg:#c94741;--bh:#d1e5f0;--bi:#d2e6f0;--bj:#e3edf3;--bk:#eff3f5;--bl:#f8f2ef;--bm:#fbe3d4;--bn:#fdd9c4;--bo:#f6af8e;--bp:#f5a886;--bq:#db6b55;--br:#e27b62;--bs:#c2383a;--bt:#d05548;--bu:#a21328;--bv:#d5e7f1;--bw:#dae9f2;--bx:#eaf1f5;--by:#f7f5f4;--bz:#faeae1;--c0:#fcd7c2;--c1:#fac8af;--c2:#ee9677;--c3:#ee9677;--c4:#d05548;--c5:#da6853;--c6:#b72230;--c7:#c84440;--c8:#991027;--c9:#d5e7f1;--ca:#d8e9f1;--cb:#eaf1f5;--cc:#f7f6f6;--cd:#faeae1;--ce:#fcd5bf;--cf:#f9c6ac;--cg:#ec9374;--ch:#ec9374;--ci:#cf5246;--cj:#d86551;--ck:#b72230;--cl:#c84440;--cm:#960f27;--cn:#d2e6f0;--co:#d8e9f1;--cp:#e9f0f4;--cq:#f7f5f4;--cr:#fae9df;--cs:#fcd3bc;--ct:#f9c6ac;--cu:#ee9677;--cv:#ec9374;--cw:#cf5246;--cx:#d7634f;--cy:#b61f2e;--cz:#c84440;--d0:#960f27;--d1:#cfe4ef;--d2:#d4e6f1;--d3:#e7f0f4;--d4:#f6f7f7;--d5:#f9ede5;--d6:#fcd7c2;--d7:#fac8af;--d8:#ee9677;--d9:#ee9677;--da:#cf5246;--db:#d86551;--dc:#b72230;--dd:#c84440;--de:#960f27;--df:#cae1ee;--dg:#cfe4ef;--dh:#e3edf3;--di:#eff3f5;--dj:#f9eee7;--dk:#fddcc9;--dl:#fbccb4;--dm:#f19e7d;--dn:#ef9979;--do:#d25849;--dp:#da6853;--dq:#b72230;--dr:#c94741;--ds:#991027;--dt:#c5dfec;--du:#c7e0ed;--dv:#deebf2;--dw:#ecf2f5;--dx:#f8f2ef;--dy:#fce0d0;--dz:#fcd5bf;--e0:#f4a683;--e1:#f2a17f;--e2:#d7634f;--e3:#dc6e57;--e4:#bb2a34;--e5:#cb4942;--e6:#9c1127;--e7:#bddbea;--e8:#bddbea;--e9:#d8e9f1;--ea:#e4eef4;--eb:#f6f7f7;--ec:#fae8de;--ed:#fdddcb;--ee:#f7b596;--ef:#f6af8e;--eg:#de735c;--eh:#e27b62;--ei:#c43b3c;--ej:#d05548;--ek:#a21328;--el:#b8d8e9;--em:#b3d6e8;--en:#d4e6f1;--eo:#ddebf2;--ep:#eff3f5;--eq:#f9efe9;--er:#fbe4d6;--es:#f9c4a9;--et:#f8bb9e;--eu:#e6866a;--ev:#e8896c;--ew:#cc4c44;--ex:#d86551;--ey:#a81529;--ez:#aed3e6;--f0:#a7d0e4;--f1:#c7e0ed;--f2:#cce2ef;--f3:#e1edf3;--f4:#eff3f5;--f5:#f9f0eb;--f6:#fcdecd;--f7:#fcd5bf;--f8:#f5aa89;--f9:#f5a886;--fa:#de735c;--fb:#e48066;--fc:#b61f2e;--fd:#a0cce2;--fe:#96c7df;--ff:#b3d6e8;--fg:#b6d7e8;--fh:#d4e6f1;--fi:#deebf2;--fj:#f2f5f6;--fk:#f9eee7;--fl:#fce2d2;--fm:#f9c6ac;--fn:#f8bfa4;--fo:#ee9677;--fp:#f19e7d;--fq:#be3036;--fr:#87beda;--fs:#6eaed2;--ft:#9bc9e0;--fu:#93c6de;--fv:#b8d8e9;--fw:#c2ddec;--fx:#deebf2;--fy:#e9f0f4;--fz:#f8f2ef;--g0:#fbe5d8;--g1:#fddcc9;--g2:#f7b99c;--g3:#f8bb9e;--g4:#c94741;--g5:#4f9bc7;--g6:#3885bc;--g7:#65a9cf;--g8:#4997c5;--g9:#87beda;--ga:#84bcd9;--gb:#b6d7e8;--gc:#c0dceb;--gd:#e0ecf3;--ge:#ecf2f5;--gf:#f8f1ed;--gg:#fbe3d4;--gh:#fdddcb;--gi:#d55d4c;--gj:#3885bc;--gk:#246aae;--gl:#4291c2;--gm:#337eb8;--gn:#62a7ce;--go:#529dc8;--gp:#93c6de;--gq:#96c7df;--gr:#c7e0ed;--gs:#d5e7f1;--gt:#ecf2f5;--gu:#f8f4f2;--gv:#faeae1;--gw:#e48066;--gx:#bbdaea;--gy:#a9d1e5;--gz:#bddbea;--h0:#a9d1e5;--h1:#bddbea;--h2:#aed3e6;--h3:#c7e0ed;--h4:#cae1ee;--h5:#e7f0f4;--h6:#fae8de;--h7:#f9c4a9;--h8:#d35a4a;--h9:#cf5246;--ha:#9c1127;--hb:#bbdaea;--hc:#a9d1e5;--hd:#bddbea;--he:#a9d1e5;--hf:#bddbea;--hg:#b1d5e7;--hh:#cae1ee;--hi:#d1e5f0;--hj:#ecf2f5;--hk:#fcdfcf;--hl:#f6b394;--hm:#d05548;--hn:#d05548;--ho:#a21328;--hp:#bbdaea;--hq:#a9d1e5;--hr:#bddbea;--hs:#a9d1e5;--ht:#bddbea;--hu:#b1d5e7;--hv:#cce2ef;--hw:#d2e6f0;--hx:#f2f5f6;--hy:#fddcc9;--hz:#f6b394;--i0:#d05548;--i1:#d6604d;--i2:#b41c2d;--i3:#bbdaea;--i4:#a9d1e5;--i5:#bddbea;--i6:#acd2e5;--i7:#c0dceb;--i8:#b3d6e8;--i9:#d1e5f0;--ia:#d8e9f1;--ib:#f6f7f7;--ic:#fddcc9;--id:#f7b799;--ie:#df765e;--if:#e48066;--ig:#ce4f45;--ih:#bbdaea;--ii:#a7d0e4;--ij:#bbdaea;--ik:#a7d0e4;--il:#bddbea;--im:#b3d6e8;--in:#cfe4ef;--io:#dbeaf2;--ip:#f7f6f6;--iq:#fddcc9;--ir:#f9c4a9;--is:#ec9374;--it:#f2a17f;--iu:#e17860;--iv:#b1d5e7;--iw:#9dcbe1;--ix:#b3d6e8;--iy:#a0cce2;--iz:#b6d7e8;--j0:#a9d1e5;--j1:#cae1ee;--j2:#d4e6f1;--j3:#eff3f5;--j4:#fae9df;--j5:#fcdecd;--j6:#f9c4a9;--j7:#facab1;--j8:#f8bb9e;--j9:#a9d1e5;--ja:#93c6de;--jb:#acd2e5;--jc:#96c7df;--jd:#aed3e6;--je:#9dcbe1;--jf:#c0dceb;--jg:#c7e0ed;--jh:#e7f0f4;--ji:#f8f3f0;--jj:#fae9df;--jk:#fcdecd;--jl:#fcdfcf;--jm:#fdd9c4;--jn:#a0cce2;--jo:#84bcd9;--jp:#a0cce2;--jq:#87beda;--jr:#a5cee3;--js:#90c4dd;--jt:#b1d5e7;--ju:#b3d6e8;--jv:#dae9f2;--jw:#e9f0f4;--jx:#f7f5f4;--jy:#f9efe9;--jz:#f9ede5;--k0:#fae9df;--k1:#90c4dd;--k2:#6eaed2;--k3:#93c6de;--k4:#71b0d3;--k5:#96c7df;--k6:#7bb6d6;--k7:#a2cde3;--k8:#a2cde3;--k9:#d1e5f0;--ka:#ddebf2;--kb:#eff3f5;--kc:#f6f7f7;--kd:#f8f4f2;--ke:#f8f2ef;--kf:#78b4d5;--kg:#4f9bc7;--kh:#7bb6d6;--ki:#529dc8;--kj:#7bb6d6;--kk:#5ca3cb;--kl:#8dc2dc;--km:#8ac0db;--kn:#c0dceb;--ko:#d1e5f0;--kp:#e7f0f4;--kq:#ecf2f5;--kr:#f3f5f6;--ks:#f3f5f6;--kt:#3f8ec0;--ku:#276eb0;--kv:#3f8ec0;--kw:#2870b1;--kx:#408fc1;--ky:#2c75b4;--kz:#529dc8;--l0:#4997c5;--l1:#9bc9e0;--l2:#acd2e5;--l3:#d5e7f1;--l4:#d8e9f1;--l5:#deebf2;--l6:#ddebf2;--l7:#3480b9;--l8:#1b5a9c;--l9:#3480b9;--la:#1b5a9c;--lb:#3681ba;--lc:#2065ab;--ld:#408fc1;--le:#3783bb;--lf:#7bb6d6;--lg:#81bad8;--lh:#acd2e5;--li:#a0cce2;--lj:#2c75b4;--lk:#144e8a;--ll:#2c75b4;--lm:#15508d;--ln:#327cb7;--lo:#195696;--lp:#327cb7;--lq:#195696;--lr:#3f8ec0;--ls:#246aae;--lt:#3c8abe;--lu:#2267ac;--lv:#fbe6da;--lw:#90c4dd;--lx:#65a9cf;--ly:#84bcd9;--lz:#59a1ca;--m0:#84bcd9;--m1:#5ca3cb;--m2:#8ac0db;--m3:#6bacd1;--m4:#98c8e0;--m5:#9dcbe1;--m6:#d7e8f1;--m7:#f9ebe3;--m8:#fac8af;--m9:#d6604d;--ma:#a9d1e5;--mb:#93c6de;--mc:#a9d1e5;--md:#93c6de;--me:#a9d1e5;--mf:#93c6de;--mg:#acd2e5;--mh:#9bc9e0;--mi:#bbdaea;--mj:#c5dfec;--mk:#edf2f5;--ml:#fcd5bf;--mm:#ee9677;--mn:#b1182b;--mo:#bbdaea;--mp:#a7d0e4;--mq:#bbdaea;--mr:#a7d0e4;--ms:#bbdaea;--mt:#a9d1e5;--mu:#bddbea;--mv:#b1d5e7;--mw:#cce2ef;--mx:#d4e6f1;--my:#f5f6f7;--mz:#fcd3bc;--n0:#ee9677;--n1:#ae172a;--n2:#bbdaea;--n3:#a9d1e5;--n4:#bbdaea;--n5:#a9d1e5;--n6:#bddbea;--n7:#acd2e5;--n8:#c0dceb;--n9:#b6d7e8;--na:#d2e6f0;--nb:#deebf2;--nc:#f9f0eb;--nd:#f6af8e;--ne:#e17860;--nf:#a21328;--ng:#bbdaea;--nh:#a9d1e5;--ni:#bbdaea;--nj:#a9d1e5;--nk:#bddbea;--nl:#acd2e5;--nm:#c2ddec;--nn:#bbdaea;--no:#d8e9f1;--np:#edf2f5;--nq:#fbe4d6;--nr:#eb9172;--ns:#da6853;--nt:#9c1127;--nu:#276eb0;--nv:#2a71b2;--nw:#569fc9;--nx:#4c99c6;--ny:#78b4d5;--nz:#84bcd9;--o0:#9bc9e0;--o1:#c2ddec;--o2:#98c8e0;--o3:#327cb7;--o4:#3b88be;--o5:#59a1ca;--o6:#2267ac;--o7:#2870b1;--o8:#3a87bd;--o9:#4f9bc7;--oa:#2870b1;--ob:#4393c3;--oc:#65a9cf;--od:#a5cee3;--oe:#c7e0ed;--of:#edf2f5;--og:#81bad8;--oh:#3885bc;--oi:#4f9bc7;--oj:#2a71b2;--ok:#3783bb;--ol:#5fa5cd;--om:#3a87bd;--on:#337eb8;--oo:#59a1ca;--op:#a0cce2;--oq:#f7f6f6;--or:#3b88be;--os:#2e77b5;--ot:#3681ba;--ou:#185493;--ov:#276eb0;--ow:#3c8abe;--ox:#185493;--oy:#195696;--oz:#3480b9;--p0:#7bb6d6;--p1:#e9f0f4;--p2:#569fc9;--p3:#1d5fa2;--p4:#2f79b5;--p5:#4393c3;--p6:#144e8a;--p7:#185493;--p8:#266caf;--p9:#3885bc;--pa:#15508d;--pb:#1b5a9c;--pc:#2c75b4;--pd:#65a9cf;--pe:#529dc8;--pf:#b3d6e8;--pg:#144e8a;--ph:#15508d;--pi:#1d5fa2;--pj:#1c5c9f;--pk:#2369ad;--pl:#307ab6;--pm:#3c8abe"/>
<use href="#A" transform="translate(198.30 301.40)" style="--a0:#2f79b5;--a1:#1a5899;--a2:#3783bb;--a3:#266caf;--a4:#4997c5;--a5:#3c8abe;--a6:#7bb6d6;--a7:#78b4d5;--a8:#b1d5e7;--a9:#bbdaea;--aa:#dbeaf2;--ab:#e4eef4;--ac:#f2f5f6;--ad:#f5aa89;--ae:#307ab6;--af:#1b5a9c;--ag:#3885bc;--ah:#266caf;--ai:#4695c4;--aj:#3783bb;--ak:#68abd0;--al:#5ca3cb;--am:#98c8e0;--an:#8dc2dc;--ao:#b6d7e8;--ap:#aed3e6;--aq:#cae1ee;--ar:#3783bb;--as:#2065ab;--at:#3b88be;--au:#266caf;--av:#6bacd1;--aw:#3f8ec0;--ax:#6eaed2;--ay:#3f8ec0;--az:#9dcbe1;--b0:#78b4d5;--b1:#93c6de;--b2:#f5aa89;--b3:#b8d8e9;--b4:#aed3e6;--b5:#c5dfec;--b6:#c5dfec;--b7:#dbeaf2;--b8:#e4eef4;--b9:#f7f5f4;--ba:#f9efe9;--bb:#fbe3d4;--bc:#fbd0b9;--bd:#facab1;--be:#f09c7b;--bf:#f3a481;--bg:#c94741;--bh:#c5dfec;--bi:#c7e0ed;--bj:#ddebf2;--bk:#e7f0f4;--bl:#f7f5f4;--bm:#fbe6da;--bn:#fddcc9;--bo:#f7b596;--bp:#f5ac8b;--bq:#dc6e57;--br:#e27b62;--bs:#c2383a;--bt:#d05548;--bu:#a21328;--bv:#cfe4ef;--bw:#d2e6f0;--bx:#e4eef4;--by:#f2f5f6;--bz:#f9eee7;--c0:#fddcc9;--c1:#fbccb4;--c2:#f09c7b;--c3:#f09c7b;--c4:#d35a4a;--c5:#da6853;--c6:#b72230;--c7:#c94741;--c8:#991027;--c9:#cce2ef;--ca:#d1e5f0;--cb:#e4eef4;--cc:#f2f5f6;--cd:#f9eee7;--ce:#fddbc7;--cf:#fbccb4;--cg:#f09c7b;--ch:#ef9979;--ci:#d05548;--cj:#d86551;--ck:#b72230;--cl:#c84440;--cm:#960f27;--cn:#cae1ee;--co:#d1e5f0;--cp:#e3edf3;--cq:#f3f5f6;--cr:#f9ede5;--cs:#fdd9c4;--ct:#facab1;--cu:#f09c7b;--cv:#ee9677;--cw:#d05548;--cx:#d86551;--cy:#b61f2e;--cz:#c84440;--d0:#960f27;--d1:#c5dfec;--d2:#cae1ee;--d3:#e1edf3;--d4:#eff3f5;--d5:#f9f0eb;--d6:#fddcc9;--d7:#fbccb4;--d8:#f09c7b;--d9:#ef9979;--da:#d05548;--db:#da6853;--dc:#b72230;--dd:#c84440;--de:#960f27;--df:#c0dceb;--dg:#c2ddec;--dh:#deebf2;--di:#e9f0f4;--dj:#f8f1ed;--dk:#fce0d0;--dl:#fbd0b9;--dm:#f3a481;--dn:#f09c7b;--do:#d35a4a;--dp:#db6b55;--dq:#b72230;--dr:#c94741;--ds:#991027;--dt:#bbdaea;--du:#bbdaea;--dv:#dae9f2;--dw:#e6eff4;--dx:#f7f5f4;--dy:#fbe4d6;--dz:#fdd9c4;--e0:#f5aa89;--e1:#f3a481;--e2:#d86551;--e3:#dd7059;--e4:#bd2d35;--e5:#cc4c44;--e6:#9c1127;--e7:#b3d6e8;--e8:#b1d5e7;--e9:#d4e6f1;--ea:#deebf2;--eb:#f2f5f6;--ec:#f9ebe3;--ed:#fcdfcf;--ee:#f7b99c;--ef:#f6b191;--eg:#e17860;--eh:#e27b62;--ei:#c53e3d;--ej:#d05548;--ek:#a51429;--el:#aed3e6;--em:#a9d1e5;--en:#cfe4ef;--eo:#d7e8f1;--ep:#ecf2f5;--eq:#f8f2ef;--er:#fbe6da;--es:#fac8af;--et:#f8bfa4;--eu:#e8896c;--ev:#e98b6e;--ew:#cc4c44;--ex:#d86551;--ey:#a81529;--ez:#a5cee3;--f0:#9bc9e0;--f1:#c0dceb;--f2:#c5dfec;--f3:#ddebf2;--f4:#eaf1f5;--f5:#f8f2ef;--f6:#fce0d0;--f7:#fcd7c2;--f8:#f5ac8b;--f9:#f5aa89;--fa:#de735c;--fb:#e48066;--fc:#b61f2e;--fd:#98c8e0;--fe:#8ac0db;--ff:#acd2e5;--fg:#aed3e6;--fh:#cfe4ef;--fi:#dae9f2;--fj:#eff3f5;--fk:#f8f1ed;--fl:#fbe3d4;--fm:#fac8af;--fn:#f9c2a7;--fo:#ee9677;--fp:#f19e7d;--fq:#be3036;--fr:#7eb8d7;--fs:#65a9cf;--ft:#96c7df;--fu:#8ac0db;--fv:#b3d6e8;--fw:#bbdaea;--fx:#dbeaf2;--fy:#e6eff4;--fz:#f8f3f0;--g0:#fbe6da;--g1:#fdddcb;--g2:#f7b99c;--g3:#f8bda1;--g4:#c94741;--g5:#4c99c6;--g6:#3681ba;--g7:#62a7ce;--g8:#4695c4;--g9:#84bcd9;--ga:#81bad8;--gb:#b6d7e8;--gc:#c0dceb;--gd:#deebf2;--ge:#ecf2f5;--gf:#f8f1ed;--gg:#fbe3d4;--gh:#fdddcb;--gi:#d55d4c;--gj:#3885bc;--gk:#246aae;--gl:#4291c2;--gm:#337eb8;--gn:#62a7ce;--go:#529dc8;--gp:#93c6de;--gq:#96c7df;--gr:#c7e0ed;--gs:#d5e7f1;--gt:#ecf2f5;--gu:#f8f4f2;--gv:#faeae1;--gw:#e48066;--gx:#b1d5e7;--gy:#9bc9e0;--gz:#b1d5e7;--h0:#9dcbe1;--h1:#b1d5e7;--h2:#a2cde3;--h3:#bbdaea;--h4:#bddbea;--h5:#e1edf3;--h6:#f9ebe3;--h7:#fac8af;--h8:#d6604d;--h9:#cf5246;--ha:#9c1127;--hb:#b1d5e7;--hc:#9bc9e0;--hd:#b1d5e7;--he:#9dcbe1;--hf:#b3d6e8;--hg:#a2cde3;--hh:#bddbea;--hi:#c5dfec;--hj:#e7f0f4;--hk:#fbe3d4;--hl:#f7b799;--hm:#d25849;--hn:#d25849;--ho:#a21328;--hp:#b1d5e7;--hq:#9bc9e0;--hr:#b1d5e7;--hs:#9dcbe1;--ht:#b3d6e8;--hu:#a5cee3;--hv:#c2ddec;--hw:#c7e0ed;--hx:#ecf2f5;--hy:#fcdfcf;--hz:#f7b596;--i0:#d25849;--i1:#d6604d;--i2:#b41c2d;--i3:#b1d5e7;--i4:#9bc9e0;--i5:#b1d5e7;--i6:#9dcbe1;--i7:#b3d6e8;--i8:#a5cee3;--i9:#c5dfec;--ia:#d1e5f0;--ib:#f0f4f6;--ic:#fcdecd;--id:#f7b99c;--ie:#e17860;--if:#e48066;--ig:#ce4f45;--ih:#aed3e6;--ii:#98c8e0;--ij:#aed3e6;--ik:#9bc9e0;--il:#b3d6e8;--im:#a5cee3;--in:#c5dfec;--io:#d4e6f1;--ip:#f3f5f6;--iq:#fcdecd;--ir:#f9c6ac;--is:#ec9374;--it:#f2a17f;--iu:#e17860;--iv:#a7d0e4;--iw:#90c4dd;--ix:#a7d0e4;--iy:#93c6de;--iz:#acd2e5;--j0:#9dcbe1;--j1:#c0dceb;--j2:#cce2ef;--j3:#eaf1f5;--j4:#f9ebe3;--j5:#fcdfcf;--j6:#f9c6ac;--j7:#fbccb4;--j8:#f8bb9e;--j9:#a0cce2;--ja:#84bcd9;--jb:#a0cce2;--jc:#87beda;--jd:#a5cee3;--je:#93c6de;--jf:#b6d7e8;--jg:#bddbea;--jh:#e4eef4;--ji:#f8f4f2;--jj:#faeae1;--jk:#fcdecd;--jl:#fcdfcf;--jm:#fdd9c4;--jn:#96c7df;--jo:#75b2d4;--jp:#96c7df;--jq:#78b4d5;--jr:#9bc9e0;--js:#84bcd9;--jt:#a9d1e5;--ju:#acd2e5;--jv:#d7e8f1;--jw:#e6eff4;--jx:#f7f5f4;--jy:#f9efe9;--jz:#f9ede5;--k0:#fae9df;--k1:#84bcd9;--k2:#62a7ce;--k3:#87beda;--k4:#65a9cf;--k5:#8ac0db;--k6:#6eaed2;--k7:#9bc9e0;--k8:#9bc9e0;--k9:#cce2ef;--ka:#dbeaf2;--kb:#eff3f5;--kc:#f6f7f7;--kd:#f8f4f2;--ke:#f8f3f0;--kf:#6eaed2;--kg:#4695c4;--kh:#71b0d3;--ki:#4997c5;--kj:#71b0d3;--kk:#529dc8;--kl:#84bcd9;--km:#81bad8;--kn:#bddbea;--ko:#cfe4ef;--kp:#e6eff4;--kq:#ecf2f5;--kr:#f2f5f6;--ks:#f3f5f6;--kt:#3e8cbf;--ku:#266caf;--kv:#3f8ec0;--kw:#276eb0;--kx:#408fc1;--ky:#2c75b4;--kz:#529dc8;--l0:#4695c4;--l1:#9bc9e0;--l2:#acd2e5;--l3:#d5e7f1;--l4:#d8e9f1;--l5:#deebf2;--l6:#ddebf2;--l7:#3480b9;--l8:#1b5a9c;--l9:#3480b9;--la:#1b5a9c;--lb:#3681ba;--lc:#2065ab;--ld:#408fc1;--le:#3783bb;--lf:#7bb6d6;--lg:#81bad8;--lh:#acd2e5;--li:#a0cce2;--lj:#2c75b4;--lk:#144e8a;--ll:#2c75b4;--lm:#15508d;--ln:#327cb7;--lo:#195696;--lp:#327cb7;--lq:#195696;--lr:#3e8cbf;--ls:#2369ad;--lt:#3c8abe;--lu:#2065ab;--lv:#fbe6da;--lw:#87beda;--lx:#59a1ca;--ly:#7bb6d6;--lz:#4c99c6;--m0:#7bb6d6;--m1:#4f9bc7;--m2:#81bad8;--m3:#5fa5cd;--m4:#90c4dd;--m5:#93c6de;--m6:#d4e6f1;--m7:#f9eee7;--m8:#facab1;--m9:#d7634f;--ma:#a0cce2;--mb:#81bad8;--mc:#a0cce2;--md:#84bcd9;--me:#a0cce2;--mf:#84bcd9;--mg:#a2cde3;--mh:#8dc2dc;--mi:#b1d5e7;--mj:#bbdaea;--mk:#e9f0f4;--ml:#fddbc7;--mm:#ef9979;--mn:#b1182b;--mo:#aed3e6;--mp:#9bc9e0;--mq:#aed3e6;--mr:#9bc9e0;--ms:#aed3e6;--mt:#9bc9e0;--mu:#b1d5e7;--mv:#a2cde3;--mw:#c0dceb;--mx:#c7e0ed;--my:#eff3f5;--mz:#fdd9c4;--n0:#ef9979;--n1:#b1182b;--n2:#b1d5e7;--n3:#9bc9e0;--n4:#b1d5e7;--n5:#9bc9e0;--n6:#b1d5e7;--n7:#9dcbe1;--n8:#b3d6e8;--n9:#a9d1e5;--na:#cae1ee;--nb:#d7e8f1;--nc:#f8f4f2;--nd:#f7b596;--ne:#e27b62;--nf:#a51429;--ng:#b1d5e7;--nh:#9bc9e0;--ni:#b1d5e7;--nj:#9bc9e0;--nk:#b1d5e7;--nl:#9dcbe1;--nm:#b6d7e8;--nn:#acd2e5;--no:#d2e6f0;--np:#e6eff4;--nq:#fbe6da;--nr:#ee9677;--ns:#db6b55;--nt:#9f1228;--nu:#266caf;--nv:#2a71b2;--nw:#4f9bc7;--nx:#4997c5;--ny:#75b2d4;--nz:#7eb8d7;--o0:#96c7df;--o1:#c0dceb;--o2:#98c8e0;--o3:#327cb7;--o4:#3b88be;--o5:#59a1ca;--o6:#2267ac;--o7:#2870b1;--o8:#3a87bd;--o9:#4f9bc7;--oa:#2870b1;--ob:#4291c2;--oc:#65a9cf;--od:#a5cee3;--oe:#c7e0ed;--of:#ecf2f5;--og:#81bad8;--oh:#3885bc;--oi:#4f9bc7;--oj:#2a71b2;--ok:#3783bb;--ol:#5fa5cd;--om:#3885bc;--on:#337eb8;--oo:#59a1ca;--op:#a0cce2;--oq:#f7f6f6;--or:#3b88be;--os:#2e77b5;--ot:#3681ba;--ou:#185493;--ov:#276eb0;--ow:#3c8abe;--ox:#185493;--oy:#195696;--oz:#3480b9;--p0:#7bb6d6;--p1:#e9f0f4;--p2:#569fc9;--p3:#1d5fa2;--p4:#2f79b5;--p5:#4393c3;--p6:#144e8a;--p7:#185493;--p8:#266caf;--p9:#3885bc;--pa:#15508d;--pb:#1b5a9c;--pc:#2c75b4;--pd:#65a9cf;--pe:#4f9bc7;--pf:#b1d5e7;--pg:#144e8a;--ph:#15508d;--pi:#1d5fa2;--pj:#1c5c9f;--pk:#2267ac;--pl:#2f79b5;--pm:#3b88be"/>
<use href="#A" transform="translate(1.00 402.80)" style="--a0:#db6b55;--a1:#b82531;--a2:#fcd7c2;--a3:#acd2e5;--a4:#3b88be;--a5:#62a7ce;--a6:#fae7dc;--a7:#be3036;--a8:#bb2a34;--a9:#840924;--aa:#bb2a34;--ab:#8a0b25;--ac:#bf3338;--ad:#9c1127;--ae:#e7f0f4;--af:#fbe5d8;--ag:#fcdfcf;--ah:#c7e0ed;--ai:#75b2d4;--aj:#87beda;--ak:#f9eee7;--al:#e27b62;--am:#df765e;--an:#d55d4c;--ao:#e6866a;--ap:#db6b55;--aq:#ea8e70;--ar:#4f9bc7;--as:#93c6de;--at:#faeae1;--au:#eaf1f5;--av:#569fc9;--aw:#93c6de;--ax:#f9efe9;--ay:#f8f1ed;--az:#e0ecf3;--b0:#eaf1f5;--b1:#f9ede5;--b2:#f19e7d;--b3:#d86551;--b4:#c84440;--b5:#ea8e70;--b6:#df765e;--b7:#f2a17f;--b8:#e6866a;--b9:#ef9979;--ba:#ee9677;--bb:#f2a17f;--bc:#e27b62;--bd:#e8896c;--be:#c13639;--bf:#d25849;--bg:#b1182b;--bh:#c6413e;--bi:#991027;--bj:#bf3338;--bk:#8d0c25;--bl:#bd2d35;--bm:#8a0b25;--bn:#bb2a34;--bo:#810823;--bp:#b82531;--bq:#790622;--br:#b61f2e;--bs:#730421;--bt:#b1182b;--bu:#760521;--bv:#c6413e;--bw:#930e26;--bx:#bd2d35;--by:#870a24;--bz:#ba2832;--c0:#7f0823;--c1:#b72230;--c2:#790622;--c3:#b41c2d;--c4:#730421;--c5:#b3192c;--c6:#6d0220;--c7:#b1182b;--c8:#760521;--c9:#c6413e;--ca:#930e26;--cb:#bd2d35;--cc:#870a24;--cd:#ba2832;--ce:#7f0823;--cf:#b72230;--cg:#790622;--ch:#b41c2d;--ci:#730421;--cj:#b3192c;--ck:#700320;--cl:#b1182b;--cm:#760521;--cn:#c6413e;--co:#930e26;--cp:#bd2d35;--cq:#870a24;--cr:#ba2832;--cs:#7f0823;--ct:#b72230;--cu:#790622;--cv:#b41c2d;--cw:#730421;--cx:#b3192c;--cy:#6d0220;--cz:#b1182b;--d0:#760521;--d1:#c6413e;--d2:#930e26;--d3:#bd2d35;--d4:#870a24;--d5:#ba2832;--d6:#7f0823;--d7:#b72230;--d8:#790622;--d9:#b41c2d;--da:#730421;--db:#b3192c;--dc:#700320;--dd:#b1182b;--de:#760521;--df:#c6413e;--dg:#930e26;--dh:#bd2d35;--di:#870a24;--dj:#ba2832;--dk:#7f0823;--dl:#b72230;--dm:#790622;--dn:#b41c2d;--do:#730421;--dp:#b3192c;--dq:#6d0220;--dr:#b1182b;--ds:#760521;--dt:#c6413e;--du:#930e26;--dv:#bd2d35;--dw:#870a24;--dx:#ba2832;--dy:#7f0823;--dz:#b72230;--e0:#790622;--e1:#b41c2d;--e2:#730421;--e3:#b3192c;--e4:#6d0220;--e5:#b1182b;--e6:#760521;--e7:#c6413e;--e8:#930e26;--e9:#bd2d35;--ea:#870a24;--eb:#ba2832;--ec:#7f0823;--ed:#b72230;--ee:#790622;--ef:#b41c2d;--eg:#730421;--eh:#b3192c;--ei:#6d0220;--ej:#b1182b;--ek:#760521;--el:#c6413e;--em:#930e26;--en:#bd2d35;--eo:#870a24;--ep:#ba2832;--eq:#7f0823;--er:#b72230;--es:#790622;--et:#b41c2d;--eu:#730421;--ev:#b3192c;--ew:#6d0220;--ex:#b1182b;--ey:#760521;--ez:#c6413e;--f0:#930e26;--f1:#bd2d35;--f2:#870a24;--f3:#ba2832;--f4:#7f0823;--f5:#b72230;--f6:#790622;--f7:#b41c2d;--f8:#730421;--f9:#b3192c;--fa:#6d0220;--fb:#b1182b;--fc:#760521;--fd:#c84440;--fe:#960f27;--ff:#bf3338;--fg:#8d0c25;--fh:#bd2d35;--fi:#840924;--fj:#b82531;--fk:#790622;--fl:#b41c2d;--fm:#730421;--fn:#b3192c;--fo:#700320;--fp:#b1182b;--fq:#760521;--fr:#ce4f45;--fs:#9f1228;--ft:#d86551;--fu:#dc6e57;--fv:#f2a17f;--fw:#cf5246;--fx:#d25849;--fy:#8a0b25;--fz:#b61f2e;--g0:#760521;--g1:#b3192c;--g2:#700320;--g3:#b1182b;--g4:#760521;--g5:#d35a4a;--g6:#ae172a;--g7:#f7b99c;--g8:#e6eff4;--g9:#acd2e5;--ga:#d8e9f1;--gb:#fbccb4;--gc:#a21328;--gd:#b72230;--ge:#790622;--gf:#b41c2d;--gg:#700320;--gh:#b1182b;--gi:#760521;--gj:#d6604d;--gk:#b41c2d;--gl:#fcd5bf;--gm:#b6d7e8;--gn:#3e8cbf;--go:#62a7ce;--gp:#fbe6da;--gq:#bd2d35;--gr:#b72230;--gs:#790622;--gt:#b41c2d;--gu:#730421;--gv:#b1182b;--gw:#760521;--gx:#c2383a;--gy:#8d0c25;--gz:#bb2a34;--h0:#810823;--h1:#b72230;--h2:#7c0722;--h3:#b61f2e;--h4:#760521;--h5:#b3192c;--h6:#700320;--h7:#b1182b;--h8:#6d0220;--h9:#ae172a;--ha:#6a011f;--hb:#c2383a;--hc:#8d0c25;--hd:#bb2a34;--he:#810823;--hf:#b72230;--hg:#7c0722;--hh:#b61f2e;--hi:#760521;--hj:#b3192c;--hk:#700320;--hl:#b1182b;--hm:#6d0220;--hn:#ae172a;--ho:#6a011f;--hp:#c2383a;--hq:#8d0c25;--hr:#bb2a34;--hs:#810823;--ht:#b72230;--hu:#7c0722;--hv:#b61f2e;--hw:#760521;--hx:#b3192c;--hy:#700320;--hz:#b1182b;--i0:#6d0220;--i1:#ae172a;--i2:#6a011f;--i3:#c94741;--i4:#991027;--i5:#be3036;--i6:#8a0b25;--i7:#ba2832;--i8:#810823;--i9:#b72230;--ia:#790622;--ib:#b41c2d;--ic:#730421;--id:#b3192c;--ie:#700320;--if:#b1182b;--ig:#6a011f;--ih:#cf5246;--ii:#a51429;--ij:#c2383a;--ik:#930e26;--il:#bd2d35;--im:#870a24;--in:#ba2832;--io:#7f0823;--ip:#b61f2e;--iq:#760521;--ir:#b3192c;--is:#700320;--it:#b1182b;--iu:#6a011f;--iv:#dc6e57;--iw:#b82531;--ix:#cb4942;--iy:#a21328;--iz:#c2383a;--j0:#930e26;--j1:#bd2d35;--j2:#870a24;--j3:#b82531;--j4:#7c0722;--j5:#b61f2e;--j6:#730421;--j7:#b1182b;--j8:#6a011f;--j9:#e37e64;--ja:#be3036;--jb:#cf5246;--jc:#ae172a;--jd:#c6413e;--je:#991027;--jf:#bf3338;--jg:#8a0b25;--jh:#ba2832;--ji:#7f0823;--jj:#b61f2e;--jk:#760521;--jl:#b1182b;--jm:#6d0220;--jn:#ee9677;--jo:#d35a4a;--jp:#da6853;--jq:#b61f2e;--jr:#c94741;--js:#9f1228;--jt:#c13639;--ju:#900d26;--jv:#bb2a34;--jw:#810823;--jx:#b72230;--jy:#760521;--jz:#b3192c;--k0:#6d0220;--k1:#e0ecf3;--k2:#f6f7f7;--k3:#f8bfa4;--k4:#d6604d;--k5:#ce4f45;--k6:#ab162a;--k7:#c53e3d;--k8:#960f27;--k9:#be3036;--ka:#870a24;--kb:#b82531;--kc:#790622;--kd:#b3192c;--ke:#6d0220;--kf:#4f9bc7;--kg:#529dc8;--kh:#f9ebe3;--ki:#f2a17f;--kj:#d25849;--kk:#b3192c;--kl:#c84440;--km:#9c1127;--kn:#bf3338;--ko:#8a0b25;--kp:#ba2832;--kq:#7c0722;--kr:#b3192c;--ks:#6d0220;--kt:#3c8abe;--ku:#3a87bd;--kv:#f9efe9;--kw:#f5a886;--kx:#d55d4c;--ky:#b61f2e;--kz:#c94741;--l0:#a21328;--l1:#c13639;--l2:#8d0c25;--l3:#ba2832;--l4:#7c0722;--l5:#b41c2d;--l6:#700320;--l7:#4f9bc7;--l8:#62a7ce;--l9:#fbe6da;--la:#e8896c;--lb:#d05548;--lc:#b1182b;--ld:#c6413e;--le:#9c1127;--lf:#bf3338;--lg:#8a0b25;--lh:#bb2a34;--li:#810823;--lj:#deebf2;--lk:#fae7dc;--ll:#f5a886;--lm:#d05548;--ln:#f5ac8b;--lo:#d25849;--lp:#d05548;--lq:#a51429;--lr:#e17860;--ls:#bb2a34;--lt:#c53e3d;--lu:#960f27;--lv:#d25849;--lw:#c84440;--lx:#960f27;--ly:#bd2d35;--lz:#840924;--m0:#b82531;--m1:#7c0722;--m2:#b61f2e;--m3:#790622;--m4:#b41c2d;--m5:#760521;--m6:#b3192c;--m7:#730421;--m8:#b82531;--m9:#810823;--ma:#c2383a;--mb:#8d0c25;--mc:#bb2a34;--md:#810823;--me:#b72230;--mf:#7c0722;--mg:#b61f2e;--mh:#760521;--mi:#b3192c;--mj:#730421;--mk:#b1182b;--ml:#6d0220;--mm:#ae172a;--mn:#6a011f;--mo:#c2383a;--mp:#8d0c25;--mq:#bb2a34;--mr:#810823;--ms:#b72230;--mt:#7c0722;--mu:#b61f2e;--mv:#760521;--mw:#b3192c;--mx:#700320;--my:#b1182b;--mz:#6d0220;--n0:#ae172a;--n1:#6a011f;--n2:#c2383a;--n3:#8d0c25;--n4:#bb2a34;--n5:#810823;--n6:#b72230;--n7:#7c0722;--n8:#b61f2e;--n9:#760521;--na:#b3192c;--nb:#700320;--nc:#b1182b;--nd:#6d0220;--ne:#ae172a;--nf:#6a011f;--ng:#c2383a;--nh:#8d0c25;--ni:#bb2a34;--nj:#810823;--nk:#b72230;--nl:#7c0722;--nm:#b61f2e;--nn:#760521;--no:#b3192c;--np:#700320;--nq:#b1182b;--nr:#6d0220;--ns:#ae172a;--nt:#6a011f;--nu:#eff3f5;--nv:#e0ecf3;--nw:#deebf2;--nx:#cae1ee;--ny:#eff3f5;--nz:#f8f4f2;--o0:#e1edf3;--o1:#f9efe9;--o2:#fddbc7;--o3:#fae9df;--o4:#fbe4d6;--o5:#fbe4d6;--o6:#fddcc9;--o7:#f8f3f0;--o8:#f7f5f4;--o9:#d1e5f0;--oa:#faeae1;--ob:#f7f5f4;--oc:#f9ebe3;--od:#f9f0eb;--oe:#f9c4a9;--of:#f5ac8b;--og:#87beda;--oh:#a0cce2;--oi:#87beda;--oj:#a5cee3;--ok:#98c8e0;--ol:#9bc9e0;--om:#e4eef4;--on:#b6d7e8;--oo:#c5dfec;--op:#bbdaea;--oq:#fcdfcf;--or:#df765e;--os:#db6b55;--ot:#f5aa89;--ou:#dd7059;--ov:#f5aa89;--ow:#f9c2a7;--ox:#e8896c;--oy:#f8bda1;--oz:#f19e7d;--p0:#f5a886;--p1:#c13639;--p2:#ab162a;--p3:#991027;--p4:#ae172a;--p5:#b61f2e;--p6:#c43b3c;--p7:#a21328;--p8:#b61f2e;--p9:#cb4942;--pa:#cb4942;--pb:#8d0c25;--pc:#9f1228;--pd:#be3036;--pe:#840924;--pf:#930e26;--pg:#bd2d35;--ph:#991027;--pi:#930e26;--pj:#870a24;--pk:#840924;--pl:#810823;--pm:#7f0823"/>
<use href="#A" transform="translate(99.65 402.80)" style="--a0:#2f79b5;--a1:#1a5899;--a2:#3783bb;--a3:#266caf;--a4:#4997c5;--a5:#3c8abe;--a6:#7bb6d6;--a7:#78b4d5;--a8:#b1d5e7;--a9:#bbdaea;--aa:#dbeaf2;--ab:#e4eef4;--ac:#f2f5f6;--ad:#f5a886;--ae:#307ab6;--af:#1b5a9c;--ag:#3885bc;--ah:#266caf;--ai:#4695c4;--aj:#3783bb;--ak:#6bacd1;--al:#5ca3cb;--am:#98c8e0;--an:#8dc2dc;--ao:#b6d7e8;--ap:#aed3e6;--aq:#cae1ee;--ar:#3783bb;--as:#2065ab;--at:#3b88be;--au:#266caf;--av:#71b0d3;--aw:#4291c2;--ax:#71b0d3;--ay:#408fc1;--az:#a7d0e4;--b0:#81bad8;--b1:#9bc9e0;--b2:#f4a683;--b3:#c2ddec;--b4:#b8d8e9;--b5:#cce2ef;--b6:#cfe4ef;--b7:#e0ecf3;--b8:#eaf1f5;--b9:#f8f2ef;--ba:#f9ebe3;--bb:#fce0d0;--bc:#facab1;--bd:#f9c6ac;--be:#ec9374;--bf:#f19e7d;--bg:#c53e3d;--bh:#d1e5f0;--bi:#d2e6f0;--bj:#e3edf3;--bk:#eff3f5;--bl:#f8f1ed;--bm:#fce2d2;--bn:#fcd7c2;--bo:#f5ac8b;--bp:#f4a683;--bq:#d86551;--br:#df765e;--bs:#be3036;--bt:#ce4f45;--bu:#991027;--bv:#d5e7f1;--bw:#dae9f2;--bx:#eaf1f5;--by:#f7f5f4;--bz:#fae9df;--c0:#fcd5bf;--c1:#f9c6ac;--c2:#ec9374;--c3:#ec9374;--c4:#ce4f45;--c5:#d7634f;--c6:#b41c2d;--c7:#c53e3d;--c8:#900d26;--c9:#d5e7f1;--ca:#d8e9f1;--cb:#ecf2f5;--cc:#f7f5f4;--cd:#fae9df;--ce:#fbd0b9;--cf:#f9c4a9;--cg:#eb9172;--ch:#eb9172;--ci:#cc4c44;--cj:#d6604d;--ck:#b3192c;--cl:#c53e3d;--cm:#900d26;--cn:#d2e6f0;--co:#d8e9f1;--cp:#e9f0f4;--cq:#f8f4f2;--cr:#fae9df;--cs:#fbd0b9;--ct:#f9c4a9;--cu:#eb9172;--cv:#eb9172;--cw:#cc4c44;--cx:#d55d4c;--cy:#b1182b;--cz:#c53e3d;--d0:#900d26;--d1:#cfe4ef;--d2:#d4e6f1;--d3:#e7f0f4;--d4:#f6f7f7;--d5:#f9ebe3;--d6:#fcd5bf;--d7:#f9c6ac;--d8:#eb9172;--d9:#eb9172;--da:#cc4c44;--db:#d6604d;--dc:#b3192c;--dd:#c53e3d;--de:#900d26;--df:#cae1ee;--dg:#d1e5f0;--dh:#e4eef4;--di:#f0f4f6;--dj:#f9ede5;--dk:#fddbc7;--dl:#facab1;--dm:#ef9979;--dn:#ee9677;--do:#cf5246;--dp:#d7634f;--dq:#b41c2d;--dr:#c6413e;--ds:#900d26;--dt:#c5dfec;--du:#c7e0ed;--dv:#e0ecf3;--dw:#edf2f5;--dx:#f8f1ed;--dy:#fcdfcf;--dz:#fcd3bc;--e0:#f3a481;--e1:#f09c7b;--e2:#d55d4c;--e3:#db6b55;--e4:#b82531;--e5:#c94741;--e6:#930e26;--e7:#bddbea;--e8:#bddbea;--e9:#dae9f2;--ea:#e4eef4;--eb:#f6f7f7;--ec:#fae7dc;--ed:#fddcc9;--ee:#f6b394;--ef:#f5ac8b;--eg:#dd7059;--eh:#df765e;--ei:#c13639;--ej:#ce4f45;--ek:#9c1127;--el:#b8d8e9;--em:#b3d6e8;--en:#d5e7f1;--eo:#ddebf2;--ep:#f0f4f6;--eq:#f9eee7;--er:#fbe3d4;--es:#f9c2a7;--et:#f7b99c;--eu:#e48066;--ev:#e6866a;--ew:#c94741;--ex:#d6604d;--ey:#a21328;--ez:#aed3e6;--f0:#a7d0e4;--f1:#c7e0ed;--f2:#cfe4ef;--f3:#e1edf3;--f4:#f0f4f6;--f5:#f9efe9;--f6:#fdddcb;--f7:#fbd0b9;--f8:#f4a683;--f9:#f4a683;--fa:#dc6e57;--fb:#e27b62;--fc:#b3192c;--fd:#a0cce2;--fe:#96c7df;--ff:#b3d6e8;--fg:#b6d7e8;--fh:#d4e6f1;--fi:#deebf2;--fj:#f3f5f6;--fk:#f9eee7;--fl:#fce0d0;--fm:#f9c4a9;--fn:#f8bda1;--fo:#eb9172;--fp:#f09c7b;--fq:#bb2a34;--fr:#87beda;--fs:#6eaed2;--ft:#9bc9e0;--fu:#93c6de;--fv:#bbdaea;--fw:#c2ddec;--fx:#deebf2;--fy:#eaf1f5;--fz:#f8f2ef;--g0:#fbe4d6;--g1:#fddcc9;--g2:#f7b596;--g3:#f7b99c;--g4:#c6413e;--g5:#4f9bc7;--g6:#3885bc;--g7:#65a9cf;--g8:#4997c5;--g9:#87beda;--ga:#84bcd9;--gb:#b8d8e9;--gc:#c2ddec;--gd:#e0ecf3;--ge:#edf2f5;--gf:#f9f0eb;--gg:#fce2d2;--gh:#fddcc9;--gi:#d25849;--gj:#3885bc;--gk:#246aae;--gl:#4291c2;--gm:#337eb8;--gn:#62a7ce;--go:#529dc8;--gp:#93c6de;--gq:#98c8e0;--gr:#c7e0ed;--gs:#d5e7f1;--gt:#edf2f5;--gu:#f8f3f0;--gv:#faeae1;--gw:#e27b62;--gx:#bbdaea;--gy:#a9d1e5;--gz:#bddbea;--h0:#a9d1e5;--h1:#bddbea;--h2:#aed3e6;--h3:#c7e0ed;--h4:#cce2ef;--h5:#e7f0f4;--h6:#fae7dc;--h7:#f8bfa4;--h8:#d05548;--h9:#cc4c44;--ha:#930e26;--hb:#bbdaea;--hc:#a9d1e5;--hd:#bddbea;--he:#a9d1e5;--hf:#bddbea;--hg:#b1d5e7;--hh:#cae1ee;--hi:#d1e5f0;--hj:#edf2f5;--hk:#fcdecd;--hl:#f6b191;--hm:#ce4f45;--hn:#ce4f45;--ho:#9c1127;--hp:#bbdaea;--hq:#a9d1e5;--hr:#bddbea;--hs:#a9d1e5;--ht:#c0dceb;--hu:#b1d5e7;--hv:#cce2ef;--hw:#d2e6f0;--hx:#f2f5f6;--hy:#fddbc7;--hz:#f6b191;--i0:#ce4f45;--i1:#d35a4a;--i2:#b1182b;--i3:#bbdaea;--i4:#a9d1e5;--i5:#bddbea;--i6:#acd2e5;--i7:#c0dceb;--i8:#b3d6e8;--i9:#d1e5f0;--ia:#d8e9f1;--ib:#f6f7f7;--ic:#fddbc7;--id:#f7b596;--ie:#dd7059;--if:#e37e64;--ig:#cb4942;--ih:#bbdaea;--ii:#a7d0e4;--ij:#bbdaea;--ik:#a9d1e5;--il:#bddbea;--im:#b3d6e8;--in:#d1e5f0;--io:#dbeaf2;--ip:#f7f6f6;--iq:#fddbc7;--ir:#f9c2a7;--is:#ea8e70;--it:#f19e7d;--iu:#df765e;--iv:#b1d5e7;--iw:#9dcbe1;--ix:#b3d6e8;--iy:#a0cce2;--iz:#b6d7e8;--j0:#a9d1e5;--j1:#cae1ee;--j2:#d4e6f1;--j3:#eff3f5;--j4:#fae8de;--j5:#fcdecd;--j6:#f9c2a7;--j7:#facab1;--j8:#f7b99c;--j9:#a9d1e5;--ja:#93c6de;--jb:#acd2e5;--jc:#96c7df;--jd:#aed3e6;--je:#a0cce2;--jf:#c0dceb;--jg:#c7e0ed;--jh:#e7f0f4;--ji:#f8f2ef;--jj:#fae9df;--jk:#fdddcb;--jl:#fcdecd;--jm:#fdd9c4;--jn:#a0cce2;--jo:#84bcd9;--jp:#a0cce2;--jq:#87beda;--jr:#a5cee3;--js:#90c4dd;--jt:#b1d5e7;--ju:#b3d6e8;--jv:#dae9f2;--jw:#e9f0f4;--jx:#f7f5f4;--jy:#f9efe9;--jz:#f9ede5;--k0:#fae9df;--k1:#90c4dd;--k2:#6eaed2;--k3:#93c6de;--k4:#71b0d3;--k5:#96c7df;--k6:#7bb6d6;--k7:#a2cde3;--k8:#a2cde3;--k9:#d1e5f0;--ka:#ddebf2;--kb:#eff3f5;--kc:#f6f7f7;--kd:#f8f4f2;--ke:#f8f2ef;--kf:#78b4d5;--kg:#4f9bc7;--kh:#7bb6d6;--ki:#529dc8;--kj:#7bb6d6;--kk:#5ca3cb;--kl:#8dc2dc;--km:#8ac0db;--kn:#c0dceb;--ko:#d1e5f0;--kp:#e7f0f4;--kq:#ecf2f5;--kr:#f3f5f6;--ks:#f3f5f6;--kt:#3f8ec0;--ku:#276eb0;--kv:#3f8ec0;--kw:#2870b1;--kx:#408fc1;--ky:#2c75b4;--kz:#529dc8;--l0:#4997c5;--l1:#9bc9e0;--l2:#acd2e5;--l3:#d5e7f1;--l4:#d8e9f1;--l5:#deebf2;--l6:#ddebf2;--l7:#3480b9;--l8:#1b5a9c;--l9:#3480b9;--la:#1b5a9c;--lb:#3681ba;--lc:#2065ab;--ld:#408fc1;--le:#3783bb;--lf:#7bb6d6;--lg:#81bad8;--lh:#acd2e5;--li:#9dcbe1;--lj:#2c75b4;--lk:#144e8a;--ll:#2c75b4;--lm:#15508d;--ln:#327cb7;--lo:#195696;--lp:#327cb7;--lq:#195696;--lr:#3f8ec0;--ls:#246aae;--lt:#3c8abe;--lu:#2267ac;--lv:#fbe5d8;--lw:#90c4dd;--lx:#65a9cf;--ly:#84bcd9;--lz:#59a1ca;--m0:#84bcd9;--m1:#5ca3cb;--m2:#8ac0db;--m3:#6bacd1;--m4:#98c8e0;--m5:#9dcbe1;--m6:#d8e9f1;--m7:#faeae1;--m8:#f9c6ac;--m9:#d35a4a;--ma:#a9d1e5;--mb:#93c6de;--mc:#a9d1e5;--md:#93c6de;--me:#a9d1e5;--mf:#93c6de;--mg:#acd2e5;--mh:#9bc9e0;--mi:#bbdaea;--mj:#c7e0ed;--mk:#edf2f5;--ml:#fcd3bc;--mm:#eb9172;--mn:#ab162a;--mo:#bbdaea;--mp:#a7d0e4;--mq:#bbdaea;--mr:#a7d0e4;--ms:#bbdaea;--mt:#a9d1e5;--mu:#bddbea;--mv:#b1d5e7;--mw:#cce2ef;--mx:#d4e6f1;--my:#f5f6f7;--mz:#fbd0b9;--n0:#eb9172;--n1:#a81529;--n2:#bbdaea;--n3:#a9d1e5;--n4:#bbdaea;--n5:#a9d1e5;--n6:#bddbea;--n7:#acd2e5;--n8:#c0dceb;--n9:#b6d7e8;--na:#d2e6f0;--nb:#e0ecf3;--nc:#f9f0eb;--nd:#f5ac8b;--ne:#df765e;--nf:#9c1127;--ng:#bbdaea;--nh:#a9d1e5;--ni:#bbdaea;--nj:#a9d1e5;--nk:#bddbea;--nl:#acd2e5;--nm:#c2ddec;--nn:#bbdaea;--no:#d8e9f1;--np:#edf2f5;--nq:#fbe3d4;--nr:#e98b6e;--ns:#d7634f;--nt:#960f27;--nu:#276eb0;--nv:#2a71b2;--nw:#569fc9;--nx:#4c99c6;--ny:#7bb6d6;--nz:#84bcd9;--o0:#9bc9e0;--o1:#c5dfec;--o2:#98c8e0;--o3:#327cb7;--o4:#3b88be;--o5:#59a1ca;--o6:#2267ac;--o7:#2870b1;--o8:#3a87bd;--o9:#4f9bc7;--oa:#2870b1;--ob:#4393c3;--oc:#68abd0;--od:#a7d0e4;--oe:#cae1ee;--of:#eff3f5;--og:#84bcd9;--oh:#3885bc;--oi:#4f9bc7;--oj:#2a71b2;--ok:#3783bb;--ol:#5fa5cd;--om:#3a87bd;--on:#337eb8;--oo:#59a1ca;--op:#a2cde3;--oq:#f7f5f4;--or:#3b88be;--os:#2e77b5;--ot:#3681ba;--ou:#185493;--ov:#276eb0;--ow:#3c8abe;--ox:#185493;--oy:#195696;--oz:#3480b9;--p0:#7bb6d6;--p1:#eaf1f5;--p2:#569fc9;--p3:#1d5fa2;--p4:#2e77b5;--p5:#4393c3;--p6:#144e8a;--p7:#185493;--p8:#266caf;--p9:#3885bc;--pa:#15508d;--pb:#1b5a9c;--pc:#2c75b4;--pd:#65a9cf;--pe:#529dc8;--pf:#b3d6e8;--pg:#144e8a;--ph:#15508d;--pi:#1d5fa2;--pj:#1c5c9f;--pk:#2369ad;--pl:#307ab6;--pm:#3c8abe"/>
<use href="#A" transform="translate(198.30 402.80)" style="--a0:#2f79b5;--a1:#1a5899;--a2:#3783bb;--a3:#266caf;--a4:#4997c5;--a5:#3c8abe;--a6:#7bb6d6;--a7:#78b4d5;--a8:#b1d5e7;--a9:#bbdaea;--aa:#dbeaf2;--ab:#e4eef4;--ac:#f2f5f6;--ad:#f5a886;--ae:#307ab6;--af:#1b5a9c;--ag:#3885bc;--ah:#266caf;--ai:#4695c4;--aj:#3783bb;--ak:#6bacd1;--al:#5ca3cb;--am:#98c8e0;--an:#8dc2dc;--ao:#b6d7e8;--ap:#aed3e6;--aq:#cae1ee;--ar:#3783bb;--as:#2065ab;--at:#3b88be;--au:#266caf;--av:#6bacd1;--aw:#3f8ec0;--ax:#6eaed2;--ay:#3f8ec0;--az:#a0cce2;--b0:#78b4d5;--b1:#93c6de;--b2:#f4a683;--b3:#b8d8e9;--b4:#aed3e6;--b5:#c5dfec;--b6:#c5dfec;--b7:#ddebf2;--b8:#e6eff4;--b9:#f8f4f2;--ba:#f9eee7;--bb:#fce2d2;--bc:#fbccb4;--bd:#fac8af;--be:#ee9677;--bf:#f2a17f;--bg:#c6413e;--bh:#c5dfec;--bi:#c7e0ed;--bj:#deebf2;--bk:#e9f0f4;--bl:#f8f4f2;--bm:#fbe5d8;--bn:#fddbc7;--bo:#f6b191;--bp:#f5aa89;--bq:#da6853;--br:#e17860;--bs:#bf3338;--bt:#ce4f45;--bu:#991027;--bv:#cfe4ef;--bw:#d2e6f0;--bx:#e4eef4;--by:#f3f5f6;--bz:#f9eee7;--c0:#fddbc7;--c1:#facab1;--c2:#ef9979;--c3:#ee9677;--c4:#d05548;--c5:#d7634f;--c6:#b41c2d;--c7:#c6413e;--c8:#900d26;--c9:#cce2ef;--ca:#d1e5f0;--cb:#e6eff4;--cc:#f2f5f6;--cd:#f9eee7;--ce:#fdd9c4;--cf:#facab1;--cg:#ee9677;--ch:#ec9374;--ci:#ce4f45;--cj:#d7634f;--ck:#b41c2d;--cl:#c53e3d;--cm:#900d26;--cn:#cae1ee;--co:#d1e5f0;--cp:#e4eef4;--cq:#f3f5f6;--cr:#f9ede5;--cs:#fcd7c2;--ct:#fac8af;--cu:#ee9677;--cv:#ec9374;--cw:#ce4f45;--cx:#d6604d;--cy:#b3192c;--cz:#c53e3d;--d0:#900d26;--d1:#c5dfec;--d2:#cae1ee;--d3:#e1edf3;--d4:#f0f4f6;--d5:#f9f0eb;--d6:#fddbc7;--d7:#facab1;--d8:#ee9677;--d9:#ee9677;--da:#ce4f45;--db:#d7634f;--dc:#b41c2d;--dd:#c53e3d;--de:#900d26;--df:#c0dceb;--dg:#c5dfec;--dh:#deebf2;--di:#eaf1f5;--dj:#f9f0eb;--dk:#fcdfcf;--dl:#fbceb7;--dm:#f19e7d;--dn:#ef9979;--do:#d05548;--dp:#d86551;--dq:#b41c2d;--dr:#c6413e;--ds:#900d26;--dt:#bbdaea;--du:#bbdaea;--dv:#dae9f2;--dw:#e7f0f4;--dx:#f8f4f2;--dy:#fbe3d4;--dz:#fcd7c2;--e0:#f5a886;--e1:#f2a17f;--e2:#d6604d;--e3:#db6b55;--e4:#b82531;--e5:#c94741;--e6:#930e26;--e7:#b3d6e8;--e8:#b3d6e8;--e9:#d4e6f1;--ea:#deebf2;--eb:#f2f5f6;--ec:#faeae1;--ed:#fcdecd;--ee:#f7b799;--ef:#f6af8e;--eg:#de735c;--eh:#e17860;--ei:#c2383a;--ej:#cf5246;--ek:#9c1127;--el:#aed3e6;--em:#a9d1e5;--en:#cfe4ef;--eo:#d7e8f1;--ep:#ecf2f5;--eq:#f8f1ed;--er:#fbe5d8;--es:#f9c6ac;--et:#f8bb9e;--eu:#e58368;--ev:#e6866a;--ew:#c94741;--ex:#d6604d;--ey:#a21328;--ez:#a5cee3;--f0:#9dcbe1;--f1:#c0dceb;--f2:#c5dfec;--f3:#ddebf2;--f4:#ecf2f5;--f5:#f8f1ed;--f6:#fcdfcf;--f7:#fcd5bf;--f8:#f5aa89;--f9:#f5a886;--fa:#dd7059;--fb:#e37e64;--fc:#b3192c;--fd:#98c8e0;--fe:#8ac0db;--ff:#acd2e5;--fg:#aed3e6;--fh:#cfe4ef;--fi:#dae9f2;--fj:#f0f4f6;--fk:#f9f0eb;--fl:#fce2d2;--fm:#f9c6ac;--fn:#f8bfa4;--fo:#ec9374;--fp:#f09c7b;--fq:#bb2a34;--fr:#7eb8d7;--fs:#65a9cf;--ft:#96c7df;--fu:#8ac0db;--fv:#b3d6e8;--fw:#bddbea;--fx:#dbeaf2;--fy:#e7f0f4;--fz:#f8f3f0;--g0:#fbe5d8;--g1:#fddcc9;--g2:#f7b799;--g3:#f8bb9e;--g4:#c6413e;--g5:#4c99c6;--g6:#3783bb;--g7:#62a7ce;--g8:#4695c4;--g9:#87beda;--ga:#81bad8;--gb:#b6d7e8;--gc:#c0dceb;--gd:#deebf2;--ge:#ecf2f5;--gf:#f9f0eb;--gg:#fce2d2;--gh:#fddcc9;--gi:#d25849;--gj:#3885bc;--gk:#246aae;--gl:#4291c2;--gm:#337eb8;--gn:#62a7ce;--go:#529dc8;--gp:#93c6de;--gq:#98c8e0;--gr:#c7e0ed;--gs:#d5e7f1;--gt:#edf2f5;--gu:#f8f3f0;--gv:#faeae1;--gw:#e27b62;--gx:#b1d5e7;--gy:#9bc9e0;--gz:#b1d5e7;--h0:#9dcbe1;--h1:#b1d5e7;--h2:#a2cde3;--h3:#bddbea;--h4:#bddbea;--h5:#e1edf3;--h6:#f9ebe3;--h7:#f9c4a9;--h8:#d35a4a;--h9:#cc4c44;--ha:#930e26;--hb:#b1d5e7;--hc:#9bc9e0;--hd:#b1d5e7;--he:#9dcbe1;--hf:#b3d6e8;--hg:#a2cde3;--hh:#c0dceb;--hi:#c5dfec;--hj:#e7f0f4;--hk:#fce2d2;--hl:#f7b596;--hm:#cf5246;--hn:#cf5246;--ho:#9c1127;--hp:#b1d5e7;--hq:#9bc9e0;--hr:#b1d5e7;--hs:#9dcbe1;--ht:#b3d6e8;--hu:#a5cee3;--hv:#c2ddec;--hw:#c7e0ed;--hx:#edf2f5;--hy:#fcdecd;--hz:#f6b394;--i0:#cf5246;--i1:#d35a4a;--i2:#b1182b;--i3:#b1d5e7;--i4:#9bc9e0;--i5:#b1d5e7;--i6:#9dcbe1;--i7:#b3d6e8;--i8:#a5cee3;--i9:#c5dfec;--ia:#d1e5f0;--ib:#f2f5f6;--ic:#fdddcb;--id:#f7b799;--ie:#de735c;--if:#e37e64;--ig:#cb4942;--ih:#aed3e6;--ii:#98c8e0;--ij:#aed3e6;--ik:#9bc9e0;--il:#b3d6e8;--im:#a5cee3;--in:#c5dfec;--io:#d4e6f1;--ip:#f3f5f6;--iq:#fdddcb;--ir:#f9c4a9;--is:#eb9172;--it:#f19e7d;--iu:#df765e;--iv:#a7d0e4;--iw:#90c4dd;--ix:#a7d0e4;--iy:#93c6de;--iz:#acd2e5;--j0:#9dcbe1;--j1:#c0dceb;--j2:#cce2ef;--j3:#ecf2f5;--j4:#faeae1;--j5:#fcdecd;--j6:#f9c4a9;--j7:#facab1;--j8:#f7b99c;--j9:#a0cce2;--ja:#84bcd9;--jb:#a0cce2;--jc:#87beda;--jd:#a5cee3;--je:#93c6de;--jf:#b6d7e8;--jg:#bddbea;--jh:#e4eef4;--ji:#f8f4f2;--jj:#faeae1;--jk:#fdddcb;--jl:#fcdecd;--jm:#fdd9c4;--jn:#96c7df;--jo:#75b2d4;--jp:#96c7df;--jq:#78b4d5;--jr:#9bc9e0;--js:#84bcd9;--jt:#a9d1e5;--ju:#acd2e5;--jv:#d7e8f1;--jw:#e7f0f4;--jx:#f7f5f4;--jy:#f9efe9;--jz:#f9ede5;--k0:#fae9df;--k1:#84bcd9;--k2:#62a7ce;--k3:#87beda;--k4:#65a9cf;--k5:#8ac0db;--k6:#6eaed2;--k7:#9bc9e0;--k8:#9bc9e0;--k9:#cce2ef;--ka:#dbeaf2;--kb:#eff3f5;--kc:#f6f7f7;--kd:#f8f4f2;--ke:#f8f2ef;--kf:#6eaed2;--kg:#4695c4;--kh:#71b0d3;--ki:#4997c5;--kj:#71b0d3;--kk:#529dc8;--kl:#84bcd9;--km:#81bad8;--kn:#bddbea;--ko:#cfe4ef;--kp:#e6eff4;--kq:#ecf2f5;--kr:#f2f5f6;--ks:#f3f5f6;--kt:#3e8cbf;--ku:#266caf;--kv:#3f8ec0;--kw:#276eb0;--kx:#408fc1;--ky:#2c75b4;--kz:#529dc8;--l0:#4695c4;--l1:#9bc9e0;--l2:#acd2e5;--l3:#d5e7f1;--l4:#d8e9f1;--l5:#deebf2;--l6:#ddebf2;--l7:#3480b9;--l8:#1b5a9c;--l9:#3480b9;--la:#1b5a9c;--lb:#3681ba;--lc:#2065ab;--ld:#408fc1;--le:#3783bb;--lf:#7bb6d6;--lg:#81bad8;--lh:#acd2e5;--li:#9dcbe1;--lj:#2c75b4;--lk:#144e8a;--ll:#2c75b4;--lm:#15508d;--ln:#327cb7;--lo:#195696;--lp:#327cb7;--lq:#195696;--lr:#3e8cbf;--ls:#2369ad;--lt:#3c8abe;--lu:#2065ab;--lv:#fbe5d8;--lw:#87beda;--lx:#59a1ca;--ly:#7bb6d6;--lz:#4c99c6;--m0:#7bb6d6;--m1:#4f9bc7;--m2:#81bad8;--m3:#5fa5cd;--m4:#90c4dd;--m5:#96c7df;--m6:#d5e7f1;--m7:#f9ede5;--m8:#fac8af;--m9:#d55d4c;--ma:#a0cce2;--mb:#81bad8;--mc:#a0cce2;--md:#84bcd9;--me:#a0cce2;--mf:#84bcd9;--mg:#a2cde3;--mh:#8dc2dc;--mi:#b1d5e7;--mj:#bbdaea;--mk:#e9f0f4;--ml:#fdd9c4;--mm:#ec9374;--mn:#ab162a;--mo:#aed3e6;--mp:#9bc9e0;--mq:#aed3e6;--mr:#9bc9e0;--ms:#aed3e6;--mt:#9bc9e0;--mu:#b1d5e7;--mv:#a2cde3;--mw:#c0dceb;--mx:#cae1ee;--my:#f0f4f6;--mz:#fcd7c2;--n0:#ee9677;--n1:#a81529;--n2:#b1d5e7;--n3:#9bc9e0;--n4:#b1d5e7;--n5:#9bc9e0;--n6:#b1d5e7;--n7:#9dcbe1;--n8:#b3d6e8;--n9:#a9d1e5;--na:#cae1ee;--nb:#d8e9f1;--nc:#f8f3f0;--nd:#f6b191;--ne:#e17860;--nf:#9c1127;--ng:#b1d5e7;--nh:#9bc9e0;--ni:#b1d5e7;--nj:#9bc9e0;--nk:#b1d5e7;--nl:#9dcbe1;--nm:#b6d7e8;--nn:#acd2e5;--no:#d2e6f0;--np:#e7f0f4;--nq:#fbe5d8;--nr:#eb9172;--ns:#d86551;--nt:#960f27;--nu:#266caf;--nv:#2a71b2;--nw:#4f9bc7;--nx:#4997c5;--ny:#78b4d5;--nz:#7eb8d7;--o0:#98c8e0;--o1:#c2ddec;--o2:#98c8e0;--o3:#327cb7;--o4:#3b88be;--o5:#59a1ca;--o6:#2267ac;--o7:#2870b1;--o8:#3a87bd;--o9:#4f9bc7;--oa:#2870b1;--ob:#4291c2;--oc:#65a9cf;--od:#a7d0e4;--oe:#c7e0ed;--of:#edf2f5;--og:#84bcd9;--oh:#3885bc;--oi:#4f9bc7;--oj:#2a71b2;--ok:#3783bb;--ol:#5fa5cd;--om:#3885bc;--on:#337eb8;--oo:#59a1ca;--op:#a2cde3;--oq:#f7f5f4;--or:#3b88be;--os:#2e77b5;--ot:#3681ba;--ou:#185493;--ov:#276eb0;--ow:#3c8abe;--ox:#185493;--oy:#195696;--oz:#3480b9;--p0:#7bb6d6;--p1:#eaf1f5;--p2:#569fc9;--p3:#1d5fa2;--p4:#2e77b5;--p5:#4393c3;--p6:#144e8a;--p7:#185493;--p8:#266caf;--p9:#3885bc;--pa:#15508d;--pb:#1b5a9c;--pc:#2c75b4;--pd:#65a9cf;--pe:#4f9bc7;--pf:#b3d6e8;--pg:#144e8a;--ph:#15508d;--pi:#1d5fa2;--pj:#1c5c9f;--pk:#2267ac;--pl:#2f79b5;--pm:#3b88be"/>
<defs><linearGradient id="cb" x1="0" y1="0" x2="0" y2="1"><stop offset="0.000" stop-color="#67001f"/><stop offset="0.050" stop-color="#8a0b25"/><stop offset="0.100" stop-color="#b1182b"/><stop offset="0.150" stop-color="#c43b3c"/><stop offset="0.200" stop-color="#d6604d"/><stop offset="0.250" stop-color="#e48066"/><stop offset="0.300" stop-color="#f3a481"/><stop offset="0.350" stop-color="#f8bfa4"/><stop offset="0.400" stop-color="#fddbc7"/><stop offset="0.450" stop-color="#fae9df"/><stop offset="0.500" stop-color="#f7f6f6"/><stop offset="0.550" stop-color="#e4eef4"/><stop offset="0.600" stop-color="#d1e5f0"/><stop offset="0.650" stop-color="#b1d5e7"/><stop offset="0.700" stop-color="#90c4dd"/><stop offset="0.750" stop-color="#6bacd1"/><stop offset="0.800" stop-color="#4393c3"/><stop offset="0.850" stop-color="#327cb7"/><stop offset="0.900" stop-color="#2065ab"/><stop offset="0.950" stop-color="#124984"/><stop offset="1.000" stop-color="#053061"/></linearGradient><radialGradient id="sp"><stop offset="0" stop-color="#7a0822"/><stop offset=".35" stop-color="#a5162b"/><stop offset=".6" stop-color="#e58a6c" stop-opacity=".9"/><stop offset="1" stop-color="#f7f7f7" stop-opacity="0"/></radialGradient><radialGradient id="wh"><stop offset="0" stop-color="#f7f7f7"/><stop offset=".5" stop-color="#e8f0f5" stop-opacity=".8"/><stop offset="1" stop-color="#d1e5f0" stop-opacity="0"/></radialGradient></defs>
<rect x="298" y="13" width="5.1" height="92.9" fill="url(#cb)"/>
<path class="cbt" d="M303.1 105.90h.8"/>
<path class="cbt" d="M303.1 87.32h.8"/>
<path class="cbt" d="M303.1 68.74h.8"/>
<path class="cbt" d="M303.1 50.16h.8"/>
<path class="cbt" d="M303.1 31.58h.8"/>
<path class="cbt" d="M303.1 13.00h.8"/>
<g class="cbl"><text x="305.8" y="106.95">0.0</text><text x="305.8" y="88.37">0.2</text><text x="305.8" y="69.79">0.4</text><text x="305.8" y="51.21">0.6</text><text x="305.8" y="32.63">0.8</text><text x="305.8" y="14.05">1.0</text></g>
<rect x="298" y="113.1" width="5.1" height="92.9" fill="url(#cb)"/>
<path class="cbt" d="M303.1 206.00h.8"/>
<path class="cbt" d="M303.1 187.42h.8"/>
<path class="cbt" d="M303.1 168.84h.8"/>
<path class="cbt" d="M303.1 150.26h.8"/>
<path class="cbt" d="M303.1 131.68h.8"/>
<path class="cbt" d="M303.1 113.10h.8"/>
<g class="cbl"><text x="305.8" y="207.05">0.0</text><text x="305.8" y="188.47">0.2</text><text x="305.8" y="169.89">0.4</text><text x="305.8" y="151.31">0.6</text><text x="305.8" y="132.73">0.8</text><text x="305.8" y="114.15">1.0</text></g>
<rect x="298" y="213.9" width="5.1" height="92.9" fill="url(#cb)"/>
<path class="cbt" d="M303.1 306.80h.8"/>
<path class="cbt" d="M303.1 288.22h.8"/>
<path class="cbt" d="M303.1 269.64h.8"/>
<path class="cbt" d="M303.1 251.06h.8"/>
<path class="cbt" d="M303.1 232.48h.8"/>
<path class="cbt" d="M303.1 213.90h.8"/>
<g class="cbl"><text x="305.8" y="307.85">0.0</text><text x="305.8" y="289.27">0.2</text><text x="305.8" y="270.69">0.4</text><text x="305.8" y="252.11">0.6</text><text x="305.8" y="233.53">0.8</text><text x="305.8" y="214.95">1.0</text></g>
<rect x="298" y="314.7" width="5.1" height="92.9" fill="url(#cb)"/>
<path class="cbt" d="M303.1 407.60h.8"/>
<path class="cbt" d="M303.1 389.02h.8"/>
<path class="cbt" d="M303.1 370.44h.8"/>
<path class="cbt" d="M303.1 351.86h.8"/>
<path class="cbt" d="M303.1 333.28h.8"/>
<path class="cbt" d="M303.1 314.70h.8"/>
<g class="cbl"><text x="305.8" y="408.65">0.0</text><text x="305.8" y="390.07">0.2</text><text x="305.8" y="371.49">0.4</text><text x="305.8" y="352.91">0.6</text><text x="305.8" y="334.33">0.8</text><text x="305.8" y="315.75">1.0</text></g>
<rect x="298" y="416.1" width="5.1" height="92.9" fill="url(#cb)"/>
<path class="cbt" d="M303.1 509.00h.8"/>
<path class="cbt" d="M303.1 490.42h.8"/>
<path class="cbt" d="M303.1 471.84h.8"/>
<path class="cbt" d="M303.1 453.26h.8"/>
<path class="cbt" d="M303.1 434.68h.8"/>
<path class="cbt" d="M303.1 416.10h.8"/>
<g class="cbl"><text x="305.8" y="510.05">0.0</text><text x="305.8" y="491.47">0.2</text><text x="305.8" y="472.89">0.4</text><text x="305.8" y="454.31">0.6</text><text x="305.8" y="435.73">0.8</text><text x="305.8" y="417.15">1.0</text></g>
<text class="cblab" transform="translate(314.0 260.5) rotate(90)">alignment</text>
<text class="ttl" x="41.8" y="9.6">θ<tspan class="sub" dy="1.1">1,2</tspan></text>
<text class="ttl" x="140.9" y="9.6">θ<tspan class="sub" dy="1.1">1,3</tspan></text>
<text class="ttl" x="237.9" y="9.6">θ<tspan class="sub" dy="1.1">2,3</tspan></text>
<text class="rl" x="3.6" y="16.6">δt=5</text>
<text class="rl" x="3.6" y="120">δt=25</text>
<text class="rl" x="3.6" y="220">δt=50</text>
<text class="rl" x="3.6" y="320">δt=100</text>
<text class="rl" x="3.6" y="420">δt=200</text>
</svg>
</body></html>
